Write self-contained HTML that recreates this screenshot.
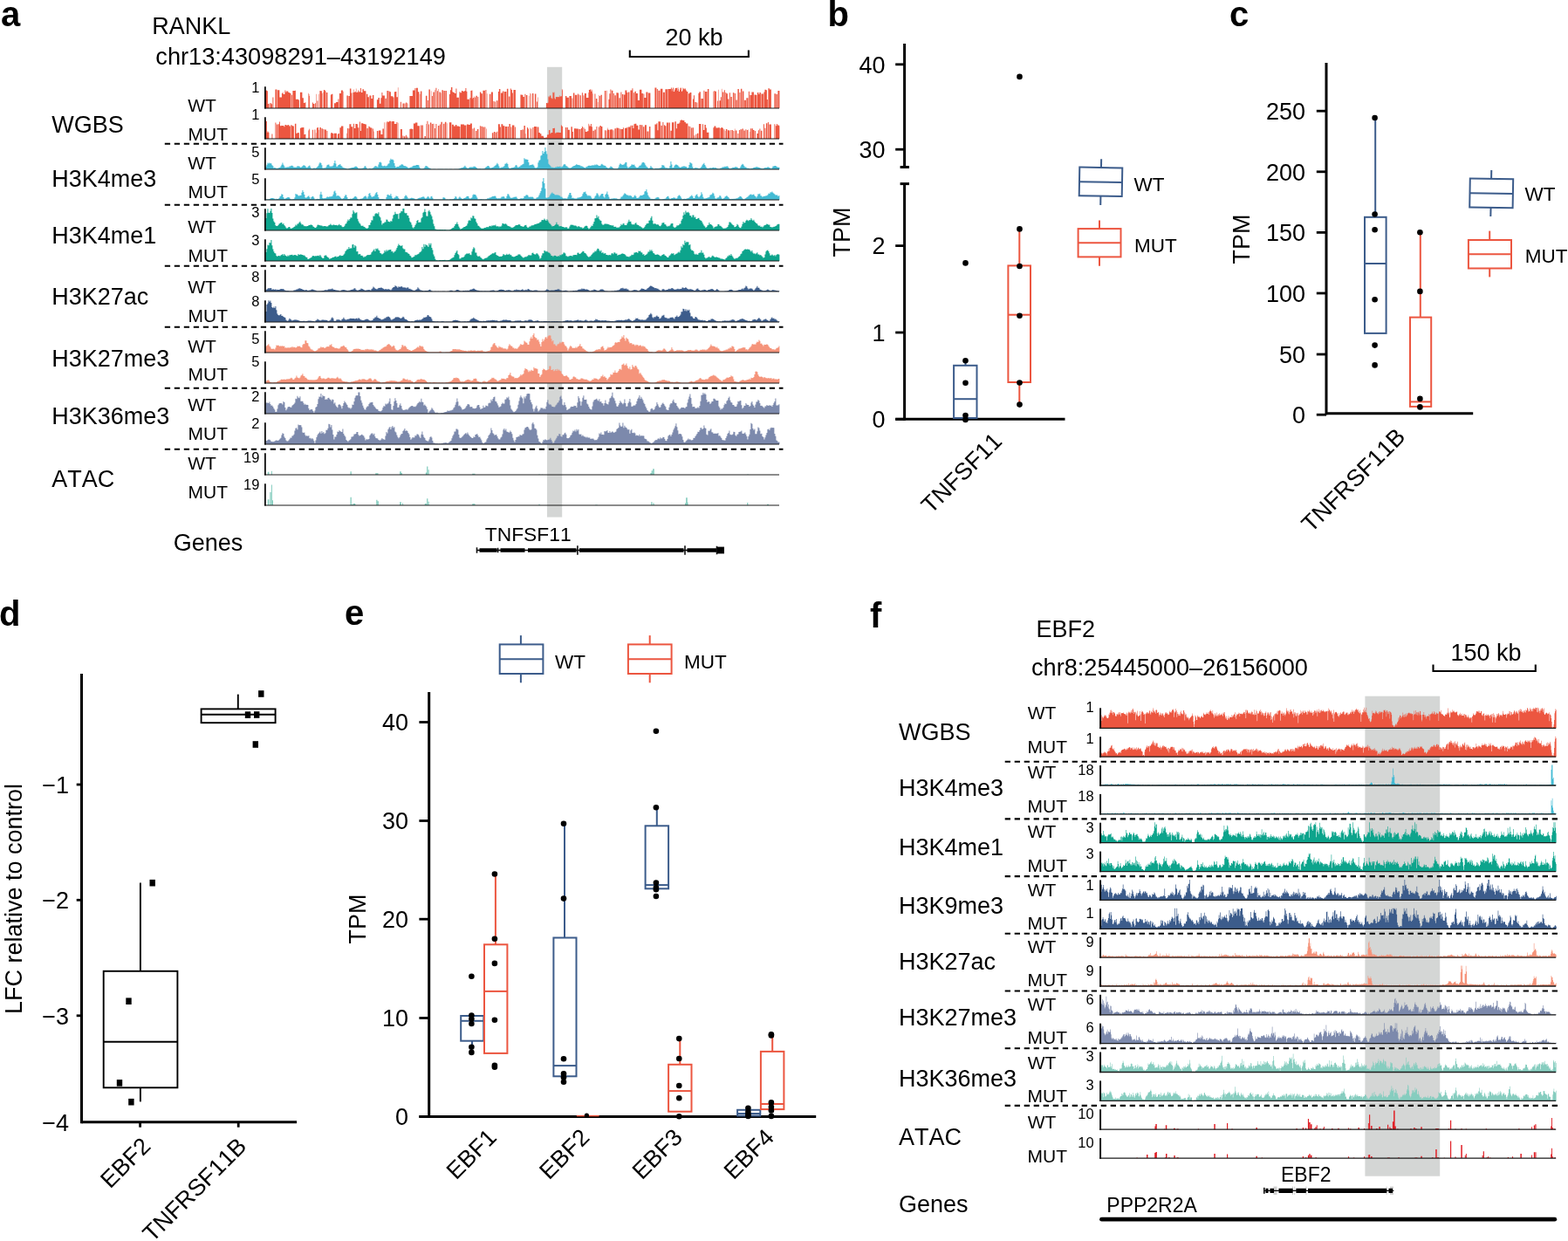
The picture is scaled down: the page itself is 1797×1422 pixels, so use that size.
<!DOCTYPE html>
<html lang="en"><head><meta charset="utf-8"><title>Figure</title>
<style>html,body{margin:0;padding:0;background:#fff}svg{display:block}text{fill:#000;font-kerning:none}</style>
</head><body>
<svg width="1797" height="1422" viewBox="0 0 1797 1422" font-family='"Liberation Sans", sans-serif'>
<text x="1" y="30" font-size="40" font-weight="bold">a</text>
<text x="948.5" y="30" font-size="40" font-weight="bold">b</text>
<text x="1409" y="30.3" font-size="40" font-weight="bold">c</text>
<text x="-1" y="717" font-size="40" font-weight="bold">d</text>
<text x="395" y="716" font-size="40" font-weight="bold">e</text>
<text x="997" y="719" font-size="40" font-weight="bold">f</text>
<rect x="627" y="76.8" width="17.2" height="515.8" fill="#D4D6D5"/>
<text x="174.3" y="39.4" font-size="27">RANKL</text>
<text x="178.3" y="73.6" font-size="27.2">chr13:43098291–43192149</text>
<text x="795.5" y="52" font-size="27" text-anchor="middle">20 kb</text>
<path d="M721.8,57.5V65H857.9V57.5" fill="none" stroke="#000" stroke-width="2.1"/>
<text x="59.2" y="152.3" font-size="27">WGBS</text>
<text x="59.2" y="213.8" font-size="27">H3K4me3</text>
<text x="59.2" y="278.9" font-size="27">H3K4me1</text>
<text x="59.2" y="349.4" font-size="27">H3K27ac</text>
<text x="59.2" y="419.5" font-size="27">H3K27me3</text>
<text x="59.2" y="486.3" font-size="27">H3K36me3</text>
<text x="59.2" y="557.8" font-size="27">ATAC</text>
<text x="198.8" y="631" font-size="27">Genes</text>
<text x="215.2" y="128.3" font-size="21">WT</text>
<text x="215.2" y="194" font-size="21">WT</text>
<text x="215.2" y="267" font-size="21">WT</text>
<text x="215.2" y="335.9" font-size="21">WT</text>
<text x="215.2" y="403.5" font-size="21">WT</text>
<text x="215.2" y="471" font-size="21">WT</text>
<text x="215.2" y="537.5" font-size="21">WT</text>
<text x="215.6" y="161.3" font-size="21">MUT</text>
<text x="215.6" y="227" font-size="21">MUT</text>
<text x="215.6" y="299.7" font-size="21">MUT</text>
<text x="215.6" y="368.5" font-size="21">MUT</text>
<text x="215.6" y="436.4" font-size="21">MUT</text>
<text x="215.6" y="504.2" font-size="21">MUT</text>
<text x="215.6" y="570.7" font-size="21">MUT</text>
<text x="297.4" y="105.8" font-size="16.5" text-anchor="end">1</text>
<text x="297.4" y="136.8" font-size="16.5" text-anchor="end">1</text>
<text x="297.4" y="180.2" font-size="16.5" text-anchor="end">5</text>
<text x="297.4" y="211" font-size="16.5" text-anchor="end">5</text>
<text x="297.4" y="249" font-size="16.5" text-anchor="end">3</text>
<text x="297.4" y="280.5" font-size="16.5" text-anchor="end">3</text>
<text x="297.4" y="323" font-size="16.5" text-anchor="end">8</text>
<text x="297.4" y="350.9" font-size="16.5" text-anchor="end">8</text>
<text x="297.4" y="393.5" font-size="16.5" text-anchor="end">5</text>
<text x="297.4" y="420.4" font-size="16.5" text-anchor="end">5</text>
<text x="297.4" y="459.6" font-size="16.5" text-anchor="end">2</text>
<text x="297.4" y="490.5" font-size="16.5" text-anchor="end">2</text>
<text x="297.4" y="529.5" font-size="16.5" text-anchor="end">19</text>
<text x="297.4" y="560.8" font-size="16.5" text-anchor="end">19</text>
<line x1="188.8" y1="164.8" x2="897.5" y2="164.8" stroke="#000" stroke-width="2.1" stroke-dasharray="6.3 4.7"/>
<line x1="188.8" y1="234.8" x2="897.5" y2="234.8" stroke="#000" stroke-width="2.1" stroke-dasharray="6.3 4.7"/>
<line x1="188.8" y1="304.8" x2="897.5" y2="304.8" stroke="#000" stroke-width="2.1" stroke-dasharray="6.3 4.7"/>
<line x1="188.8" y1="374.8" x2="897.5" y2="374.8" stroke="#000" stroke-width="2.1" stroke-dasharray="6.3 4.7"/>
<line x1="188.8" y1="444.8" x2="897.5" y2="444.8" stroke="#000" stroke-width="2.1" stroke-dasharray="6.3 4.7"/>
<line x1="188.8" y1="514.8" x2="897.5" y2="514.8" stroke="#000" stroke-width="2.1" stroke-dasharray="6.3 4.7"/>
<path d="M303.9,124V103.9H304.9V103.6H305.9V104.3H306.9V118.9H307.9V124H308.4V118.5H309.4V124H309.9V118.1H310.9V119.2H311.9V124H312.4V111.5H313.4V124H315.4V102.6H317.4V124H317.9V103.2H320.4V111.5H322.9V106.7H323.9V105.5H324.4V107.6H324.9V107.9H326.4V103.5H327.4V105.6H328.4V104.3H328.9V104.4H330.4V106.1H331.9V106.7H333.4V124H333.9V108.8H334.9V124H335.4V103.9H337.9V103.7H338.9V113.7H340.4V113.8H341.9V114.3H342.4V114.7H342.9V124H343.9V105.7H346.4V112.2H347.9V118.0H348.9V117.3H349.4V117.9H349.9V117.2H350.4V124H353.4V106.7H353.9V107.9H354.4V110.0H354.9V124H357.9V117.5H358.9V119.1H360.4V124H360.9V118.3H361.9V124H362.4V107.8H362.9V124H363.4V115.4H364.4V124H364.9V107.8H365.4V124H366.4V103.9H367.4V104.2H368.9V107.1H369.4V124H369.9V105.5H370.4V124H370.9V103.1H372.4V104.3H373.4V124H373.9V106.1H375.4V124H378.9V108.6H379.9V107.8H381.4V124H382.9V118.3H384.9V117.1H387.4V113.4H388.4V124H388.9V107.1H390.9V103.4H392.9V124H393.4V104.7H393.9V124H397.4V109.4H398.9V124H399.4V110.0H400.9V101.5H402.4V106.5H403.4V124H404.4V106.1H405.4V102.5H405.9V105.6H407.4V104.7H407.9V101.6H408.4V106.1H409.4V105.6H410.4V103.4H411.4V105.4H412.4V105.1H412.9V101.1H413.9V106.0H415.4V102.3H416.9V104.2H419.4V124H419.9V107.8H421.4V111.2H422.9V124H423.4V109.6H425.4V113.0H426.9V109.0H428.4V124H431.9V114.3H433.4V111.9H434.9V118.8H436.4V112.2H437.4V105.9H438.4V109.5H440.9V124H441.4V112.8H442.9V124H443.4V104.0H444.9V124H445.4V104.3H446.4V105.2H447.9V110.2H450.4V111.4H451.4V124H451.9V105.3H452.9V105.0H454.4V111.3H455.9V100.2H456.4V124H458.9V116.8H459.9V124H461.4V118.6H462.9V124H463.4V118.6H464.4V124H464.9V117.6H465.9V124H466.4V117.7H466.9V118.6H467.4V124H469.4V110.1H470.4V110.0H471.4V109.9H472.9V103.5H475.4V101.1H476.4V124H476.9V100.7H478.9V105.2H480.4V124H480.9V107.8H481.4V124H481.9V104.5H483.4V124H487.9V109.8H489.4V124H489.9V115.0H490.9V124H491.4V102.5H492.9V124H493.9V104.3H494.4V124H494.9V110.1H495.9V124H496.4V105.5H497.9V124H498.4V102.9H498.9V124H499.4V100.7H500.4V124H500.9V104.3H501.9V124H502.4V101.9H502.9V124H503.4V105.5H504.9V124H505.4V106.4H505.9V124H506.4V103.2H507.9V124H508.4V104.1H509.9V124H510.4V104.1H511.9V124H514.9V108.0H515.9V103.2H516.9V99.9H518.4V105.2H519.4V105.9H520.9V106.9H522.4V101.4H523.4V111.7H525.9V124H526.4V105.3H527.4V106.3H528.9V104.1H530.4V104.8H532.4V104.0H533.4V100.9H534.4V104.8H535.4V113.8H537.9V124H538.4V112.3H539.4V104.1H540.4V103.6H541.4V113.3H541.9V111.9H542.9V110.3H543.4V124H543.9V111.6H544.9V124H545.4V109.7H546.9V124H547.4V110.9H548.4V124H549.9V105.6H551.4V107.3H552.9V124H553.4V103.7H555.9V124H556.4V102.9H557.4V124H557.9V107.2H558.4V124H560.9V107.7H562.4V124H562.9V105.5H564.9V124H565.4V115.9H566.4V124H566.9V116.5H567.9V124H568.9V115.2H570.4V124H570.9V104.9H571.9V102.0H573.4V124H573.9V106.4H575.9V104.6H577.4V124H577.9V104.9H580.4V124H580.9V101.7H582.4V124H582.9V110.5H584.4V124H584.9V101.6H585.9V103.0H586.9V106.6H587.9V124H588.4V103.1H590.9V124H596.4V108.6H597.9V108.7H599.4V111.1H600.9V124H601.4V107.8H602.4V124H602.9V108.9H604.4V124H605.9V109.8H606.4V124H607.4V106.7H607.9V124H608.4V107.5H608.9V124H609.9V106.9H611.4V124H612.9V107.6H614.4V124H614.9V116.6H615.9V124H616.4V111.5H616.9V124H625.9V117.9H626.4V118.0H626.9V118.4H627.4V117.8H628.4V110.5H629.4V111.6H629.9V109.4H631.4V112.3H632.4V113.3H633.4V105.7H634.4V106.4H634.9V105.6H635.4V112.4H635.9V113.4H636.9V111.1H637.4V110.9H637.9V111.2H638.9V111.1H640.4V111.5H640.9V109.3H641.4V110.8H642.4V110.2H643.9V102.0H644.4V103.3H644.9V124H647.9V109.9H649.4V111.8H651.9V124H652.4V109.9H654.9V124H655.4V112.5H656.4V124H656.9V106.5H658.4V124H658.9V108.8H661.4V124H661.9V107.6H662.9V124H663.4V108.4H664.4V124H664.9V109.2H665.9V124H666.9V106.2H667.9V124H668.4V109.3H669.4V124H669.9V106.9H671.9V111.9H674.4V106.0H674.9V103.0H675.9V102.5H677.4V104.8H678.4V102.8H678.9V124H679.4V107.2H679.9V124H681.4V107.5H682.4V124H682.9V113.1H684.4V124H684.9V117.0H685.4V124H685.9V109.0H686.4V124H686.9V110.0H687.9V124H688.4V108.7H689.9V124H692.9V104.0H694.4V124H695.4V103.7H695.9V124H697.4V113.7H698.4V107.2H699.4V102.4H700.4V124H700.9V103.8H702.4V124H702.9V107.1H703.9V124H704.4V109.2H705.9V124H706.4V106.2H707.9V106.5H708.9V124H709.4V112.2H710.9V124H711.4V105.6H712.4V124H712.9V108.0H714.4V124H714.9V108.5H716.4V103.6H718.4V105.9H719.4V124H719.9V105.6H721.4V124H722.4V103.4H724.4V101.2H725.4V124H725.9V106.3H726.9V124H727.4V104.7H728.9V107.0H730.9V115.0H732.9V102.7H735.4V106.9H736.9V124H737.4V107.6H738.4V111.9H740.4V105.5H742.4V124H742.9V106.5H745.4V124H750.4V100.6H752.4V124H752.9V102.1H753.9V124H754.4V103.8H756.4V124H756.9V101.8H759.4V124H759.9V105.7H761.9V124H762.4V102.2H764.9V124H765.4V102.0H766.9V102.1H768.9V100.5H769.9V104.6H770.4V101.9H770.9V100.6H771.9V105.0H772.9V101.2H773.4V103.3H773.9V100.9H774.9V100.8H776.4V104.0H776.9V100.3H777.4V102.3H777.9V105.1H778.9V102.9H779.4V100.8H780.4V100.4H780.9V104.7H781.9V103.8H782.4V100.5H782.9V101.5H783.9V102.6H784.4V101.6H785.9V103.6H786.9V105.1H788.4V124H788.9V107.3H790.4V106.0H792.4V124H793.9V113.4H794.9V109.2H795.9V124H796.4V117.1H797.9V124H798.4V117.6H799.4V124H800.4V106.8H801.4V105.3H802.9V124H803.4V113.0H805.9V124H806.4V103.8H807.4V124H807.9V105.0H810.4V124H810.9V101.9H812.4V124H817.4V104.7H817.9V124H818.4V104.0H819.4V104.7H820.9V124H821.9V115.4H822.9V124H823.4V102.7H823.9V124H824.4V115.2H825.9V111.3H826.9V101.7H827.4V124H827.9V105.6H829.4V124H829.9V103.2H830.9V124H831.4V105.9H832.4V107.2H833.9V113.6H835.4V124H835.9V106.3H836.9V124H837.4V110.9H838.9V124H839.9V106.3H841.4V124H841.9V107.1H842.9V124H843.4V114.4H844.9V124H845.4V102.0H846.9V124H847.4V106.0H848.4V124H848.9V101.7H850.4V124H850.9V104.6H852.4V124H852.9V114.8H854.9V124H855.4V112.2H857.4V124H857.9V104.8H858.9V124H859.4V109.1H861.4V105.6H863.9V124H864.4V108.5H865.9V108.7H867.4V124H867.9V106.1H869.4V108.0H870.4V106.0H871.9V124H872.4V107.4H874.9V124H875.4V105.6H876.4V102.7H877.9V103.3H878.9V113.9H879.9V124H880.4V101.3H881.9V102.5H883.9V124H887.4V107.2H888.9V124H889.4V107.9H890.9V124H891.4V103.9H893.4V124Z" fill="#EC5640"/>
<line x1="303.09999999999997" y1="124" x2="893.0" y2="124" stroke="#1a1a1a" stroke-width="1.15"/>
<line x1="303.9" y1="99.3" x2="303.9" y2="124.6" stroke="#000" stroke-width="1.7"/>
<path d="M303.9,159V136.9H304.4V138.5H304.9V139.1H305.9V152.1H306.4V150.6H307.4V151.6H307.9V151.9H308.4V159H311.4V153.5H312.4V159H315.4V140.6H316.4V159H316.9V142.5H318.4V159H318.9V142.2H319.9V139.2H320.4V139.7H320.9V144.3H322.4V143.7H322.9V144.0H323.9V144.1H325.4V145.3H326.4V142.9H327.9V143.4H328.9V143.9H329.4V143.1H330.4V143.2H331.4V144.4H332.9V159H333.4V143.1H334.4V144.0H335.4V144.4H336.9V159H337.9V141.8H339.4V152.7H340.9V151.9H342.4V152.6H342.9V159H343.9V146.8H344.9V146.3H346.4V146.1H348.4V154.2H348.9V153.9H349.4V153.7H350.4V159H353.4V149.4H353.9V148.6H354.4V147.6H354.9V159H357.9V148.8H358.9V159H360.4V148.4H361.4V159H361.9V152.3H362.4V159H362.9V146.9H363.4V146.1H364.9V159H365.4V148.8H365.9V159H366.4V146.1H367.9V159H368.4V147.2H369.9V159H370.4V147.9H371.4V159H371.9V148.4H373.9V159H374.4V150.0H375.4V159H378.9V153.3H379.4V152.0H380.9V153.0H382.4V159H382.9V152.7H385.9V159H386.9V154.0H387.4V153.0H388.9V159H389.4V146.3H390.9V144.6H393.4V159H397.4V152.8H397.9V147.1H398.9V159H399.4V147.2H400.4V142.3H402.4V145.2H404.4V159H404.9V141.8H405.9V147.1H407.4V142.1H408.9V142.2H409.9V146.2H411.4V159H411.9V139.4H412.9V150.0H413.9V141.3H416.4V142.1H418.4V142.5H419.9V159H420.4V147.1H421.9V159H422.4V144.7H423.4V145.4H424.4V146.6H426.4V159H426.9V147.4H427.9V159H428.4V150.6H428.9V159H431.9V149.9H433.4V159H433.9V149.4H435.4V149.5H436.4V154.1H438.4V147.6H439.9V159H440.4V140.2H440.9V159H441.9V140.2H442.4V159H443.4V139.2H444.4V139.8H445.9V138.8H447.9V159H448.4V139.2H449.4V139.1H451.9V142.0H454.4V140.1H455.4V159H455.9V140.7H456.4V159H458.9V147.9H460.9V159H461.4V155.6H462.4V159H462.9V156.2H464.4V159H464.9V154.7H465.9V159H466.4V156.5H467.4V159H469.4V148.0H470.4V147.6H471.9V148.1H473.4V159H473.9V141.4H475.9V140.5H478.4V144.2H480.9V159H481.9V143.4H482.9V159H483.4V143.4H484.9V159H486.4V156.1H487.9V159H488.4V142.0H488.9V159H489.4V138.8H490.4V159H490.9V142.6H491.9V159H492.9V140.6H494.4V159H494.9V142.0H495.9V159H496.4V141.7H497.4V159H497.9V147.0H498.9V159H499.4V142.1H500.4V159H501.9V143.9H503.4V159H503.9V142.6H504.9V159H505.4V139.7H506.9V159H507.9V141.8H509.4V159H509.9V139.8H511.4V159H511.9V141.2H512.4V159H514.9V140.2H517.4V159H517.9V142.8H519.9V144.4H521.9V143.0H523.4V144.4H525.9V145.0H527.4V159H527.9V142.5H530.4V142.4H531.9V143.5H534.4V159H534.9V142.4H536.9V143.0H538.9V141.5H540.9V159H541.4V147.5H542.4V159H542.9V146.6H543.9V159H544.9V150.1H546.4V159H546.9V148.1H548.4V159H549.9V144.2H550.9V159H551.4V144.7H552.9V159H553.4V145.6H554.9V159H555.4V145.4H556.4V159H557.4V147.4H557.9V159H563.9V152.2H565.4V159H565.9V150.9H567.4V159H567.9V151.7H568.9V159H569.4V150.7H570.4V159H570.9V142.2H572.9V145.5H573.9V159H574.4V142.3H576.4V144.3H578.4V159H578.9V144.9H581.4V159H581.9V145.0H582.9V159H583.4V142.1H584.9V159H585.4V145.4H586.4V159H586.9V143.6H589.4V159H589.9V145.5H590.9V159H596.4V149.1H597.9V159H598.4V148.4H599.9V159H600.4V144.0H601.9V153.3H602.4V159H603.9V146.1H604.9V147.5H605.9V159H607.4V146.6H607.9V159H608.4V147.5H609.4V159H610.4V145.9H611.4V159H611.9V144.9H612.9V145.1H614.4V145.3H615.4V159H615.9V145.4H617.4V152.0H618.9V153.2H620.4V155.7H622.9V157.6H623.4V157.8H623.9V157.9H624.9V157.7H625.4V157.6H626.9V154.9H627.4V153.9H627.9V154.2H628.9V149.2H629.4V149.1H630.4V153.3H631.4V152.1H633.4V146.9H634.9V146.7H635.9V152.6H637.4V151.8H639.9V151.7H640.9V152.0H642.9V143.4H643.9V144.7H644.9V159H647.9V145.9H649.4V159H649.9V145.9H650.9V148.7H652.9V159H654.4V145.2H655.9V151.1H656.9V159H657.9V147.3H660.4V147.5H662.9V159H663.4V148.0H665.4V159H665.9V147.1H666.9V145.0H667.9V159H668.4V146.3H669.4V159H669.9V147.8H670.9V150.9H672.9V150.2H674.4V141.7H674.9V142.5H675.4V144.5H676.9V141.9H677.9V145.3H678.9V159H679.4V149.8H680.9V159H681.4V148.5H682.9V159H683.4V145.1H684.4V159H685.9V145.5H686.9V159H687.4V143.9H688.9V145.1H690.4V159H692.9V149.2H693.9V159H694.4V149.6H695.4V159H695.9V148.3H696.4V146.6H696.9V148.8H698.4V159H698.9V148.4H700.4V148.3H701.9V159H702.4V149.2H703.4V159H704.4V147.2H705.9V159H706.4V146.5H707.9V146.8H709.4V159H709.9V147.5H710.9V159H711.4V147.9H712.9V148.0H713.9V146.3H714.9V159H715.9V146.7H718.4V145.8H719.4V159H719.9V145.4H722.4V143.7H723.4V159H723.9V143.7H725.4V147.1H726.4V142.2H727.4V141.8H729.4V143.7H731.4V148.4H732.9V142.9H734.4V159H734.9V143.2H736.4V159H736.9V145.2H738.4V159H738.9V143.2H740.9V159H741.4V150.5H743.4V159H743.9V144.9H745.4V159H750.4V142.6H752.4V141.3H753.4V149.3H754.4V139.2H756.9V159H757.4V143.7H758.9V159H759.4V140.0H760.4V159H760.9V143.3H761.9V144.3H763.4V159H763.9V140.5H765.9V159H766.4V140.6H767.9V159H768.4V149.8H769.9V140.3H772.4V159H773.4V139.2H774.9V147.3H775.9V141.8H778.4V140.4H779.4V137.7H780.9V137.2H781.9V138.1H784.4V140.0H785.9V141.5H788.4V159H788.9V144.4H789.9V159H790.4V145.1H791.4V159H791.9V146.5H792.9V159H793.4V146.2H794.9V159H795.4V155.3H796.4V159H797.4V153.8H798.4V159H798.9V152.7H800.4V159H800.9V142.0H803.4V159H804.9V142.2H805.9V149.0H807.4V143.0H808.9V146.5H809.9V151.7H812.4V159H817.4V146.3H818.4V144.6H820.4V146.5H822.9V146.2H824.9V159H825.4V147.1H826.4V146.0H827.9V146.8H828.9V159H829.4V148.2H830.4V159H830.9V150.0H831.4V159H831.9V148.0H833.4V159H833.9V149.2H835.4V149.6H836.4V159H837.4V148.9H838.4V159H838.9V149.1H839.9V159H840.4V149.9H841.4V159H841.9V147.5H842.4V159H842.9V149.4H844.4V159H845.4V152.9H846.4V159H846.9V149.1H847.9V159H848.4V148.3H849.9V159H850.4V147.4H851.9V159H852.4V149.6H853.9V159H854.4V148.2H855.4V159H855.9V148.9H856.9V159H857.4V148.4H857.9V159H858.9V150.9H859.4V159H859.9V147.3H860.9V159H861.4V147.3H862.9V149.1H864.4V159H864.9V149.9H865.9V159H867.4V153.1H868.9V149.3H869.9V159H870.4V147.4H871.4V159H871.9V149.7H873.4V159H874.9V142.3H875.9V159H876.4V146.8H877.4V159H877.9V141.3H879.4V159H879.9V139.9H880.9V159H881.4V142.5H883.9V159H887.4V142.3H888.4V159H888.9V144.2H889.9V141.9H890.9V143.6H892.9V144.2H893.4V159Z" fill="#EC5640"/>
<line x1="303.09999999999997" y1="159" x2="893.0" y2="159" stroke="#1a1a1a" stroke-width="1.15"/>
<line x1="303.9" y1="134.3" x2="303.9" y2="159.6" stroke="#000" stroke-width="1.7"/>
<path d="M304.4,194V191.0H305.4V188.8H306.4V186.6H307.4V187.4H308.4V186.4H309.4V187.2H310.4V187.3H311.4V189.2H312.4V190.2H313.4V192.4H314.4V192.1H315.4V192.5H316.4V193.1H317.4V192.7H319.4V191.9H320.4V192.0H321.4V190.5H322.4V188.8H323.4V186.6H324.4V188.7H325.4V190.4H326.4V192.2H327.4V191.4H328.4V191.7H329.4V191.3H330.4V191.5H331.4V190.6H332.4V190.5H333.4V189.7H334.4V189.8H335.4V190.6H336.4V191.7H337.4V191.6H338.4V191.8H339.4V191.6H340.4V190.2H341.4V190.5H342.4V190.4H343.4V191.2H344.4V192.0H345.4V190.9H346.4V190.2H347.4V189.3H348.4V189.4H349.4V190.2H350.4V191.4H351.4V192.3H352.4V191.2H353.4V190.2H354.4V189.5H355.4V191.6H356.4V193.2H358.4V193.0H359.4V192.3H360.4V192.7H362.4V191.9H363.4V191.0H364.4V189.8H365.4V187.4H366.4V186.1H367.4V187.0H368.4V189.3H369.4V192.5H370.4V192.8H371.4V192.3H372.4V192.4H373.4V191.2H374.4V189.2H375.4V188.8H376.4V188.6H377.4V190.6H378.4V190.8H379.4V190.5H380.4V190.6H381.4V189.6H382.4V187.1H383.4V184.0H384.4V187.4H385.4V191.0H386.4V190.4H387.4V189.0H388.4V188.7H389.4V187.9H390.4V189.7H391.4V190.6H392.4V191.7H393.4V192.3H394.4V192.6H395.4V192.7H396.4V193.0H397.4V193.4H398.4V193.6H399.4V193.1H400.4V192.7H401.4V192.5H402.4V192.2H403.4V192.1H404.4V191.9H405.4V191.4H406.4V190.9H407.4V190.4H408.4V191.0H409.4V192.1H410.4V193.2H411.4V193.0H413.4V193.3H414.4V192.7H415.4V192.8H416.4V192.2H417.4V190.4H418.4V190.2H419.4V192.0H420.4V193.5H421.4V193.4H422.4V193.3H423.4V192.8H424.4V193.2H426.4V192.7H427.4V192.3H428.4V191.2H429.4V190.3H430.4V190.2H431.4V190.7H432.4V191.4H433.4V188.5H434.4V185.9H435.4V185.5H436.4V186.5H437.4V189.7H438.4V190.6H439.4V190.2H440.4V189.8H441.4V190.4H442.4V190.3H443.4V189.5H444.4V187.8H445.4V187.2H446.4V183.7H447.4V181.8H448.4V183.0H449.4V182.6H450.4V183.6H451.4V187.0H452.4V190.2H453.4V192.0H454.4V191.1H457.4V189.8H458.4V189.4H459.4V188.6H460.4V188.2H461.4V188.8H462.4V190.0H463.4V190.2H464.4V190.3H465.4V190.9H466.4V191.4H467.4V192.4H468.4V192.5H469.4V192.1H470.4V191.5H472.4V190.4H473.4V190.1H474.4V189.4H475.4V190.0H476.4V188.9H477.4V189.1H478.4V188.9H479.4V189.3H480.4V191.4H481.4V193.0H482.4V193.4H483.4V193.3H484.4V193.2H485.4V192.8H486.4V191.6H487.4V189.9H488.4V190.2H489.4V190.8H490.4V191.8H491.4V192.5H492.4V192.8H493.4V193.5H494.4V193.9H495.4V193.8H499.4V193.9H501.4V193.8H502.4V193.7H503.4V193.8H504.4V193.7H506.4V193.8H508.4V193.9H509.4V193.8H513.4V193.9H514.4V193.8H516.4V193.7H518.4V193.9H520.4V193.8H525.4V193.5H526.4V193.1H527.4V192.7H528.4V192.3H530.4V191.7H531.4V191.1H532.4V189.8H533.4V191.2H534.4V192.2H535.4V192.7H537.4V191.8H538.4V191.6H539.4V191.4H540.4V191.5H541.4V191.6H542.4V190.7H543.4V190.8H544.4V191.0H545.4V191.9H546.4V192.8H547.4V193.4H548.4V193.3H549.4V193.2H551.4V193.5H552.4V193.4H553.4V193.3H554.4V193.4H555.4V192.6H556.4V191.6H557.4V190.9H558.4V190.1H559.4V190.0H560.4V191.3H561.4V192.4H563.4V192.0H564.4V191.8H565.4V191.2H566.4V190.2H567.4V189.5H568.4V188.6H569.4V186.7H570.4V188.2H571.4V190.6H572.4V192.4H573.4V192.2H574.4V191.6H575.4V191.7H576.4V191.1H577.4V190.2H578.4V187.7H579.4V187.6H580.4V186.6H581.4V188.0H582.4V191.4H583.4V193.0H585.4V192.2H587.4V191.9H588.4V191.8H589.4V191.2H590.4V189.5H591.4V189.1H592.4V190.7H593.4V192.1H594.4V191.0H595.4V190.7H596.4V189.6H597.4V189.3H598.4V188.2H599.4V187.7H600.4V181.3H601.4V182.4H602.4V182.5H603.4V182.8H604.4V182.9H605.4V186.1H606.4V189.4H607.4V189.0H608.4V188.9H609.4V188.4H610.4V188.5H611.4V189.8H612.4V191.7H613.4V192.6H614.4V192.3H615.4V191.5H616.4V186.3H617.4V184.0H618.4V183.3H619.4V178.5H620.4V177.8H621.4V172.9H622.4V176.1H623.4V174.0H624.4V169H625.4V173.3H626.4V176.6H627.4V182.6H628.4V187.7H629.4V188.9H630.4V190.3H631.4V191.4H632.4V191.8H633.4V191.7H634.4V192.3H635.4V191.9H636.4V191.3H637.4V191.6H638.4V190.7H639.4V190.9H640.4V191.1H641.4V190.6H642.4V191.6H643.4V191.3H644.4V190.6H645.4V188.7H646.4V187.9H647.4V188.5H648.4V190.2H649.4V190.6H650.4V191.6H651.4V192.2H652.4V192.5H653.4V192.4H654.4V191.9H655.4V191.0H656.4V190.6H657.4V190.1H658.4V189.8H659.4V189.0H660.4V188.1H661.4V188.9H663.4V189.3H664.4V189.5H665.4V190.4H666.4V190.2H667.4V191.0H668.4V191.4H669.4V192.0H670.4V192.4H671.4V190.9H672.4V191.2H673.4V189.9H674.4V189.7H675.4V189.8H676.4V190.1H677.4V189.4H678.4V189.5H679.4V189.3H680.4V189.5H681.4V188.4H682.4V189.3H683.4V188.2H684.4V189.1H685.4V189.7H686.4V189.9H687.4V190.0H688.4V188.5H689.4V187.8H690.4V188.8H691.4V189.5H692.4V189.7H693.4V190.1H694.4V191.5H695.4V192.1H696.4V192.8H697.4V192.5H698.4V191.7H699.4V190.4H700.4V190.9H701.4V191.7H702.4V192.8H703.4V193.2H704.4V193.3H705.4V193.2H707.4V193.0H708.4V191.5H709.4V188.7H710.4V187.2H711.4V188.1H712.4V189.0H713.4V188.8H714.4V188.5H715.4V187.4H716.4V186.0H717.4V186.1H718.4V190.7H719.4V192.6H720.4V191.6H721.4V191.0H722.4V189.9H723.4V188.5H724.4V188.4H725.4V189.1H726.4V188.6H727.4V190.5H728.4V191.4H729.4V192.2H730.4V192.0H731.4V191.2H732.4V189.8H733.4V189.7H734.4V188.6H735.4V186.4H736.4V186.1H738.4V187.3H739.4V189.2H740.4V190.7H741.4V191.6H742.4V192.5H743.4V192.9H744.4V192.0H745.4V190.0H746.4V191.4H747.4V192.2H748.4V193.4H750.4V193.1H751.4V192.8H752.4V192.9H753.4V192.7H754.4V192.9H755.4V192.6H757.4V191.7H758.4V188.9H759.4V189.6H760.4V189.5H761.4V191.3H762.4V192.4H763.4V192.2H764.4V192.5H765.4V192.7H766.4V192.5H767.4V190.0H768.4V184.9H769.4V188.5H770.4V192.3H771.4V192.0H772.4V190.3H773.4V189.0H774.4V188.2H775.4V188.9H776.4V189.5H777.4V190.8H778.4V191.4H779.4V192.0H780.4V191.2H781.4V191.0H782.4V190.6H783.4V190.4H785.4V191.1H786.4V191.2H787.4V192.7H788.4V191.9H789.4V188.9H790.4V186.1H791.4V186.7H792.4V187.5H793.4V191.2H794.4V193.1H795.4V192.8H796.4V192.1H797.4V192.4H798.4V192.3H799.4V192.8H800.4V192.9H801.4V193.1H802.4V192.3H803.4V190.9H804.4V189.3H805.4V187.9H806.4V186.8H807.4V188.9H808.4V190.7H809.4V192.2H810.4V192.9H811.4V192.8H812.4V192.7H813.4V192.3H814.4V192.4H816.4V192.0H817.4V191.8H818.4V192.4H819.4V192.1H820.4V192.4H821.4V193.0H822.4V193.2H823.4V193.4H824.4V193.2H825.4V192.6H826.4V192.4H827.4V191.5H829.4V191.2H830.4V190.7H831.4V190.9H832.4V190.6H833.4V190.4H834.4V191.7H835.4V193.0H836.4V193.3H837.4V192.8H838.4V192.4H839.4V191.8H840.4V191.9H841.4V191.7H842.4V191.1H843.4V191.5H844.4V191.6H845.4V192.5H846.4V193.1H847.4V192.4H848.4V190.8H849.4V188.9H850.4V187.7H851.4V188.5H852.4V190.3H853.4V191.5H854.4V191.6H855.4V192.4H856.4V192.8H857.4V192.7H858.4V192.9H859.4V193.5H860.4V192.8H861.4V193.1H862.4V192.5H863.4V192.0H864.4V191.8H865.4V191.7H866.4V190.9H867.4V191.4H869.4V191.9H870.4V192.3H871.4V192.8H872.4V193.1H873.4V193.2H874.4V193.1H875.4V192.4H876.4V192.0H877.4V192.3H878.4V192.0H879.4V191.2H880.4V191.5H881.4V192.3H882.4V192.6H883.4V193.6H884.4V192.2H885.4V190.6H886.4V190.5H887.4V190.0H888.4V190.1H889.4V190.8H890.4V191.6H891.4V191.8H892.4V191.7H893.4V194Z" fill="#43BBD4"/>
<line x1="303.09999999999997" y1="194" x2="893.0" y2="194" stroke="#1a1a1a" stroke-width="1.15"/>
<line x1="303.9" y1="169.3" x2="303.9" y2="194.6" stroke="#000" stroke-width="1.7"/>
<path d="M304.4,229V228.4H306.4V228.3H307.4V228.4H308.4V227.9H309.4V227.4H310.4V227.0H312.4V227.1H313.4V227.4H314.4V227.8H315.4V228.5H316.4V227.8H317.4V227.9H319.4V227.0H320.4V225.3H321.4V224.6H322.4V222.3H323.4V223.1H324.4V226.1H325.4V227.8H326.4V227.7H327.4V227.0H328.4V226.4H329.4V226.0H330.4V225.9H331.4V226.6H332.4V228.1H333.4V228.6H334.4V228.4H335.4V228.2H336.4V227.9H337.4V226.2H338.4V221.9H339.4V222.8H341.4V224.3H342.4V224.4H343.4V223.8H344.4V224.0H345.4V220.8H346.4V218.0H347.4V219.9H348.4V222.9H349.4V226.2H350.4V226.7H351.4V226.1H352.4V224.9H353.4V224.2H354.4V226.1H355.4V228.1H356.4V225.9H357.4V224.9H358.4V225.0H359.4V226.6H360.4V228.4H362.4V227.9H363.4V227.7H364.4V227.9H366.4V222.7H367.4V219.7H368.4V222.9H369.4V227.0H370.4V227.6H371.4V227.0H372.4V227.2H373.4V226.5H374.4V225.6H376.4V226.1H377.4V225.0H378.4V225.5H379.4V225.1H380.4V224.7H381.4V222.7H382.4V219.6H383.4V218.5H384.4V221.3H385.4V224.7H386.4V224.0H387.4V224.2H388.4V224.7H389.4V225.8H390.4V226.9H391.4V228.3H392.4V227.5H393.4V226.9H394.4V224.9H395.4V223.2H396.4V223.5H397.4V226.1H398.4V227.9H399.4V228.0H401.4V227.5H402.4V227.9H403.4V227.5H404.4V227.0H405.4V225.7H406.4V225.1H408.4V226.2H409.4V228.0H410.4V228.5H411.4V228.4H412.4V227.9H413.4V227.6H414.4V227.8H415.4V227.1H416.4V225.8H417.4V225.0H418.4V224.2H419.4V225.6H420.4V227.6H421.4V225.3H422.4V221.9H423.4V221.1H424.4V223.7H425.4V225.5H426.4V225.8H427.4V225.0H428.4V224.7H429.4V222.8H430.4V221.0H431.4V220.0H432.4V222.9H433.4V226.1H434.4V228.0H435.4V227.9H436.4V228.1H437.4V227.9H438.4V228.0H439.4V228.2H440.4V228.4H441.4V228.5H442.4V225.9H443.4V223.3H444.4V222.8H445.4V223.7H446.4V223.9H447.4V222.0H448.4V224.8H449.4V227.0H450.4V227.7H451.4V226.5H452.4V226.3H453.4V224.5H454.4V224.8H455.4V225.2H456.4V227.1H457.4V228.5H458.4V228.4H459.4V228.3H461.4V227.6H462.4V227.4H463.4V225.0H464.4V223.4H465.4V224.2H466.4V225.7H467.4V227.4H468.4V227.6H469.4V227.5H470.4V226.9H471.4V226.5H472.4V227.0H473.4V227.2H474.4V227.6H475.4V228.2H476.4V228.5H477.4V228.3H478.4V227.6H479.4V227.0H480.4V226.6H481.4V226.7H482.4V226.1H483.4V225.7H484.4V225.2H485.4V225.6H486.4V226.8H487.4V227.7H488.4V226.7H489.4V225.6H490.4V225.0H491.4V226.5H492.4V227.4H493.4V225.2H494.4V224.8H495.4V226.8H496.4V228.6H499.4V228.5H501.4V228.4H502.4V228.5H503.4V228.4H504.4V228.6H505.4V228.5H507.4V226.2H509.4V226.8H510.4V228.4H512.4V228.5H513.4V228.4H514.4V228.7H515.4V228.1H516.4V228.5H517.4V228.2H519.4V228.1H520.4V226.9H521.4V225.1H522.4V225.6H523.4V227.6H524.4V228.0H525.4V226.5H526.4V225.3H527.4V226.5H528.4V227.2H529.4V228.1H530.4V227.8H531.4V227.0H532.4V226.7H533.4V226.2H534.4V224.9H535.4V224.7H536.4V225.1H537.4V226.9H538.4V227.7H539.4V227.0H540.4V226.2H541.4V223.5H542.4V222.4H543.4V223.1H544.4V223.0H545.4V224.4H546.4V226.5H547.4V228.4H549.4V228.3H550.4V228.2H551.4V228.1H552.4V228.5H553.4V228.3H554.4V228.4H556.4V228.2H558.4V227.1H559.4V227.4H560.4V226.6H561.4V226.5H562.4V225.9H563.4V225.2H564.4V225.1H565.4V224.9H566.4V224.6H567.4V224.7H568.4V226.7H569.4V227.3H570.4V227.6H571.4V226.9H572.4V227.4H573.4V226.7H574.4V225.6H575.4V225.4H576.4V224.9H577.4V225.4H578.4V227.2H580.4V224.7H581.4V222.3H582.4V222.6H583.4V224.6H584.4V226.2H585.4V226.9H586.4V226.5H587.4V226.4H588.4V225.7H589.4V225.8H590.4V225.6H591.4V225.5H592.4V227.2H593.4V228.3H594.4V227.9H595.4V227.7H596.4V227.3H597.4V227.2H598.4V227.5H599.4V226.9H600.4V224.7H602.4V223.5H603.4V223.3H604.4V223.7H605.4V225.4H606.4V225.9H607.4V225.3H608.4V226.0H609.4V225.3H610.4V226.0H611.4V227.6H612.4V227.8H613.4V227.7H614.4V226.6H615.4V226.3H616.4V225.6H617.4V223.6H618.4V221.2H619.4V219.1H620.4V215.2H621.4V208.1H622.4V204H623.4V210.1H624.4V216.2H625.4V226.6H626.4V226.8H627.4V226.3H628.4V226.1H629.4V224.6H630.4V222.8H631.4V221.6H632.4V220.5H633.4V221.7H634.4V222.0H635.4V223.2H636.4V223.6H637.4V223.2H638.4V223.6H640.4V223.9H641.4V224.5H642.4V225.7H643.4V225.5H644.4V226.7H645.4V227.4H646.4V227.2H648.4V227.6H650.4V225.5H651.4V223.3H652.4V220.9H653.4V221.0H654.4V223.8H655.4V227.0H656.4V226.6H657.4V227.2H658.4V227.4H660.4V227.6H661.4V226.5H663.4V226.3H664.4V226.0H665.4V225.4H666.4V224.8H667.4V222.2H668.4V220.2H669.4V220.3H670.4V219.5H671.4V222.1H672.4V223.5H673.4V224.4H674.4V223.7H675.4V224.4H676.4V224.6H677.4V226.5H678.4V227.7H679.4V227.8H680.4V227.0H681.4V225.2H682.4V224.0H683.4V221.5H684.4V221.4H685.4V223.5H686.4V225.6H687.4V224.1H688.4V222.6H689.4V222.0H690.4V222.1H691.4V225.2H692.4V226.5H693.4V223.1H694.4V221.8H695.4V219.6H696.4V222.9H697.4V225.4H698.4V227.7H699.4V227.9H700.4V227.4H701.4V227.6H703.4V227.0H704.4V227.5H705.4V227.2H706.4V227.4H707.4V227.9H708.4V228.2H709.4V228.3H710.4V227.6H711.4V225.6H712.4V225.5H713.4V224.2H714.4V222.8H715.4V221.2H716.4V222.1H717.4V223.0H718.4V223.8H719.4V223.6H720.4V224.4H721.4V223.8H722.4V224.2H723.4V224.8H724.4V226.3H725.4V226.0H726.4V224.6H727.4V223.5H728.4V224.9H729.4V227.0H730.4V226.7H731.4V226.5H732.4V225.2H733.4V223.8H734.4V224.1H735.4V223.9H736.4V223.3H737.4V222.8H738.4V219.4H739.4V218.9H740.4V216.9H741.4V220.6H742.4V223.7H743.4V225.4H744.4V226.6H745.4V228.0H746.4V227.7H747.4V227.9H750.4V227.5H751.4V226.6H752.4V226.2H753.4V225.8H754.4V226.3H755.4V227.7H756.4V228.6H757.4V228.3H758.4V228.4H759.4V227.9H761.4V227.7H762.4V227.5H763.4V225.9H764.4V225.0H765.4V224.7H766.4V226.8H767.4V228.2H768.4V227.6H769.4V227.1H770.4V226.9H771.4V226.2H772.4V226.5H773.4V226.8H774.4V227.7H775.4V226.9H776.4V224.9H777.4V223.7H778.4V223.4H779.4V224.9H780.4V226.7H781.4V228.4H782.4V228.1H783.4V227.8H785.4V228.1H786.4V227.6H787.4V227.3H788.4V227.0H789.4V226.2H790.4V225.2H791.4V224.4H792.4V223.5H793.4V225.1H794.4V227.1H795.4V227.0H796.4V224.4H797.4V223.2H798.4V222.6H799.4V224.9H800.4V226.3H801.4V225.3H802.4V223.7H803.4V220.3H804.4V222.6H805.4V225.8H806.4V227.4H807.4V227.6H808.4V227.2H809.4V227.0H810.4V226.6H811.4V226.2H812.4V225.8H813.4V223.6H814.4V223.2H815.4V222.6H816.4V220.7H817.4V221.7H818.4V224.6H819.4V227.2H820.4V227.7H821.4V226.6H823.4V225.8H824.4V224.1H825.4V224.6H826.4V226.6H827.4V228.0H828.4V227.5H829.4V226.9H830.4V225.5H831.4V225.0H832.4V223.9H833.4V225.3H834.4V226.0H835.4V227.5H836.4V228.1H837.4V228.2H838.4V227.7H839.4V227.9H840.4V227.7H841.4V227.8H843.4V227.2H844.4V227.3H845.4V226.6H846.4V225.9H847.4V224.7H848.4V224.9H849.4V225.7H850.4V227.2H851.4V228.3H852.4V228.4H853.4V227.6H854.4V227.1H855.4V226.1H856.4V225.6H857.4V224.6H858.4V223.6H859.4V222.8H860.4V222.6H861.4V223.5H862.4V223.0H863.4V222.5H864.4V224.3H865.4V225.1H866.4V226.6H867.4V224.7H868.4V222.3H869.4V222.5H870.4V221.7H871.4V224.3H872.4V224.6H873.4V225.7H874.4V224.9H875.4V224.8H877.4V224.2H879.4V223.2H880.4V221.4H881.4V221.9H882.4V220.2H883.4V220.4H884.4V219.6H885.4V220.7H886.4V221.8H887.4V222.6H888.4V223.6H891.4V224.9H892.4V224.1H893.4V229Z" fill="#43BBD4"/>
<line x1="303.09999999999997" y1="229" x2="893.0" y2="229" stroke="#1a1a1a" stroke-width="1.15"/>
<line x1="303.9" y1="204.3" x2="303.9" y2="229.6" stroke="#000" stroke-width="1.7"/>
<path d="M304.4,264V249.9H305.4V244.2H306.4V239.2H307.4V243.8H308.4V244.1H309.4V241.8H310.4V239H311.4V244.1H312.4V250.4H313.4V253.4H314.4V255.0H315.4V258.3H316.4V259.0H318.4V257.9H319.4V256.6H320.4V256.1H321.4V255.0H323.4V256.9H324.4V256.0H325.4V258.1H326.4V259.3H327.4V260.8H328.4V261.8H329.4V261.0H330.4V260.1H332.4V261.4H333.4V262.0H334.4V261.3H335.4V261.0H336.4V260.1H337.4V259.4H338.4V257.4H339.4V258.4H340.4V256.6H341.4V256.4H342.4V254.9H343.4V253.7H344.4V255.8H345.4V257.6H346.4V257.0H347.4V258.3H348.4V259.3H349.4V259.0H350.4V259.6H351.4V259.0H352.4V259.1H353.4V258.1H354.4V257.9H355.4V257.4H357.4V258.1H358.4V259.6H359.4V260.0H360.4V261.0H362.4V259.7H363.4V257.7H364.4V257.4H365.4V258.0H366.4V258.3H367.4V258.6H368.4V258.5H369.4V259.3H371.4V259.1H372.4V259.0H373.4V259.5H374.4V259.6H375.4V259.3H376.4V258.0H377.4V257.7H378.4V256.6H379.4V257.8H380.4V258.3H381.4V257.5H383.4V257.9H385.4V257.8H386.4V258.4H387.4V257.7H388.4V256.7H389.4V258.2H390.4V258.0H391.4V259.6H392.4V260.2H393.4V260.0H394.4V258.7H395.4V256.7H396.4V256.1H397.4V253.7H398.4V251.4H399.4V252.7H400.4V251.0H401.4V249.3H402.4V249.6H403.4V245.2H404.4V240.9H405.4V242.8H406.4V244.6H407.4V243.8H408.4V243.2H409.4V250.8H410.4V253.5H411.4V255.5H412.4V256.5H413.4V258.4H414.4V259.1H415.4V258.4H416.4V259.7H417.4V259.9H418.4V261.2H419.4V261.5H420.4V261.9H421.4V261.0H422.4V258.1H423.4V257.8H424.4V255.1H425.4V252.3H426.4V252.6H427.4V247.4H428.4V247.8H429.4V245.2H430.4V244.2H431.4V244.5H432.4V245.3H433.4V243.3H434.4V247.7H435.4V249.2H436.4V252.8H437.4V257.4H438.4V255.7H439.4V255.8H440.4V254.4H442.4V251.5H443.4V251.8H444.4V253.8H445.4V254.0H446.4V254.5H447.4V252.9H448.4V253.7H449.4V250.5H450.4V246.5H451.4V245.8H452.4V242.8H453.4V245.0H454.4V245.5H455.4V244.9H456.4V250.8H457.4V244.6H458.4V243.8H459.4V241.8H460.4V242.2H461.4V239H463.4V243.8H464.4V244.4H465.4V243.9H466.4V246.7H467.4V247.0H468.4V249.7H469.4V253.8H470.4V254.9H471.4V257.6H472.4V260.6H473.4V261.4H474.4V259.9H475.4V258.0H476.4V256.2H477.4V253.1H478.4V251.9H479.4V255.1H480.4V254.5H481.4V254.7H482.4V250.2H483.4V249.1H484.4V243.8H485.4V242.7H486.4V239.5H487.4V243.1H488.4V247.5H489.4V247.8H490.4V242.3H491.4V240.7H492.4V242.8H493.4V245.8H494.4V247.7H495.4V251.5H496.4V256.4H497.4V259.3H498.4V262.5H499.4V262.8H500.4V263.2H501.4V262.9H502.4V263.3H503.4V263.0H504.4V263.1H505.4V263.2H506.4V263.1H507.4V263.3H508.4V263.2H509.4V263.1H510.4V263.2H511.4V263.5H512.4V263.4H515.4V262.9H516.4V262.6H517.4V261.8H518.4V261.0H519.4V260.7H520.4V258.9H521.4V256.9H522.4V256.6H523.4V254.6H524.4V256.9H525.4V259.4H526.4V261.3H527.4V262.8H528.4V262.0H529.4V261.4H530.4V260.8H531.4V260.1H532.4V259.9H533.4V259.1H534.4V258.4H535.4V256.3H536.4V253.2H537.4V252.1H538.4V252.9H539.4V249.3H540.4V250.2H541.4V247.2H542.4V247.6H543.4V250.2H544.4V250.7H545.4V254.3H546.4V255.9H547.4V258.4H548.4V259.1H549.4V260.2H550.4V261.1H551.4V262.1H552.4V261.4H553.4V262.0H554.4V261.0H555.4V260.9H556.4V260.8H557.4V259.9H558.4V260.3H559.4V260.2H560.4V258.9H561.4V258.7H562.4V259.4H563.4V258.3H564.4V258.7H565.4V258.0H566.4V258.4H567.4V257.6H568.4V259.3H569.4V259.6H570.4V258.9H571.4V260.2H572.4V259.3H573.4V259.8H574.4V258.4H575.4V256.1H576.4V255.9H577.4V257.1H578.4V256.3H579.4V256.5H580.4V257.4H581.4V258.8H582.4V259.1H583.4V259.6H584.4V259.7H585.4V260.7H586.4V260.8H588.4V260.1H589.4V259.2H590.4V258.3H591.4V258.1H593.4V257.5H594.4V257.0H595.4V257.4H596.4V259.1H597.4V259.3H598.4V259.4H599.4V259.9H600.4V258.8H601.4V257.9H602.4V257.7H603.4V259.8H604.4V261.0H605.4V260.4H606.4V259.4H607.4V259.5H608.4V258.4H609.4V258.3H610.4V258.2H611.4V257.7H612.4V257.0H613.4V257.1H614.4V256.4H615.4V256.3H616.4V256.1H617.4V255.5H618.4V254.5H619.4V254.3H620.4V252.2H621.4V251.9H622.4V252.3H623.4V250.5H624.4V251.7H625.4V252.9H626.4V251.3H627.4V252.6H628.4V254.6H629.4V256.0H630.4V256.8H631.4V258.2H632.4V259.5H633.4V259.1H634.4V258.9H635.4V258.0H636.4V257.1H637.4V254.8H638.4V257.2H639.4V257.4H640.4V259.2H642.4V258.9H643.4V259.4H644.4V260.0H645.4V260.1H646.4V260.7H647.4V260.4H648.4V260.3H649.4V260.6H650.4V261.9H651.4V261.5H652.4V259.6H653.4V257.8H654.4V257.6H655.4V257.7H657.4V258.5H658.4V258.6H660.4V259.3H661.4V260.2H662.4V259.1H663.4V259.4H664.4V260.2H665.4V260.6H666.4V260.5H667.4V261.7H668.4V261.1H669.4V259.7H670.4V259.1H671.4V258.5H672.4V259.1H673.4V261.1H674.4V262.6H675.4V261.6H676.4V260.3H677.4V258.4H678.4V258.9H679.4V256.6H680.4V254.0H681.4V250.2H682.4V249.9H683.4V246.6H684.4V249.6H685.4V247.8H686.4V251.3H687.4V252.4H688.4V252.9H689.4V256.5H690.4V257.8H691.4V257.4H692.4V256.5H693.4V256.6H694.4V256.5H695.4V256.8H697.4V257.2H698.4V257.8H699.4V257.9H700.4V258.3H701.4V258.4H702.4V258.2H703.4V260.0H704.4V259.7H706.4V261.0H707.4V260.5H708.4V260.8H709.4V260.3H710.4V259.1H711.4V256.8H712.4V257.9H713.4V256.4H714.4V255.7H715.4V257.8H716.4V257.9H717.4V258.0H718.4V256.1H719.4V254.2H720.4V251.8H721.4V254.0H722.4V253.7H723.4V256.4H724.4V257.5H725.4V257.1H726.4V257.4H727.4V255.9H728.4V255.1H729.4V257.2H730.4V257.7H731.4V258.0H732.4V259.3H733.4V259.2H734.4V260.3H735.4V260.7H736.4V261.8H737.4V261.1H738.4V259.8H739.4V257.9H740.4V256.6H741.4V255.9H742.4V256.0H743.4V252.8H744.4V252.4H745.4V249.7H746.4V247.7H747.4V252.7H748.4V256.6H749.4V256.5H750.4V256.1H751.4V256.9H752.4V257.6H753.4V256.9H754.4V257.7H755.4V258.9H756.4V259.2H757.4V257.7H758.4V255.4H759.4V255.2H760.4V255.1H761.4V257.1H762.4V257.2H763.4V258.8H764.4V259.7H765.4V258.8H766.4V259.2H767.4V258.3H768.4V256.5H769.4V256.1H771.4V259.7H772.4V260.7H774.4V259.8H775.4V258.2H776.4V258.4H777.4V258.1H778.4V256.6H779.4V256.5H780.4V252.7H781.4V251.1H782.4V246.9H783.4V243.3H784.4V245.8H785.4V241.6H786.4V243.4H788.4V242.7H789.4V244.3H790.4V247.0H791.4V247.2H792.4V248.9H793.4V246.6H794.4V246.5H795.4V249.3H796.4V248.6H797.4V250.9H798.4V251.0H799.4V250.0H800.4V249.8H801.4V251.8H802.4V252.4H803.4V253.1H804.4V254.8H805.4V256.7H806.4V258.4H807.4V259.5H808.4V260.9H809.4V260.0H810.4V258.2H811.4V257.7H812.4V255.1H813.4V256.9H814.4V257.0H815.4V258.0H816.4V259.2H817.4V261.6H818.4V260.3H819.4V259.7H820.4V259.5H821.4V259.2H822.4V256.9H824.4V258.8H826.4V259.7H827.4V260.8H828.4V261.8H829.4V261.7H830.4V261.4H832.4V260.7H833.4V260.1H834.4V257.8H835.4V254.4H836.4V254.6H837.4V255.4H838.4V256.8H839.4V257.7H840.4V258.3H841.4V260.3H842.4V260.0H843.4V259.0H844.4V256.8H845.4V257.7H846.4V259.8H847.4V261.1H848.4V261.2H849.4V259.5H850.4V256.8H851.4V254.0H852.4V255.4H853.4V255.1H854.4V253.0H855.4V251.7H856.4V252.5H857.4V253.2H858.4V252.1H859.4V252.2H860.4V250.0H861.4V251.7H862.4V253.1H863.4V251.7H864.4V253.7H865.4V254.9H866.4V255.9H867.4V256.6H868.4V258.3H869.4V258.7H870.4V258.5H871.4V259.9H872.4V259.6H873.4V260.4H874.4V259.4H875.4V258.2H876.4V258.1H877.4V257.4H878.4V256.5H879.4V256.9H880.4V257.7H881.4V257.5H882.4V259.9H883.4V260.2H884.4V260.6H885.4V260.3H886.4V259.8H888.4V259.0H889.4V258.5H890.4V257.3H891.4V256.7H893.4V264Z" fill="#0DA48C"/>
<line x1="303.09999999999997" y1="264" x2="893.0" y2="264" stroke="#1a1a1a" stroke-width="1.15"/>
<line x1="303.9" y1="239.3" x2="303.9" y2="264.6" stroke="#000" stroke-width="1.7"/>
<path d="M304.4,299V288.9H305.4V285.2H306.4V280.5H307.4V281.3H308.4V277.9H309.4V278.5H310.4V274.9H311.4V281.3H312.4V285.4H313.4V288.3H314.4V289.9H315.4V290.6H316.4V293.0H317.4V293.9H318.4V293.1H319.4V293.0H320.4V293.5H321.4V292.6H322.4V292.0H323.4V291.1H324.4V292.7H325.4V291.0H326.4V292.4H327.4V293.0H328.4V294.1H329.4V292.6H330.4V293.6H331.4V292.2H332.4V292.3H333.4V291.9H334.4V291.8H335.4V292.7H336.4V292.2H337.4V291.9H338.4V292.2H339.4V292.8H340.4V293.2H341.4V291.0H342.4V292.1H343.4V291.7H344.4V291.2H345.4V292.1H346.4V291.9H347.4V292.8H348.4V292.5H349.4V293.7H350.4V294.8H351.4V294.9H352.4V296.9H353.4V296.8H354.4V295.9H355.4V295.4H356.4V295.1H357.4V293.5H358.4V292.9H359.4V293.2H360.4V293.8H361.4V292.9H362.4V293.6H363.4V293.0H364.4V292.8H365.4V293.4H366.4V292.1H367.4V293.5H368.4V295.1H369.4V296.0H370.4V295.7H371.4V293.1H372.4V292.6H373.4V292.5H374.4V293.9H375.4V295.0H376.4V295.5H377.4V297.0H378.4V296.0H380.4V295.1H381.4V294.9H382.4V294.6H383.4V294.1H384.4V293.5H385.4V294.7H386.4V293.9H387.4V294.1H388.4V292.9H389.4V292.2H390.4V293.2H391.4V293.0H393.4V291.7H394.4V290.5H395.4V288.0H396.4V286.8H397.4V285.4H398.4V285.6H399.4V282.9H400.4V285.1H401.4V284.2H402.4V284.4H403.4V280.2H404.4V280.1H405.4V283.7H406.4V281.0H407.4V282.2H408.4V288.2H409.4V288.1H410.4V291.6H411.4V290.9H412.4V291.3H413.4V292.9H414.4V292.7H415.4V293.6H416.4V294.9H417.4V293.8H418.4V294.3H419.4V293.1H420.4V292.3H421.4V291.9H422.4V292.2H423.4V292.1H424.4V291.6H425.4V289.2H426.4V288.3H427.4V286.8H428.4V285.6H429.4V288.1H430.4V284.7H431.4V285.5H432.4V284.4H433.4V286.6H434.4V287.3H435.4V290.1H436.4V290.4H437.4V291.5H438.4V290.8H439.4V289.8H440.4V287.1H441.4V288.5H442.4V286.2H443.4V287.7H444.4V286.6H445.4V286.5H446.4V286.0H447.4V285.9H448.4V288.2H449.4V287.9H450.4V289.8H451.4V288.5H452.4V287.9H453.4V286.3H454.4V284.0H455.4V281.8H456.4V279.6H457.4V281.0H458.4V281.4H459.4V282.0H460.4V281.0H461.4V284.5H462.4V285.6H464.4V288.8H465.4V288.9H466.4V289.4H467.4V290.5H468.4V290.9H469.4V292.7H470.4V293.6H471.4V295.3H472.4V295.0H473.4V294.2H474.4V293.8H475.4V291.9H476.4V292.6H477.4V291.7H478.4V291.2H479.4V290.7H480.4V289.2H481.4V288.7H482.4V287.4H483.4V283.1H484.4V285.3H485.4V279.7H486.4V282.7H487.4V280.0H488.4V281.0H489.4V281.4H490.4V283.0H491.4V278.8H492.4V280.8H493.4V278.8H494.4V284.1H495.4V286.4H496.4V291.4H497.4V293.8H498.4V296.7H499.4V298.3H500.4V298.0H501.4V298.5H502.4V298.2H503.4V298.1H505.4V298.2H506.4V298.1H507.4V297.9H508.4V298.0H509.4V297.8H510.4V298.2H511.4V298.3H513.4V298.0H514.4V297.9H515.4V297.3H516.4V296.6H517.4V295.7H518.4V295.3H519.4V294.7H520.4V292.2H521.4V289.9H522.4V288.5H523.4V287.0H524.4V290.9H525.4V292.3H526.4V296.4H527.4V296.2H528.4V295.3H529.4V294.7H530.4V295.0H531.4V294.0H532.4V292.3H533.4V291.3H534.4V290.6H535.4V290.4H536.4V290.8H537.4V290.1H538.4V291.7H539.4V292.3H540.4V288.2H541.4V285.4H542.4V283.3H543.4V284.4H544.4V289.4H545.4V289.5H546.4V292.8H547.4V294.0H548.4V293.5H549.4V293.6H550.4V295.0H551.4V295.8H552.4V296.7H553.4V297.2H554.4V296.6H555.4V296.1H556.4V295.6H557.4V295.4H558.4V294.6H559.4V293.5H560.4V293.0H561.4V292.1H562.4V291.4H563.4V290.7H564.4V290.0H565.4V290.5H566.4V289.5H567.4V289.1H568.4V292.1H569.4V292.7H570.4V293.1H571.4V293.9H573.4V293.7H574.4V293.9H575.4V292.9H576.4V291.0H577.4V291.7H578.4V292.6H579.4V291.9H580.4V290.7H581.4V292.0H582.4V291.5H583.4V290.7H584.4V292.3H585.4V292.2H586.4V293.7H587.4V294.0H588.4V294.6H589.4V293.9H590.4V293.4H591.4V293.0H592.4V292.8H593.4V291.4H594.4V291.6H595.4V291.5H596.4V292.7H597.4V293.8H598.4V294.8H599.4V295.4H600.4V294.9H601.4V294.0H602.4V294.4H603.4V293.8H604.4V293.2H605.4V292.1H606.4V292.6H607.4V292.5H609.4V289.9H610.4V289.6H611.4V291.0H612.4V291.4H613.4V291.5H614.4V290.2H615.4V290.6H616.4V291.7H617.4V293.6H618.4V296.6H619.4V295.5H620.4V292.8H621.4V290.3H622.4V290.2H623.4V287.1H624.4V287.5H625.4V288.4H626.4V287.8H627.4V288.8H628.4V289.4H629.4V289.8H630.4V291.3H631.4V292.9H633.4V294.3H634.4V293.0H635.4V292.8H636.4V293.0H637.4V293.7H638.4V293.9H639.4V293.1H640.4V293.7H641.4V292.0H642.4V292.4H643.4V291.4H644.4V291.3H645.4V289.6H646.4V289.4H647.4V290.4H648.4V293.3H649.4V293.5H650.4V294.3H651.4V293.5H652.4V293.2H653.4V293.1H654.4V293.0H655.4V293.7H656.4V292.3H658.4V291.9H659.4V292.0H660.4V292.2H661.4V289.8H662.4V289.6H663.4V290.8H664.4V291.0H665.4V290.0H666.4V289.1H667.4V287.8H668.4V287.9H669.4V289.7H670.4V289.9H671.4V291.2H672.4V292.7H673.4V294.1H674.4V294.7H675.4V293.7H676.4V293.5H677.4V292.1H678.4V290.8H679.4V289.5H680.4V289.3H681.4V287.5H682.4V288.3H683.4V286.4H684.4V284.8H685.4V284.9H686.4V286.7H687.4V288.2H688.4V286.7H689.4V289.9H690.4V289.1H691.4V290.4H693.4V289.9H694.4V292.1H695.4V291.9H696.4V292.6H697.4V292.3H698.4V291.9H699.4V292.5H700.4V290.4H701.4V290.1H702.4V291.2H703.4V289.2H704.4V289.5H705.4V290.7H706.4V290.4H707.4V292.7H708.4V292.1H709.4V291.8H711.4V290.9H712.4V290.6H713.4V290.5H714.4V291.1H715.4V291.3H716.4V292.2H717.4V293.6H718.4V293.9H719.4V294.1H720.4V294.4H721.4V293.6H722.4V293.2H723.4V291.8H724.4V292.3H725.4V291.7H726.4V289.6H727.4V289.4H728.4V289.1H729.4V289.0H730.4V289.9H731.4V287.4H732.4V288.1H733.4V287.6H734.4V289.2H735.4V289.6H736.4V291.7H737.4V291.1H738.4V293.0H739.4V292.0H740.4V291.4H741.4V290.4H742.4V288.4H743.4V288.5H744.4V286.3H745.4V287.7H746.4V286.2H747.4V288.0H748.4V290.1H749.4V290.5H750.4V291.8H751.4V291.9H752.4V291.4H754.4V291.9H755.4V292.7H756.4V293.6H757.4V293.3H758.4V292.0H759.4V291.7H760.4V291.1H761.4V292.6H762.4V293.1H763.4V294.0H764.4V295.1H765.4V294.9H766.4V293.3H767.4V292.5H768.4V291.2H769.4V289.9H770.4V291.0H771.4V290.0H772.4V292.3H773.4V291.5H774.4V290.7H775.4V290.6H776.4V289.6H777.4V288.6H778.4V289.4H779.4V286.7H780.4V282.3H781.4V283.8H782.4V279.7H783.4V280.9H784.4V275.7H785.4V278.3H786.4V276.9H787.4V277.6H788.4V277.3H789.4V280.9H790.4V279.9H791.4V285.4H792.4V287.1H793.4V286.7H794.4V288.0H795.4V290.8H796.4V291.7H797.4V290.7H798.4V291.8H799.4V291.7H800.4V290.1H801.4V289.6H803.4V286.8H804.4V289.7H805.4V289.4H806.4V291.8H807.4V294.9H808.4V296.2H809.4V295.5H810.4V295.3H811.4V294.5H812.4V294.0H813.4V295.2H814.4V295.0H815.4V293.5H816.4V292.8H817.4V293.8H818.4V294.5H819.4V294.9H820.4V294.3H821.4V294.8H822.4V295.0H823.4V295.4H825.4V296.5H826.4V296.4H827.4V296.6H828.4V297.0H829.4V297.2H830.4V297.4H831.4V296.0H832.4V295.3H833.4V293.4H834.4V293.5H835.4V292.1H836.4V293.1H837.4V291.0H838.4V292.7H839.4V294.2H840.4V295.8H841.4V296.7H842.4V296.3H843.4V295.4H844.4V295.9H845.4V295.1H846.4V294.0H847.4V293.2H848.4V291.2H849.4V290.6H850.4V287.9H851.4V287.2H852.4V286.3H853.4V285.6H854.4V285.4H855.4V285.9H856.4V285.3H857.4V286.1H858.4V285.7H859.4V287.2H860.4V288.5H861.4V286.9H862.4V289.4H863.4V290.7H864.4V290.3H865.4V291.2H866.4V290.2H867.4V289.2H868.4V291.6H869.4V291.4H870.4V292.6H871.4V291.9H872.4V293.3H873.4V294.2H874.4V295.5H875.4V294.9H876.4V291.4H877.4V288.3H878.4V287.0H879.4V286.5H880.4V288.0H881.4V290.2H882.4V292.7H883.4V292.5H884.4V291.4H885.4V292.4H886.4V293.2H887.4V292.0H888.4V293.5H889.4V292.1H890.4V291.2H892.4V291.7H893.4V299Z" fill="#0DA48C"/>
<line x1="303.09999999999997" y1="299" x2="893.0" y2="299" stroke="#1a1a1a" stroke-width="1.15"/>
<line x1="303.9" y1="274.3" x2="303.9" y2="299.6" stroke="#000" stroke-width="1.7"/>
<path d="M304.4,334V332.3H305.4V331.6H306.4V330.8H307.4V329.9H308.4V330.6H309.4V330.0H310.4V330.3H311.4V331.9H312.4V331.2H313.4V331.4H314.4V331.9H315.4V331.3H316.4V332.3H317.4V331.8H318.4V332.1H320.4V331.6H321.4V331.1H323.4V331.2H324.4V331.1H325.4V332.3H326.4V332.8H327.4V333.1H328.4V333.3H329.4V333.1H330.4V333.2H331.4V333.5H334.4V333.4H335.4V333.5H336.4V332.6H337.4V332.4H338.4V332.3H339.4V331.6H341.4V330.8H342.4V330.5H343.4V330.3H344.4V331.0H345.4V330.9H346.4V331.7H347.4V332.0H348.4V332.6H349.4V332.4H350.4V332.1H351.4V332.6H352.4V332.9H353.4V332.7H354.4V332.4H355.4V332.5H356.4V331.8H357.4V331.6H358.4V331.7H359.4V332.2H360.4V332.4H361.4V332.8H362.4V333.2H363.4V333.4H365.4V333.2H366.4V333.6H367.4V333.3H368.4V333.2H369.4V333.0H371.4V332.6H372.4V332.3H373.4V332.2H374.4V332.4H375.4V331.7H376.4V331.2H377.4V331.6H378.4V331.3H380.4V330.6H381.4V331.6H382.4V332.0H383.4V331.9H384.4V332.4H385.4V332.6H386.4V332.7H388.4V333.2H389.4V333.4H390.4V332.8H391.4V332.3H392.4V332.2H393.4V332.0H394.4V332.2H395.4V332.6H396.4V332.8H397.4V333.0H398.4V333.2H399.4V332.8H400.4V332.7H401.4V332.2H402.4V331.9H403.4V331.7H404.4V331.4H405.4V330.4H406.4V330.3H407.4V331.7H408.4V332.6H409.4V332.7H410.4V332.5H411.4V331.9H412.4V331.7H413.4V330.6H414.4V330.9H415.4V331.2H416.4V332.1H417.4V332.4H418.4V332.7H419.4V332.4H420.4V332.2H421.4V332.3H422.4V331.9H423.4V332.2H424.4V332.8H425.4V331.3H426.4V330.5H427.4V328.6H428.4V329.5H429.4V330.4H430.4V331.1H431.4V331.4H432.4V330.7H433.4V329.9H434.4V329.8H435.4V329.9H436.4V329.3H437.4V330.0H438.4V330.5H439.4V331.0H440.4V331.7H441.4V331.1H442.4V331.3H443.4V331.7H444.4V331.0H445.4V331.6H446.4V331.8H447.4V332.6H448.4V331.5H449.4V330.1H450.4V329.1H452.4V327.2H453.4V327.8H454.4V328.4H455.4V329.7H456.4V328.3H457.4V328.7H459.4V328.0H460.4V328.5H461.4V329.6H462.4V329.2H463.4V329.5H464.4V329.4H465.4V330.3H466.4V329.2H467.4V329.6H468.4V331.1H469.4V330.8H470.4V331.4H471.4V331.8H472.4V332.5H473.4V332.8H474.4V333.0H475.4V332.6H476.4V331.8H477.4V331.2H478.4V329.3H479.4V330.4H480.4V331.5H481.4V332.5H482.4V332.4H483.4V333.1H485.4V333.5H486.4V333.1H488.4V333.0H489.4V332.9H490.4V332.8H491.4V331.9H492.4V331.8H493.4V332.8H494.4V333.6H495.4V333.8H496.4V333.9H497.4V333.8H500.4V333.9H501.4V333.8H503.4V333.9H504.4V333.8H505.4V333.9H506.4V333.8H510.4V333.9H512.4V333.8H513.4V333.7H514.4V333.5H515.4V332.8H516.4V332.7H517.4V332.8H518.4V333.2H519.4V333.7H520.4V333.4H521.4V333.2H522.4V332.2H523.4V331.9H524.4V332.0H525.4V332.4H526.4V333.0H527.4V333.4H528.4V333.5H529.4V333.4H530.4V333.0H531.4V332.9H532.4V333.3H533.4V332.8H534.4V333.2H535.4V332.7H536.4V332.9H537.4V332.8H538.4V331.8H540.4V331.5H541.4V331.1H542.4V330.6H543.4V330.9H544.4V332.1H545.4V332.2H546.4V332.8H548.4V333.1H549.4V333.3H550.4V333.4H551.4V333.3H552.4V333.5H553.4V333.4H554.4V333.5H555.4V333.3H556.4V333.5H557.4V333.6H558.4V333.5H559.4V333.4H560.4V333.5H561.4V333.0H562.4V332.7H564.4V332.6H565.4V332.5H566.4V333.1H567.4V333.5H568.4V333.4H569.4V332.9H571.4V332.0H572.4V332.1H573.4V331.8H575.4V332.1H577.4V332.6H578.4V333.1H579.4V332.9H580.4V332.3H581.4V332.7H582.4V331.9H583.4V332.4H584.4V332.6H585.4V333.1H586.4V333.4H587.4V333.3H588.4V332.8H589.4V332.1H590.4V332.4H591.4V331.4H592.4V332.2H595.4V332.6H596.4V332.4H597.4V332.0H598.4V331.3H599.4V332.6H600.4V332.4H602.4V331.8H603.4V332.4H604.4V331.2H605.4V331.1H606.4V331.9H607.4V332.7H608.4V332.6H609.4V333.1H610.4V332.9H611.4V332.7H612.4V332.6H613.4V332.4H614.4V332.6H615.4V332.7H616.4V333.5H617.4V333.3H618.4V333.5H619.4V333.4H620.4V333.5H621.4V333.6H622.4V333.4H624.4V333.1H625.4V332.3H626.4V331.2H627.4V332.1H628.4V332.3H629.4V332.9H630.4V332.7H631.4V332.6H632.4V332.8H633.4V332.6H634.4V332.7H635.4V332.3H636.4V331.9H638.4V331.5H639.4V331.3H640.4V331.5H641.4V332.4H642.4V332.6H643.4V333.3H644.4V333.6H645.4V333.0H647.4V332.8H649.4V333.2H650.4V333.5H651.4V333.9H652.4V333.7H653.4V333.6H654.4V333.5H655.4V333.4H656.4V333.1H657.4V332.9H658.4V333.2H659.4V332.8H660.4V333.0H661.4V332.5H662.4V331.8H663.4V331.7H664.4V331.5H666.4V330.6H667.4V331.2H668.4V330.7H669.4V331.0H670.4V331.8H671.4V331.4H672.4V331.5H673.4V331.9H674.4V332.6H675.4V333.3H676.4V333.4H677.4V332.8H678.4V332.4H680.4V331.6H681.4V332.0H682.4V332.3H683.4V332.7H684.4V333.3H685.4V332.9H686.4V332.7H687.4V331.8H688.4V331.5H689.4V331.4H691.4V332.3H692.4V333.1H693.4V333.5H694.4V333.6H696.4V333.7H697.4V333.8H700.4V333.6H702.4V333.5H703.4V333.4H704.4V332.8H705.4V333.2H706.4V332.8H707.4V332.5H708.4V332.4H709.4V332.0H710.4V331.1H711.4V330.1H712.4V330.6H713.4V329.8H714.4V330.7H715.4V330.8H717.4V330.5H718.4V331.5H720.4V332.8H721.4V333.5H722.4V333.4H723.4V333.2H724.4V332.8H725.4V332.6H726.4V332.0H727.4V332.2H728.4V332.3H729.4V332.6H730.4V332.9H731.4V333.4H732.4V332.8H733.4V332.0H734.4V330.8H735.4V330.4H736.4V331.0H737.4V330.9H738.4V331.8H739.4V331.9H740.4V331.4H741.4V330.5H742.4V330.0H743.4V328.9H744.4V328.1H745.4V327.2H746.4V328.1H747.4V328.6H748.4V329.0H749.4V329.7H750.4V330.2H751.4V330.0H752.4V330.8H753.4V330.7H754.4V331.5H755.4V332.2H756.4V332.8H757.4V333.5H758.4V331.4H759.4V331.2H760.4V331.3H761.4V332.2H762.4V332.5H763.4V331.9H765.4V331.3H766.4V330.8H767.4V331.2H768.4V330.8H769.4V330.1H770.4V330.2H771.4V330.9H772.4V331.8H774.4V331.4H775.4V331.3H776.4V330.7H777.4V331.3H778.4V331.2H779.4V330.9H780.4V331.0H781.4V329.5H782.4V329.6H783.4V330.2H784.4V329.9H785.4V329.1H786.4V330.0H787.4V331.1H788.4V331.3H789.4V331.7H790.4V331.1H791.4V331.5H792.4V331.4H793.4V331.9H794.4V332.5H795.4V333.0H796.4V332.7H797.4V331.6H798.4V330.7H799.4V330.4H800.4V332.0H801.4V332.4H802.4V333.1H803.4V332.8H804.4V332.2H805.4V332.4H806.4V331.8H807.4V331.9H808.4V332.3H809.4V332.9H810.4V332.7H811.4V332.1H812.4V332.0H813.4V331.4H814.4V331.2H815.4V331.1H816.4V331.3H817.4V331.9H818.4V333.0H819.4V332.8H820.4V331.8H821.4V330.9H822.4V332.1H823.4V332.8H824.4V333.8H825.4V333.7H828.4V333.8H829.4V333.7H830.4V333.6H832.4V333.5H833.4V333.3H834.4V333.1H835.4V332.1H836.4V331.9H837.4V331.7H838.4V332.0H839.4V332.7H840.4V333.5H841.4V333.3H843.4V333.0H844.4V332.8H845.4V332.5H846.4V332.0H848.4V331.9H849.4V331.2H850.4V330.6H851.4V331.4H852.4V330.3H853.4V329.4H854.4V327.5H855.4V328.3H856.4V330.3H857.4V331.5H858.4V330.8H859.4V330.4H860.4V330.6H861.4V330.8H862.4V331.7H863.4V333.0H864.4V331.7H865.4V330.5H866.4V329.4H867.4V327.7H868.4V329.7H869.4V329.8H870.4V331.4H871.4V332.0H872.4V332.4H873.4V332.7H874.4V333.3H875.4V333.1H876.4V333.0H877.4V332.7H878.4V332.2H879.4V331.5H880.4V332.3H881.4V332.8H882.4V333.3H883.4V333.0H884.4V332.6H885.4V332.0H886.4V332.5H887.4V332.6H888.4V332.7H889.4V333.1H890.4V332.9H891.4V333.4H892.4V333.6H893.4V334Z" fill="#3C5C8B"/>
<line x1="303.09999999999997" y1="334" x2="893.0" y2="334" stroke="#1a1a1a" stroke-width="1.15"/>
<line x1="303.9" y1="309.3" x2="303.9" y2="334.6" stroke="#000" stroke-width="1.7"/>
<path d="M304.4,369V357.0H305.4V349.1H306.4V347.5H307.4V344.3H308.4V345.8H309.4V344.6H310.4V347.0H311.4V352.0H312.4V353.0H313.4V351.4H314.4V353.1H315.4V350.9H316.4V355.3H317.4V359.6H318.4V360.9H319.4V361.6H320.4V360.7H321.4V360.0H322.4V362.0H323.4V361.7H324.4V363.1H325.4V363.6H326.4V364.0H327.4V366.4H328.4V367.5H329.4V367.8H330.4V366.6H331.4V364.8H332.4V365.7H333.4V366.5H334.4V367.6H335.4V366.7H337.4V366.3H338.4V366.5H339.4V366.6H340.4V366.7H341.4V366.9H342.4V367.6H343.4V367.8H344.4V368.0H345.4V368.1H346.4V368.0H347.4V367.8H349.4V368.2H350.4V368.0H352.4V367.5H353.4V367.4H354.4V367.5H355.4V367.4H356.4V367.8H357.4V367.7H358.4V368.1H359.4V368.0H360.4V368.4H361.4V367.3H362.4V366.8H363.4V365.6H364.4V366.2H365.4V366.8H366.4V367.2H368.4V366.6H369.4V366.5H370.4V366.6H371.4V366.8H373.4V366.7H374.4V367.0H375.4V367.7H376.4V367.8H377.4V367.3H378.4V366.5H379.4V364.6H380.4V363.5H381.4V364.7H382.4V367.5H383.4V368.0H384.4V367.4H385.4V366.2H386.4V366.3H387.4V366.2H389.4V366.9H390.4V367.4H391.4V365.7H392.4V365.5H393.4V363.8H394.4V365.4H395.4V366.2H396.4V366.4H397.4V366.0H398.4V365.5H399.4V365.7H400.4V364.9H401.4V364.8H402.4V365.1H403.4V365.0H406.4V365.4H407.4V365.0H408.4V364.5H409.4V365.4H410.4V364.3H411.4V364.8H412.4V366.1H413.4V366.5H414.4V366.8H415.4V367.1H417.4V366.5H418.4V366.1H419.4V365.8H420.4V365.5H421.4V366.1H422.4V366.8H423.4V367.2H424.4V367.4H425.4V367.3H426.4V367.1H427.4V365.3H428.4V364.8H429.4V363.6H430.4V363.5H431.4V361.8H432.4V363.9H433.4V364.2H434.4V364.9H435.4V365.3H436.4V366.2H437.4V366.3H438.4V365.7H439.4V365.5H440.4V364.6H441.4V364.5H442.4V363.2H444.4V362.5H445.4V362.9H446.4V364.0H447.4V365.8H448.4V366.8H449.4V365.8H450.4V365.4H451.4V364.9H452.4V363.7H453.4V363.2H454.4V363.4H455.4V363.2H456.4V363.4H457.4V364.0H458.4V364.8H460.4V364.1H461.4V362.7H462.4V363.6H463.4V365.2H464.4V365.9H466.4V366.9H467.4V367.7H468.4V367.9H469.4V368.3H470.4V368.4H471.4V368.1H472.4V368.3H473.4V368.6H474.4V367.7H475.4V367.1H477.4V366.4H478.4V366.6H479.4V367.0H480.4V366.3H481.4V366.7H482.4V366.3H483.4V365.4H484.4V364.7H485.4V363.6H486.4V364.1H487.4V363.3H488.4V363.2H489.4V361.2H490.4V360.9H491.4V362.6H492.4V363.0H493.4V363.4H494.4V365.5H495.4V367.8H496.4V368.1H497.4V368.2H499.4V368.6H500.4V368.3H501.4V368.2H502.4V368.4H504.4V368.6H505.4V368.2H506.4V368.1H507.4V368.2H508.4V368.3H509.4V368.7H510.4V368.4H513.4V368.6H514.4V368.4H516.4V368.5H517.4V368.4H518.4V367.5H519.4V367.1H521.4V366.6H522.4V367.1H523.4V366.9H524.4V367.3H525.4V367.7H526.4V367.8H527.4V368.5H528.4V368.4H530.4V368.3H531.4V368.5H532.4V368.1H533.4V368.5H535.4V368.0H536.4V368.3H537.4V367.7H538.4V366.6H539.4V365.5H540.4V365.2H541.4V364.7H542.4V363.8H543.4V365.1H544.4V365.5H545.4V365.9H546.4V366.5H547.4V366.9H548.4V367.6H549.4V368.0H550.4V367.8H551.4V368.0H552.4V368.3H553.4V367.8H554.4V367.7H555.4V368.1H556.4V367.7H557.4V367.3H558.4V367.5H559.4V367.1H560.4V367.5H561.4V367.0H562.4V367.2H563.4V366.7H564.4V366.8H565.4V366.9H566.4V366.8H567.4V367.4H568.4V367.1H569.4V367.6H570.4V367.8H571.4V368.2H572.4V367.8H573.4V367.4H574.4V367.5H575.4V367.1H576.4V366.3H577.4V366.7H578.4V366.5H579.4V366.4H580.4V366.5H581.4V366.9H582.4V367.1H585.4V367.8H586.4V368.4H587.4V368.3H589.4V367.7H590.4V367.5H591.4V367.6H592.4V367.5H593.4V367.3H594.4V367.6H595.4V367.2H596.4V367.3H597.4V368.1H598.4V368.0H599.4V368.3H600.4V367.4H601.4V367.5H602.4V367.1H603.4V367.7H604.4V367.2H605.4V366.4H606.4V366.2H607.4V366.4H608.4V366.2H609.4V367.0H610.4V367.8H611.4V368.2H612.4V368.0H613.4V367.4H614.4V367.7H615.4V367.0H616.4V367.6H617.4V368.1H618.4V368.2H619.4V368.5H620.4V368.0H621.4V368.6H622.4V368.1H624.4V368.0H625.4V368.1H626.4V367.9H627.4V368.2H628.4V368.0H630.4V368.4H631.4V368.2H632.4V367.9H633.4V368.2H634.4V368.0H635.4V368.1H636.4V368.2H637.4V368.1H638.4V368.0H639.4V368.3H640.4V368.2H642.4V368.4H643.4V368.5H644.4V368.4H645.4V367.8H646.4V367.9H647.4V367.3H649.4V367.0H650.4V366.8H651.4V367.4H652.4V367.3H653.4V367.2H655.4V367.8H656.4V367.7H657.4V367.4H658.4V367.3H659.4V367.2H660.4V366.9H661.4V366.4H662.4V366.6H663.4V367.4H664.4V367.1H665.4V367.3H666.4V367.6H667.4V367.5H668.4V367.8H669.4V367.3H670.4V366.4H671.4V366.6H672.4V367.4H674.4V368.2H675.4V367.5H676.4V367.6H678.4V367.4H679.4V368.1H680.4V367.2H681.4V366.7H682.4V365.6H683.4V366.2H684.4V366.3H685.4V367.0H687.4V367.3H688.4V367.4H689.4V366.9H690.4V367.3H691.4V367.2H693.4V366.9H694.4V367.2H695.4V367.7H696.4V367.5H697.4V367.8H699.4V368.0H700.4V368.1H701.4V368.0H702.4V367.9H703.4V368.2H704.4V367.6H705.4V367.4H706.4V366.7H707.4V367.0H708.4V366.8H709.4V366.7H710.4V366.9H711.4V366.8H712.4V366.7H713.4V367.2H714.4V366.9H715.4V366.8H716.4V366.3H717.4V366.5H718.4V366.2H719.4V365.4H720.4V365.3H721.4V366.3H722.4V366.9H723.4V367.4H724.4V368.1H725.4V367.2H726.4V366.9H727.4V366.1H728.4V364.6H729.4V365.0H730.4V364.6H731.4V366.1H733.4V366.5H735.4V366.2H736.4V366.6H737.4V366.7H738.4V366.6H739.4V366.5H740.4V365.4H741.4V364.3H742.4V363.4H743.4V361.1H744.4V360.3H745.4V358.8H746.4V360.2H747.4V363.5H748.4V364.5H749.4V363.1H750.4V363.6H751.4V362.6H752.4V361.4H753.4V362.8H754.4V362.9H755.4V365.2H756.4V364.7H757.4V363.5H758.4V361.7H759.4V361.6H760.4V360.8H761.4V363.4H762.4V364.3H763.4V364.0H764.4V365.2H765.4V364.6H766.4V365.3H767.4V364.0H768.4V363.8H770.4V363.5H771.4V364.5H772.4V365.6H773.4V363.2H774.4V362.8H775.4V361.5H776.4V363.3H777.4V362.9H778.4V362.1H779.4V360.6H780.4V357.3H781.4V357.2H782.4V353.7H783.4V354.1H784.4V356.2H785.4V354.2H786.4V356.5H787.4V354.8H788.4V355.9H789.4V354.8H790.4V358.5H791.4V362.5H792.4V362.3H793.4V363.5H794.4V365.1H795.4V365.0H796.4V363.1H797.4V363.2H798.4V364.3H799.4V365.7H800.4V366.6H801.4V366.5H802.4V366.7H803.4V367.0H804.4V366.5H805.4V367.2H807.4V367.0H808.4V367.7H809.4V368.1H810.4V367.9H811.4V367.0H812.4V366.6H813.4V366.9H814.4V365.4H816.4V365.3H817.4V366.0H818.4V366.7H819.4V367.2H820.4V367.8H821.4V368.3H822.4V368.0H823.4V368.5H824.4V368.1H825.4V368.5H827.4V367.8H828.4V367.6H829.4V367.7H830.4V367.1H831.4V367.7H832.4V367.5H833.4V367.4H834.4V367.7H835.4V367.3H836.4V367.5H837.4V366.5H838.4V366.4H839.4V365.7H840.4V366.4H841.4V366.8H842.4V368.2H843.4V367.7H844.4V367.4H845.4V366.9H846.4V366.7H847.4V366.1H848.4V365.6H849.4V365.4H850.4V365.1H851.4V365.6H852.4V366.1H853.4V366.6H854.4V366.9H855.4V367.3H856.4V367.6H857.4V367.9H858.4V367.6H859.4V368.1H860.4V368.0H861.4V367.4H862.4V366.2H864.4V365.7H865.4V366.1H866.4V367.1H867.4V366.0H868.4V364.9H869.4V364.1H870.4V365.3H871.4V366.3H872.4V367.7H873.4V367.5H874.4V366.4H875.4V366.2H876.4V365.6H877.4V365.5H878.4V366.5H879.4V367.1H880.4V367.8H881.4V367.7H882.4V366.0H883.4V364.4H884.4V363.4H885.4V364.9H886.4V364.4H887.4V365.8H888.4V365.6H889.4V366.5H890.4V367.6H891.4V368.4H892.4V368.3H893.4V369Z" fill="#3C5C8B"/>
<line x1="303.09999999999997" y1="369" x2="893.0" y2="369" stroke="#1a1a1a" stroke-width="1.15"/>
<line x1="303.9" y1="344.3" x2="303.9" y2="369.6" stroke="#000" stroke-width="1.7"/>
<path d="M304.4,404V397.2H305.4V396.0H306.4V395.2H307.4V394.3H308.4V396.5H309.4V397.4H310.4V399.4H311.4V400.0H312.4V399.5H313.4V399.7H314.4V400.6H315.4V398.6H316.4V395.4H317.4V396.0H318.4V395.6H319.4V396.2H320.4V396.9H321.4V396.0H322.4V397.0H323.4V395.9H324.4V396.9H325.4V396.6H326.4V398.7H327.4V398.0H328.4V398.9H329.4V398.1H330.4V398.6H331.4V398.5H332.4V398.0H333.4V398.2H334.4V397.1H335.4V398.3H336.4V397.6H337.4V397.9H338.4V398.5H339.4V398.0H340.4V396.6H341.4V396.9H342.4V396.4H343.4V396.8H344.4V397.9H345.4V398.2H346.4V395.3H347.4V394.1H348.4V394.3H349.4V390.2H350.4V390.3H351.4V393.0H352.4V393.2H353.4V396.4H354.4V397.6H355.4V399.4H356.4V400.6H358.4V401.4H359.4V401.9H360.4V402.4H361.4V402.1H362.4V401.5H363.4V400.8H364.4V399.3H366.4V398.5H367.4V397.3H368.4V398.2H369.4V398.0H370.4V397.7H371.4V399.1H372.4V398.4H373.4V397.6H374.4V397.2H375.4V397.1H376.4V397.2H377.4V395.3H378.4V395.5H379.4V394.3H380.4V396.9H381.4V397.8H382.4V397.7H383.4V398.9H384.4V398.7H386.4V399.2H387.4V399.4H389.4V398.6H390.4V397.1H391.4V397.0H392.4V396.4H393.4V395.7H394.4V396.7H395.4V398.0H396.4V398.2H397.4V399.9H398.4V401.3H399.4V403.0H400.4V403.3H401.4V403.1H402.4V402.5H403.4V401.9H404.4V400.6H405.4V400.1H406.4V399.7H408.4V399.6H409.4V399.8H410.4V399.5H411.4V399.9H412.4V400.0H413.4V401.1H414.4V400.8H415.4V401.1H416.4V400.7H417.4V401.2H418.4V399.9H419.4V400.4H420.4V399.7H421.4V400.3H422.4V400.4H423.4V400.6H424.4V400.5H425.4V400.2H426.4V400.7H427.4V400.5H428.4V401.4H429.4V401.5H431.4V402.2H432.4V402.4H433.4V402.2H434.4V401.2H435.4V400.9H436.4V399.7H437.4V399.6H438.4V398.5H439.4V398.0H440.4V397.3H442.4V396.4H443.4V395.1H444.4V394.6H445.4V394.1H446.4V395.3H447.4V396.1H448.4V397.4H449.4V397.0H450.4V395.8H451.4V396.6H452.4V399.2H453.4V400.7H454.4V401.3H455.4V401.5H456.4V401.0H457.4V400.3H458.4V400.1H459.4V398.3H460.4V395.3H461.4V395.6H462.4V397.2H463.4V395.9H464.4V396.8H465.4V398.2H466.4V400.1H467.4V400.2H468.4V401.2H469.4V401.1H470.4V402.0H472.4V401.2H473.4V401.1H474.4V400.2H475.4V400.0H476.4V399.0H477.4V398.3H478.4V397.3H479.4V398.2H480.4V396.1H481.4V396.3H482.4V397.3H483.4V396.4H484.4V397.6H485.4V399.9H486.4V401.2H487.4V401.9H488.4V402.4H489.4V403.1H490.4V403.2H491.4V403.5H493.4V403.4H496.4V403.5H497.4V403.6H498.4V403.4H499.4V403.5H500.4V403.4H501.4V403.5H502.4V403.4H503.4V402.7H504.4V402.5H505.4V403.2H506.4V403.7H507.4V403.8H510.4V403.6H513.4V403.4H514.4V403.5H515.4V402.8H516.4V402.2H517.4V401.9H518.4V400.3H519.4V399.9H520.4V400.2H521.4V400.1H522.4V400.2H523.4V400.5H524.4V400.3H525.4V400.6H526.4V400.2H527.4V400.9H528.4V401.1H529.4V401.6H530.4V401.5H531.4V401.8H532.4V401.9H533.4V401.8H534.4V402.3H535.4V402.4H536.4V401.6H537.4V402.2H538.4V401.6H539.4V401.5H541.4V402.1H542.4V401.4H543.4V401.5H544.4V401.7H545.4V402.2H546.4V401.9H547.4V401.4H548.4V401.9H549.4V401.7H550.4V401.8H551.4V401.6H553.4V402.5H554.4V402.8H556.4V403.1H557.4V402.6H558.4V402.5H559.4V402.1H560.4V402.3H561.4V401.0H562.4V397.8H563.4V397.3H564.4V394.8H565.4V393.4H566.4V393.0H567.4V395.5H568.4V396.5H569.4V398.0H570.4V398.7H571.4V396.4H572.4V397.7H573.4V397.6H574.4V398.4H575.4V398.2H576.4V399.5H577.4V399.2H578.4V399.4H579.4V399.5H580.4V400.6H581.4V399.6H582.4V396.4H583.4V394.3H584.4V395.5H585.4V396.5H586.4V396.7H587.4V398.5H588.4V398.4H589.4V399.8H590.4V398.9H591.4V399.7H592.4V399.5H593.4V398.3H594.4V397.0H595.4V395.4H596.4V394.1H597.4V395.1H598.4V395.3H599.4V394.4H600.4V390.4H601.4V391.5H602.4V392.4H603.4V392.7H604.4V394.7H605.4V394.9H606.4V391.3H607.4V387.8H608.4V385.7H609.4V388.1H610.4V384.0H611.4V382.1H612.4V386.1H613.4V387.2H614.4V387.4H615.4V389.7H616.4V389.1H617.4V391.6H618.4V394.2H619.4V397.1H620.4V392.0H621.4V388.4H622.4V391.1H623.4V389.1H624.4V386.8H625.4V386.0H626.4V387.7H627.4V385.5H628.4V384.4H629.4V384.3H630.4V384.4H631.4V388.2H632.4V391.2H633.4V390.0H634.4V394.5H635.4V394.2H636.4V395.7H637.4V396.6H638.4V394.5H639.4V394.2H640.4V393.5H641.4V391.7H642.4V393.3H643.4V392.1H644.4V391.4H645.4V391.9H646.4V394.6H647.4V396.3H648.4V396.8H649.4V398.4H650.4V401.6H651.4V399.4H652.4V397.6H653.4V395.9H654.4V396.9H655.4V398.6H656.4V399.1H657.4V398.4H658.4V398.9H659.4V397.6H660.4V398.7H661.4V397.6H662.4V396.9H663.4V396.1H664.4V394.0H665.4V396.8H666.4V397.1H667.4V399.2H668.4V399.6H669.4V400.4H670.4V400.9H671.4V402.2H672.4V402.5H673.4V403.1H674.4V403.4H675.4V403.5H676.4V403.1H677.4V403.5H678.4V403.1H679.4V402.7H680.4V402.4H681.4V401.7H682.4V401.0H683.4V400.6H684.4V400.7H685.4V400.3H686.4V400.0H687.4V400.5H688.4V397.9H689.4V397.1H690.4V396.6H691.4V398.8H692.4V401.4H693.4V400.9H694.4V400.5H695.4V399.3H696.4V397.5H697.4V398.5H698.4V397.8H699.4V398.1H700.4V397.7H701.4V396.8H702.4V396.0H703.4V395.2H704.4V392.8H705.4V391.9H706.4V393.0H707.4V391.9H708.4V391.8H709.4V392.1H710.4V389.0H711.4V387.9H712.4V385.4H713.4V386.8H714.4V384.0H715.4V387.9H716.4V390.6H717.4V386.8H718.4V387.9H719.4V388.7H720.4V391.5H721.4V393.4H722.4V393.0H723.4V393.3H724.4V394.8H725.4V394.3H726.4V394.8H727.4V396.3H728.4V394.7H729.4V395.4H730.4V394.9H731.4V396.4H732.4V396.1H733.4V395.3H734.4V396.3H735.4V397.3H736.4V396.1H737.4V397.2H738.4V396.9H739.4V398.4H740.4V399.6H741.4V400.1H742.4V401.8H743.4V402.9H744.4V403.0H745.4V403.2H746.4V403.0H747.4V403.4H748.4V403.6H749.4V403.8H750.4V403.3H751.4V402.9H752.4V401.8H753.4V401.7H754.4V400.9H755.4V401.5H756.4V401.3H757.4V401.7H758.4V401.4H759.4V400.5H760.4V399.3H761.4V399.7H762.4V400.9H763.4V402.4H764.4V402.9H765.4V403.0H766.4V401.9H767.4V401.4H768.4V400.7H769.4V398.0H770.4V400.2H771.4V401.5H772.4V402.4H773.4V401.9H775.4V401.1H776.4V401.4H777.4V401.2H779.4V401.4H780.4V401.2H781.4V401.4H782.4V401.7H783.4V402.4H784.4V402.5H785.4V402.2H786.4V402.1H787.4V401.5H788.4V401.1H789.4V401.2H790.4V401.1H792.4V401.8H793.4V401.5H794.4V401.7H795.4V401.4H796.4V400.8H797.4V400.4H798.4V400.7H799.4V401.4H800.4V402.2H801.4V401.5H802.4V400.8H803.4V400.9H804.4V400.5H805.4V400.6H806.4V400.7H807.4V400.6H808.4V401.3H809.4V400.5H810.4V400.2H811.4V399.0H812.4V397.9H813.4V396.4H814.4V394.4H815.4V396.3H816.4V396.7H817.4V396.5H818.4V397.0H819.4V397.6H820.4V398.4H821.4V397.4H822.4V399.3H823.4V399.5H824.4V401.2H825.4V401.9H826.4V402.3H828.4V401.9H829.4V401.3H830.4V401.6H831.4V400.7H832.4V400.5H833.4V400.4H834.4V399.3H835.4V399.6H836.4V398.1H837.4V398.8H838.4V396.4H839.4V396.8H840.4V397.4H841.4V400.1H842.4V403.0H843.4V402.0H844.4V401.1H845.4V400.4H846.4V399.4H847.4V399.6H848.4V399.3H849.4V398.8H850.4V398.4H851.4V397.9H852.4V398.2H853.4V398.3H854.4V400.4H855.4V400.0H856.4V401.3H857.4V400.0H858.4V398.5H859.4V397.7H860.4V396.5H861.4V394.5H862.4V394.0H863.4V394.9H864.4V394.2H865.4V394.7H866.4V392.8H867.4V391.6H868.4V392.1H869.4V389.6H870.4V390.7H871.4V393.8H872.4V393.4H873.4V395.0H874.4V396.5H875.4V394.7H876.4V395.0H877.4V394.9H878.4V394.3H879.4V395.1H880.4V396.6H881.4V397.8H882.4V398.9H883.4V399.0H884.4V400.2H887.4V400.8H888.4V400.3H889.4V398.7H891.4V397.9H892.4V396.6H893.4V404Z" fill="#F5947B"/>
<line x1="303.09999999999997" y1="404" x2="893.0" y2="404" stroke="#1a1a1a" stroke-width="1.15"/>
<line x1="303.9" y1="379.3" x2="303.9" y2="404.6" stroke="#000" stroke-width="1.7"/>
<path d="M304.4,439V437.3H305.4V436.0H306.4V435.6H307.4V435.4H308.4V436.7H309.4V438.0H310.4V438.1H311.4V438.4H312.4V438.3H314.4V438.0H315.4V438.3H316.4V437.9H317.4V437.0H318.4V436.9H319.4V436.0H320.4V436.3H321.4V435.1H322.4V434.6H323.4V434.9H324.4V434.8H325.4V434.6H326.4V435.1H327.4V434.7H328.4V434.3H329.4V434.5H330.4V434.3H332.4V433.5H333.4V432.8H334.4V433.4H335.4V435.1H336.4V434.7H337.4V433.6H338.4V432.8H339.4V430.6H340.4V432.6H341.4V432.9H342.4V433.5H343.4V432.5H344.4V430.6H345.4V429.8H346.4V428.2H347.4V430.8H348.4V430.9H349.4V432.8H350.4V432.7H351.4V434.0H352.4V435.2H353.4V434.9H354.4V435.4H355.4V435.2H356.4V435.3H357.4V435.5H358.4V435.2H359.4V435.4H360.4V435.3H361.4V435.2H362.4V434.9H363.4V434.2H364.4V432.5H365.4V431.1H366.4V430.7H367.4V432.9H368.4V434.3H369.4V433.4H370.4V433.6H371.4V433.8H372.4V434.6H373.4V433.9H374.4V433.5H375.4V432.8H377.4V433.6H378.4V433.8H379.4V433.3H381.4V433.6H382.4V433.4H383.4V433.8H385.4V432.8H386.4V431.8H387.4V433.2H388.4V434.2H389.4V433.3H390.4V434.3H391.4V435.8H392.4V436.8H393.4V436.9H394.4V437.0H395.4V437.5H396.4V437.3H397.4V437.6H398.4V437.7H399.4V438.0H400.4V438.2H401.4V437.7H402.4V437.2H403.4V437.5H404.4V437.0H405.4V436.7H406.4V436.6H407.4V436.0H408.4V436.2H409.4V435.7H410.4V435.2H411.4V434.6H412.4V434.7H413.4V435.4H414.4V434.3H415.4V434.6H416.4V434.2H417.4V434.5H418.4V435.1H419.4V435.4H420.4V435.2H421.4V434.7H422.4V433.7H423.4V433.4H425.4V434.8H426.4V436.4H427.4V435.7H428.4V434.4H429.4V434.2H430.4V434.7H431.4V436.3H432.4V436.7H433.4V437.3H435.4V437.9H436.4V438.5H437.4V438.3H438.4V438.1H440.4V438.0H441.4V437.5H442.4V437.0H443.4V436.9H444.4V436.6H445.4V437.0H446.4V435.9H447.4V436.4H448.4V435.9H449.4V436.2H450.4V436.4H451.4V435.9H452.4V436.8H453.4V436.5H454.4V437.1H455.4V437.5H456.4V437.3H457.4V437.2H458.4V436.8H459.4V436.0H460.4V435.8H461.4V433.7H462.4V433.4H463.4V434.3H464.4V434.7H465.4V435.2H466.4V434.2H467.4V435.7H468.4V435.5H469.4V435.6H470.4V435.8H471.4V437.1H473.4V438.3H474.4V438.0H475.4V437.3H476.4V436.7H477.4V435.5H478.4V435.1H479.4V434.8H480.4V435.3H481.4V434.3H482.4V434.2H483.4V434.4H484.4V435.0H485.4V434.7H486.4V435.3H487.4V435.9H488.4V436.9H489.4V437.9H490.4V438.4H491.4V438.3H492.4V438.1H493.4V438.2H494.4V438.4H495.4V438.3H496.4V437.9H497.4V438.1H498.4V438.3H501.4V438.6H502.4V438.2H503.4V438.3H504.4V438.4H505.4V438.6H506.4V438.3H507.4V438.6H508.4V438.4H509.4V438.5H510.4V438.2H511.4V438.0H512.4V438.2H513.4V437.7H514.4V437.6H515.4V437.3H516.4V437.0H517.4V436.0H518.4V434.9H519.4V433.2H520.4V432.9H521.4V433.2H522.4V432.5H523.4V433.2H524.4V433.1H525.4V434.1H526.4V435.8H527.4V437.0H528.4V437.4H529.4V436.8H530.4V437.4H531.4V437.1H532.4V436.6H533.4V435.8H534.4V435.5H535.4V435.1H536.4V434.7H537.4V435.6H539.4V436.8H540.4V435.9H542.4V433.9H544.4V433.6H545.4V434.1H546.4V436.5H547.4V436.9H548.4V437.3H549.4V437.8H550.4V437.6H551.4V438.4H552.4V437.3H554.4V436.3H555.4V437.3H556.4V437.2H557.4V437.7H558.4V436.9H559.4V436.0H560.4V435.7H561.4V434.7H562.4V434.2H563.4V432.7H564.4V433.2H565.4V432.7H566.4V434.3H567.4V434.6H568.4V435.2H569.4V436.6H570.4V436.7H571.4V435.9H572.4V435.6H573.4V435.2H574.4V433.4H575.4V434.1H576.4V433.7H577.4V433.9H578.4V434.4H579.4V434.6H580.4V433.0H581.4V433.3H582.4V430.1H583.4V429.3H584.4V427.1H585.4V430.3H586.4V431.3H587.4V431.4H588.4V431.7H589.4V433.5H590.4V433.1H591.4V433.3H593.4V432.8H594.4V432.1H595.4V430.7H596.4V428.9H597.4V430.2H598.4V428.9H599.4V428.2H600.4V424.6H601.4V422.1H602.4V422.7H603.4V423.0H604.4V424.3H605.4V426.2H606.4V424.6H607.4V425.5H608.4V423.8H609.4V424.6H610.4V425.0H611.4V420.8H612.4V422.2H613.4V422.0H614.4V422.4H615.4V422.8H616.4V428.0H618.4V431.9H619.4V429.9H620.4V428.7H621.4V424.1H622.4V422.5H623.4V422.9H624.4V424.1H625.4V424.4H626.4V423.9H627.4V423.7H628.4V423.1H629.4V419.6H631.4V423.9H633.4V423.0H634.4V425.3H635.4V424.5H636.4V423.1H637.4V425.0H638.4V422.8H639.4V424.5H640.4V423.5H641.4V425.1H642.4V425.4H643.4V428.0H644.4V429.1H645.4V430.4H646.4V431.1H648.4V429.9H649.4V430.8H650.4V431.9H651.4V432.8H652.4V435.0H654.4V434.3H655.4V433.9H656.4V431.7H657.4V431.3H658.4V432.3H659.4V432.5H660.4V434.2H661.4V433.9H662.4V434.9H663.4V434.7H665.4V433.5H666.4V433.6H667.4V433.8H668.4V434.4H669.4V434.6H670.4V435.1H671.4V434.5H672.4V435.3H673.4V435.7H674.4V436.3H675.4V436.8H676.4V436.6H677.4V436.1H678.4V434.6H679.4V434.9H680.4V433.2H681.4V433.8H682.4V433.5H683.4V434.1H684.4V434.4H685.4V435.2H686.4V433.9H687.4V433.2H688.4V431.3H689.4V431.2H690.4V429.5H691.4V432.0H692.4V430.9H693.4V432.6H694.4V433.0H695.4V435.6H696.4V434.1H697.4V432.5H698.4V431.8H699.4V428.8H700.4V429.6H701.4V429.3H702.4V426.8H703.4V426.9H704.4V424.6H705.4V427.0H706.4V427.2H707.4V426.4H708.4V425.1H709.4V422.9H710.4V422.6H711.4V423.8H712.4V418.0H713.4V417.6H714.4V416.4H715.4V418.8H716.4V418.2H717.4V416.6H718.4V419.2H719.4V421.8H720.4V422.7H721.4V420.2H722.4V423.5H723.4V422.9H724.4V418.1H725.4V420.0H726.4V421.2H727.4V419.2H728.4V419.0H729.4V420.7H730.4V422.8H731.4V423.5H732.4V428.2H733.4V427.1H734.4V428.7H735.4V430.3H736.4V431.8H737.4V433.1H738.4V434.7H739.4V435.9H740.4V436.3H741.4V436.7H742.4V437.2H743.4V438.1H744.4V438.2H745.4V438.4H746.4V438.6H747.4V438.5H750.4V438.2H751.4V438.1H752.4V437.3H753.4V436.8H755.4V436.3H758.4V435.1H759.4V435.6H760.4V434.9H761.4V435.3H762.4V436.0H763.4V435.9H764.4V436.6H765.4V436.5H766.4V436.6H767.4V436.9H768.4V437.9H769.4V437.6H770.4V437.8H771.4V438.1H773.4V437.8H774.4V437.5H775.4V437.2H776.4V437.5H777.4V437.7H778.4V437.9H779.4V438.3H780.4V438.6H781.4V438.5H782.4V438.4H783.4V438.5H784.4V438.6H787.4V438.5H788.4V438.6H789.4V437.6H790.4V437.5H791.4V436.7H792.4V436.8H793.4V437.5H794.4V437.4H795.4V437.3H796.4V436.5H797.4V435.9H798.4V435.5H799.4V435.6H800.4V434.4H801.4V433.4H802.4V432.9H803.4V434.2H804.4V435.0H805.4V434.8H806.4V435.3H807.4V434.9H808.4V434.2H809.4V434.5H810.4V434.4H811.4V433.5H812.4V431.9H813.4V431.6H814.4V430.7H816.4V430.3H817.4V429.5H818.4V430.6H819.4V430.4H820.4V431.5H821.4V432.5H822.4V433.3H823.4V433.9H824.4V435.2H825.4V435.4H826.4V436.4H827.4V436.7H828.4V435.1H829.4V435.2H830.4V434.6H831.4V433.7H832.4V432.8H833.4V432.4H834.4V433.1H835.4V432.0H837.4V430.2H838.4V431.2H839.4V431.5H840.4V434.4H841.4V437.0H843.4V437.4H844.4V437.6H845.4V437.7H847.4V436.8H848.4V436.2H849.4V435.8H850.4V435.3H852.4V435.7H853.4V436.0H854.4V435.6H856.4V435.1H857.4V434.9H858.4V433.7H859.4V435.0H860.4V432.7H861.4V433.2H862.4V432.9H863.4V431.9H864.4V429.0H865.4V425.8H866.4V425.4H867.4V426.2H868.4V429.2H869.4V430.9H870.4V432.1H871.4V431.4H873.4V431.9H874.4V433.2H875.4V432.0H876.4V432.4H877.4V433.2H878.4V433.3H879.4V433.4H880.4V433.1H881.4V433.4H882.4V433.6H883.4V433.0H884.4V434.5H885.4V433.8H886.4V433.5H887.4V434.4H889.4V434.2H890.4V435.0H891.4V434.0H892.4V434.1H893.4V439Z" fill="#F5947B"/>
<line x1="303.09999999999997" y1="439" x2="893.0" y2="439" stroke="#1a1a1a" stroke-width="1.15"/>
<line x1="303.9" y1="414.3" x2="303.9" y2="439.6" stroke="#000" stroke-width="1.7"/>
<path d="M304.4,474V461.4H305.4V461.5H307.4V461.9H308.4V460.6H309.4V462.9H310.4V464.7H311.4V464.6H312.4V465.9H313.4V468.1H314.4V469.4H315.4V472.0H316.4V471.8H317.4V468.4H318.4V464.3H319.4V462.5H320.4V461.9H321.4V462.1H322.4V462.3H323.4V463.4H324.4V460.0H325.4V461.0H326.4V466.9H327.4V470.2H328.4V468.5H329.4V466.6H330.4V466.0H331.4V466.1H332.4V466.8H333.4V466.7H334.4V464.8H335.4V464.1H336.4V463.1H337.4V461.5H338.4V456.7H339.4V457.3H340.4V453.7H341.4V455.4H342.4V456.3H343.4V454.2H344.4V459.7H347.4V461.7H348.4V463.8H349.4V462.8H350.4V463.9H351.4V463.7H352.4V464.1H353.4V468.0H354.4V470.1H355.4V469.2H356.4V469.0H357.4V469.2H358.4V471.1H359.4V472.7H360.4V470.6H361.4V466.7H362.4V466.0H363.4V463.1H364.4V457.3H365.4V454.6H366.4V454.7H367.4V451.0H368.4V455.6H369.4V452.8H370.4V454.1H372.4V458.1H373.4V457.3H374.4V457.8H375.4V456.1H376.4V455.8H377.4V457.2H378.4V458.0H379.4V459.4H380.4V457.5H381.4V457.9H382.4V462.4H383.4V461.3H384.4V464.4H385.4V466.1H386.4V467.3H387.4V464.1H388.4V463.1H389.4V464.0H390.4V465.4H391.4V468.3H392.4V464.9H393.4V462.1H394.4V459.4H395.4V461.0H396.4V462.6H397.4V464.0H398.4V466.4H399.4V467.4H400.4V467.2H401.4V468.4H402.4V467.3H403.4V463.4H404.4V464.0H405.4V460.0H406.4V455.7H407.4V453.6H408.4V452.9H409.4V453.3H410.4V449.6H412.4V454.0H413.4V458.7H414.4V461.4H415.4V464.7H416.4V467.2H417.4V469.3H418.4V469.4H419.4V467.1H420.4V465.5H422.4V462.9H423.4V461.5H424.4V461.3H425.4V461.1H426.4V460.7H427.4V463.9H428.4V465.5H429.4V466.5H430.4V468.0H431.4V469.0H432.4V469.1H433.4V470.8H434.4V470.9H435.4V471.4H436.4V471.1H437.4V469.7H438.4V467.1H439.4V465.0H440.4V465.7H441.4V462.5H442.4V463.4H443.4V462.6H444.4V462.2H445.4V460.3H446.4V456.6H447.4V463.0H448.4V469.2H449.4V469.8H450.4V465.0H451.4V460.1H452.4V456.3H453.4V459.1H454.4V462.0H455.4V467.0H456.4V466.8H457.4V464.2H458.4V462.3H459.4V465.0H460.4V468.5H461.4V469.7H462.4V470.0H463.4V469.5H465.4V468.7H466.4V469.8H467.4V468.6H468.4V467.2H469.4V466.2H470.4V465.4H471.4V465.0H473.4V466.3H474.4V465.8H475.4V466.3H476.4V465.3H477.4V463.4H478.4V462.0H479.4V461.3H480.4V459.8H481.4V460.9H482.4V456.7H483.4V460.6H484.4V461.1H485.4V464.6H486.4V463.6H487.4V464.9H488.4V466.4H489.4V468.9H490.4V473.2H491.4V471.6H492.4V470.5H493.4V469.4H494.4V467.3H495.4V468.6H496.4V469.9H497.4V471.4H498.4V472.8H499.4V473.2H500.4V472.6H501.4V473.2H502.4V473.4H504.4V473.5H505.4V473.1H506.4V473.3H507.4V473.1H508.4V472.4H509.4V472.2H510.4V471.9H511.4V471.8H512.4V470.6H513.4V470.8H514.4V471.1H515.4V470.2H516.4V470.4H517.4V469.7H518.4V469.4H519.4V467.5H520.4V466.6H521.4V463.8H522.4V460.8H523.4V456.5H524.4V460.3H525.4V465.2H526.4V464.6H527.4V465.9H528.4V467.4H529.4V469.4H530.4V469.1H531.4V468.8H532.4V467.9H533.4V466.6H534.4V465.0H535.4V463.2H536.4V463.0H537.4V463.7H538.4V466.2H540.4V466.0H541.4V467.7H542.4V468.0H543.4V468.2H544.4V467.9H545.4V467.2H546.4V464.8H547.4V464.1H548.4V463.9H549.4V466.8H550.4V469.1H551.4V468.2H552.4V468.0H553.4V464.8H554.4V466.9H555.4V466.4H556.4V464.4H557.4V465.1H558.4V465.6H559.4V462.2H560.4V461.5H561.4V461.8H562.4V457.8H563.4V459.4H564.4V456.9H565.4V455.1H566.4V454.4H567.4V459.8H568.4V460.2H569.4V462.3H570.4V464.4H571.4V466.8H572.4V466.2H573.4V465.4H574.4V462.9H575.4V461.5H576.4V462.5H578.4V457.8H579.4V457.5H580.4V455.2H581.4V456.3H582.4V454.5H583.4V458.2H584.4V464.5H585.4V468.5H586.4V469.7H587.4V471.3H588.4V472.3H589.4V471.8H590.4V470.9H591.4V469.6H592.4V468.0H593.4V463.7H594.4V459.5H595.4V455.5H596.4V453.3H597.4V455.3H598.4V456.5H599.4V462.2H600.4V454.6H601.4V456.6H602.4V453.9H603.4V451.5H604.4V451.0H605.4V450.9H606.4V451.3H607.4V458.3H608.4V461.1H609.4V463.3H610.4V468.4H611.4V471.6H612.4V468.4H613.4V466.6H614.4V464.7H615.4V468.2H616.4V471.4H617.4V470.4H618.4V469.3H619.4V467.3H620.4V467.4H622.4V468.8H623.4V467.7H624.4V468.7H625.4V465.7H626.4V460.8H627.4V458.2H628.4V462.6H629.4V463.8H630.4V463.3H631.4V464.5H632.4V466.1H633.4V465.9H634.4V466.4H635.4V466.3H636.4V464.4H637.4V463.6H638.4V461.8H639.4V460.9H640.4V458.9H641.4V454.7H642.4V453.4H643.4V457.2H644.4V463.7H645.4V464.4H646.4V461.1H647.4V464.1H648.4V466.5H649.4V470.1H650.4V469.2H651.4V468.5H652.4V468.2H653.4V466.5H654.4V465.7H655.4V466.1H657.4V464.8H658.4V465.2H659.4V464.9H660.4V466.9H661.4V461.2H662.4V454.1H663.4V456.2H664.4V459.7H665.4V464.8H666.4V460.2H667.4V455.7H668.4V453.3H669.4V458.1H671.4V457.7H672.4V462.5H673.4V463.6H674.4V466.1H675.4V467.9H676.4V469.0H677.4V469.4H678.4V465.5H679.4V460.5H680.4V458.6H681.4V458.1H682.4V457.5H683.4V456.7H684.4V458.6H685.4V459.4H686.4V457.3H687.4V460.4H688.4V459.9H689.4V462.1H690.4V462.3H691.4V464.8H692.4V462.0H693.4V458.4H694.4V462.2H695.4V462.9H696.4V463.6H697.4V460.4H698.4V456.6H699.4V455.8H700.4V453.8H701.4V449.8H702.4V455.5H703.4V456.4H704.4V459.3H705.4V462.2H706.4V465.6H707.4V465.9H708.4V464.2H709.4V461.9H710.4V459.3H711.4V460.8H712.4V462.0H713.4V463.2H714.4V461.7H715.4V457.6H716.4V462.0H717.4V465.8H718.4V465.6H719.4V461.9H720.4V460.2H721.4V457.0H722.4V461.2H723.4V465.8H724.4V465.7H725.4V464.7H726.4V464.5H727.4V464.6H728.4V463.1H729.4V459.8H730.4V457.0H731.4V455.5H732.4V452.9H733.4V456.9H734.4V454.8H735.4V456.7H736.4V458.6H737.4V461.5H738.4V463.0H739.4V465.7H740.4V467.8H741.4V470.1H742.4V470.8H743.4V471.9H744.4V471.4H745.4V468.8H746.4V467.8H747.4V468.5H748.4V470.1H749.4V469.1H750.4V466.5H751.4V465.1H752.4V460.9H753.4V463.2H754.4V465.4H755.4V467.1H756.4V466.4H757.4V464.0H758.4V462.5H759.4V461.6H760.4V463.1H761.4V464.8H762.4V466.3H763.4V469.3H764.4V469.8H765.4V469.9H766.4V466.8H767.4V463.6H768.4V461.9H769.4V462.3H770.4V459.6H771.4V457.8H772.4V460.8H773.4V462.0H774.4V461.8H775.4V465.0H776.4V466.5H777.4V467.7H778.4V469.3H779.4V468.1H780.4V466.7H781.4V467.0H782.4V467.1H783.4V466.9H784.4V467.9H785.4V466.5H786.4V466.0H787.4V461.6H788.4V457.6H789.4V454.4H790.4V451.6H791.4V456.1H792.4V462.7H793.4V466.2H794.4V465.9H796.4V467.8H798.4V467.4H799.4V466.6H800.4V467.5H801.4V465.1H802.4V459.8H803.4V452.7H804.4V452.4H805.4V450.1H806.4V451.8H807.4V450.6H808.4V452.0H809.4V458.0H810.4V461.0H811.4V460.0H812.4V460.5H813.4V462.9H814.4V461.8H815.4V460.0H816.4V460.1H817.4V456.8H819.4V457.8H820.4V458.9H821.4V459.0H823.4V465.4H824.4V467.3H825.4V469.4H826.4V468.2H827.4V468.4H828.4V467.0H829.4V464.2H830.4V462.3H831.4V462.9H832.4V459.5H833.4V458.6H834.4V455.9H835.4V454.6H836.4V458.8H837.4V461.1H838.4V461.6H839.4V464.1H840.4V464.0H841.4V465.6H842.4V466.1H843.4V465.7H844.4V463.2H845.4V459.8H846.4V460.3H847.4V459.2H848.4V458.9H849.4V464.3H850.4V468.2H851.4V466.9H852.4V464.8H853.4V465.1H854.4V462.1H855.4V463.6H856.4V463.9H857.4V464.0H858.4V466.0H859.4V465.0H860.4V461.4H861.4V459.9H862.4V463.5H863.4V464.9H864.4V467.1H865.4V463.4H866.4V460.4H867.4V460.2H868.4V458.0H869.4V459.2H870.4V462.0H871.4V464.9H872.4V464.7H873.4V465.4H874.4V466.6H875.4V467.6H876.4V465.5H877.4V465.4H878.4V464.0H879.4V464.7H880.4V464.9H881.4V463.9H882.4V465.0H883.4V464.4H884.4V465.9H885.4V464.0H886.4V461.8H887.4V460.1H888.4V456.5H889.4V464.4H890.4V464.5H891.4V464.3H892.4V463.3H893.4V474Z" fill="#7C89AC"/>
<line x1="303.09999999999997" y1="474" x2="893.0" y2="474" stroke="#1a1a1a" stroke-width="1.15"/>
<line x1="303.9" y1="449.3" x2="303.9" y2="474.6" stroke="#000" stroke-width="1.7"/>
<path d="M304.4,509V505.1H305.4V505.2H306.4V504.1H307.4V503.5H308.4V503.8H309.4V504.4H310.4V506.0H312.4V506.3H313.4V506.0H314.4V505.6H315.4V504.7H316.4V504.5H317.4V504.8H318.4V505.0H319.4V504.0H320.4V502.8H321.4V501.8H322.4V498.6H323.4V496.2H324.4V497.1H325.4V500.5H326.4V502.1H327.4V504.6H328.4V505.5H330.4V504.4H331.4V503.3H332.4V501.4H333.4V501.8H334.4V499.5H335.4V499.2H336.4V497.8H337.4V493.4H338.4V490.8H339.4V490.3H340.4V492.2H341.4V486.4H342.4V487.2H343.4V487.1H344.4V487.2H345.4V489.5H346.4V495.4H347.4V495.9H348.4V495.6H349.4V498.6H350.4V499.8H351.4V499.0H352.4V500.0H353.4V499.1H354.4V502.2H355.4V501.8H356.4V503.2H357.4V502.1H358.4V503.3H359.4V505.3H360.4V507.8H361.4V504.4H362.4V501.0H363.4V498.4H364.4V496.9H365.4V495.7H366.4V494.5H367.4V496.8H368.4V494.1H369.4V496.3H370.4V495.1H371.4V497.3H372.4V496.2H373.4V492.8H375.4V490.7H376.4V485.7H377.4V486.3H378.4V489.4H379.4V487.1H380.4V492.6H381.4V498.0H382.4V503.5H383.4V500.5H384.4V500.6H385.4V498.1H386.4V494.5H387.4V495.0H388.4V493.0H389.4V493.9H390.4V494.7H391.4V495.0H392.4V491.6H393.4V496.9H394.4V498.9H395.4V500.5H396.4V503.9H397.4V504.9H398.4V506.2H399.4V504.8H400.4V504.2H401.4V503.2H402.4V500.5H403.4V500.6H404.4V499.7H405.4V497.5H406.4V497.4H407.4V497.1H408.4V494.9H410.4V498.2H411.4V499.4H412.4V499.1H413.4V498.3H414.4V497.7H415.4V498.7H416.4V499.6H417.4V501.6H418.4V504.4H419.4V503.2H420.4V503.6H421.4V503.4H422.4V502.9H423.4V499.1H424.4V497.6H425.4V496.6H426.4V496.5H427.4V498.3H428.4V496.7H429.4V500.3H430.4V502.1H431.4V502.3H432.4V502.5H433.4V504.1H434.4V504.6H435.4V504.4H436.4V503.6H437.4V502.1H438.4V503.3H440.4V504.1H441.4V499.6H442.4V495.0H443.4V496.5H444.4V491.9H445.4V490.2H446.4V489.0H447.4V492.0H448.4V489.4H449.4V487.9H450.4V490.2H451.4V489.3H452.4V494.6H453.4V495.5H454.4V498.5H455.4V500.7H456.4V502.2H457.4V500.9H458.4V498.7H459.4V497.3H460.4V497.0H461.4V494.1H462.4V492.8H463.4V490.9H464.4V494.1H465.4V493.1H466.4V494.1H467.4V496.1H468.4V497.4H469.4V501.1H470.4V503.7H471.4V502.5H472.4V501.0H473.4V501.4H474.4V501.3H475.4V498.9H476.4V499.4H477.4V497.6H479.4V498.6H480.4V500.4H481.4V501.9H482.4V497.8H483.4V494.4H484.4V498.2H485.4V500.7H486.4V502.1H487.4V504.3H488.4V504.9H489.4V505.4H490.4V505.5H491.4V503.4H492.4V501.0H493.4V499.9H494.4V501.6H495.4V504.9H496.4V507.5H498.4V507.9H499.4V508.3H500.4V508.0H501.4V508.2H502.4V508.4H503.4V508.1H504.4V508.5H505.4V508.1H506.4V507.9H507.4V507.7H508.4V507.3H509.4V507.5H510.4V507.1H511.4V507.5H512.4V507.7H513.4V507.5H514.4V506.5H515.4V505.8H516.4V505.1H517.4V502.2H518.4V499.5H519.4V497.8H520.4V494.4H521.4V494.5H522.4V491.6H524.4V492.5H525.4V498.0H526.4V501.6H527.4V502.0H528.4V501.3H529.4V500.3H530.4V499.3H531.4V498.1H532.4V497.0H533.4V495.9H534.4V497.4H535.4V495.6H536.4V497.4H537.4V499.1H538.4V500.2H539.4V501.0H540.4V501.9H542.4V500.2H543.4V500.9H544.4V497.9H545.4V497.7H546.4V497.0H547.4V499.1H548.4V501.0H549.4V500.6H550.4V502.6H551.4V504.5H552.4V507.0H553.4V508.3H554.4V507.4H555.4V506.8H556.4V506.2H557.4V503.4H558.4V502.0H559.4V499.2H560.4V498.1H561.4V496.3H562.4V490.4H563.4V493.1H564.4V496.2H565.4V497.2H566.4V498.7H567.4V498.3H568.4V498.1H569.4V499.9H570.4V502.2H571.4V503.4H573.4V501.6H574.4V500.6H575.4V497.4H576.4V492.4H577.4V491.0H578.4V493.3H579.4V491.6H580.4V494.5H581.4V495.0H582.4V495.6H584.4V493.6H585.4V495.0H586.4V497.3H587.4V501.7H588.4V504.5H589.4V506.4H590.4V504.0H591.4V501.0H593.4V500.0H594.4V500.2H595.4V498.3H596.4V498.6H597.4V499.1H598.4V497.4H599.4V497.2H600.4V492.4H601.4V490.2H602.4V489.7H603.4V489.0H605.4V490.6H606.4V492.2H607.4V492.8H608.4V492.3H609.4V485.4H610.4V484H611.4V486.3H612.4V490.7H613.4V491.1H614.4V492.6H615.4V498.7H616.4V502.4H617.4V506.1H618.4V506.5H619.4V507.6H620.4V508.4H621.4V506.2H622.4V504.1H623.4V504.5H624.4V503.2H625.4V504.0H626.4V504.6H627.4V504.0H628.4V503.8H629.4V503.4H630.4V501.7H631.4V503.9H632.4V506.0H633.4V508.0H634.4V506.9H635.4V505.1H636.4V503.4H637.4V501.8H638.4V499.5H639.4V499.4H640.4V497.0H641.4V497.4H642.4V500.0H643.4V500.4H644.4V498.3H646.4V496.4H647.4V495.8H648.4V497.7H649.4V502.0H650.4V502.2H651.4V502.0H652.4V501.1H653.4V499.1H654.4V498.2H655.4V495.7H656.4V493.4H657.4V494.2H658.4V492.6H659.4V494.4H660.4V491.8H661.4V493.6H662.4V491.9H663.4V497.5H664.4V497.8H665.4V497.4H666.4V499.8H667.4V498.4H668.4V499.7H669.4V500.4H670.4V500.6H671.4V501.6H672.4V500.5H673.4V501.6H676.4V502.9H677.4V502.4H678.4V502.8H679.4V502.6H680.4V503.8H681.4V504.5H682.4V504.1H683.4V504.3H684.4V502.8H685.4V500.8H686.4V496.5H687.4V497.6H688.4V495.5H689.4V497.9H690.4V497.7H691.4V498.3H692.4V493.9H693.4V494.6H694.4V494.1H695.4V493.0H696.4V495.8H697.4V496.0H698.4V494.0H699.4V495.7H700.4V495.2H701.4V494.2H702.4V495.2H703.4V496.0H704.4V495.1H705.4V494.6H706.4V491.8H707.4V491.1H708.4V490.0H709.4V484.5H710.4V487.5H711.4V489.0H712.4V488.6H713.4V484.5H714.4V490.3H715.4V487.7H716.4V489.4H717.4V489.9H718.4V491.6H719.4V492.5H720.4V492.1H721.4V496.8H722.4V493.3H723.4V491.8H724.4V496.0H725.4V496.2H726.4V495.5H727.4V496.4H728.4V499.3H729.4V498.5H730.4V499.0H731.4V499.6H732.4V497.7H733.4V499.7H734.4V499.1H735.4V499.4H736.4V499.3H737.4V499.4H738.4V502.4H739.4V503.0H740.4V503.6H741.4V505.4H743.4V506.3H744.4V507.3H745.4V507.4H746.4V508.2H747.4V507.3H748.4V506.7H749.4V505.6H750.4V504.6H751.4V503.9H752.4V504.3H753.4V502.7H754.4V502.2H755.4V503.2H756.4V501.3H757.4V502.5H758.4V502.3H759.4V500.7H760.4V501.1H761.4V503.0H762.4V504.9H763.4V505.2H764.4V502.9H765.4V499.4H766.4V498.6H767.4V497.9H768.4V500.0H769.4V498.0H770.4V495.5H771.4V492.5H772.4V490.6H773.4V488.2H774.4V485.2H775.4V489.2H776.4V493.3H777.4V497.4H778.4V497.1H779.4V496.9H780.4V497.8H781.4V500.3H782.4V504.1H783.4V506.6H784.4V507.1H785.4V505.8H786.4V504.8H787.4V503.7H788.4V502.5H789.4V503.8H790.4V503.3H791.4V504.2H792.4V504.5H793.4V503.9H794.4V501.7H795.4V502.1H796.4V500.0H797.4V498.6H798.4V496.9H799.4V494.8H800.4V495.1H801.4V493.0H802.4V490.3H803.4V490.2H804.4V491.9H805.4V491.0H806.4V487.6H807.4V490.3H808.4V490.9H809.4V497.8H810.4V498.5H811.4V493.4H812.4V494.0H813.4V492.4H814.4V491.3H815.4V495.2H816.4V495.6H817.4V496.9H818.4V496.5H819.4V497.0H820.4V496.4H821.4V497.0H822.4V496.0H823.4V499.5H824.4V499.0H825.4V500.4H826.4V501.9H827.4V503.9H828.4V504.6H829.4V504.2H830.4V504.7H831.4V501.9H832.4V499.7H833.4V497.1H834.4V496.0H835.4V493.4H836.4V497.8H837.4V498.2H839.4V497.6H840.4V494.7H841.4V495.1H842.4V498.8H843.4V499.8H844.4V497.8H845.4V497.5H846.4V495.0H847.4V494.7H848.4V494.4H849.4V493.4H850.4V496.8H851.4V497.0H852.4V496.4H853.4V495.6H854.4V497.7H855.4V500.0H856.4V503.4H857.4V500.1H858.4V497.8H859.4V492.0H860.4V484.7H861.4V485.7H862.4V491.0H863.4V492.7H864.4V491.5H865.4V497.3H867.4V494.2H868.4V489.5H869.4V490.6H870.4V493.5H871.4V497.2H872.4V496.8H873.4V500.1H874.4V501.1H875.4V503.6H876.4V501.3H877.4V498.4H878.4V496.1H879.4V492.1H880.4V491.4H881.4V493.0H882.4V490.7H883.4V489.7H884.4V490.3H885.4V490.1H886.4V490.3H887.4V496.9H888.4V499.7H889.4V504.6H890.4V505.2H891.4V506.8H892.4V506.6H893.4V509Z" fill="#7C89AC"/>
<line x1="303.09999999999997" y1="509" x2="893.0" y2="509" stroke="#1a1a1a" stroke-width="1.15"/>
<line x1="303.9" y1="484.3" x2="303.9" y2="509.6" stroke="#000" stroke-width="1.7"/>
<path d="M306.7,544v-3.3h1.7v3.3zM310.9,544v-4.2h1.0v4.2zM401.5,544v-3.7h1.3v3.7zM430.2,544v-1.7h3.3v1.7zM458.1,544v-3.7h1.7v3.7zM459.6,544v-2.0h1.3v2.0zM487.8,544v-2.5h1.7v2.5zM489.1,544v-9.5h1.3v9.5zM490.7,544v-5.8h1.0v5.8zM541.2,544v-1.2h3.3v1.2zM617.4,544v-0.5h1.3v0.5zM621.0,544v-0.3h1.3v0.3zM745.4,544v-2.0h1.3v2.0zM746.6,544v-4.7h1.3v4.7zM748.1,544v-6.7h1.7v6.7zM856.4,544v-0.5h1.3v0.5z" fill="#86CDBF"/>
<line x1="303.09999999999997" y1="544" x2="893.0" y2="544" stroke="#1a1a1a" stroke-width="1.15"/>
<line x1="303.9" y1="519.3" x2="303.9" y2="544.6" stroke="#000" stroke-width="1.7"/>
<path d="M306.7,579v-6.7h1.7v6.7zM309.3,579v-15.0h1.3v15.0zM310.9,579v-23.4h1.0v23.4zM312.0,579v-5.8h1.0v5.8zM401.5,579v-9.2h1.3v9.2zM403.2,579v-1.3h1.3v1.3zM404.8,579v-2.0h2.5v2.0zM431.2,579v-6.2h1.3v6.2zM432.6,579v-4.7h1.3v4.7zM458.1,579v-3.8h1.7v3.8zM461.1,579v-2.5h1.0v2.5zM486.8,579v-2.0h2.0v2.0zM489.1,579v-7.8h1.3v7.8zM490.7,579v-4.2h1.0v4.2zM541.2,579v-1.7h3.3v1.7zM617.4,579v-1.3h1.3v1.3zM682.2,579v-0.5h2.5v0.5zM746.2,579v-3.7h1.3v3.7zM748.4,579v-2.5h1.3v2.5zM785.0,579v-2.5h1.3v2.5zM786.1,579v-8.7h1.7v8.7zM787.6,579v-3.3h1.0v3.3zM856.1,579v-3.0h1.3v3.0zM879.0,579v-1.3h2.0v1.3z" fill="#86CDBF"/>
<line x1="303.09999999999997" y1="579" x2="893.0" y2="579" stroke="#1a1a1a" stroke-width="1.15"/>
<line x1="303.9" y1="554.3" x2="303.9" y2="579.6" stroke="#000" stroke-width="1.7"/>
<text x="555.8" y="619.8" font-size="22.8">TNFSF11</text>
<line x1="546.3" y1="630.5" x2="829.8" y2="630.5" stroke="#000" stroke-width="1.3"/>
<path d="M549.5,630.5H569.5M573.5,630.5H601.5M605,630.5H660.5M664,630.5H783.5M787.5,630.5H822" stroke="#000" stroke-width="4.7" fill="none"/>
<rect x="545.7" y="627.25" width="1.6" height="6.5" fill="#111"/>
<rect x="569.8000000000001" y="627.75" width="1.6" height="5.5" fill="#111"/>
<rect x="661.1" y="625.25" width="1.6" height="10.5" fill="#111"/>
<rect x="784.2" y="625.25" width="1.6" height="10.5" fill="#111"/>
<rect x="820.7" y="625.75" width="1.6" height="9.5" fill="#111"/>
<rect x="822" y="626.6" width="8" height="7.8" fill="#000"/>
<line x1="1036.6" y1="50" x2="1036.6" y2="191.5" stroke="#000" stroke-width="3"/>
<line x1="1031.6" y1="191.5" x2="1042" y2="191.5" stroke="#000" stroke-width="3"/>
<line x1="1031.6" y1="210.6" x2="1042" y2="210.6" stroke="#000" stroke-width="3"/>
<line x1="1036.6" y1="210.6" x2="1036.6" y2="481.8" stroke="#000" stroke-width="3"/>
<line x1="1026.2" y1="480.3" x2="1220.5" y2="480.3" stroke="#000" stroke-width="3"/>
<line x1="1026.2" y1="73.8" x2="1036.6" y2="73.8" stroke="#000" stroke-width="2.8"/>
<text x="1014.5" y="83.6" font-size="27" text-anchor="end">40</text>
<line x1="1026.2" y1="171.2" x2="1036.6" y2="171.2" stroke="#000" stroke-width="2.8"/>
<text x="1014.5" y="181.0" font-size="27" text-anchor="end">30</text>
<line x1="1026.2" y1="281.6" x2="1036.6" y2="281.6" stroke="#000" stroke-width="2.8"/>
<text x="1014.5" y="291.40000000000003" font-size="27" text-anchor="end">2</text>
<line x1="1026.2" y1="381" x2="1036.6" y2="381" stroke="#000" stroke-width="2.8"/>
<text x="1014.5" y="390.8" font-size="27" text-anchor="end">1</text>
<line x1="1026.2" y1="480.3" x2="1036.6" y2="480.3" stroke="#000" stroke-width="2.8"/>
<text x="1014.5" y="490.1" font-size="27" text-anchor="end">0</text>
<text x="974" y="266" font-size="27" text-anchor="middle" transform="rotate(-90 974 266)">TPM</text>
<line x1="1106.5" y1="413.2" x2="1106.5" y2="418.8" stroke="#3C5C8B" stroke-width="2"/>
<rect x="1093.1" y="418.8" width="26.4" height="60.2" fill="none" stroke="#3C5C8B" stroke-width="2"/>
<line x1="1093.1" y1="457.2" x2="1119.5" y2="457.2" stroke="#3C5C8B" stroke-width="2"/>
<circle cx="1106.5" cy="301.4" r="3.3" fill="#000"/>
<circle cx="1106.5" cy="413.2" r="3.3" fill="#000"/>
<circle cx="1106.5" cy="438.8" r="3.3" fill="#000"/>
<circle cx="1106.5" cy="476.1" r="3.3" fill="#000"/>
<circle cx="1106.5" cy="480.9" r="3.3" fill="#000"/>
<line x1="1168.3" y1="262.4" x2="1168.3" y2="304.4" stroke="#EC5640" stroke-width="2"/>
<line x1="1168.3" y1="438" x2="1168.3" y2="463.6" stroke="#EC5640" stroke-width="2"/>
<rect x="1155.4" y="304.4" width="25.6" height="133.6" fill="none" stroke="#EC5640" stroke-width="2"/>
<line x1="1155.4" y1="360.7" x2="1181" y2="360.7" stroke="#EC5640" stroke-width="2"/>
<circle cx="1168.5" cy="87.9" r="3.3" fill="#000"/>
<circle cx="1168.5" cy="262.4" r="3.3" fill="#000"/>
<circle cx="1168.5" cy="305" r="3.3" fill="#000"/>
<circle cx="1168.5" cy="361.8" r="3.3" fill="#000"/>
<circle cx="1168.5" cy="438.5" r="3.3" fill="#000"/>
<circle cx="1168.5" cy="463.6" r="3.3" fill="#000"/>
<g transform="rotate(1 1261.5 208.5)"><line x1="1261.7" y1="182.2" x2="1261.7" y2="192" stroke="#3C5C8B" stroke-width="2"/>
<line x1="1261.7" y1="224.6" x2="1261.7" y2="235.1" stroke="#3C5C8B" stroke-width="2"/>
<rect x="1237" y="192" width="49" height="32.6" fill="none" stroke="#3C5C8B" stroke-width="2"/>
<line x1="1237" y1="208.6" x2="1286" y2="208.6" stroke="#3C5C8B" stroke-width="2"/></g>
<line x1="1260" y1="252.4" x2="1260" y2="262.1" stroke="#EC5640" stroke-width="2"/>
<line x1="1260" y1="294.4" x2="1260" y2="304.7" stroke="#EC5640" stroke-width="2"/>
<rect x="1235.6" y="262.1" width="48.9" height="32.3" fill="none" stroke="#EC5640" stroke-width="2"/>
<line x1="1235.6" y1="278.2" x2="1284.5" y2="278.2" stroke="#EC5640" stroke-width="2"/>
<text x="1299.6" y="219" font-size="22.5">WT</text>
<text x="1300" y="289.4" font-size="22.5">MUT</text>
<text x="1149.8" y="507" font-size="27" text-anchor="end" transform="rotate(-45 1149.8 507)">TNFSF11</text>
<line x1="1520" y1="72" x2="1520" y2="475.3" stroke="#000" stroke-width="3"/>
<line x1="1520" y1="473.8" x2="1688.2" y2="473.8" stroke="#000" stroke-width="3"/>
<line x1="1508.8" y1="127.2" x2="1520" y2="127.2" stroke="#000" stroke-width="2.8"/>
<text x="1496" y="137.0" font-size="27" text-anchor="end">250</text>
<line x1="1508.8" y1="196.8" x2="1520" y2="196.8" stroke="#000" stroke-width="2.8"/>
<text x="1496" y="206.60000000000002" font-size="27" text-anchor="end">200</text>
<line x1="1508.8" y1="266.4" x2="1520" y2="266.4" stroke="#000" stroke-width="2.8"/>
<text x="1496" y="276.2" font-size="27" text-anchor="end">150</text>
<line x1="1508.8" y1="336" x2="1520" y2="336" stroke="#000" stroke-width="2.8"/>
<text x="1496" y="345.8" font-size="27" text-anchor="end">100</text>
<line x1="1508.8" y1="406" x2="1520" y2="406" stroke="#000" stroke-width="2.8"/>
<text x="1496" y="415.8" font-size="27" text-anchor="end">50</text>
<line x1="1508.8" y1="475.2" x2="1520" y2="475.2" stroke="#000" stroke-width="2.8"/>
<text x="1496" y="485.0" font-size="27" text-anchor="end">0</text>
<text x="1431.5" y="274" font-size="27" text-anchor="middle" transform="rotate(-90 1431.5 274)">TPM</text>
<line x1="1576.2" y1="135" x2="1576.2" y2="248.8" stroke="#3C5C8B" stroke-width="2"/>
<rect x="1564" y="248.8" width="24.6" height="133.1" fill="none" stroke="#3C5C8B" stroke-width="2"/>
<line x1="1564" y1="302" x2="1588.6" y2="302" stroke="#3C5C8B" stroke-width="2"/>
<circle cx="1575.6" cy="135" r="3.3" fill="#000"/>
<circle cx="1575.6" cy="245.5" r="3.3" fill="#000"/>
<circle cx="1575.6" cy="263.2" r="3.3" fill="#000"/>
<circle cx="1575.6" cy="343.2" r="3.3" fill="#000"/>
<circle cx="1575.6" cy="395.6" r="3.3" fill="#000"/>
<circle cx="1575.6" cy="418.4" r="3.3" fill="#000"/>
<line x1="1627.8" y1="266.2" x2="1627.8" y2="363.6" stroke="#EC5640" stroke-width="2"/>
<rect x="1616" y="363.6" width="24.2" height="102.3" fill="none" stroke="#EC5640" stroke-width="2"/>
<line x1="1616" y1="460.4" x2="1640.2" y2="460.4" stroke="#EC5640" stroke-width="2"/>
<circle cx="1627.4" cy="266.2" r="3.3" fill="#000"/>
<circle cx="1627.4" cy="333.9" r="3.3" fill="#000"/>
<circle cx="1627.4" cy="456.9" r="3.3" fill="#000"/>
<circle cx="1627.4" cy="466.4" r="3.3" fill="#000"/>
<g transform="rotate(1 1709 221.5)"><line x1="1708.8" y1="194.9" x2="1708.8" y2="204.9" stroke="#3C5C8B" stroke-width="2"/>
<line x1="1708.8" y1="237.9" x2="1708.8" y2="247.9" stroke="#3C5C8B" stroke-width="2"/>
<rect x="1684.5" y="204.9" width="49.4" height="33.0" fill="none" stroke="#3C5C8B" stroke-width="2"/>
<line x1="1684.5" y1="221.6" x2="1733.9" y2="221.6" stroke="#3C5C8B" stroke-width="2"/></g>
<line x1="1707.2" y1="264.6" x2="1707.2" y2="275" stroke="#EC5640" stroke-width="2"/>
<line x1="1707.2" y1="307.5" x2="1707.2" y2="317.4" stroke="#EC5640" stroke-width="2"/>
<rect x="1682.9" y="275" width="49.1" height="32.5" fill="none" stroke="#EC5640" stroke-width="2"/>
<line x1="1682.9" y1="291.3" x2="1732" y2="291.3" stroke="#EC5640" stroke-width="2"/>
<text x="1747.4" y="230.4" font-size="22.5">WT</text>
<text x="1747.8" y="301" font-size="22.5">MUT</text>
<text x="1612" y="502" font-size="27" text-anchor="end" transform="rotate(-45 1612 502)">TNFRSF11B</text>
<line x1="93.5" y1="772" x2="93.5" y2="1287.3" stroke="#000" stroke-width="3"/>
<line x1="93.5" y1="1285.8" x2="340.1" y2="1285.8" stroke="#000" stroke-width="3"/>
<line x1="87.7" y1="899" x2="93.5" y2="899" stroke="#000" stroke-width="2.8"/>
<text x="79" y="908.8" font-size="27" text-anchor="end">−1</text>
<line x1="87.7" y1="1031.3" x2="93.5" y2="1031.3" stroke="#000" stroke-width="2.8"/>
<text x="79" y="1041.1" font-size="27" text-anchor="end">−2</text>
<line x1="87.7" y1="1163.8" x2="93.5" y2="1163.8" stroke="#000" stroke-width="2.8"/>
<text x="79" y="1173.6" font-size="27" text-anchor="end">−3</text>
<text x="79" y="1296.1" font-size="27" text-anchor="end">−4</text>
<line x1="160.6" y1="1285.8" x2="160.6" y2="1291.7" stroke="#000" stroke-width="2.8"/>
<line x1="273.2" y1="1285.8" x2="273.2" y2="1291.7" stroke="#000" stroke-width="2.8"/>
<text x="25" y="1030" font-size="27" text-anchor="middle" transform="rotate(-90 25 1030)">LFC relative to control</text>
<line x1="160.9" y1="1011.5" x2="160.9" y2="1112.8" stroke="#000" stroke-width="1.9"/>
<line x1="160.9" y1="1246.3" x2="160.9" y2="1262.4" stroke="#000" stroke-width="1.9"/>
<rect x="118.7" y="1112.8" width="84.7" height="133.5" fill="none" stroke="#000" stroke-width="1.9"/>
<line x1="118.7" y1="1193.7" x2="203.4" y2="1193.7" stroke="#000" stroke-width="1.9"/>
<rect x="171.5" y="1007.9" width="6.4" height="7.6" fill="#000"/>
<rect x="144.3" y="1143.4" width="6.4" height="7.6" fill="#000"/>
<rect x="133.8" y="1237.1" width="6.4" height="7.6" fill="#000"/>
<rect x="147.2" y="1258.9" width="6.4" height="7.6" fill="#000"/>
<line x1="272.8" y1="795.6" x2="272.8" y2="812.4" stroke="#000" stroke-width="1.9"/>
<rect x="230.6" y="812.4" width="85.0" height="15.8" fill="none" stroke="#000" stroke-width="1.9"/>
<line x1="230.6" y1="818.8" x2="315.6" y2="818.8" stroke="#000" stroke-width="1.9"/>
<rect x="296.1" y="791.2" width="6.4" height="7.6" fill="#000"/>
<rect x="280.8" y="815.3" width="6.4" height="7.6" fill="#000"/>
<rect x="291.0" y="815.2" width="6.4" height="7.6" fill="#000"/>
<rect x="289.6" y="849.2" width="6.4" height="7.6" fill="#000"/>
<text x="174" y="1315" font-size="27" text-anchor="end" transform="rotate(-45 174 1315)">EBF2</text>
<text x="284" y="1315" font-size="27" text-anchor="end" transform="rotate(-45 284 1315)">TNFRSF11B</text>
<line x1="491.7" y1="793" x2="491.7" y2="1281" stroke="#000" stroke-width="3"/>
<line x1="480.4" y1="1279.5" x2="935.2" y2="1279.5" stroke="#000" stroke-width="3"/>
<line x1="480.4" y1="827.5" x2="491.7" y2="827.5" stroke="#000" stroke-width="2.8"/>
<text x="468" y="837.3" font-size="27" text-anchor="end">40</text>
<line x1="480.4" y1="940.5" x2="491.7" y2="940.5" stroke="#000" stroke-width="2.8"/>
<text x="468" y="950.3" font-size="27" text-anchor="end">30</text>
<line x1="480.4" y1="1053.2" x2="491.7" y2="1053.2" stroke="#000" stroke-width="2.8"/>
<text x="468" y="1063.0" font-size="27" text-anchor="end">20</text>
<line x1="480.4" y1="1166.5" x2="491.7" y2="1166.5" stroke="#000" stroke-width="2.8"/>
<text x="468" y="1176.3" font-size="27" text-anchor="end">10</text>
<line x1="480.4" y1="1279.5" x2="491.7" y2="1279.5" stroke="#000" stroke-width="2.8"/>
<text x="468" y="1289.3" font-size="27" text-anchor="end">0</text>
<text x="419" y="1053" font-size="27" text-anchor="middle" transform="rotate(-90 419 1053)">TPM</text>
<line x1="596.9" y1="728.1" x2="596.9" y2="738.4" stroke="#3C5C8B" stroke-width="2"/>
<line x1="596.9" y1="772" x2="596.9" y2="782.3" stroke="#3C5C8B" stroke-width="2"/>
<rect x="572.7" y="738.4" width="49.7" height="33.6" fill="none" stroke="#3C5C8B" stroke-width="2"/>
<line x1="572.7" y1="755.2" x2="622.4" y2="755.2" stroke="#3C5C8B" stroke-width="2"/>
<line x1="744.7" y1="728.1" x2="744.7" y2="738.4" stroke="#EC5640" stroke-width="2"/>
<line x1="744.7" y1="772" x2="744.7" y2="782.3" stroke="#EC5640" stroke-width="2"/>
<rect x="719.9" y="738.4" width="49.7" height="33.6" fill="none" stroke="#EC5640" stroke-width="2"/>
<line x1="719.9" y1="755.2" x2="769.6" y2="755.2" stroke="#EC5640" stroke-width="2"/>
<text x="636" y="766.2" font-size="22.5">WT</text>
<text x="784.1" y="766.2" font-size="22.5">MUT</text>
<line x1="541" y1="1192.7" x2="541" y2="1200" stroke="#3C5C8B" stroke-width="2"/>
<rect x="528.2" y="1164" width="26.1" height="28.7" fill="none" stroke="#3C5C8B" stroke-width="2"/>
<line x1="528.2" y1="1169.8" x2="554.3" y2="1169.8" stroke="#3C5C8B" stroke-width="2"/>
<circle cx="540.4" cy="1118.8" r="3.3" fill="#000"/>
<circle cx="540.4" cy="1163.6" r="3.3" fill="#000"/>
<circle cx="540.4" cy="1167.5" r="3.3" fill="#000"/>
<circle cx="540.4" cy="1173" r="3.3" fill="#000"/>
<circle cx="540.4" cy="1199.8" r="3.3" fill="#000"/>
<circle cx="540.4" cy="1205.9" r="3.3" fill="#000"/>
<line x1="567.9" y1="1001.5" x2="567.9" y2="1082.3" stroke="#EC5640" stroke-width="2"/>
<rect x="555" y="1082.3" width="26.4" height="124.6" fill="none" stroke="#EC5640" stroke-width="2"/>
<line x1="555" y1="1135.9" x2="581.4" y2="1135.9" stroke="#EC5640" stroke-width="2"/>
<circle cx="566.9" cy="1001.5" r="3.3" fill="#000"/>
<circle cx="566.9" cy="1075.8" r="3.3" fill="#000"/>
<circle cx="566.9" cy="1103.9" r="3.3" fill="#000"/>
<circle cx="566.9" cy="1168.8" r="3.3" fill="#000"/>
<circle cx="566.9" cy="1220.8" r="3.3" fill="#000"/>
<circle cx="566.9" cy="1222.7" r="3.3" fill="#000"/>
<line x1="647" y1="943.7" x2="647" y2="1074.5" stroke="#3C5C8B" stroke-width="2"/>
<rect x="634.4" y="1074.5" width="26.1" height="158.8" fill="none" stroke="#3C5C8B" stroke-width="2"/>
<line x1="634.4" y1="1221.1" x2="660.5" y2="1221.1" stroke="#3C5C8B" stroke-width="2"/>
<circle cx="646" cy="943.7" r="3.3" fill="#000"/>
<circle cx="646" cy="1029.6" r="3.3" fill="#000"/>
<circle cx="646" cy="1213.3" r="3.3" fill="#000"/>
<circle cx="646" cy="1230.4" r="3.3" fill="#000"/>
<circle cx="646" cy="1234.6" r="3.3" fill="#000"/>
<circle cx="646" cy="1239.8" r="3.3" fill="#000"/>
<line x1="660.8" y1="1278.6" x2="686.6" y2="1278.6" stroke="#EC5640" stroke-width="1.5"/>
<circle cx="672.4" cy="1278.2" r="2.6" fill="#000"/>
<line x1="752.8" y1="925.3" x2="752.8" y2="946.3" stroke="#3C5C8B" stroke-width="2"/>
<rect x="739.6" y="946.3" width="26.5" height="72.0" fill="none" stroke="#3C5C8B" stroke-width="2"/>
<line x1="739.6" y1="1014.1" x2="766.1" y2="1014.1" stroke="#3C5C8B" stroke-width="2"/>
<circle cx="751.9" cy="837.8" r="3.3" fill="#000"/>
<circle cx="751.9" cy="925.3" r="3.3" fill="#000"/>
<circle cx="751.9" cy="1011.5" r="3.3" fill="#000"/>
<circle cx="751.9" cy="1017" r="3.3" fill="#000"/>
<circle cx="751.9" cy="1019.3" r="3.3" fill="#000"/>
<circle cx="751.9" cy="1027" r="3.3" fill="#000"/>
<line x1="779.3" y1="1190.1" x2="779.3" y2="1219.8" stroke="#EC5640" stroke-width="2"/>
<rect x="766.1" y="1219.8" width="26.4" height="53.9" fill="none" stroke="#EC5640" stroke-width="2"/>
<line x1="766.1" y1="1250.1" x2="792.5" y2="1250.1" stroke="#EC5640" stroke-width="2"/>
<circle cx="778.3" cy="1190.1" r="3.3" fill="#000"/>
<circle cx="778.3" cy="1213" r="3.3" fill="#000"/>
<circle cx="778.3" cy="1244" r="3.3" fill="#000"/>
<circle cx="778.3" cy="1258.2" r="3.3" fill="#000"/>
<circle cx="778.3" cy="1279.2" r="3.3" fill="#000"/>
<rect x="845.1" y="1271.8" width="26.2" height="6.7" fill="none" stroke="#3C5C8B" stroke-width="2"/>
<line x1="845.1" y1="1276" x2="871.3" y2="1276" stroke="#3C5C8B" stroke-width="2"/>
<circle cx="857.4" cy="1269.8" r="3.3" fill="#000"/>
<circle cx="857.4" cy="1274" r="3.3" fill="#000"/>
<circle cx="857.4" cy="1277" r="3.3" fill="#000"/>
<circle cx="857.4" cy="1279" r="3.3" fill="#000"/>
<line x1="885.2" y1="1185.9" x2="885.2" y2="1204.9" stroke="#EC5640" stroke-width="2"/>
<rect x="871.9" y="1204.9" width="26.5" height="66.2" fill="none" stroke="#EC5640" stroke-width="2"/>
<line x1="871.9" y1="1265" x2="898.4" y2="1265" stroke="#EC5640" stroke-width="2"/>
<circle cx="883.9" cy="1185.3" r="3.3" fill="#000"/>
<circle cx="883.9" cy="1186.5" r="3.3" fill="#000"/>
<circle cx="883.9" cy="1263.4" r="3.3" fill="#000"/>
<circle cx="883.9" cy="1268.5" r="3.3" fill="#000"/>
<circle cx="883.9" cy="1272.4" r="3.3" fill="#000"/>
<circle cx="883.9" cy="1278.9" r="3.3" fill="#000"/>
<text x="570.5" y="1305" font-size="27" text-anchor="end" transform="rotate(-45 570.5 1305)">EBF1</text>
<text x="677" y="1305" font-size="27" text-anchor="end" transform="rotate(-45 677 1305)">EBF2</text>
<text x="783.5" y="1305" font-size="27" text-anchor="end" transform="rotate(-45 783.5 1305)">EBF3</text>
<text x="888.5" y="1305" font-size="27" text-anchor="end" transform="rotate(-45 888.5 1305)">EBF4</text>
<rect x="1564.4" y="797.7" width="85.8" height="550" fill="#D4D6D5"/>
<text x="1187.6" y="730.2" font-size="27">EBF2</text>
<text x="1182" y="774.3" font-size="27.15">chr8:25445000–26156000</text>
<text x="1703" y="757" font-size="27" text-anchor="middle">150 kb</text>
<path d="M1642.5,761.5V769H1759.8V761.5" fill="none" stroke="#000" stroke-width="2.1"/>
<text x="1030" y="848" font-size="27">WGBS</text>
<text x="1030" y="912.2" font-size="27">H3K4me3</text>
<text x="1030" y="980" font-size="27">H3K4me1</text>
<text x="1030" y="1046.5" font-size="27">H3K9me3</text>
<text x="1030" y="1111.2" font-size="27">H3K27ac</text>
<text x="1030" y="1174.9" font-size="27">H3K27me3</text>
<text x="1030" y="1244.7" font-size="27">H3K36me3</text>
<text x="1030" y="1312.1" font-size="27">ATAC</text>
<text x="1030" y="1388.7" font-size="27">Genes</text>
<text x="1177.8" y="824.3" font-size="21">WT</text>
<text x="1177.8" y="892.4" font-size="21">WT</text>
<text x="1177.8" y="960.4" font-size="21">WT</text>
<text x="1177.8" y="1027.2" font-size="21">WT</text>
<text x="1177.8" y="1091.8" font-size="21">WT</text>
<text x="1177.8" y="1157.9" font-size="21">WT</text>
<text x="1177.8" y="1225" font-size="21">WT</text>
<text x="1177.8" y="1293.2" font-size="21">WT</text>
<text x="1177.6" y="862.5" font-size="21">MUT</text>
<text x="1177.6" y="930.8" font-size="21">MUT</text>
<text x="1177.6" y="998.6" font-size="21">MUT</text>
<text x="1177.6" y="1065.4" font-size="21">MUT</text>
<text x="1177.6" y="1130" font-size="21">MUT</text>
<text x="1177.6" y="1196.4" font-size="21">MUT</text>
<text x="1177.6" y="1263.1" font-size="21">MUT</text>
<text x="1177.6" y="1331.9" font-size="21">MUT</text>
<text x="1253.6" y="815.8" font-size="16.5" text-anchor="end">1</text>
<text x="1253.6" y="852.4" font-size="16.5" text-anchor="end">1</text>
<text x="1253.6" y="887.9" font-size="16.5" text-anchor="end">18</text>
<text x="1253.6" y="918.2" font-size="16.5" text-anchor="end">18</text>
<text x="1253.6" y="954" font-size="16.5" text-anchor="end">3</text>
<text x="1253.6" y="983.5" font-size="16.5" text-anchor="end">3</text>
<text x="1253.6" y="1019.8" font-size="16.5" text-anchor="end">1</text>
<text x="1253.6" y="1052.4" font-size="16.5" text-anchor="end">1</text>
<text x="1253.6" y="1084.7" font-size="16.5" text-anchor="end">9</text>
<text x="1253.6" y="1118.2" font-size="16.5" text-anchor="end">9</text>
<text x="1253.6" y="1150.6" font-size="16.5" text-anchor="end">6</text>
<text x="1253.6" y="1183.4" font-size="16.5" text-anchor="end">6</text>
<text x="1253.6" y="1216.4" font-size="16.5" text-anchor="end">3</text>
<text x="1253.6" y="1249" font-size="16.5" text-anchor="end">3</text>
<text x="1253.6" y="1282.3" font-size="16.5" text-anchor="end">10</text>
<text x="1253.6" y="1315.2" font-size="16.5" text-anchor="end">10</text>
<line x1="1151.7" y1="872.7" x2="1786.5" y2="872.7" stroke="#000" stroke-width="2.1" stroke-dasharray="6.3 4.7"/>
<line x1="1151.7" y1="938.4" x2="1786.5" y2="938.4" stroke="#000" stroke-width="2.1" stroke-dasharray="6.3 4.7"/>
<line x1="1151.7" y1="1004.1" x2="1786.5" y2="1004.1" stroke="#000" stroke-width="2.1" stroke-dasharray="6.3 4.7"/>
<line x1="1151.7" y1="1069.8" x2="1786.5" y2="1069.8" stroke="#000" stroke-width="2.1" stroke-dasharray="6.3 4.7"/>
<line x1="1151.7" y1="1135.5" x2="1786.5" y2="1135.5" stroke="#000" stroke-width="2.1" stroke-dasharray="6.3 4.7"/>
<line x1="1151.7" y1="1201.2" x2="1786.5" y2="1201.2" stroke="#000" stroke-width="2.1" stroke-dasharray="6.3 4.7"/>
<line x1="1151.7" y1="1266.9" x2="1786.5" y2="1266.9" stroke="#000" stroke-width="2.1" stroke-dasharray="6.3 4.7"/>
<path d="M1261.6,834.3V821.9H1262.1V819.5H1262.6V826.1H1263.1V821.0H1263.6V822.2H1264.1V822.9H1264.6V821.5H1265.1V821.1H1265.6V819.3H1266.1V819.5H1266.6V820.4H1267.1V819.4H1267.6V821.5H1268.1V823.1H1268.6V821.6H1269.1V822.9H1270.1V822.3H1270.6V818.6H1271.1V819.2H1271.6V816.7H1272.1V816.5H1272.6V813.8H1273.1V813.4H1273.6V817.2H1274.1V816.7H1274.6V814.9H1275.1V819.3H1275.6V816.3H1276.1V816.2H1276.6V815.9H1277.1V817.1H1277.6V818.1H1278.1V820.5H1278.6V820.6H1279.1V820.7H1279.6V818.3H1280.1V818.6H1280.6V818.2H1281.1V819.2H1281.6V816.4H1282.1V818.3H1282.6V816.3H1283.1V819.0H1283.6V815.9H1284.1V820.8H1284.6V817.5H1285.1V817.0H1285.6V817.3H1286.1V817.0H1286.6V817.2H1287.1V817.3H1287.6V816.3H1288.1V817.9H1288.6V818.0H1289.1V818.3H1289.6V818.8H1290.1V819.7H1290.6V817.7H1291.1V816.5H1291.6V819.8H1292.1V828.8H1292.6V817.6H1293.1V815.4H1293.6V816.6H1294.1V815.7H1294.6V817.3H1295.1V817.6H1295.6V815.7H1296.1V814.0H1296.6V816.2H1297.1V817.1H1297.6V812.8H1298.1V811.8H1298.6V813.5H1299.1V818.0H1299.6V816.0H1300.1V815.6H1300.6V816.5H1301.1V825.2H1301.6V815.7H1302.1V817.6H1302.6V819.6H1303.1V814.5H1303.6V819.4H1304.1V820.8H1304.6V821.1H1305.1V820.0H1305.6V819.8H1306.1V814.9H1306.6V819.5H1307.1V826.1H1307.6V818.3H1308.1V816.1H1308.6V814.6H1309.1V815.1H1309.6V816.2H1310.1V816.7H1310.6V819.0H1311.1V818.0H1311.6V818.7H1312.1V829.1H1312.6V817.5H1313.1V818.2H1313.6V817.2H1314.1V815.9H1314.6V816.4H1315.1V816.6H1315.6V818.0H1316.1V816.4H1316.6V817.6H1317.1V814.5H1317.6V814.2H1318.1V817.2H1318.6V818.7H1319.1V815.0H1319.6V815.8H1320.1V815.9H1320.6V816.9H1321.1V813.6H1321.6V811.3H1322.1V814.9H1322.6V816.8H1323.1V814.3H1323.6V816.1H1324.1V817.8H1324.6V813.6H1325.1V813.3H1325.6V813.7H1326.1V817.0H1326.6V816.7H1327.1V816.3H1327.6V816.1H1328.1V818.8H1328.6V820.7H1329.1V819.0H1329.6V816.6H1330.1V817.6H1330.6V819.6H1331.1V819.7H1331.6V817.6H1332.1V818.3H1332.6V817.0H1333.1V820.6H1333.6V819.6H1334.1V821.9H1334.6V818.8H1335.1V817.5H1335.6V816.2H1336.1V817.5H1336.6V816.0H1337.1V817.2H1337.6V817.9H1338.1V819.2H1338.6V817.3H1339.1V818.7H1340.1V815.8H1340.6V814.4H1341.1V816.4H1341.6V816.1H1342.1V815.0H1342.6V816.8H1343.1V813.5H1343.6V813.3H1344.1V812.6H1344.6V813.7H1345.1V821.8H1345.6V815.3H1346.1V816.8H1346.6V815.6H1347.1V812.1H1347.6V815.6H1348.1V813.9H1348.6V821.8H1349.1V817.9H1349.6V815.9H1350.1V818.3H1350.6V820.3H1351.1V819.7H1351.6V817.9H1352.1V820.2H1352.6V816.1H1353.1V814.6H1353.6V817.7H1354.1V818.3H1354.6V816.9H1355.1V818.3H1355.6V818.5H1356.1V813.9H1357.1V816.3H1357.6V825.6H1358.1V819.3H1358.6V817.4H1359.1V818.4H1359.6V821.5H1360.1V821.4H1360.6V823.3H1361.1V822.5H1361.6V821.4H1362.1V823.6H1362.6V825.3H1363.1V822.8H1363.6V823.2H1364.1V821.5H1364.6V822.0H1365.1V820.9H1365.6V819.9H1366.1V817.6H1366.6V819.7H1367.1V820.4H1367.6V826.9H1368.1V833.1H1368.6V829.7H1369.1V825.8H1369.6V819.8H1370.1V820.6H1370.6V822.0H1371.1V825.1H1371.6V824.9H1372.1V820.7H1372.6V819.4H1373.1V821.4H1374.1V821.3H1374.6V821.4H1375.1V823.0H1375.6V822.6H1376.1V821.2H1376.6V820.8H1377.1V821.5H1377.6V819.7H1378.1V821.9H1378.6V822.0H1379.1V816.7H1379.6V817.9H1380.1V818.8H1380.6V818.9H1381.1V819.6H1381.6V817.9H1382.1V818.2H1382.6V816.3H1383.1V817.7H1384.1V817.9H1384.6V815.9H1385.1V819.1H1385.6V816.2H1386.1V814.6H1386.6V814.8H1387.1V813.3H1387.6V815.0H1388.1V815.3H1388.6V817.2H1389.1V817.4H1389.6V814.1H1390.1V817.7H1390.6V818.9H1391.1V822.4H1391.6V820.6H1392.1V817.0H1392.6V818.4H1393.1V821.0H1393.6V819.5H1394.1V816.4H1394.6V820.3H1395.1V819.3H1395.6V821.0H1396.1V819.6H1396.6V818.1H1397.1V817.3H1397.6V819.8H1398.6V818.8H1399.1V819.0H1399.6V817.6H1400.1V818.4H1400.6V819.8H1401.1V820.7H1401.6V816.8H1402.1V818.1H1402.6V816.2H1403.1V816.0H1403.6V819.6H1404.1V821.5H1404.6V823.4H1405.1V820.6H1405.6V823.2H1406.1V824.8H1406.6V825.0H1407.1V822.5H1407.6V820.2H1408.1V824.2H1408.6V823.0H1409.1V821.3H1409.6V821.9H1410.1V821.4H1410.6V821.9H1411.1V822.0H1411.6V818.9H1412.1V821.7H1412.6V820.2H1413.1V820.7H1413.6V818.9H1414.1V818.2H1414.6V818.8H1415.1V816.3H1415.6V822.0H1416.1V819.9H1416.6V823.9H1417.1V817.8H1417.6V819.6H1418.1V818.9H1418.6V818.0H1419.1V817.9H1419.6V816.6H1420.1V817.3H1420.6V821.0H1421.1V817.9H1421.6V817.8H1422.1V818.0H1422.6V817.6H1423.1V818.2H1423.6V818.4H1424.1V817.2H1424.6V817.8H1425.1V815.8H1425.6V816.6H1426.1V816.1H1426.6V817.9H1427.1V813.6H1427.6V823.1H1428.1V816.7H1428.6V813.3H1429.1V813.8H1429.6V814.5H1430.1V816.3H1430.6V817.4H1431.1V817.6H1431.6V817.3H1432.1V816.0H1432.6V817.9H1433.1V817.0H1433.6V818.5H1434.1V816.1H1434.6V814.8H1435.1V816.0H1435.6V818.7H1436.1V818.6H1437.1V813.3H1437.6V819.4H1438.1V818.7H1438.6V816.8H1439.1V819.1H1439.6V813.6H1440.1V815.1H1440.6V826.2H1441.1V817.6H1441.6V817.4H1442.1V817.8H1442.6V816.5H1443.1V814.8H1443.6V814.6H1444.1V816.0H1444.6V813.1H1445.1V819.2H1445.6V814.9H1446.1V816.2H1446.6V817.4H1447.1V819.2H1447.6V817.1H1448.1V820.4H1448.6V817.2H1449.1V820.1H1449.6V817.2H1450.1V816.8H1450.6V815.2H1451.1V822.9H1451.6V820.0H1452.1V816.6H1452.6V818.8H1453.1V817.3H1453.6V816.0H1454.1V819.7H1454.6V818.1H1455.1V816.4H1455.6V819.9H1456.1V816.1H1456.6V825.0H1457.1V820.8H1457.6V824.0H1458.1V828.1H1458.6V821.9H1459.1V820.4H1459.6V819.7H1460.1V818.3H1460.6V825.6H1461.1V818.5H1461.6V817.6H1462.1V817.1H1462.6V817.9H1463.1V818.7H1463.6V815.2H1464.1V818.4H1464.6V814.3H1465.1V814.5H1465.6V814.8H1466.1V813.8H1467.1V825.8H1467.6V814.4H1468.1V817.5H1468.6V817.9H1469.1V815.4H1469.6V817.8H1470.1V820.1H1470.6V817.5H1471.1V816.2H1471.6V817.5H1472.1V819.1H1472.6V820.5H1473.1V817.3H1473.6V818.6H1474.1V811.6H1474.6V814.4H1475.1V815.7H1475.6V814.2H1476.1V814.5H1476.6V817.5H1477.1V818.6H1477.6V815.5H1478.1V813.2H1478.6V816.0H1479.1V813.1H1479.6V815.2H1480.1V815.6H1480.6V815.1H1481.1V818.2H1481.6V817.4H1482.1V812.8H1482.6V822.3H1483.1V816.3H1483.6V817.9H1484.1V816.2H1484.6V819.8H1485.1V821.1H1485.6V817.1H1486.1V819.7H1486.6V817.6H1487.1V816.7H1487.6V828.5H1488.1V820.0H1488.6V819.3H1489.1V817.7H1489.6V818.4H1490.1V817.7H1490.6V813.7H1491.1V816.9H1491.6V815.3H1492.1V818.8H1492.6V815.8H1493.1V814.1H1493.6V815.4H1494.1V817.2H1494.6V817.0H1495.1V813.9H1495.6V816.6H1496.1V815.7H1496.6V815.4H1497.1V816.2H1497.6V818.7H1498.1V814.5H1498.6V818.6H1499.1V815.0H1499.6V815.9H1500.1V813.5H1500.6V814.7H1501.1V816.5H1502.1V814.6H1502.6V816.4H1503.1V817.0H1503.6V816.5H1504.1V820.1H1504.6V815.5H1505.1V816.1H1505.6V818.4H1506.1V814.6H1506.6V814.0H1507.1V814.4H1507.6V816.8H1508.1V814.7H1508.6V816.5H1509.1V813.2H1509.6V820.8H1510.1V815.1H1510.6V815.7H1511.1V812.5H1511.6V816.4H1512.1V816.9H1512.6V814.4H1513.1V814.0H1513.6V816.3H1514.1V814.2H1514.6V813.3H1515.1V814.9H1515.6V815.0H1516.1V813.5H1516.6V814.5H1517.1V815.3H1517.6V815.5H1518.1V816.3H1518.6V815.1H1519.1V814.8H1519.6V815.8H1520.1V815.1H1520.6V814.7H1521.1V814.5H1521.6V825.2H1522.1V815.1H1522.6V811.4H1523.1V812.9H1523.6V814.0H1524.1V814.7H1524.6V816.6H1525.1V815.5H1525.6V813.9H1526.1V817.5H1526.6V819.0H1527.1V816.8H1527.6V823.3H1528.1V813.5H1528.6V826.9H1529.1V818.2H1529.6V816.4H1530.1V816.2H1530.6V815.8H1531.6V816.3H1532.1V817.4H1532.6V817.6H1533.1V820.4H1533.6V820.2H1534.1V821.6H1534.6V816.9H1535.1V819.8H1535.6V819.0H1536.1V816.2H1536.6V817.2H1537.1V818.3H1537.6V817.9H1538.1V815.9H1538.6V817.5H1539.1V815.2H1539.6V815.7H1540.1V815.4H1540.6V818.8H1541.1V819.2H1541.6V818.0H1542.1V816.5H1542.6V817.7H1543.1V817.0H1543.6V816.2H1544.1V819.2H1544.6V816.5H1545.1V819.3H1545.6V817.8H1546.1V818.2H1546.6V818.3H1547.1V816.7H1547.6V815.8H1548.1V815.6H1548.6V817.7H1549.1V813.2H1549.6V816.1H1550.1V814.8H1550.6V815.8H1551.1V818.0H1551.6V813.8H1552.1V814.7H1552.6V816.0H1553.1V813.2H1553.6V813.4H1554.1V811.7H1554.6V813.1H1555.1V814.3H1555.6V813.1H1556.1V813.0H1556.6V815.8H1557.1V815.3H1557.6V817.1H1558.1V817.5H1558.6V813.5H1559.1V816.4H1559.6V826.9H1560.1V818.6H1560.6V818.7H1561.1V816.6H1561.6V816.1H1562.1V812.9H1562.6V816.6H1563.1V810.8H1563.6V815.2H1564.1V813.5H1564.6V816.3H1565.1V816.1H1565.6V810.8H1566.1V816.7H1566.6V819.0H1567.1V819.7H1567.6V821.5H1568.1V823.9H1568.6V823.2H1569.1V823.1H1569.6V826.1H1570.1V827.4H1570.6V827.1H1571.1V826.6H1571.6V824.2H1572.1V820.1H1572.6V814.4H1573.1V816.9H1573.6V817.4H1574.1V816.9H1574.6V816.4H1575.1V817.6H1575.6V818.2H1576.1V816.2H1576.6V814.2H1577.1V815.2H1577.6V816.8H1578.1V816.9H1578.6V817.8H1579.1V818.4H1579.6V816.3H1580.1V815.4H1580.6V817.7H1581.1V814.9H1581.6V816.8H1582.1V815.7H1582.6V816.5H1583.1V816.0H1583.6V815.2H1584.1V824.0H1584.6V816.0H1585.1V816.7H1585.6V813.8H1586.1V814.0H1586.6V813.6H1587.1V815.4H1587.6V813.6H1588.1V815.8H1588.6V821.3H1589.1V814.0H1589.6V814.4H1590.1V816.1H1590.6V818.2H1591.1V815.3H1591.6V817.7H1592.1V814.9H1592.6V823.5H1593.1V815.6H1593.6V815.9H1594.1V816.7H1594.6V818.9H1595.1V826.5H1595.6V830.5H1596.1V831.3H1596.6V831.0H1597.1V833.0H1597.6V832.6H1598.1V831.1H1598.6V832.5H1599.1V830.3H1599.6V829.2H1600.1V829.4H1600.6V831.3H1601.1V828.0H1601.6V826.9H1602.1V826.2H1602.6V822.6H1603.1V824.6H1603.6V821.7H1604.1V819.8H1604.6V819.7H1605.1V823.2H1605.6V820.3H1606.1V821.8H1606.6V821.6H1607.1V820.1H1607.6V816.4H1608.1V821.5H1608.6V819.1H1609.1V821.8H1609.6V818.6H1610.1V818.4H1610.6V821.3H1611.1V821.2H1611.6V817.3H1612.1V819.0H1612.6V820.2H1613.1V817.4H1613.6V817.3H1614.1V816.6H1614.6V817.3H1615.1V817.5H1615.6V816.8H1616.1V817.2H1616.6V817.9H1617.1V818.5H1617.6V817.1H1618.1V818.1H1618.6V818.0H1619.1V819.4H1619.6V825.2H1620.1V818.4H1620.6V814.4H1621.1V818.2H1621.6V818.7H1622.1V814.1H1622.6V817.5H1623.1V816.1H1623.6V819.1H1624.1V816.2H1624.6V819.8H1625.1V815.5H1625.6V816.4H1626.1V819.6H1626.6V817.4H1627.1V814.7H1627.6V815.0H1628.1V819.0H1628.6V819.5H1629.1V826.4H1629.6V824.8H1630.1V819.1H1630.6V818.8H1631.1V819.1H1631.6V815.9H1632.1V819.3H1632.6V821.7H1633.1V820.8H1633.6V818.9H1634.1V823.4H1634.6V821.3H1635.1V820.5H1635.6V821.1H1636.1V820.5H1636.6V819.9H1637.1V821.1H1637.6V818.1H1638.1V818.9H1638.6V825.6H1639.1V818.0H1639.6V818.8H1640.1V817.5H1640.6V817.9H1641.1V815.5H1641.6V817.3H1642.1V818.5H1642.6V817.7H1643.1V815.1H1643.6V817.2H1644.1V818.9H1644.6V815.9H1645.1V818.1H1645.6V819.1H1646.1V816.4H1646.6V817.2H1647.1V818.1H1647.6V817.4H1648.6V826.0H1649.1V815.4H1649.6V815.1H1650.1V815.6H1650.6V816.3H1651.1V817.7H1651.6V813.8H1652.1V818.4H1652.6V817.9H1653.1V819.1H1653.6V818.3H1654.1V819.9H1654.6V820.1H1655.1V820.2H1655.6V821.0H1656.1V818.2H1656.6V819.0H1657.1V818.8H1658.1V816.4H1658.6V817.3H1659.1V811.5H1659.6V818.5H1660.1V816.9H1660.6V815.8H1661.1V822.3H1661.6V821.4H1662.1V816.6H1662.6V814.8H1663.1V816.5H1663.6V816.3H1664.6V813.3H1665.1V814.8H1665.6V815.4H1666.1V814.6H1666.6V816.2H1667.1V816.6H1667.6V815.7H1668.1V816.6H1668.6V815.7H1669.1V816.1H1669.6V814.9H1670.1V819.5H1670.6V818.8H1671.1V820.6H1671.6V819.5H1672.1V818.0H1672.6V819.6H1673.1V816.8H1673.6V818.7H1674.1V818.4H1674.6V820.3H1675.1V817.8H1675.6V820.0H1676.1V819.9H1677.1V817.9H1677.6V819.9H1678.1V817.9H1678.6V822.3H1679.1V819.2H1679.6V818.7H1680.1V819.3H1680.6V820.8H1681.1V821.7H1681.6V822.6H1682.1V821.1H1682.6V819.2H1683.1V821.9H1683.6V823.2H1684.1V823.4H1684.6V821.7H1685.1V822.8H1685.6V822.1H1686.1V822.2H1686.6V827.8H1687.1V820.9H1687.6V820.4H1688.1V818.7H1688.6V817.3H1689.1V819.4H1689.6V819.1H1690.1V819.2H1690.6V819.5H1691.1V816.6H1691.6V817.9H1692.1V815.0H1692.6V814.7H1693.1V815.1H1693.6V815.9H1694.1V814.5H1694.6V816.4H1695.1V814.4H1695.6V816.9H1696.1V816.8H1696.6V816.9H1697.1V814.8H1697.6V814.9H1698.1V819.6H1698.6V819.5H1699.1V818.1H1699.6V820.5H1700.1V818.1H1700.6V817.1H1701.1V820.3H1701.6V825.4H1702.1V818.9H1702.6V819.9H1703.6V818.3H1704.1V820.3H1704.6V819.4H1705.1V818.5H1705.6V819.1H1706.1V820.5H1706.6V820.3H1707.1V819.3H1707.6V822.9H1708.1V818.8H1708.6V819.7H1709.1V818.3H1709.6V821.2H1710.1V827.8H1710.6V818.1H1711.1V821.8H1711.6V817.1H1712.1V819.1H1712.6V822.2H1713.1V821.0H1713.6V828.0H1714.1V823.2H1714.6V821.8H1715.1V817.9H1715.6V820.8H1716.1V818.3H1716.6V820.0H1717.1V817.1H1717.6V818.2H1718.1V821.5H1718.6V819.3H1719.1V819.8H1719.6V818.8H1720.1V819.5H1720.6V819.4H1721.1V820.8H1721.6V819.1H1722.1V814.7H1722.6V817.5H1723.1V818.4H1723.6V818.9H1724.1V819.1H1725.1V817.9H1725.6V818.4H1726.1V822.5H1726.6V818.6H1727.1V817.6H1727.6V819.3H1728.1V817.8H1728.6V818.3H1729.1V817.4H1729.6V814.8H1730.1V819.5H1730.6V814.9H1731.1V819.5H1731.6V816.0H1732.1V816.1H1732.6V818.5H1733.1V819.1H1733.6V817.9H1734.1V817.7H1734.6V816.0H1735.1V814.3H1735.6V814.4H1736.1V816.3H1736.6V818.6H1737.1V814.8H1737.6V816.6H1738.1V816.4H1738.6V814.8H1739.1V818.1H1739.6V816.7H1740.1V814.1H1740.6V825.5H1741.1V815.5H1741.6V813.1H1742.1V815.0H1742.6V812.2H1743.1V813.1H1743.6V815.7H1744.1V814.8H1744.6V815.9H1745.1V816.9H1745.6V814.7H1746.1V814.2H1746.6V816.5H1747.1V814.1H1747.6V815.8H1748.1V816.6H1748.6V813.1H1749.1V813.9H1749.6V814.5H1750.1V811.1H1750.6V811.8H1751.1V812.9H1751.6V815.4H1752.1V815.0H1752.6V815.1H1753.1V812.8H1753.6V810.9H1754.1V812.7H1754.6V815.3H1755.1V814.7H1755.6V812.6H1756.1V812.2H1756.6V815.2H1757.1V812.2H1757.6V810.8H1758.1V812.6H1758.6V812.1H1759.1V810.8H1759.6V813.1H1760.1V811.0H1760.6V811.1H1761.1V815.7H1761.6V811.3H1762.1V810.8H1762.6V816.3H1763.1V811.8H1763.6V814.4H1764.6V817.2H1765.1V812.5H1765.6V814.4H1766.1V812.1H1766.6V814.0H1767.1V810.9H1767.6V812.0H1768.1V815.8H1768.6V813.1H1769.1V811.6H1769.6V817.7H1770.1V818.9H1770.6V818.7H1771.1V817.6H1771.6V817.3H1772.1V816.5H1772.6V816.9H1773.1V818.5H1773.6V817.5H1774.1V817.6H1774.6V817.9H1775.1V816.2H1775.6V826.2H1776.1V819.0H1776.6V818.3H1777.1V819.8H1777.6V822.9H1778.1V826.9H1778.6V833.5H1779.1V834.3H1779.6V832.5H1780.1V833.1H1780.6V830.0H1781.1V825.0H1781.6V817.3H1782.1V815.0H1782.6V812.2H1783.1V813.5H1783.6V834.3Z" fill="#EC5640"/>
<line x1="1260.1999999999998" y1="834.3" x2="1783.2" y2="834.3" stroke="#1a1a1a" stroke-width="1.3"/>
<line x1="1261.1" y1="811.3" x2="1261.1" y2="834.9" stroke="#000" stroke-width="1.9"/>
<path d="M1261.6,867.2V863.5H1262.1V862.4H1262.6V863.6H1263.1V863.1H1263.6V864.8H1264.1V862.8H1264.6V862.5H1265.1V862.8H1265.6V861.3H1266.1V861.8H1266.6V862.2H1267.1V862.7H1267.6V863.4H1268.1V862.4H1268.6V865.6H1269.1V860.9H1269.6V861.3H1270.1V860.8H1270.6V858.2H1271.1V860.6H1271.6V857.1H1272.1V856.5H1272.6V857.0H1273.1V854.6H1274.1V853.8H1274.6V857.4H1275.1V858.8H1275.6V857.9H1276.1V859.5H1276.6V857.3H1277.1V860.3H1277.6V861.5H1278.1V861.8H1278.6V863.6H1279.1V862.9H1280.1V865.1H1280.6V864.0H1281.1V863.2H1281.6V861.9H1282.1V862.2H1282.6V862.7H1283.1V861.6H1283.6V862.0H1284.1V863.1H1284.6V860.5H1285.1V859.9H1285.6V859.0H1286.1V858.9H1286.6V859.0H1287.1V858.6H1287.6V859.0H1288.1V857.8H1288.6V858.0H1289.1V858.3H1289.6V859.5H1290.1V858.5H1290.6V859.5H1291.1V857.4H1291.6V859.1H1292.1V857.3H1292.6V858.4H1293.1V857.1H1293.6V856.4H1294.1V856.0H1294.6V856.2H1295.1V856.8H1295.6V859.1H1296.1V857.3H1297.1V857.6H1297.6V856.2H1298.1V859.3H1298.6V858.8H1299.6V856.4H1300.1V857.7H1300.6V859.1H1301.1V858.6H1301.6V857.3H1302.1V856.2H1302.6V859.8H1303.1V858.4H1303.6V858.6H1304.1V857.1H1304.6V856.5H1305.1V858.4H1305.6V858.5H1306.1V857.4H1306.6V857.9H1307.1V857.5H1307.6V859.5H1308.1V860.8H1308.6V861.0H1309.1V861.5H1309.6V865.8H1310.1V864.9H1311.1V866.8H1311.6V861.6H1312.1V858.7H1312.6V859.0H1313.1V857.5H1313.6V855.6H1314.1V856.3H1314.6V854.1H1315.1V857.1H1315.6V855.0H1316.1V854.8H1316.6V855.5H1317.1V861.3H1317.6V854.4H1318.1V855.1H1318.6V854.0H1319.1V853.3H1319.6V852.0H1320.1V850.8H1320.6V852.7H1321.1V849.7H1321.6V848.4H1322.1V851.3H1322.6V853.4H1323.1V854.5H1323.6V850.8H1324.1V854.6H1324.6V852.2H1325.1V851.1H1325.6V852.3H1326.1V851.6H1326.6V855.9H1327.1V855.5H1327.6V855.9H1328.1V857.2H1328.6V856.5H1329.1V856.8H1329.6V854.6H1330.1V856.2H1330.6V858.8H1331.1V857.0H1331.6V856.1H1332.1V854.7H1332.6V854.4H1333.1V854.2H1333.6V856.6H1334.1V855.1H1334.6V855.2H1335.1V855.9H1335.6V855.7H1336.1V855.8H1336.6V857.7H1337.1V858.8H1337.6V857.5H1338.1V860.8H1338.6V857.0H1339.1V857.1H1339.6V862.4H1340.1V858.2H1340.6V857.9H1341.1V856.8H1341.6V855.7H1342.1V855.8H1342.6V855.9H1343.1V855.4H1343.6V856.1H1344.1V856.2H1344.6V858.9H1345.1V856.0H1345.6V857.6H1346.1V859.9H1346.6V859.6H1347.1V859.9H1347.6V862.5H1348.1V862.4H1348.6V862.8H1349.1V864.9H1349.6V862.1H1350.1V859.3H1350.6V861.0H1351.1V859.9H1351.6V859.8H1352.1V858.0H1352.6V859.2H1353.1V859.1H1353.6V857.9H1354.1V860.9H1354.6V856.8H1355.1V857.5H1355.6V861.3H1356.1V858.9H1356.6V857.6H1357.1V859.5H1357.6V859.1H1358.1V861.4H1358.6V860.7H1359.1V861.3H1359.6V863.6H1360.1V863.4H1360.6V863.8H1361.1V863.2H1361.6V861.2H1362.1V863.2H1362.6V861.2H1363.1V860.1H1363.6V861.2H1364.1V860.2H1364.6V859.9H1365.1V859.2H1365.6V861.1H1366.1V858.8H1366.6V863.6H1367.1V861.4H1367.6V861.1H1368.1V862.6H1368.6V861.4H1369.1V862.6H1369.6V863.1H1370.1V862.8H1370.6V862.0H1372.1V861.4H1372.6V863.5H1373.1V861.7H1373.6V862.1H1374.1V863.3H1374.6V863.6H1375.1V862.3H1375.6V862.2H1376.1V861.2H1376.6V862.0H1377.1V862.6H1377.6V861.3H1378.1V862.6H1378.6V861.2H1379.1V863.3H1379.6V863.1H1380.1V862.6H1380.6V862.5H1381.1V861.4H1381.6V865.3H1382.1V862.2H1382.6V863.8H1383.1V862.2H1383.6V861.9H1384.1V862.8H1384.6V862.0H1385.1V862.6H1385.6V861.5H1386.1V864.1H1386.6V863.1H1387.1V862.0H1387.6V862.3H1388.1V858.5H1388.6V857.5H1389.1V856.5H1389.6V856.1H1390.1V856.9H1390.6V854.9H1391.1V856.8H1391.6V857.9H1392.1V856.2H1392.6V855.4H1393.1V855.6H1393.6V854.8H1394.1V856.3H1394.6V857.7H1395.1V859.7H1395.6V859.8H1396.1V860.5H1396.6V863.2H1397.1V861.2H1397.6V861.3H1398.1V862.2H1398.6V864.0H1399.1V863.0H1399.6V863.1H1400.1V865.2H1400.6V861.9H1401.1V864.8H1401.6V861.1H1402.1V860.1H1402.6V860.6H1403.1V860.0H1403.6V862.5H1404.1V860.6H1404.6V861.0H1405.1V859.0H1405.6V859.5H1406.1V861.1H1406.6V859.0H1407.1V858.6H1407.6V858.8H1408.1V860.1H1408.6V859.8H1409.1V861.9H1409.6V860.5H1410.1V859.7H1410.6V858.1H1411.1V858.3H1411.6V858.6H1412.1V860.9H1412.6V859.1H1413.1V860.5H1413.6V859.9H1414.1V859.4H1414.6V859.9H1415.1V859.6H1415.6V861.0H1416.1V859.8H1416.6V859.2H1417.1V862.1H1417.6V862.2H1418.1V864.4H1418.6V863.2H1419.1V863.7H1419.6V863.1H1420.1V863.4H1420.6V864.1H1421.1V861.6H1421.6V861.8H1422.1V864.6H1422.6V860.2H1423.1V861.0H1423.6V859.7H1424.6V858.8H1425.1V858.5H1426.1V858.6H1426.6V858.4H1427.1V858.7H1427.6V857.9H1428.1V858.1H1428.6V860.0H1429.1V858.2H1429.6V862.3H1430.1V859.1H1430.6V858.4H1431.1V859.2H1431.6V862.5H1432.1V858.7H1432.6V861.4H1433.1V859.2H1433.6V858.8H1434.1V858.3H1434.6V864.6H1435.1V859.1H1435.6V860.4H1436.1V858.0H1436.6V861.1H1437.1V860.3H1437.6V859.4H1438.1V859.7H1438.6V859.6H1439.1V858.4H1439.6V857.7H1440.1V860.3H1440.6V857.7H1441.1V859.1H1441.6V861.5H1442.1V859.7H1442.6V861.0H1443.1V859.8H1443.6V860.0H1444.1V860.1H1444.6V859.1H1445.1V861.1H1445.6V860.4H1446.1V862.7H1446.6V862.5H1447.1V861.4H1447.6V861.8H1448.1V862.1H1448.6V863.1H1449.1V861.0H1449.6V862.9H1450.1V863.6H1450.6V862.1H1451.1V862.0H1451.6V864.4H1452.1V862.9H1452.6V862.3H1453.1V862.9H1453.6V862.7H1454.1V862.1H1454.6V864.2H1455.1V862.5H1455.6V863.1H1456.1V862.4H1456.6V862.7H1457.1V863.5H1457.6V863.6H1458.1V863.3H1458.6V862.8H1459.1V863.7H1459.6V861.7H1460.1V862.3H1461.1V861.8H1461.6V860.9H1462.1V862.4H1462.6V860.9H1463.1V862.1H1463.6V860.6H1464.1V858.2H1464.6V859.7H1465.1V858.0H1465.6V863.7H1466.1V860.2H1466.6V861.1H1467.1V861.9H1467.6V862.7H1468.1V863.1H1468.6V862.3H1469.1V861.3H1469.6V862.5H1470.1V861.3H1470.6V861.6H1471.1V860.9H1471.6V861.1H1472.1V859.6H1472.6V858.8H1473.1V858.4H1473.6V860.3H1474.1V861.0H1474.6V859.7H1475.1V859.0H1475.6V857.9H1476.1V859.5H1476.6V859.4H1477.1V860.2H1477.6V861.1H1478.1V858.6H1478.6V860.4H1479.1V858.0H1479.6V859.1H1480.1V861.0H1480.6V857.9H1481.1V859.9H1481.6V858.1H1482.1V858.8H1482.6V860.9H1483.1V858.7H1483.6V861.0H1484.1V857.0H1484.6V856.4H1485.1V857.1H1485.6V857.7H1486.1V856.6H1486.6V857.4H1487.1V854.4H1487.6V858.6H1488.1V856.2H1488.6V855.6H1489.1V855.7H1489.6V854.5H1490.1V855.9H1491.1V854.5H1491.6V854.9H1492.1V857.2H1492.6V855.9H1493.1V852.9H1493.6V852.8H1494.1V854.9H1494.6V852.2H1495.1V852.1H1495.6V855.1H1496.1V855.0H1496.6V855.6H1497.1V852.1H1497.6V854.2H1498.1V851.4H1498.6V850.9H1499.1V852.9H1499.6V854.1H1500.1V855.7H1500.6V856.0H1501.1V852.6H1501.6V850.9H1502.1V852.9H1502.6V855.0H1503.1V854.1H1503.6V855.1H1504.1V855.9H1504.6V855.6H1505.1V855.7H1505.6V856.9H1506.1V856.1H1506.6V854.8H1507.1V857.7H1507.6V857.2H1508.6V854.5H1509.1V855.0H1509.6V857.0H1510.1V858.4H1510.6V858.9H1511.1V854.9H1511.6V856.4H1512.1V855.2H1512.6V856.9H1513.1V854.2H1513.6V853.8H1514.1V853.7H1514.6V855.2H1515.6V853.6H1516.1V855.5H1516.6V851.8H1517.1V857.4H1517.6V857.9H1518.1V856.5H1518.6V855.0H1519.1V854.8H1519.6V856.8H1520.1V858.9H1520.6V857.7H1521.1V857.1H1521.6V858.3H1522.1V859.9H1522.6V857.4H1523.1V856.3H1523.6V856.5H1524.1V858.0H1524.6V857.5H1525.1V858.8H1525.6V858.7H1526.1V858.6H1526.6V859.5H1527.1V860.1H1527.6V857.3H1528.1V859.8H1528.6V859.6H1529.1V859.0H1529.6V858.9H1530.1V858.4H1530.6V863.7H1531.1V857.3H1531.6V861.5H1532.1V860.3H1532.6V858.7H1533.1V858.8H1533.6V858.9H1534.1V858.1H1534.6V857.4H1535.1V858.9H1535.6V858.6H1536.1V858.2H1536.6V860.7H1537.1V858.7H1537.6V858.0H1538.1V859.1H1539.1V859.5H1540.1V860.0H1540.6V857.9H1541.1V857.7H1541.6V856.0H1542.1V855.8H1542.6V855.5H1543.1V853.7H1543.6V853.2H1544.1V853.9H1544.6V854.9H1545.1V854.7H1545.6V852.9H1546.1V856.1H1546.6V855.5H1547.1V856.5H1547.6V856.9H1548.1V853.4H1548.6V855.6H1549.1V854.2H1549.6V852.3H1550.1V854.2H1550.6V859.4H1551.1V853.5H1551.6V851.8H1552.1V853.7H1552.6V853.4H1553.1V853.6H1553.6V855.5H1554.1V852.1H1554.6V852.9H1555.1V851.6H1555.6V855.2H1556.1V854.6H1556.6V856.9H1557.1V855.9H1557.6V855.3H1558.1V856.1H1558.6V856.4H1559.1V855.7H1559.6V857.2H1560.1V856.7H1560.6V857.1H1561.1V856.4H1561.6V854.6H1562.1V862.5H1562.6V855.4H1563.1V857.3H1563.6V856.7H1564.1V856.8H1564.6V855.6H1565.1V855.7H1565.6V856.0H1566.1V854.8H1566.6V856.5H1567.1V853.5H1567.6V856.1H1568.1V860.0H1568.6V854.8H1569.1V857.1H1569.6V855.3H1570.1V857.5H1570.6V858.3H1571.6V860.1H1572.1V859.0H1572.6V858.9H1573.1V858.2H1573.6V860.1H1574.1V858.1H1574.6V859.5H1575.1V857.2H1575.6V859.8H1576.1V859.0H1576.6V861.0H1577.1V860.8H1577.6V859.5H1578.1V860.8H1578.6V865.3H1579.1V863.4H1580.1V864.1H1580.6V862.0H1581.1V863.5H1581.6V864.6H1582.1V863.2H1582.6V861.9H1583.1V861.4H1583.6V859.5H1584.1V860.6H1584.6V857.8H1585.1V860.6H1585.6V860.4H1586.1V859.5H1586.6V858.6H1587.1V859.9H1587.6V860.4H1588.1V859.6H1588.6V860.1H1589.1V861.0H1589.6V858.9H1590.1V861.2H1590.6V861.1H1591.1V859.6H1591.6V858.9H1592.1V858.5H1592.6V858.9H1593.6V857.0H1594.1V858.8H1594.6V858.7H1595.1V855.8H1595.6V858.7H1596.1V857.1H1596.6V857.5H1597.1V856.7H1597.6V859.3H1598.1V857.8H1598.6V858.4H1599.1V858.3H1599.6V857.4H1600.1V858.6H1600.6V858.7H1601.1V858.4H1601.6V859.7H1602.1V858.7H1602.6V859.5H1603.1V857.3H1603.6V858.3H1604.1V859.0H1604.6V857.6H1605.1V860.1H1605.6V861.5H1606.1V865.3H1606.6V865.1H1607.1V863.8H1607.6V863.7H1608.1V863.1H1608.6V864.0H1609.1V864.2H1609.6V864.0H1610.1V863.5H1610.6V862.6H1611.1V862.2H1611.6V861.3H1612.1V862.6H1612.6V860.7H1613.1V861.0H1613.6V860.8H1614.1V861.3H1614.6V859.1H1615.1V860.6H1615.6V857.6H1616.1V860.3H1616.6V860.1H1617.1V858.5H1617.6V856.4H1618.1V856.5H1618.6V857.5H1619.1V859.4H1619.6V857.9H1620.1V856.4H1620.6V857.6H1621.1V857.9H1621.6V855.8H1622.1V857.2H1622.6V858.0H1623.1V856.6H1623.6V858.3H1624.1V857.7H1624.6V855.6H1625.1V855.7H1625.6V855.9H1626.1V857.8H1626.6V856.9H1627.1V856.6H1627.6V855.1H1628.1V855.8H1629.1V855.3H1629.6V856.7H1630.1V857.2H1630.6V858.1H1631.1V858.3H1631.6V858.4H1632.1V862.8H1632.6V861.7H1633.1V861.8H1633.6V861.7H1634.1V863.5H1635.1V862.4H1635.6V861.6H1636.1V861.3H1636.6V859.1H1637.1V859.6H1637.6V858.8H1638.1V859.5H1638.6V857.2H1639.1V856.1H1639.6V857.4H1640.1V855.8H1640.6V854.9H1641.1V855.3H1641.6V856.0H1642.1V855.8H1642.6V854.3H1643.1V853.2H1643.6V854.3H1644.1V854.5H1644.6V856.1H1645.1V855.8H1645.6V854.0H1646.1V852.9H1646.6V852.6H1647.1V855.2H1647.6V852.8H1648.1V853.2H1648.6V853.9H1649.1V858.9H1649.6V855.7H1650.1V856.5H1650.6V856.3H1651.1V857.3H1651.6V858.9H1652.1V856.6H1652.6V858.1H1653.1V855.7H1653.6V860.8H1654.1V856.3H1654.6V856.1H1655.1V858.2H1655.6V857.6H1656.1V855.9H1656.6V858.1H1657.1V854.5H1657.6V853.1H1658.1V852.1H1658.6V852.9H1659.1V858.7H1659.6V851.4H1660.1V852.7H1660.6V850.6H1661.1V849.7H1661.6V850.5H1662.1V848.5H1662.6V851.4H1663.1V849.0H1663.6V850.9H1664.1V851.2H1664.6V852.9H1665.1V851.2H1665.6V854.2H1666.1V850.2H1666.6V852.0H1667.1V856.5H1667.6V849.2H1668.1V851.6H1668.6V852.7H1669.1V853.7H1669.6V851.8H1670.1V849.7H1670.6V854.5H1671.1V855.0H1671.6V857.2H1672.1V855.5H1672.6V860.2H1673.1V853.7H1673.6V856.5H1674.1V855.5H1674.6V855.4H1675.1V856.4H1675.6V853.4H1676.1V852.5H1676.6V852.2H1677.1V854.1H1677.6V854.4H1678.1V851.8H1678.6V850.5H1679.1V859.0H1679.6V855.8H1680.1V853.4H1680.6V859.6H1681.1V853.2H1681.6V856.6H1682.1V855.4H1682.6V853.5H1683.1V854.7H1683.6V856.3H1684.1V856.2H1684.6V858.1H1685.1V855.4H1685.6V857.9H1686.1V858.0H1686.6V858.1H1687.1V859.0H1687.6V855.9H1688.1V856.0H1688.6V856.5H1689.1V856.3H1689.6V857.7H1690.1V856.6H1690.6V857.2H1691.1V855.9H1691.6V852.1H1692.1V855.5H1692.6V855.3H1693.1V855.5H1693.6V857.6H1694.1V855.5H1694.6V853.9H1695.1V854.8H1695.6V855.6H1696.6V856.0H1697.1V857.0H1697.6V854.2H1698.1V854.1H1698.6V852.0H1699.1V853.8H1699.6V854.1H1700.1V853.2H1700.6V853.7H1701.1V853.3H1701.6V851.5H1702.1V852.7H1702.6V854.7H1703.1V852.7H1703.6V855.0H1704.1V855.8H1704.6V855.9H1705.1V854.5H1705.6V854.4H1706.1V855.0H1706.6V851.6H1707.1V853.0H1707.6V854.6H1708.1V851.4H1708.6V854.2H1709.1V861.0H1709.6V854.5H1710.1V853.7H1710.6V853.6H1711.1V854.6H1711.6V853.6H1712.1V855.1H1712.6V855.6H1713.1V855.7H1713.6V855.6H1714.1V856.0H1714.6V856.1H1715.1V855.6H1716.1V857.9H1716.6V856.4H1717.1V857.7H1717.6V858.4H1718.1V857.5H1718.6V859.0H1719.1V856.1H1719.6V855.8H1720.1V854.8H1720.6V858.5H1721.1V856.2H1721.6V854.6H1722.1V855.4H1722.6V854.6H1723.1V854.7H1723.6V855.2H1724.1V857.1H1724.6V860.6H1725.1V855.3H1725.6V856.0H1726.1V856.9H1726.6V856.0H1727.1V861.1H1727.6V854.9H1728.1V857.7H1728.6V858.0H1729.1V859.1H1729.6V856.8H1730.1V858.0H1730.6V857.2H1731.1V856.0H1731.6V855.2H1732.1V855.8H1732.6V856.4H1733.1V854.6H1733.6V858.7H1734.1V854.4H1734.6V855.3H1735.6V853.7H1736.1V853.4H1736.6V851.0H1737.1V851.2H1737.6V850.5H1738.1V855.0H1738.6V851.1H1739.1V853.1H1739.6V850.3H1740.1V854.2H1740.6V853.6H1741.1V849.7H1741.6V851.0H1742.1V848.6H1742.6V851.4H1743.1V852.8H1743.6V851.7H1744.1V853.4H1744.6V849.8H1745.1V851.9H1745.6V850.1H1746.1V852.2H1746.6V853.6H1747.1V849.2H1747.6V849.9H1748.1V848.8H1748.6V847.9H1749.1V850.1H1750.1V850.8H1750.6V848.6H1751.1V848.4H1751.6V849.9H1752.1V849.0H1752.6V850.8H1753.1V847.9H1753.6V850.2H1754.1V857.1H1754.6V851.0H1755.1V848.0H1755.6V850.2H1756.1V847.9H1756.6V849.6H1757.1V847.7H1757.6V845.7H1758.1V847.9H1758.6V844.3H1759.1V844.9H1759.6V845.5H1760.1V846.2H1760.6V849.3H1761.1V848.2H1761.6V847.0H1762.1V849.5H1762.6V851.6H1763.1V847.1H1763.6V850.9H1764.1V851.6H1764.6V852.3H1765.1V851.4H1765.6V851.8H1766.1V848.8H1766.6V853.8H1767.1V853.9H1767.6V855.9H1768.1V853.5H1768.6V854.6H1769.1V852.9H1769.6V854.6H1770.1V855.5H1770.6V854.6H1771.1V854.4H1771.6V854.7H1772.1V851.6H1772.6V855.0H1773.1V854.9H1773.6V850.5H1774.1V853.8H1774.6V851.3H1775.1V852.1H1775.6V853.5H1776.1V850.1H1776.6V851.8H1777.1V854.5H1777.6V859.5H1778.1V862.3H1778.6V865.4H1779.1V865.9H1779.6V865.0H1780.1V866.2H1780.6V862.9H1781.1V857.1H1781.6V849.7H1782.1V846.6H1782.6V843.7H1783.1V845.7H1783.6V867.2Z" fill="#EC5640"/>
<line x1="1260.1999999999998" y1="867.2" x2="1783.2" y2="867.2" stroke="#1a1a1a" stroke-width="1.3"/>
<line x1="1261.1" y1="844.2" x2="1261.1" y2="867.8000000000001" stroke="#000" stroke-width="1.9"/>
<path d="M1261.6,900.0V898.8H1262.2V899.2H1262.8V899.3H1263.4V899.5H1264.0V898.9H1264.6V899.0H1265.8V898.7H1266.4V898.8H1267.0V898.3H1267.6V899.1H1268.2V898.6H1268.8V899.5H1269.4V898.3H1270.0V899.3H1271.2V898.9H1271.8V899.1H1272.4V898.7H1273.0V898.4H1273.6V898.1H1274.2V898.5H1274.8V898.9H1275.4V898.8H1276.0V899.6H1276.6V899.1H1277.2V899.5H1278.4V898.5H1279.0V899.4H1279.6V898.9H1280.2V898.8H1280.8V898.2H1281.4V898.0H1282.0V898.5H1282.6V899.0H1283.2V899.4H1283.8V899.2H1284.4V898.5H1285.0V898.7H1285.6V898.8H1286.2V899.3H1286.8V898.6H1287.4V898.3H1288.0V899.0H1288.6V899.1H1289.2V898.0H1289.8V898.8H1290.4V898.0H1291.0V898.2H1291.6V898.3H1292.2V898.4H1292.8V898.0H1293.4V898.8H1294.0V898.3H1294.6V899.3H1295.2V898.6H1295.8V898.3H1296.4V898.9H1297.0V899.2H1297.6V898.4H1298.2V898.7H1298.8V899.0H1299.4V898.7H1300.0V898.8H1300.6V899.1H1301.2V899.3H1301.8V898.9H1302.4V899.6H1303.0V899.0H1304.2V898.8H1304.8V899.3H1305.4V899.0H1306.0V898.9H1306.6V899.4H1307.2V899.1H1307.8V899.7H1308.4V899.4H1309.0V899.3H1309.6V898.8H1310.2V899.4H1311.4V899.8H1312.0V899.6H1312.6V899.2H1313.2V899.3H1313.8V899.8H1314.4V899.5H1315.0V899.1H1315.6V899.0H1316.2V899.2H1316.8V899.1H1317.4V899.2H1318.0V899.6H1318.6V899.9H1319.2V899.7H1319.8V899.6H1320.4V899.0H1321.0V899.1H1321.6V899.8H1322.8V899.6H1323.4V899.4H1324.0V899.9H1324.6V899.2H1325.2V899.4H1325.8V899.3H1326.4V899.5H1327.0V899.6H1327.6V899.1H1328.2V899.0H1328.8V899.2H1329.4V899.5H1330.0V899.6H1330.6V898.8H1331.2V899.2H1331.8V899.5H1332.4V899.3H1333.0V899.2H1333.6V899.3H1334.2V899.4H1334.8V898.7H1335.4V899.2H1336.0V899.1H1336.6V899.5H1337.2V899.3H1337.8V899.1H1338.4V899.6H1339.0V899.3H1339.6V899.0H1340.8V899.3H1341.4V899.5H1342.0V899.4H1342.6V898.9H1343.2V899.3H1344.4V899.5H1345.0V899.3H1345.6V898.9H1346.2V899.1H1346.8V898.6H1347.4V899.1H1348.0V899.0H1348.6V899.5H1349.2V899.0H1349.8V899.4H1350.4V899.5H1351.0V899.0H1351.6V899.4H1352.2V899.0H1352.8V899.5H1354.0V899.2H1354.6V899.0H1355.2V899.6H1355.8V899.5H1356.4V899.4H1357.0V898.7H1357.6V899.0H1358.2V899.1H1358.8V899.5H1359.4V899.2H1360.0V899.3H1360.6V899.4H1361.2V899.2H1361.8V898.9H1362.4V899.2H1363.0V899.6H1363.6V899.2H1364.2V899.1H1364.8V898.9H1365.4V898.8H1366.0V899.4H1366.6V898.8H1367.2V899.4H1367.8V898.8H1368.4V899.5H1369.0V899.1H1369.6V899.8H1370.2V899.3H1371.4V899.0H1372.0V898.6H1373.2V898.5H1373.8V898.7H1374.4V899.5H1375.6V899.4H1376.2V899.3H1376.8V899.5H1377.4V899.1H1378.0V899.0H1378.6V899.2H1379.2V899.5H1379.8V898.9H1380.4V898.8H1381.0V899.2H1382.2V899.4H1383.4V898.8H1384.0V899.2H1384.6V898.8H1385.2V899.5H1385.8V898.8H1386.4V899.0H1387.0V899.1H1387.6V898.2H1388.2V898.9H1388.8V898.4H1389.4V899.2H1390.0V899.1H1390.6V898.5H1391.8V898.8H1392.4V898.2H1393.0V898.9H1393.6V898.8H1394.2V898.9H1394.8V899.7H1395.4V898.4H1396.0V898.5H1397.2V898.7H1397.8V898.8H1398.4V898.7H1399.6V899.2H1400.2V898.1H1400.8V898.8H1401.4V898.4H1402.0V899.5H1402.6V898.8H1403.2V898.5H1403.8V899.3H1404.4V898.7H1405.0V898.3H1405.6V898.9H1406.2V898.6H1406.8V898.5H1407.4V898.6H1408.6V899.0H1409.2V898.8H1409.8V898.4H1410.4V898.5H1411.0V899.2H1412.2V899.0H1412.8V898.9H1413.4V899.0H1414.0V898.7H1414.6V898.5H1415.2V898.4H1415.8V898.8H1416.4V898.5H1417.0V898.6H1418.2V899.3H1418.8V898.8H1419.4V899.1H1420.6V899.3H1421.2V898.9H1421.8V898.8H1422.4V899.3H1423.0V899.6H1423.6V898.9H1424.2V898.7H1424.8V899.3H1425.4V899.4H1426.0V899.7H1427.2V899.2H1427.8V899.3H1428.4V899.5H1429.0V898.6H1429.6V898.8H1430.2V898.9H1430.8V898.5H1431.4V899.4H1432.0V898.7H1432.6V899.5H1433.2V899.6H1433.8V898.7H1434.4V899.3H1435.0V898.5H1435.6V898.6H1436.2V898.8H1436.8V899.0H1438.0V898.6H1438.6V899.2H1439.2V899.1H1439.8V899.0H1440.4V899.3H1441.0V899.0H1441.6V898.7H1442.2V898.6H1442.8V899.1H1443.4V898.8H1444.0V899.1H1444.6V898.6H1445.2V899.3H1445.8V899.0H1446.4V898.6H1447.0V898.7H1447.6V899.5H1448.2V899.3H1448.8V899.0H1449.4V898.9H1450.0V899.5H1450.6V899.3H1451.2V899.1H1451.8V899.6H1452.4V899.0H1453.0V899.7H1453.6V898.7H1454.2V898.5H1454.8V899.3H1455.4V899.4H1456.0V899.1H1456.6V898.3H1457.2V898.6H1457.8V899.1H1458.4V898.8H1459.0V899.1H1459.6V899.3H1460.2V899.0H1460.8V899.3H1461.4V898.7H1463.2V899.6H1463.8V899.0H1464.4V898.5H1465.0V899.4H1465.6V899.3H1466.2V899.1H1466.8V898.7H1467.4V899.3H1468.0V898.9H1468.6V899.1H1469.2V899.0H1469.8V898.3H1470.4V898.2H1471.0V898.8H1471.6V898.4H1472.2V898.5H1472.8V898.8H1473.4V898.9H1474.0V899.1H1474.6V899.6H1475.2V898.6H1475.8V898.9H1476.4V898.6H1477.0V898.8H1478.2V899.7H1478.8V898.9H1480.0V899.1H1480.6V899.4H1481.2V898.9H1481.8V898.6H1483.0V898.8H1483.6V899.3H1484.2V899.2H1485.4V899.4H1486.0V898.6H1486.6V899.0H1487.2V898.6H1487.8V899.2H1488.4V898.8H1490.2V899.2H1490.8V898.9H1491.4V899.0H1492.0V899.3H1492.6V899.2H1493.2V898.7H1494.4V898.9H1495.0V898.6H1495.6V899.3H1496.2V899.1H1496.8V899.2H1497.4V899.1H1498.0V899.0H1498.6V898.8H1499.2V899.1H1499.8V898.8H1500.4V899.1H1502.2V899.4H1502.8V899.3H1503.4V898.9H1504.0V898.7H1504.6V899.4H1505.2V899.2H1505.8V899.4H1507.6V899.3H1508.2V898.7H1508.8V898.9H1509.4V899.3H1511.2V899.5H1511.8V899.3H1512.4V899.7H1513.0V898.7H1513.6V899.0H1514.2V898.8H1514.8V898.7H1515.4V898.8H1516.0V899.0H1517.2V899.2H1517.8V899.1H1518.4V899.3H1519.0V899.2H1519.6V899.4H1520.2V899.1H1520.8V899.3H1521.4V899.6H1522.0V899.3H1522.6V899.6H1523.2V899.2H1523.8V899.6H1524.4V899.5H1525.0V899.6H1525.6V899.3H1526.2V899.6H1526.8V899.3H1527.4V899.4H1528.0V899.5H1528.6V899.3H1529.2V899.0H1529.8V899.3H1530.4V898.7H1531.0V899.0H1531.6V898.8H1532.2V899.1H1532.8V899.3H1533.4V899.6H1534.0V899.2H1534.6V898.8H1535.2V899.4H1535.8V899.0H1536.4V899.1H1537.0V899.0H1537.6V899.5H1538.2V898.8H1538.8V899.1H1539.4V899.6H1540.0V898.8H1541.2V898.9H1541.8V899.2H1542.4V899.4H1543.0V899.2H1543.6V899.3H1544.2V899.5H1544.8V898.8H1545.4V899.2H1546.0V898.7H1546.6V898.8H1547.2V899.5H1548.4V899.2H1549.0V898.9H1549.6V899.3H1550.2V899.0H1550.8V899.1H1551.4V899.2H1552.0V899.4H1552.6V899.3H1553.2V899.0H1553.8V898.9H1555.0V899.1H1555.6V899.4H1556.2V899.6H1556.8V899.3H1557.4V898.6H1558.0V899.1H1558.6V899.2H1559.2V899.1H1559.8V898.7H1560.4V898.9H1561.0V899.0H1561.6V899.6H1562.2V899.1H1562.8V898.9H1563.4V899.4H1564.0V899.5H1565.2V899.2H1565.8V899.1H1566.4V898.8H1567.0V899.2H1567.6V899.0H1568.2V899.6H1568.8V898.9H1569.4V898.5H1570.0V898.0H1570.6V897.6H1571.2V896.3H1571.8V896.9H1572.4V897.5H1573.0V898.9H1573.6V899.3H1574.2V899.7H1574.8V899.4H1575.4V898.6H1576.0V899.4H1576.6V899.1H1577.2V898.9H1577.8V899.0H1578.4V899.2H1579.0V898.7H1579.6V898.9H1580.2V898.7H1580.8V899.1H1581.4V898.8H1582.6V899.6H1583.2V899.2H1583.8V898.5H1584.4V899.3H1585.0V898.7H1585.6V898.9H1586.2V899.0H1586.8V899.6H1587.4V899.2H1588.0V898.5H1589.2V899.1H1589.8V899.5H1590.4V898.7H1591.0V898.8H1591.6V898.5H1592.2V899.0H1593.4V898.7H1594.0V898.3H1594.6V895.6H1595.2V890.2H1595.8V891.0H1596.4V880.5H1597.0V888.0H1597.6V890.3H1598.2V897.1H1598.8V898.1H1599.4V898.3H1600.0V898.0H1600.6V898.8H1601.2V897.7H1601.8V897.5H1602.4V898.5H1603.0V898.0H1603.6V898.7H1604.2V899.0H1604.8V899.1H1605.4V899.0H1606.0V899.3H1606.6V898.8H1607.8V899.3H1608.4V899.5H1609.0V899.2H1609.6V899.5H1610.2V899.2H1610.8V899.4H1611.4V899.5H1612.0V899.7H1612.6V899.1H1613.2V899.2H1613.8V899.4H1614.4V899.3H1615.0V899.0H1615.6V898.9H1616.2V898.8H1616.8V899.0H1617.4V898.8H1618.0V899.0H1618.6V899.6H1619.2V899.4H1619.8V899.3H1620.4V899.0H1621.0V899.1H1621.6V899.7H1622.2V899.6H1622.8V898.8H1623.4V899.6H1624.0V898.7H1624.6V898.9H1625.2V899.2H1625.8V899.3H1626.4V899.5H1627.0V898.7H1627.6V898.8H1628.2V899.4H1628.8V899.3H1629.4V899.2H1630.0V899.1H1630.6V899.0H1631.2V899.2H1633.0V899.4H1633.6V899.2H1634.2V899.5H1634.8V899.4H1635.4V899.7H1636.0V899.0H1636.6V899.4H1637.2V899.2H1637.8V899.8H1638.4V899.2H1639.6V899.3H1640.2V899.1H1641.4V899.2H1642.0V899.4H1642.6V899.1H1643.2V899.8H1643.8V899.4H1644.4V899.0H1645.0V898.9H1645.6V899.0H1646.2V899.3H1646.8V899.5H1647.4V898.8H1648.0V899.1H1648.6V898.5H1649.2V899.0H1650.4V898.7H1651.6V899.0H1652.2V899.2H1652.8V898.8H1653.4V899.2H1654.0V898.7H1654.6V898.6H1655.2V898.8H1656.4V898.9H1657.6V898.5H1658.2V899.0H1658.8V898.8H1659.4V898.9H1660.0V898.8H1661.8V899.2H1662.4V899.0H1663.0V898.9H1663.6V899.6H1664.2V899.3H1664.8V899.6H1665.4V899.7H1666.0V899.5H1666.6V899.3H1667.8V898.7H1668.4V899.4H1669.0V899.2H1669.6V898.8H1670.2V899.3H1670.8V899.0H1671.4V899.1H1672.0V899.2H1672.6V899.8H1673.2V899.6H1673.8V899.3H1675.0V899.7H1675.6V899.1H1676.2V898.8H1676.8V898.4H1677.4V898.9H1678.0V899.2H1678.6V899.7H1679.2V898.8H1680.4V899.3H1681.0V898.7H1681.6V899.5H1682.2V899.6H1682.8V899.4H1683.4V899.3H1684.0V899.5H1684.6V899.3H1685.2V899.5H1686.4V898.7H1687.0V899.1H1687.6V899.2H1688.2V899.3H1688.8V899.2H1689.4V899.0H1690.0V898.9H1690.6V899.2H1691.2V899.5H1691.8V898.9H1692.4V899.3H1693.0V899.2H1693.6V898.4H1694.2V899.3H1694.8V899.1H1695.4V898.4H1696.0V898.2H1696.6V898.5H1697.2V898.8H1697.8V898.7H1698.4V898.5H1699.0V899.0H1699.6V899.4H1700.2V899.5H1700.8V898.7H1701.4V898.4H1702.0V898.5H1702.6V898.2H1703.2V898.3H1703.8V898.4H1704.4V899.3H1705.0V899.5H1705.6V898.9H1706.2V898.5H1706.8V898.2H1707.4V898.5H1708.0V898.2H1708.6V899.1H1709.2V899.2H1709.8V899.0H1710.4V898.8H1711.0V899.3H1711.6V899.4H1712.2V898.6H1712.8V899.1H1713.4V899.2H1714.0V898.8H1714.6V899.2H1715.2V898.9H1715.8V899.3H1716.4V899.0H1717.0V898.2H1717.6V899.1H1718.2V898.4H1718.8V898.9H1719.4V898.2H1720.0V899.1H1720.6V898.4H1721.2V898.6H1721.8V898.8H1722.4V899.3H1723.0V898.7H1723.6V898.2H1724.2V898.3H1724.8V898.9H1726.0V898.4H1726.6V899.1H1727.2V899.2H1727.8V899.0H1728.4V899.4H1729.0V899.3H1729.6V899.5H1730.2V899.0H1730.8V899.1H1731.4V899.6H1732.6V899.1H1733.2V899.2H1733.8V899.4H1734.4V899.3H1735.0V899.2H1735.6V899.3H1736.8V898.9H1737.4V899.3H1738.0V899.1H1738.6V899.9H1739.2V899.4H1739.8V899.2H1740.4V899.1H1741.0V899.2H1741.6V899.4H1742.8V899.1H1743.4V899.4H1744.0V899.3H1744.6V899.9H1745.2V899.2H1745.8V899.0H1746.4V898.9H1747.0V899.7H1747.6V899.4H1748.2V898.9H1748.8V898.6H1749.4V898.8H1750.0V899.3H1750.6V899.8H1751.2V899.3H1753.0V899.2H1753.6V899.3H1754.8V899.1H1755.4V899.5H1756.0V899.6H1756.6V898.9H1757.2V899.4H1757.8V899.2H1759.0V899.0H1759.6V899.4H1760.2V899.1H1760.8V899.8H1761.4V899.6H1762.0V899.1H1762.6V899.7H1763.8V899.1H1764.4V899.0H1765.0V899.1H1765.6V899.2H1766.2V899.0H1767.4V899.4H1768.0V898.9H1768.6V899.4H1769.2V899.2H1771.0V899.3H1771.6V899.8H1772.2V899.1H1772.8V899.2H1774.0V899.0H1774.6V899.2H1775.2V899.1H1776.4V898.8H1777.0V899.4H1777.6V882.1H1778.2V876.5H1779.4V892.4H1780.0V891.1H1780.6V899.3H1781.2V898.9H1781.8V899.7H1782.4V898.9H1783.0V899.4H1783.6V900.0Z" fill="#43BBD4"/>
<line x1="1260.1999999999998" y1="900.0" x2="1783.2" y2="900.0" stroke="#1a1a1a" stroke-width="1.3"/>
<line x1="1261.1" y1="877.0" x2="1261.1" y2="900.6" stroke="#000" stroke-width="1.9"/>
<path d="M1261.6,932.9V932.1H1262.8V932.5H1263.4V932.3H1264.0V932.4H1264.6V931.7H1265.2V931.9H1265.8V932.2H1266.4V931.7H1267.0V932.4H1267.6V932.1H1268.2V932.8H1268.8V931.5H1269.4V931.8H1270.0V931.9H1270.6V932.0H1271.8V932.1H1272.4V932.3H1273.0V931.9H1274.2V931.6H1274.8V931.7H1275.4V931.9H1276.0V932.4H1276.6V931.9H1277.2V931.7H1278.4V931.6H1279.0V932.4H1279.6V932.1H1280.2V931.5H1280.8V932.5H1281.4V931.9H1282.0V932.4H1282.6V932.2H1283.2V932.0H1283.8V932.1H1284.4V931.5H1285.0V932.0H1285.6V931.7H1286.2V932.0H1287.4V930.7H1288.0V931.0H1288.6V932.2H1289.2V932.7H1289.8V932.0H1290.4V931.9H1291.0V932.4H1291.6V932.7H1292.2V932.5H1292.8V932.2H1293.4V931.8H1294.0V932.5H1294.6V932.1H1295.2V931.9H1295.8V931.6H1296.4V931.7H1297.0V931.9H1297.6V932.2H1298.2V932.0H1298.8V932.5H1299.4V932.1H1300.0V931.9H1300.6V932.2H1301.2V931.7H1301.8V932.1H1302.4V932.2H1303.0V931.8H1303.6V932.6H1304.2V931.8H1304.8V932.6H1305.4V932.7H1306.0V932.4H1306.6V932.2H1307.2V932.0H1307.8V932.2H1308.4V932.6H1309.0V932.2H1309.6V931.6H1310.2V932.5H1310.8V932.6H1311.4V931.6H1312.0V932.0H1313.2V931.6H1314.4V932.4H1315.0V932.2H1315.6V931.9H1316.2V932.0H1317.4V931.8H1318.0V932.3H1318.6V932.1H1319.2V932.3H1319.8V931.8H1320.4V932.1H1321.0V932.3H1322.2V931.7H1322.8V931.9H1323.4V931.6H1324.0V932.3H1324.6V931.9H1325.2V932.3H1325.8V932.1H1326.4V931.9H1327.0V932.0H1327.6V932.1H1328.2V931.6H1328.8V931.9H1329.4V932.3H1330.0V931.8H1330.6V932.1H1331.8V931.9H1332.4V931.4H1333.0V931.8H1333.6V932.1H1334.2V932.2H1334.8V932.1H1335.4V932.4H1336.0V932.5H1336.6V931.8H1337.2V932.5H1337.8V932.1H1338.4V931.7H1339.0V932.2H1339.6V932.5H1340.2V932.4H1340.8V931.9H1341.4V931.8H1342.0V932.5H1342.6V932.7H1343.2V932.1H1343.8V932.2H1345.0V931.9H1345.6V932.1H1346.2V932.2H1346.8V931.6H1348.0V931.9H1348.6V932.0H1349.2V932.5H1349.8V931.8H1350.4V932.2H1351.0V931.6H1351.6V932.5H1352.2V932.3H1352.8V932.0H1353.4V932.2H1354.0V932.1H1354.6V931.8H1355.2V931.9H1355.8V932.4H1356.4V932.0H1357.6V932.1H1358.2V931.8H1358.8V932.5H1359.4V931.6H1360.0V932.1H1360.6V931.5H1361.2V932.1H1361.8V931.9H1362.4V931.4H1363.0V931.5H1363.6V932.1H1365.4V932.2H1366.6V932.0H1367.2V931.9H1367.8V931.7H1368.4V932.2H1369.0V931.9H1369.6V932.3H1370.2V932.4H1370.8V932.0H1372.6V931.7H1373.2V931.4H1373.8V932.0H1374.4V932.2H1375.0V931.8H1375.6V931.4H1376.2V931.6H1376.8V932.4H1378.0V931.9H1378.6V932.3H1379.2V932.5H1379.8V931.9H1380.4V932.2H1381.0V932.0H1381.6V931.8H1382.2V932.1H1382.8V932.2H1383.4V932.4H1384.0V932.1H1384.6V932.2H1385.2V931.4H1385.8V931.6H1386.4V932.1H1387.0V931.7H1387.6V931.8H1388.2V931.2H1388.8V931.6H1389.4V932.1H1390.0V932.2H1390.6V931.6H1391.2V932.2H1391.8V931.8H1392.4V932.0H1393.0V931.8H1393.6V932.0H1394.2V931.5H1394.8V931.8H1395.4V931.5H1396.0V931.8H1396.6V931.5H1397.2V931.9H1397.8V931.3H1398.4V932.2H1399.0V932.5H1399.6V931.9H1400.8V931.5H1401.4V931.3H1402.0V932.1H1402.6V932.0H1403.2V932.2H1403.8V931.6H1405.0V931.7H1405.6V931.2H1406.2V932.2H1406.8V931.9H1407.4V931.3H1408.0V931.9H1408.6V931.2H1409.2V931.4H1409.8V931.1H1410.4V931.9H1411.0V931.7H1411.6V932.1H1412.2V931.9H1412.8V931.6H1413.4V932.0H1414.0V932.2H1414.6V931.5H1415.8V932.5H1416.4V932.2H1417.0V932.4H1417.6V932.1H1418.2V930.8H1418.8V931.6H1419.4V931.7H1420.0V931.8H1420.6V932.0H1421.2V931.9H1421.8V932.1H1423.0V932.0H1423.6V931.6H1424.2V932.1H1425.4V932.2H1426.0V932.1H1426.6V931.5H1427.2V932.3H1427.8V932.0H1428.4V931.8H1429.0V932.3H1429.6V932.0H1430.2V932.4H1430.8V932.0H1431.4V931.5H1432.0V931.9H1432.6V932.3H1433.2V932.5H1433.8V932.4H1434.4V931.9H1435.0V932.3H1435.6V932.2H1436.2V932.6H1436.8V931.9H1437.4V932.0H1438.0V932.2H1438.6V932.6H1439.2V931.9H1439.8V931.7H1440.4V931.8H1441.0V932.5H1441.6V931.7H1442.2V931.4H1442.8V932.3H1443.4V932.7H1444.0V932.2H1444.6V931.6H1445.2V932.4H1445.8V932.5H1446.4V932.1H1447.0V931.9H1447.6V932.1H1448.2V932.0H1448.8V932.5H1449.4V931.9H1450.0V932.1H1450.6V932.0H1451.2V932.1H1451.8V931.8H1452.4V932.3H1453.0V932.1H1453.6V931.9H1454.8V932.2H1455.4V932.4H1456.0V931.6H1456.6V932.3H1457.2V931.8H1457.8V931.4H1458.4V932.0H1459.6V931.3H1460.2V931.6H1460.8V931.4H1461.4V932.3H1462.0V932.2H1462.6V932.3H1463.2V931.9H1463.8V932.2H1464.4V931.8H1465.0V932.2H1465.6V932.5H1466.2V931.6H1466.8V932.0H1467.4V932.1H1468.0V932.4H1468.6V931.9H1469.2V931.6H1469.8V931.9H1470.4V932.1H1471.0V932.0H1471.6V931.6H1472.2V931.9H1472.8V931.7H1473.4V931.9H1474.0V932.1H1474.6V931.4H1475.2V932.2H1475.8V932.1H1476.4V931.6H1477.0V932.3H1477.6V932.2H1478.2V932.1H1478.8V931.6H1479.4V932.1H1480.0V931.9H1481.2V932.1H1481.8V932.2H1482.4V932.0H1483.6V932.6H1484.2V931.9H1484.8V931.6H1485.4V931.7H1486.6V931.9H1487.2V931.7H1489.0V931.9H1489.6V932.4H1490.2V932.5H1490.8V932.3H1491.4V932.2H1492.0V931.8H1492.6V931.9H1493.2V932.2H1494.4V931.8H1495.0V932.0H1495.6V932.5H1496.2V932.3H1496.8V931.8H1497.4V932.4H1498.0V932.0H1498.6V931.6H1499.2V932.0H1499.8V932.2H1500.4V931.7H1501.0V932.3H1501.6V932.5H1502.2V932.3H1502.8V932.1H1503.4V931.8H1504.0V931.9H1504.6V932.4H1505.2V932.1H1505.8V931.7H1506.4V932.1H1507.0V932.2H1507.6V932.0H1508.8V931.9H1510.0V931.8H1510.6V932.1H1511.2V931.8H1511.8V931.5H1512.4V932.0H1513.0V932.2H1513.6V932.1H1514.8V932.2H1516.0V932.1H1517.2V932.2H1518.4V931.7H1519.0V932.0H1519.6V931.9H1520.8V932.1H1521.4V931.9H1522.0V932.1H1522.6V932.3H1523.2V931.9H1523.8V931.6H1524.4V931.5H1525.0V932.2H1525.6V932.1H1526.2V932.2H1526.8V932.4H1527.4V932.0H1528.0V932.1H1529.2V932.0H1529.8V931.5H1530.4V931.7H1531.0V931.9H1531.6V932.0H1532.8V931.6H1533.4V932.0H1534.0V932.1H1534.6V932.4H1535.2V932.6H1535.8V931.5H1536.4V932.4H1537.6V931.9H1538.2V932.3H1538.8V931.7H1539.4V931.4H1540.0V931.9H1540.6V931.7H1541.2V932.0H1541.8V931.4H1542.4V932.1H1543.0V931.9H1543.6V931.8H1544.2V931.3H1544.8V930.8H1545.4V930.3H1546.0V931.3H1546.6V932.2H1547.2V931.7H1549.0V931.9H1549.6V931.8H1550.2V932.2H1550.8V931.9H1551.4V932.0H1552.0V932.3H1552.6V931.5H1553.2V931.8H1553.8V931.5H1555.0V931.7H1555.6V931.8H1556.2V932.3H1556.8V932.6H1557.4V932.3H1558.0V931.7H1559.2V931.9H1559.8V932.1H1560.4V932.4H1561.0V932.3H1561.6V932.0H1562.2V932.3H1562.8V931.9H1563.4V931.4H1564.0V931.8H1564.6V931.7H1565.2V931.6H1565.8V932.0H1567.0V931.8H1567.6V932.3H1568.2V931.3H1568.8V932.1H1569.4V932.2H1570.0V931.5H1570.6V931.7H1571.2V931.0H1571.8V931.8H1573.0V932.1H1573.6V931.7H1574.8V931.5H1575.4V931.6H1576.0V932.4H1576.6V931.9H1577.2V932.3H1577.8V932.2H1578.4V931.9H1579.0V932.1H1579.6V932.4H1580.2V932.2H1580.8V931.5H1581.4V931.9H1582.0V932.0H1582.6V932.5H1583.2V931.9H1583.8V931.5H1584.4V931.1H1585.0V931.5H1585.6V932.0H1586.2V931.9H1586.8V932.1H1587.4V931.6H1588.0V931.3H1588.6V931.8H1589.8V931.2H1590.4V931.7H1591.0V931.3H1591.6V931.8H1592.2V931.1H1592.8V931.0H1593.4V931.6H1594.0V931.4H1594.6V931.9H1596.4V931.8H1597.0V931.7H1597.6V932.4H1598.2V932.1H1598.8V931.9H1599.4V932.2H1600.0V931.9H1601.2V932.3H1601.8V932.0H1602.4V932.3H1603.0V932.1H1603.6V931.6H1604.2V932.0H1604.8V931.7H1605.4V931.9H1606.0V932.2H1606.6V931.8H1607.2V931.5H1607.8V931.1H1608.4V931.3H1609.0V931.7H1609.6V931.4H1610.2V931.7H1610.8V932.2H1611.4V932.1H1613.2V932.2H1613.8V931.9H1614.4V931.5H1615.0V932.4H1615.6V932.0H1616.2V932.2H1616.8V931.7H1617.4V932.0H1618.0V931.6H1618.6V931.5H1619.2V932.4H1619.8V931.6H1620.4V932.2H1621.0V932.3H1621.6V931.4H1622.2V931.9H1622.8V932.0H1623.4V931.8H1624.0V931.5H1624.6V931.8H1625.2V931.9H1625.8V931.8H1626.4V931.5H1627.0V932.2H1627.6V931.2H1628.2V931.5H1628.8V932.2H1629.4V932.4H1630.0V932.2H1630.6V932.0H1631.2V931.6H1631.8V932.5H1632.4V931.5H1633.0V931.7H1633.6V932.0H1634.2V931.8H1635.4V931.4H1636.0V931.8H1636.6V932.4H1637.2V931.8H1637.8V932.5H1638.4V931.7H1639.0V932.4H1639.6V931.7H1640.2V931.5H1641.4V931.8H1642.0V932.3H1642.6V931.7H1643.2V931.4H1643.8V931.2H1644.4V932.3H1645.0V931.7H1645.6V932.1H1646.8V932.0H1647.4V932.3H1648.0V931.8H1648.6V931.9H1649.2V932.4H1649.8V932.1H1650.4V932.2H1651.0V931.5H1651.6V931.7H1652.2V932.4H1652.8V931.5H1653.4V931.7H1654.0V932.3H1655.2V931.9H1655.8V931.5H1656.4V932.2H1657.6V931.8H1658.2V932.0H1658.8V931.7H1659.4V932.2H1660.0V932.1H1660.6V932.4H1661.2V932.1H1661.8V931.5H1662.4V931.4H1663.0V932.0H1663.6V931.6H1664.2V932.5H1664.8V932.0H1665.4V931.9H1666.0V932.4H1666.6V932.2H1667.2V932.5H1667.8V932.2H1669.0V932.3H1669.6V932.0H1670.2V932.5H1670.8V932.3H1671.4V931.4H1672.0V932.0H1672.6V931.8H1673.2V932.5H1673.8V931.9H1674.4V931.7H1675.0V932.2H1675.6V932.0H1676.2V932.4H1676.8V931.6H1677.4V932.2H1678.0V932.4H1678.6V931.9H1680.4V932.4H1681.0V931.8H1681.6V931.6H1682.2V932.0H1682.8V932.6H1683.4V932.2H1684.0V932.1H1684.6V932.3H1685.8V932.4H1686.4V931.8H1687.0V931.5H1688.2V932.3H1688.8V931.7H1689.4V931.4H1690.0V932.0H1690.6V932.2H1691.2V931.8H1691.8V932.1H1693.0V932.3H1693.6V932.0H1694.2V932.3H1694.8V931.8H1695.4V932.1H1696.0V932.3H1696.6V931.9H1697.2V932.3H1698.4V931.8H1699.0V932.3H1699.6V932.1H1700.2V932.2H1700.8V931.8H1701.4V931.9H1702.0V931.8H1702.6V931.7H1703.2V931.8H1703.8V932.3H1704.4V931.8H1705.0V931.4H1705.6V932.0H1706.2V931.7H1706.8V932.2H1707.4V931.7H1708.0V932.2H1708.6V931.9H1709.2V932.1H1709.8V931.8H1711.0V931.6H1711.6V931.7H1712.2V932.2H1712.8V932.7H1713.4V931.9H1714.0V931.5H1714.6V932.1H1715.2V931.5H1715.8V932.2H1716.4V931.6H1717.0V932.1H1717.6V932.0H1718.2V932.1H1719.4V932.2H1720.6V932.7H1721.2V931.8H1721.8V931.4H1722.4V932.5H1723.0V931.8H1724.2V932.3H1724.8V932.4H1725.4V932.0H1726.0V931.6H1726.6V931.5H1727.2V931.7H1727.8V931.8H1728.4V931.4H1729.0V931.7H1730.2V931.9H1730.8V931.4H1731.4V931.8H1732.0V931.5H1732.6V932.3H1733.2V932.1H1733.8V931.7H1734.4V931.6H1735.0V931.8H1735.6V931.9H1736.2V931.6H1736.8V931.7H1737.4V931.5H1738.0V932.2H1738.6V932.3H1739.8V931.9H1740.4V931.8H1741.0V932.3H1741.6V932.1H1742.2V932.0H1742.8V931.9H1743.4V931.7H1744.6V932.0H1745.2V931.8H1745.8V932.2H1746.4V931.7H1747.0V932.1H1747.6V931.9H1748.2V931.8H1749.4V932.4H1750.0V932.1H1750.6V932.0H1751.2V932.3H1751.8V931.7H1752.4V931.5H1753.0V931.9H1753.6V931.7H1754.2V931.9H1754.8V932.4H1755.4V932.0H1756.0V931.3H1756.6V931.8H1757.2V931.6H1757.8V931.7H1758.4V931.3H1759.0V932.4H1759.6V932.5H1760.2V932.2H1760.8V932.5H1761.4V931.5H1762.0V932.3H1762.6V932.5H1763.2V932.2H1763.8V932.0H1764.4V931.9H1765.0V931.7H1765.6V932.2H1766.2V931.5H1766.8V931.6H1767.4V932.1H1768.0V931.7H1768.6V932.1H1769.8V932.4H1770.4V932.2H1771.0V931.9H1771.6V932.0H1772.2V932.3H1772.8V932.1H1773.4V932.4H1774.0V931.9H1774.6V931.6H1775.2V932.3H1775.8V932.7H1776.4V931.6H1777.0V932.1H1777.6V917.2H1778.2V922.9H1778.8V914.8H1779.4V925.5H1780.0V928.7H1780.6V931.4H1781.2V931.6H1781.8V932.4H1782.4V931.4H1783.0V932.3H1783.6V932.9Z" fill="#43BBD4"/>
<line x1="1260.1999999999998" y1="932.9" x2="1783.2" y2="932.9" stroke="#1a1a1a" stroke-width="1.3"/>
<line x1="1261.1" y1="909.9" x2="1261.1" y2="933.5" stroke="#000" stroke-width="1.9"/>
<path d="M1261.6,965.7V956.9H1262.2V955.0H1262.8V957.3H1263.4V957.2H1264.0V952.0H1264.6V957.3H1265.2V956.1H1265.8V957.4H1266.4V958.8H1267.0V958.0H1267.6V958.4H1268.2V963.3H1268.8V958.4H1269.4V957.5H1270.0V956.5H1270.6V955.7H1271.2V956.6H1271.8V956.2H1272.4V955.8H1273.0V955.0H1273.6V959.4H1274.2V958.8H1274.8V959.7H1275.4V958.5H1276.0V960.7H1276.6V962.2H1277.2V961.8H1278.4V963.2H1279.0V962.8H1279.6V963.7H1280.2V964.5H1280.8V963.2H1282.0V961.7H1282.6V962.7H1283.2V962.8H1283.8V962.6H1284.4V958.8H1285.0V958.6H1285.6V963.4H1286.2V959.2H1286.8V959.8H1287.4V957.8H1288.0V958.5H1288.6V959.2H1289.2V959.8H1289.8V957.2H1290.4V951.0H1291.0V954.2H1291.6V955.0H1292.2V959.2H1292.8V957.3H1293.4V956.6H1294.0V954.1H1294.6V954.2H1295.2V956.0H1295.8V955.8H1296.4V955.7H1297.0V962.7H1297.6V957.4H1298.2V956.3H1298.8V953.8H1299.4V955.0H1300.0V957.1H1300.6V959.1H1301.2V956.6H1301.8V956.8H1302.4V955.7H1303.0V955.8H1303.6V958.0H1304.2V958.6H1304.8V962.2H1305.4V960.1H1306.0V961.4H1307.2V960.4H1307.8V962.2H1308.4V961.4H1309.0V963.7H1309.6V965.0H1310.2V964.4H1310.8V964.1H1311.4V964.8H1312.0V964.6H1312.6V962.9H1313.2V960.7H1313.8V959.8H1314.4V961.0H1315.0V957.8H1315.6V955.4H1316.2V957.5H1316.8V959.5H1317.4V958.9H1318.0V958.0H1318.6V956.6H1319.2V958.9H1319.8V956.9H1320.4V956.5H1321.0V954.4H1321.6V955.6H1322.2V952.2H1322.8V947.1H1323.4V942.2H1324.0V948.7H1324.6V944.8H1325.2V944.4H1325.8V954.7H1326.4V958.1H1327.0V953.4H1327.6V955.2H1328.2V956.9H1328.8V954.8H1329.4V955.8H1330.0V955.1H1330.6V953.5H1331.2V949.6H1331.8V947.8H1332.4V954.4H1333.0V949.5H1333.6V951.9H1334.2V948.2H1334.8V946.9H1335.4V949.5H1336.0V954.1H1336.6V953.6H1337.2V956.1H1337.8V958.7H1338.4V956.0H1339.0V955.7H1339.6V958.6H1340.2V954.1H1340.8V953.8H1341.4V956.4H1342.0V963.1H1342.6V956.2H1343.2V954.0H1343.8V957.4H1344.4V956.6H1345.0V957.9H1345.6V956.4H1346.2V957.2H1346.8V959.3H1347.4V955.8H1348.0V961.9H1348.6V952.7H1349.2V953.7H1349.8V956.3H1350.4V953.3H1351.0V954.2H1351.6V961.9H1352.2V962.5H1352.8V961.1H1353.4V960.8H1354.0V959.0H1354.6V956.4H1355.2V964.0H1355.8V960.1H1356.4V960.5H1357.0V961.2H1357.6V964.8H1358.2V963.1H1358.8V962.5H1359.4V961.5H1360.0V962.3H1360.6V961.9H1361.2V959.9H1361.8V962.0H1362.4V961.6H1363.0V963.1H1363.6V961.8H1364.2V962.9H1364.8V961.1H1365.4V962.6H1366.0V965.0H1366.6V964.7H1367.2V964.9H1368.4V964.7H1369.0V961.6H1369.6V961.4H1370.2V960.1H1370.8V960.8H1371.4V955.4H1372.0V951.2H1372.6V953.6H1373.2V953.4H1373.8V957.1H1374.4V956.1H1375.0V956.6H1375.6V955.3H1376.2V959.2H1376.8V956.5H1377.4V960.0H1378.0V961.8H1378.6V960.7H1379.2V959.7H1379.8V962.1H1380.4V962.4H1381.0V962.6H1381.6V962.5H1382.2V962.6H1382.8V962.4H1383.4V962.5H1384.0V961.7H1384.6V960.9H1385.2V961.9H1385.8V962.7H1386.4V961.2H1387.0V961.3H1387.6V960.4H1388.2V959.0H1388.8V958.5H1389.4V957.6H1390.0V962.4H1390.6V958.9H1391.2V961.2H1391.8V956.0H1392.4V955.4H1393.0V956.4H1393.6V956.8H1394.2V957.3H1394.8V959.2H1395.4V958.1H1396.0V958.4H1396.6V959.3H1397.2V961.9H1397.8V963.3H1398.4V962.2H1399.0V961.2H1399.6V961.9H1400.2V961.1H1400.8V958.8H1401.4V958.3H1402.0V953.5H1402.6V946.0H1403.2V951.2H1403.8V952.8H1404.4V950.3H1405.0V950.0H1405.6V951.6H1406.2V945.8H1406.8V947.3H1407.4V951.6H1408.0V955.7H1408.6V955.9H1409.2V957.4H1409.8V955.2H1410.4V957.1H1411.0V958.9H1411.6V957.3H1412.2V957.8H1412.8V956.0H1413.4V957.1H1414.0V957.3H1414.6V957.6H1415.8V954.9H1416.4V958.6H1417.0V959.2H1417.6V955.3H1418.2V955.2H1418.8V955.1H1419.4V953.5H1420.0V955.6H1420.6V956.1H1421.2V953.2H1421.8V958.3H1422.4V955.3H1423.0V958.8H1423.6V957.0H1424.2V952.5H1424.8V956.4H1425.4V959.0H1426.0V959.4H1426.6V961.5H1427.2V959.1H1427.8V958.7H1428.4V959.9H1429.0V960.5H1429.6V958.5H1430.2V958.3H1430.8V960.0H1431.4V958.6H1432.0V955.5H1432.6V956.5H1433.2V958.8H1433.8V959.4H1434.4V962.2H1435.0V962.6H1435.6V961.6H1436.2V959.8H1436.8V959.9H1437.4V958.2H1438.0V959.7H1438.6V957.9H1439.2V959.3H1439.8V952.7H1440.4V956.0H1441.0V957.8H1441.6V958.0H1442.2V955.8H1442.8V956.3H1443.4V958.4H1444.0V956.1H1444.6V959.8H1445.2V957.1H1445.8V950.3H1446.4V956.3H1447.0V957.5H1447.6V954.5H1448.2V953.3H1448.8V956.5H1449.4V957.3H1450.0V954.1H1450.6V953.9H1451.2V957.3H1451.8V961.9H1452.4V958.9H1453.0V958.6H1453.6V959.0H1454.2V960.5H1454.8V959.6H1455.4V957.9H1456.0V956.1H1456.6V959.9H1457.2V958.0H1457.8V958.6H1458.4V959.0H1459.0V957.4H1459.6V959.4H1460.2V958.3H1460.8V960.8H1461.4V959.7H1462.0V958.3H1462.6V960.2H1463.2V959.1H1463.8V959.5H1464.4V960.7H1465.0V958.4H1465.6V962.2H1466.2V960.3H1466.8V962.8H1467.4V958.5H1468.0V960.3H1468.6V960.9H1469.2V962.2H1469.8V960.4H1470.4V957.9H1471.0V957.6H1471.6V959.3H1472.2V957.7H1472.8V960.1H1473.4V956.4H1474.0V955.0H1474.6V957.6H1475.2V958.5H1475.8V959.4H1476.4V951.9H1477.0V955.5H1477.6V958.2H1478.2V956.5H1478.8V955.5H1479.4V956.2H1480.0V958.7H1480.6V959.8H1481.2V958.3H1481.8V961.3H1482.4V962.0H1483.0V958.3H1483.6V958.2H1484.2V956.7H1484.8V955.9H1485.4V956.4H1486.0V956.7H1486.6V954.5H1487.2V956.5H1487.8V959.7H1488.4V957.9H1489.0V956.4H1489.6V957.2H1490.2V954.3H1490.8V956.9H1491.4V954.5H1492.0V955.6H1492.6V954.8H1493.8V962.0H1494.4V955.2H1495.0V956.6H1495.6V956.2H1496.2V953.4H1497.4V953.0H1498.0V951.4H1498.6V952.9H1499.2V946.1H1499.8V946.9H1500.4V959.8H1501.0V944.3H1501.6V947.4H1502.2V942.8H1502.8V950.4H1503.4V947.3H1504.0V951.9H1504.6V949.9H1505.2V945.5H1505.8V945.6H1506.4V944.0H1507.0V944.9H1507.6V942.2H1508.2V959.3H1508.8V947.6H1509.4V953.3H1510.0V951.0H1510.6V953.6H1511.2V955.7H1511.8V949.2H1512.4V942.8H1513.0V947.5H1513.6V950.0H1514.2V948.4H1514.8V947.8H1515.4V954.9H1516.0V956.7H1516.6V949.7H1517.2V951.2H1517.8V956.2H1518.4V953.5H1519.0V959.3H1519.6V958.8H1520.2V960.4H1520.8V958.5H1521.4V960.2H1522.0V957.5H1522.6V959.0H1523.2V961.8H1523.8V960.0H1524.4V960.6H1525.0V959.0H1525.6V958.7H1526.2V952.5H1526.8V954.3H1527.4V952.8H1528.0V952.9H1528.6V957.2H1529.2V954.1H1529.8V952.9H1530.4V953.6H1531.0V954.5H1531.6V957.9H1532.8V958.3H1533.4V956.8H1534.0V959.2H1534.6V956.9H1535.2V958.9H1535.8V954.3H1536.4V959.7H1537.0V953.5H1537.6V951.9H1538.2V950.7H1538.8V955.1H1539.4V953.5H1540.0V961.7H1540.6V953.1H1541.2V957.1H1541.8V955.8H1542.4V957.1H1543.0V959.3H1543.6V958.0H1544.2V958.4H1544.8V948.2H1545.4V956.5H1546.0V950.6H1546.6V943.7H1547.2V943.9H1547.8V948.1H1548.4V954.3H1549.0V957.0H1549.6V954.7H1550.2V942.2H1550.8V951.3H1551.4V948.7H1552.0V950.7H1552.6V954.8H1553.2V955.5H1553.8V954.5H1554.4V953.5H1555.0V960.2H1555.6V952.2H1556.2V947.6H1556.8V949.5H1557.4V955.6H1558.0V957.9H1558.6V960.6H1559.2V960.0H1559.8V961.7H1560.4V963.5H1561.0V965.1H1561.6V963.3H1562.2V964.1H1562.8V956.3H1563.4V955.9H1564.0V958.6H1564.6V958.8H1565.2V959.7H1565.8V958.3H1566.4V956.5H1567.0V955.7H1567.6V953.3H1568.2V953.8H1568.8V954.2H1569.4V942.2H1570.0V958.8H1570.6V949.6H1571.2V952.2H1571.8V951.6H1572.4V949.0H1573.0V954.3H1573.6V950.4H1574.2V956.8H1574.8V957.9H1575.4V959.2H1576.0V955.6H1576.6V958.5H1577.2V955.2H1577.8V958.5H1578.4V957.6H1579.0V962.3H1579.6V953.0H1580.2V955.9H1580.8V957.6H1581.4V954.2H1582.0V959.4H1582.6V958.8H1583.2V956.6H1583.8V958.2H1584.4V956.7H1585.0V957.9H1585.6V957.1H1586.2V959.9H1586.8V954.9H1587.4V954.5H1588.0V950.4H1588.6V955.2H1589.2V950.4H1589.8V953.4H1590.4V946.9H1591.0V953.8H1591.6V958.7H1592.2V953.2H1592.8V948.8H1593.4V954.4H1594.6V955.2H1595.2V959.4H1595.8V960.7H1596.4V959.0H1597.0V954.6H1597.6V958.7H1598.2V953.6H1598.8V957.0H1599.4V955.1H1600.0V956.0H1601.2V954.4H1601.8V955.2H1602.4V953.9H1603.0V958.4H1603.6V962.0H1604.2V960.8H1604.8V961.0H1605.4V962.6H1606.0V961.2H1606.6V957.5H1607.2V959.1H1607.8V956.0H1608.4V956.1H1609.0V954.4H1609.6V956.3H1610.2V953.2H1610.8V950.1H1611.4V957.1H1612.0V954.8H1612.6V957.5H1613.2V956.5H1613.8V956.3H1614.4V955.8H1615.0V957.3H1615.6V958.8H1616.2V955.5H1616.8V954.3H1617.4V950.2H1618.0V950.4H1618.6V945.7H1619.2V951.8H1619.8V949.6H1620.4V952.2H1621.0V942.2H1621.6V950.1H1622.2V954.5H1622.8V944.2H1623.4V953.2H1624.0V953.3H1624.6V953.8H1625.2V958.3H1625.8V956.5H1626.4V956.9H1627.0V957.0H1627.6V957.6H1628.2V958.3H1628.8V961.1H1629.4V960.4H1630.0V961.1H1630.6V960.5H1631.2V959.1H1631.8V960.4H1632.4V958.7H1633.0V959.7H1633.6V960.6H1634.2V959.3H1634.8V960.6H1635.4V962.4H1636.0V959.1H1636.6V961.0H1637.8V963.1H1638.4V963.4H1639.0V961.9H1639.6V962.5H1640.2V959.3H1640.8V961.8H1641.4V960.3H1642.0V954.7H1642.6V963.0H1643.2V957.0H1643.8V955.4H1644.4V953.0H1645.0V957.0H1645.6V954.0H1646.2V955.0H1646.8V958.8H1647.4V951.1H1648.0V952.2H1648.6V953.9H1649.2V953.6H1649.8V953.7H1650.4V952.8H1651.0V957.7H1651.6V956.9H1652.2V955.9H1652.8V957.9H1653.4V958.3H1654.0V954.8H1654.6V957.0H1655.2V960.3H1655.8V960.0H1656.4V957.8H1657.0V958.2H1657.6V956.3H1658.2V958.3H1658.8V959.1H1659.4V958.6H1660.0V960.0H1660.6V958.2H1661.2V954.6H1661.8V957.0H1662.4V955.4H1663.0V954.9H1663.6V956.7H1664.2V953.0H1664.8V953.5H1665.4V954.2H1666.0V957.5H1666.6V951.6H1667.2V954.1H1667.8V956.2H1668.4V956.5H1669.0V959.6H1669.6V959.1H1670.2V959.2H1670.8V963.1H1671.4V961.8H1672.0V958.0H1672.6V959.9H1673.2V954.8H1673.8V956.3H1674.4V952.8H1675.0V953.8H1675.6V957.2H1676.2V960.0H1676.8V958.7H1677.4V958.0H1678.0V953.8H1678.6V953.9H1679.2V953.5H1679.8V948.1H1680.4V948.9H1681.0V951.1H1681.6V957.4H1682.2V956.4H1682.8V956.3H1683.4V958.4H1684.0V958.2H1684.6V960.7H1685.2V956.6H1685.8V955.1H1686.4V958.4H1687.0V959.8H1687.6V960.3H1688.2V960.8H1688.8V958.2H1689.4V959.9H1690.0V958.9H1690.6V959.8H1691.2V955.7H1691.8V959.1H1692.4V960.1H1693.0V961.1H1693.6V958.6H1694.2V960.5H1694.8V958.7H1695.4V959.2H1696.0V957.0H1696.6V959.6H1697.2V960.6H1697.8V956.5H1698.4V957.9H1699.0V954.0H1699.6V956.1H1700.2V950.1H1700.8V953.5H1701.4V949.4H1702.0V958.8H1702.6V952.5H1703.2V953.1H1703.8V955.7H1704.4V957.5H1705.0V955.9H1705.6V957.2H1706.2V953.8H1706.8V952.3H1707.4V955.5H1708.0V957.4H1708.6V952.8H1709.2V954.5H1709.8V957.0H1710.4V957.2H1711.0V958.9H1711.6V957.2H1712.2V955.5H1712.8V959.2H1713.4V958.9H1714.0V957.9H1714.6V956.5H1715.2V957.9H1715.8V955.6H1716.4V959.4H1717.0V957.8H1717.6V959.4H1718.2V960.4H1718.8V960.1H1719.4V958.0H1720.0V957.1H1720.6V952.7H1721.2V955.4H1721.8V956.9H1722.4V956.7H1723.0V953.4H1723.6V957.6H1724.2V959.1H1724.8V958.0H1725.4V958.4H1726.0V957.5H1726.6V958.8H1727.2V956.8H1727.8V948.8H1728.4V955.4H1729.0V954.0H1729.6V956.3H1730.2V947.6H1730.8V956.0H1731.4V953.1H1732.0V956.5H1732.6V958.9H1733.2V956.6H1733.8V956.0H1734.4V950.1H1735.0V958.8H1735.6V959.1H1736.2V957.3H1736.8V958.1H1737.4V955.9H1738.0V961.6H1738.6V954.1H1739.2V956.2H1739.8V957.3H1740.4V956.7H1741.0V962.0H1741.6V957.6H1742.2V953.5H1742.8V956.9H1743.4V958.3H1744.0V955.0H1744.6V959.8H1745.2V957.0H1745.8V956.5H1746.4V954.2H1747.0V955.5H1747.6V954.4H1748.2V948.1H1748.8V954.8H1749.4V950.4H1750.0V956.0H1750.6V957.3H1751.2V958.3H1751.8V955.7H1752.4V955.4H1753.0V956.1H1753.6V954.6H1754.2V951.6H1754.8V954.3H1755.4V955.7H1756.0V957.6H1756.6V954.8H1757.2V953.8H1757.8V949.7H1758.4V947.1H1759.0V950.2H1759.6V950.4H1760.2V944.7H1760.8V952.7H1761.4V957.1H1762.0V955.8H1762.6V954.0H1763.2V956.5H1763.8V950.8H1764.4V950.4H1765.0V950.5H1765.6V955.6H1766.2V956.0H1766.8V957.0H1767.4V956.9H1768.0V955.5H1768.6V955.0H1769.2V958.2H1769.8V958.4H1770.4V958.1H1771.0V958.6H1771.6V958.0H1772.2V957.4H1772.8V957.8H1773.4V954.0H1774.0V953.1H1774.6V956.5H1775.2V957.4H1775.8V957.5H1776.4V960.7H1777.0V964.4H1777.6V962.0H1778.2V956.9H1778.8V953.5H1779.4V947.9H1780.0V949.1H1780.6V942.2H1781.2V952.1H1781.8V942.2H1782.4V948.4H1783.0V954.4H1783.6V965.7Z" fill="#0DA48C"/>
<line x1="1260.1999999999998" y1="965.7" x2="1783.2" y2="965.7" stroke="#1a1a1a" stroke-width="1.3"/>
<line x1="1261.1" y1="942.7" x2="1261.1" y2="966.3000000000001" stroke="#000" stroke-width="1.9"/>
<path d="M1261.6,998.6V992.2H1262.2V988.7H1262.8V988.4H1263.4V990.2H1264.0V989.1H1264.6V992.7H1265.2V989.9H1265.8V991.2H1266.4V988.2H1267.0V991.7H1267.6V992.6H1268.2V986.6H1268.8V988.9H1269.4V989.2H1270.0V983.7H1270.6V990.4H1271.2V989.2H1271.8V992.1H1272.4V988.9H1273.0V989.0H1274.2V991.1H1274.8V992.3H1275.4V994.5H1276.0V992.3H1276.6V995.7H1277.2V995.9H1277.8V994.3H1278.4V995.3H1279.0V994.1H1279.6V992.8H1280.2V993.1H1280.8V986.7H1281.4V989.9H1282.0V994.5H1282.6V992.9H1283.2V992.1H1283.8V988.9H1284.4V992.7H1285.0V995.1H1285.6V993.9H1286.2V993.2H1286.8V992.7H1287.4V990.9H1288.0V992.0H1288.6V992.1H1289.2V990.5H1289.8V985.2H1290.4V988.9H1291.0V992.0H1291.6V987.5H1292.2V986.7H1292.8V986.5H1293.4V989.5H1294.0V989.1H1294.6V985.1H1295.2V990.2H1295.8V991.8H1296.4V990.2H1297.0V987.9H1297.6V991.4H1298.2V988.3H1298.8V990.8H1299.4V989.1H1300.0V988.4H1300.6V991.4H1301.2V981.6H1301.8V992.4H1302.4V985.8H1303.0V987.1H1303.6V990.1H1304.2V990.5H1304.8V987.9H1305.4V991.7H1306.0V993.6H1306.6V990.1H1307.2V992.6H1307.8V992.9H1308.4V995.9H1309.6V995.8H1310.2V997.0H1310.8V997.3H1311.4V997.6H1312.0V995.8H1312.6V992.6H1313.2V993.2H1313.8V990.9H1314.4V992.9H1315.6V989.8H1316.2V991.1H1316.8V989.4H1317.4V991.1H1318.0V987.7H1318.6V991.6H1319.2V987.0H1319.8V988.9H1320.4V988.6H1321.0V988.4H1321.6V988.7H1322.2V989.4H1322.8V987.0H1323.4V982.4H1324.0V980.9H1324.6V986.2H1325.2V985.9H1325.8V989.8H1326.4V988.8H1327.0V996.5H1327.6V990.8H1328.2V988.5H1328.8V989.3H1329.4V990.8H1330.0V989.9H1330.6V992.1H1331.2V993.2H1331.8V990.5H1332.4V990.3H1333.0V983.9H1333.6V988.6H1334.2V981.4H1334.8V986.5H1335.4V986.7H1336.0V986.4H1336.6V983.2H1337.2V989.4H1337.8V991.2H1338.4V991.3H1339.0V992.9H1339.6V992.2H1340.2V991.3H1340.8V994.9H1341.4V991.5H1342.0V990.6H1342.6V989.4H1343.2V989.2H1343.8V985.6H1344.4V986.8H1345.0V989.6H1345.6V983.9H1346.2V985.5H1346.8V985.9H1347.4V987.2H1348.0V987.4H1348.6V990.4H1349.8V990.2H1350.4V989.0H1351.0V989.1H1351.6V990.4H1352.2V993.5H1352.8V995.4H1353.4V991.3H1354.0V991.9H1354.6V992.8H1355.2V993.7H1355.8V993.5H1356.4V993.7H1357.0V994.8H1357.6V996.0H1358.2V997.3H1358.8V996.7H1359.4V996.2H1360.6V995.8H1361.2V995.5H1361.8V995.3H1362.4V994.5H1363.0V994.0H1363.6V993.9H1364.2V993.3H1364.8V992.4H1365.4V994.3H1366.0V995.1H1366.6V997.1H1367.2V997.9H1367.8V998.2H1368.4V997.4H1369.0V998.3H1369.6V997.3H1370.2V996.7H1370.8V994.4H1371.4V993.5H1372.0V985.7H1372.6V990.8H1373.2V991.1H1373.8V992.8H1374.4V996.1H1375.0V993.1H1375.6V994.2H1376.2V990.1H1377.4V992.6H1378.0V988.3H1378.6V992.9H1379.2V993.6H1379.8V994.3H1380.4V991.5H1381.0V993.2H1381.6V994.2H1382.2V992.5H1382.8V994.6H1383.4V993.9H1384.0V994.3H1384.6V992.9H1385.8V991.1H1386.4V993.9H1387.0V992.3H1387.6V993.7H1388.2V990.8H1388.8V993.1H1389.4V991.8H1390.0V993.6H1390.6V991.3H1391.2V986.7H1391.8V988.0H1392.4V991.1H1393.0V990.6H1393.6V990.5H1394.2V987.0H1394.8V992.0H1395.4V994.2H1396.0V994.3H1396.6V993.7H1397.2V991.4H1397.8V990.8H1398.4V991.6H1399.0V993.2H1399.6V994.4H1400.2V993.3H1400.8V993.0H1401.4V990.0H1402.0V991.2H1402.6V990.8H1403.2V984.0H1403.8V980.5H1404.4V982.5H1405.0V982.1H1405.6V981.8H1406.2V984.6H1406.8V982.4H1407.4V984.7H1408.0V988.3H1408.6V994.2H1409.2V991.2H1409.8V991.4H1410.4V992.0H1411.0V988.9H1411.6V989.1H1412.2V990.3H1412.8V987.0H1413.4V985.9H1414.0V987.0H1415.2V994.5H1415.8V986.7H1416.4V992.0H1417.0V988.5H1417.6V989.4H1418.2V986.0H1418.8V990.7H1420.0V989.4H1420.6V989.9H1421.2V991.9H1421.8V995.9H1422.4V989.4H1423.0V988.4H1423.6V989.6H1424.2V984.2H1424.8V988.0H1425.4V988.2H1426.0V990.5H1426.6V989.4H1427.2V990.1H1427.8V990.5H1428.4V991.8H1429.0V990.5H1429.6V992.6H1430.2V991.8H1430.8V994.3H1431.4V993.0H1432.0V992.4H1432.6V989.6H1433.2V990.6H1433.8V992.5H1434.4V996.4H1435.0V993.2H1435.6V995.9H1436.2V995.1H1436.8V995.5H1437.4V992.9H1438.0V990.1H1438.6V987.7H1439.2V989.5H1439.8V991.0H1440.4V990.9H1441.0V995.7H1441.6V989.3H1442.2V988.4H1442.8V987.8H1443.4V988.9H1444.0V990.4H1444.6V989.6H1445.2V991.9H1445.8V988.8H1446.4V991.2H1447.0V989.6H1447.6V990.1H1448.2V988.0H1448.8V987.4H1449.4V986.8H1450.0V989.8H1450.6V991.9H1451.2V992.3H1451.8V990.3H1452.4V991.8H1453.0V992.3H1453.6V990.1H1454.2V989.8H1454.8V989.4H1455.4V992.2H1456.0V990.8H1456.6V989.7H1457.2V988.7H1457.8V993.6H1458.4V990.9H1459.0V991.6H1459.6V993.7H1460.2V993.3H1460.8V993.4H1461.4V992.1H1462.0V994.6H1462.6V993.9H1463.2V994.3H1463.8V988.8H1464.4V993.6H1465.0V992.1H1465.6V992.4H1466.2V992.1H1466.8V990.0H1467.4V991.9H1468.0V993.4H1468.6V991.5H1469.2V992.7H1469.8V992.0H1470.4V989.6H1471.0V990.7H1471.6V988.4H1472.2V991.5H1472.8V991.2H1473.4V991.5H1474.0V989.6H1474.6V991.1H1475.2V992.3H1475.8V990.6H1476.4V992.1H1477.0V986.9H1477.6V988.3H1478.2V989.1H1478.8V989.6H1479.4V986.5H1480.0V987.0H1480.6V984.2H1481.2V984.7H1481.8V986.8H1482.4V993.3H1483.0V991.1H1483.6V988.4H1484.8V988.8H1485.4V992.8H1486.0V991.0H1486.6V991.7H1487.2V990.1H1487.8V996.1H1488.4V992.9H1489.0V987.0H1489.6V996.4H1490.2V996.8H1490.8V990.4H1491.4V989.4H1492.0V987.6H1492.6V988.0H1493.2V986.9H1493.8V985.0H1494.4V992.6H1495.0V993.1H1495.6V989.2H1496.2V990.0H1496.8V990.1H1497.4V985.7H1498.0V984.9H1498.6V981.8H1499.2V982.0H1499.8V977.8H1500.4V979.3H1501.0V977.9H1501.6V983.9H1502.2V985.0H1503.4V988.4H1504.0V986.6H1504.6V990.6H1505.2V984.7H1505.8V982.5H1506.4V988.4H1507.0V987.6H1507.6V986.1H1508.2V989.5H1508.8V988.1H1509.4V985.4H1510.0V986.7H1510.6V987.4H1511.2V983.7H1511.8V988.4H1512.4V990.5H1513.0V987.1H1513.6V988.2H1514.2V988.5H1514.8V989.5H1515.4V988.7H1516.0V990.0H1516.6V992.5H1517.2V989.9H1517.8V989.5H1518.4V990.7H1519.0V990.0H1519.6V989.6H1520.2V990.0H1520.8V991.8H1521.4V990.2H1522.0V991.5H1522.6V993.5H1523.2V991.0H1523.8V988.7H1524.4V986.7H1525.6V979.2H1526.2V994.6H1526.8V988.7H1527.4V986.4H1528.0V988.2H1528.6V985.0H1529.2V990.3H1529.8V992.5H1530.4V988.8H1531.0V990.5H1531.6V992.0H1532.2V991.1H1532.8V989.1H1533.4V991.4H1534.0V990.0H1534.6V989.9H1535.2V992.3H1535.8V991.8H1536.4V989.1H1537.0V984.7H1537.6V990.0H1538.2V987.6H1538.8V982.5H1539.4V981.9H1540.0V986.0H1540.6V988.3H1541.2V986.9H1541.8V985.9H1542.4V988.3H1543.0V987.7H1543.6V989.4H1544.2V989.7H1544.8V989.1H1545.4V987.5H1546.0V985.8H1546.6V989.2H1547.2V991.1H1547.8V991.5H1548.4V986.5H1549.0V989.3H1549.6V985.2H1550.2V983.2H1550.8V984.1H1551.4V987.8H1552.0V989.4H1552.6V988.2H1553.2V990.8H1553.8V991.8H1554.4V991.0H1555.0V992.9H1555.6V992.7H1556.2V991.2H1556.8V982.1H1557.4V994.5H1558.0V991.9H1558.6V993.6H1559.2V995.7H1560.4V996.1H1561.0V997.0H1561.6V993.3H1562.2V989.3H1562.8V988.3H1563.4V983.0H1564.0V992.1H1564.6V992.3H1565.2V990.5H1565.8V987.1H1566.4V989.0H1567.0V990.1H1567.6V991.2H1568.2V991.9H1568.8V982.8H1569.4V987.6H1570.0V988.4H1570.6V987.5H1571.2V991.5H1572.4V987.5H1573.0V987.0H1573.6V989.2H1574.2V987.3H1574.8V987.1H1575.4V995.7H1576.0V990.9H1576.6V991.7H1577.2V987.4H1578.4V985.8H1579.0V989.8H1579.6V989.4H1580.2V989.0H1580.8V988.8H1581.4V990.7H1582.0V991.4H1582.6V990.8H1583.2V991.0H1583.8V991.5H1584.4V991.4H1585.0V992.1H1585.6V985.7H1586.2V988.0H1586.8V990.0H1587.4V994.5H1588.0V987.8H1588.6V990.1H1589.2V986.9H1589.8V985.5H1590.4V988.4H1591.0V987.6H1592.2V990.4H1592.8V988.1H1593.4V987.3H1594.0V989.4H1594.6V988.7H1595.2V988.2H1595.8V987.3H1596.4V990.9H1597.0V985.3H1597.6V990.1H1598.2V987.8H1598.8V990.9H1599.4V987.7H1600.0V989.2H1600.6V988.4H1601.2V987.5H1601.8V989.9H1602.4V989.8H1603.0V992.2H1603.6V993.7H1604.2V994.2H1604.8V993.3H1605.4V993.4H1606.0V994.2H1606.6V992.5H1607.2V991.8H1607.8V990.5H1608.4V990.1H1609.0V987.3H1609.6V990.0H1610.2V989.1H1610.8V992.0H1611.4V991.4H1612.0V992.3H1612.6V991.5H1613.2V987.5H1613.8V989.2H1614.4V996.2H1615.0V990.4H1615.6V990.7H1616.2V990.5H1616.8V992.8H1617.4V983.1H1618.0V988.7H1618.6V989.0H1619.2V985.4H1619.8V987.8H1620.4V983.6H1621.0V984.8H1621.6V981.4H1622.2V981.5H1622.8V984.2H1623.4V994.8H1624.0V984.3H1624.6V981.6H1625.2V991.1H1625.8V987.3H1626.4V991.7H1627.0V992.6H1627.6V993.2H1628.2V992.8H1628.8V993.8H1629.4V993.9H1630.0V993.3H1630.6V993.9H1631.2V992.5H1631.8V990.3H1632.4V991.6H1633.0V993.7H1633.6V991.0H1634.2V990.9H1634.8V993.9H1635.4V993.3H1636.0V993.1H1636.6V993.8H1637.2V993.9H1637.8V995.6H1638.4V994.6H1639.0V993.7H1639.6V994.7H1640.2V993.8H1640.8V994.3H1641.4V992.5H1642.0V993.6H1642.6V989.2H1643.2V989.6H1643.8V985.7H1644.4V981.7H1645.0V984.7H1645.6V987.0H1646.8V989.8H1647.4V989.6H1648.0V990.7H1648.6V989.8H1649.2V992.9H1649.8V994.9H1650.4V992.3H1651.0V993.1H1651.6V992.4H1652.2V989.7H1652.8V990.5H1653.4V991.1H1654.0V993.1H1654.6V987.5H1655.2V987.7H1655.8V986.6H1657.0V991.3H1657.6V991.0H1658.2V989.9H1658.8V985.6H1659.4V991.8H1660.0V992.8H1660.6V992.7H1661.2V993.9H1661.8V992.8H1662.4V989.4H1663.0V988.7H1663.6V990.5H1664.2V989.6H1664.8V990.7H1665.4V992.0H1666.0V992.4H1666.6V991.2H1667.2V989.6H1667.8V987.0H1668.4V989.1H1669.0V988.8H1669.6V988.4H1670.2V992.0H1670.8V992.4H1671.4V987.9H1672.0V988.8H1672.6V991.9H1673.2V987.9H1673.8V981.8H1674.4V984.0H1675.0V983.2H1675.6V983.8H1676.2V988.1H1676.8V992.5H1677.4V996.7H1678.0V991.0H1678.6V983.1H1679.2V984.2H1679.8V983.0H1680.4V984.7H1681.0V985.6H1681.6V988.5H1682.2V988.0H1682.8V986.4H1683.4V987.8H1684.0V989.4H1684.6V985.6H1685.2V987.6H1685.8V985.2H1686.4V991.0H1687.0V986.5H1687.6V989.3H1688.2V991.7H1688.8V991.8H1689.4V990.6H1690.0V992.9H1690.6V991.9H1691.2V991.8H1691.8V991.4H1692.4V988.1H1693.0V988.7H1693.6V991.5H1694.2V990.3H1694.8V992.2H1695.4V992.4H1696.0V991.0H1696.6V986.5H1697.2V985.9H1697.8V987.3H1698.4V987.9H1699.0V984.7H1699.6V985.0H1700.2V986.0H1700.8V988.7H1701.4V985.5H1702.0V986.8H1703.2V986.2H1703.8V987.5H1704.4V982.4H1705.0V983.3H1705.6V985.3H1706.2V989.3H1706.8V988.3H1707.4V988.2H1708.0V987.9H1708.6V987.1H1709.2V990.5H1709.8V987.3H1710.4V978.3H1711.0V981.3H1711.6V984.2H1712.2V979.5H1712.8V979.9H1713.4V985.9H1714.0V986.7H1714.6V984.0H1715.2V989.0H1715.8V992.6H1716.4V989.7H1717.0V991.4H1717.6V993.8H1718.2V994.7H1718.8V995.4H1719.4V993.3H1720.0V991.6H1720.6V992.7H1721.2V992.6H1721.8V994.8H1722.4V987.3H1723.0V990.0H1723.6V991.5H1724.2V995.1H1724.8V992.6H1725.4V992.4H1726.0V989.0H1726.6V990.8H1727.8V988.3H1728.4V988.2H1729.0V983.4H1729.6V983.7H1730.2V988.4H1730.8V990.7H1731.4V989.7H1732.0V991.8H1732.6V988.1H1733.2V991.3H1733.8V989.2H1734.4V989.7H1735.0V991.5H1735.6V987.2H1736.2V991.1H1736.8V990.7H1737.4V992.0H1738.0V990.9H1738.6V991.3H1739.2V988.2H1739.8V991.9H1740.4V988.8H1741.0V989.9H1741.6V989.1H1742.2V988.1H1742.8V986.8H1743.4V990.1H1744.0V991.5H1744.6V988.1H1745.2V987.1H1745.8V989.3H1746.4V992.3H1747.0V993.2H1748.2V986.8H1748.8V991.3H1749.4V992.5H1750.0V994.6H1750.6V992.9H1751.2V993.2H1751.8V992.7H1753.0V987.8H1753.6V990.5H1754.2V989.5H1754.8V989.7H1755.4V986.5H1756.0V988.9H1756.6V988.7H1757.2V989.3H1757.8V989.6H1758.4V983.9H1759.0V980.7H1759.6V979.6H1760.2V987.5H1760.8V989.5H1761.4V987.3H1762.0V988.5H1762.6V992.2H1763.2V991.8H1763.8V992.9H1764.4V991.4H1765.0V991.2H1765.6V988.7H1766.2V986.5H1766.8V987.9H1767.4V990.9H1768.6V988.3H1769.2V990.9H1769.8V989.6H1770.4V989.4H1771.0V984.4H1771.6V991.2H1772.2V988.7H1772.8V988.2H1773.4V988.4H1774.0V990.1H1774.6V989.0H1775.2V995.9H1775.8V990.7H1776.4V992.2H1777.0V995.3H1777.6V994.8H1778.2V993.9H1778.8V986.3H1779.4V983.0H1780.0V976.0H1780.6V981.0H1781.2V983.8H1781.8V980.3H1782.4V987.7H1783.0V989.8H1783.6V998.6Z" fill="#0DA48C"/>
<line x1="1260.1999999999998" y1="998.6" x2="1783.2" y2="998.6" stroke="#1a1a1a" stroke-width="1.3"/>
<line x1="1261.1" y1="975.6" x2="1261.1" y2="999.2" stroke="#000" stroke-width="1.9"/>
<path d="M1261.6,1031.4V1021.7H1262.3V1013.8H1263.0V1018.9H1263.7V1017.0H1264.4V1013.9H1265.1V1019.0H1265.8V1021.8H1266.5V1020.4H1267.2V1019.3H1267.9V1020.7H1268.6V1018.2H1269.3V1022.2H1270.0V1027.8H1270.7V1022.6H1271.4V1019.6H1272.1V1016.8H1272.8V1018.2H1273.5V1022.6H1274.2V1023.0H1274.9V1028.8H1275.6V1026.7H1276.3V1025.4H1277.0V1023.9H1277.7V1024.6H1278.4V1023.0H1279.1V1024.3H1279.8V1024.9H1280.5V1025.7H1281.2V1023.0H1281.9V1024.4H1282.6V1025.1H1283.3V1024.5H1284.0V1023.0H1284.7V1023.5H1285.4V1020.5H1286.1V1018.3H1286.8V1013.5H1287.5V1018.9H1288.2V1018.4H1288.9V1019.4H1289.6V1020.8H1290.3V1026.3H1291.0V1026.5H1291.7V1027.2H1292.4V1024.9H1293.1V1027.4H1293.8V1028.8H1294.5V1022.7H1295.2V1028.9H1295.9V1026.8H1296.6V1023.9H1297.3V1019.6H1298.0V1021.4H1298.7V1024.8H1299.4V1026.9H1300.1V1029.3H1300.8V1027.2H1301.5V1025.2H1302.2V1023.3H1302.9V1026.3H1303.6V1023.3H1304.3V1023.5H1305.0V1023.0H1305.7V1018.9H1306.4V1021.0H1307.1V1023.7H1307.8V1026.3H1308.5V1024.3H1309.2V1023.2H1309.9V1021.7H1310.6V1021.3H1311.3V1023.5H1312.0V1021.4H1313.4V1023.6H1314.1V1023.0H1314.8V1025.6H1315.5V1027.5H1316.2V1027.9H1316.9V1025.8H1317.6V1025.3H1318.3V1026.5H1319.0V1028.3H1319.7V1027.2H1320.4V1024.2H1321.1V1024.9H1321.8V1025.0H1322.5V1022.4H1323.2V1023.4H1323.9V1025.5H1324.6V1027.6H1326.0V1028.5H1326.7V1029.2H1327.4V1028.1H1328.1V1028.4H1328.8V1028.0H1329.5V1026.9H1330.2V1027.3H1331.6V1026.9H1332.3V1027.2H1333.0V1026.0H1333.7V1026.8H1334.4V1018.3H1335.1V1027.1H1335.8V1028.9H1336.5V1029.5H1337.2V1028.8H1337.9V1028.0H1338.6V1025.7H1339.3V1025.9H1340.0V1026.4H1340.7V1025.0H1341.4V1023.2H1342.1V1023.7H1342.8V1021.7H1343.5V1025.0H1344.2V1023.1H1344.9V1026.4H1345.6V1025.1H1346.3V1024.6H1347.0V1013.6H1347.7V1017.8H1348.4V1018.8H1349.1V1025.3H1349.8V1022.4H1350.5V1023.2H1351.2V1020.5H1351.9V1019.2H1352.6V1025.5H1353.3V1025.6H1354.0V1028.5H1354.7V1029.0H1355.4V1030.5H1356.1V1028.5H1356.8V1027.2H1357.5V1024.9H1358.2V1026.5H1358.9V1022.5H1360.3V1015.3H1361.0V1017.4H1361.7V1013.0H1362.4V1012.6H1363.1V1007.9H1363.8V1021.3H1364.5V1023.7H1365.2V1024.8H1365.9V1029.6H1366.6V1025.6H1367.3V1027.4H1368.0V1026.5H1368.7V1027.5H1369.4V1027.6H1370.1V1028.7H1370.8V1028.6H1371.5V1029.4H1372.2V1029.1H1372.9V1028.0H1373.6V1024.1H1374.3V1022.3H1375.0V1020.4H1375.7V1022.6H1376.4V1016.1H1377.1V1015.8H1377.8V1019.5H1378.5V1013.7H1379.2V1014.5H1379.9V1025.9H1380.6V1029.6H1381.3V1026.4H1382.0V1024.6H1382.7V1026.0H1383.4V1028.3H1384.1V1027.9H1384.8V1026.9H1385.5V1025.3H1386.2V1021.7H1386.9V1026.3H1387.6V1020.8H1388.3V1023.3H1389.0V1022.3H1389.7V1022.7H1390.4V1027.0H1391.1V1026.8H1391.8V1027.4H1392.5V1027.6H1393.2V1026.2H1393.9V1027.2H1394.6V1026.7H1395.3V1026.0H1396.0V1025.5H1396.7V1026.8H1397.4V1026.5H1398.1V1025.0H1398.8V1022.4H1399.5V1025.8H1400.2V1016.1H1400.9V1022.4H1401.6V1021.5H1402.3V1026.4H1403.0V1024.7H1403.7V1025.6H1404.4V1027.9H1405.1V1028.0H1405.8V1026.8H1406.5V1024.1H1407.2V1024.4H1407.9V1016.8H1408.6V1019.3H1409.3V1016.7H1410.0V1017.2H1411.4V1018.0H1412.1V1014.0H1412.8V1021.2H1413.5V1024.2H1414.2V1021.4H1414.9V1016.4H1415.6V1017.4H1416.3V1022.0H1417.0V1019.2H1417.7V1017.8H1418.4V1021.2H1419.1V1023.3H1419.8V1021.6H1420.5V1020.3H1421.2V1016.4H1421.9V1016.8H1422.6V1022.9H1423.3V1024.0H1424.0V1023.8H1424.7V1026.3H1425.4V1026.7H1426.1V1027.8H1426.8V1029.0H1427.5V1029.5H1428.9V1028.6H1429.6V1024.7H1430.3V1025.7H1431.0V1018.9H1431.7V1018.1H1432.4V1021.7H1433.1V1023.8H1433.8V1015.1H1434.5V1024.0H1435.2V1023.6H1435.9V1023.2H1436.6V1023.0H1437.3V1018.3H1438.0V1017.1H1438.7V1015.8H1439.4V1018.0H1440.1V1017.3H1440.8V1028.0H1441.5V1023.2H1442.2V1025.9H1442.9V1026.2H1443.6V1025.2H1444.3V1027.8H1445.0V1028.6H1445.7V1027.4H1446.4V1027.6H1447.1V1026.5H1447.8V1021.8H1448.5V1027.7H1449.2V1025.2H1449.9V1026.5H1450.6V1024.1H1451.3V1020.3H1452.0V1023.3H1452.7V1018.0H1453.4V1026.9H1454.1V1019.6H1454.8V1027.9H1455.5V1023.1H1456.2V1028.1H1456.9V1026.6H1457.6V1026.1H1458.3V1025.8H1459.0V1025.7H1459.7V1024.7H1460.4V1027.0H1461.1V1024.9H1461.8V1026.6H1462.5V1026.3H1463.2V1027.6H1463.9V1027.2H1464.6V1028.0H1465.3V1028.3H1466.0V1027.3H1466.7V1027.2H1467.4V1029.0H1468.1V1026.1H1468.8V1026.6H1469.5V1023.7H1470.2V1023.0H1470.9V1021.4H1471.6V1024.1H1472.3V1018.5H1473.0V1022.2H1473.7V1023.5H1474.4V1020.5H1475.1V1022.2H1475.8V1023.6H1476.5V1023.8H1477.2V1026.6H1477.9V1027.0H1478.6V1027.3H1479.3V1024.9H1480.0V1025.2H1480.7V1026.7H1481.4V1023.7H1482.1V1021.7H1482.8V1025.6H1483.5V1022.4H1484.2V1024.6H1484.9V1023.3H1485.6V1023.0H1486.3V1025.2H1487.0V1023.8H1487.7V1018.5H1488.4V1026.5H1489.1V1022.8H1489.8V1024.8H1490.5V1029.2H1491.2V1027.2H1491.9V1026.9H1492.6V1025.8H1493.3V1022.1H1494.0V1025.1H1494.7V1022.4H1495.4V1023.0H1496.1V1026.1H1496.8V1030.0H1497.5V1028.8H1498.2V1028.4H1498.9V1027.9H1499.6V1029.9H1500.3V1028.7H1501.0V1027.7H1501.7V1028.8H1502.4V1029.7H1503.1V1028.6H1503.8V1028.3H1504.5V1028.8H1505.2V1028.7H1505.9V1030.4H1506.6V1029.1H1507.3V1028.8H1508.0V1029.5H1508.7V1028.6H1509.4V1027.1H1510.1V1027.2H1510.8V1028.2H1511.5V1026.0H1512.2V1028.5H1512.9V1027.8H1513.6V1028.6H1514.3V1029.1H1515.0V1028.9H1515.7V1029.3H1516.4V1030.0H1517.1V1029.3H1517.8V1027.7H1518.5V1028.7H1519.2V1027.3H1519.9V1025.8H1520.6V1026.1H1521.3V1024.4H1522.0V1022.9H1522.7V1024.9H1523.4V1023.1H1524.1V1019.6H1524.8V1018.6H1525.5V1021.0H1526.2V1023.6H1526.9V1025.0H1527.6V1025.7H1528.3V1025.0H1529.0V1021.6H1529.7V1017.2H1530.4V1023.5H1531.1V1025.5H1531.8V1025.2H1532.5V1023.6H1533.2V1023.5H1533.9V1026.8H1534.6V1025.0H1535.3V1025.8H1536.0V1026.3H1536.7V1025.1H1537.4V1023.1H1538.1V1029.0H1538.8V1026.4H1539.5V1026.3H1540.2V1024.9H1540.9V1027.8H1541.6V1027.7H1542.3V1027.8H1543.0V1029.0H1544.4V1028.7H1545.1V1027.9H1545.8V1027.4H1546.5V1028.0H1548.6V1029.2H1549.3V1028.1H1550.0V1027.5H1550.7V1028.1H1551.4V1027.1H1552.1V1026.4H1552.8V1027.5H1553.5V1026.2H1554.2V1025.9H1554.9V1027.4H1555.6V1029.1H1556.3V1025.2H1557.0V1024.5H1557.7V1026.2H1558.4V1023.3H1559.1V1024.3H1559.8V1025.3H1560.5V1024.3H1561.2V1025.6H1561.9V1026.2H1562.6V1025.9H1563.3V1024.7H1564.0V1023.4H1564.7V1024.4H1565.4V1023.8H1566.1V1025.2H1566.8V1027.7H1567.5V1029.2H1568.2V1029.3H1568.9V1027.8H1569.6V1026.7H1570.3V1027.2H1571.0V1027.3H1571.7V1028.3H1572.4V1025.5H1573.8V1027.6H1574.5V1028.5H1575.2V1027.0H1575.9V1026.3H1576.6V1027.1H1577.3V1028.9H1578.0V1027.1H1578.7V1027.8H1579.4V1029.7H1580.1V1027.5H1580.8V1027.8H1581.5V1028.3H1582.2V1025.0H1582.9V1020.6H1583.6V1023.1H1584.3V1021.3H1585.0V1019.5H1585.7V1019.4H1586.4V1016.5H1587.1V1024.5H1587.8V1026.1H1588.5V1026.4H1589.2V1026.3H1589.9V1025.6H1590.6V1027.3H1591.3V1026.8H1592.0V1027.5H1592.7V1027.2H1594.1V1027.8H1594.8V1027.9H1595.5V1024.9H1596.2V1022.7H1596.9V1021.5H1597.6V1022.0H1598.3V1024.6H1599.0V1016.8H1599.7V1019.8H1600.4V1017.2H1601.1V1022.5H1601.8V1022.7H1602.5V1021.0H1603.2V1021.6H1603.9V1027.9H1604.6V1029.8H1605.3V1026.9H1606.0V1024.1H1606.7V1024.4H1607.4V1014.8H1608.1V1014.9H1608.8V1020.2H1609.5V1007.9H1610.2V1014.5H1610.9V1013.8H1611.6V1017.2H1612.3V1019.0H1613.0V1018.1H1613.7V1021.0H1614.4V1024.8H1615.1V1025.0H1615.8V1020.6H1616.5V1020.9H1617.2V1022.9H1617.9V1023.2H1618.6V1022.3H1619.3V1023.6H1620.0V1024.1H1620.7V1023.1H1621.4V1024.5H1622.1V1021.0H1622.8V1022.3H1623.5V1015.7H1624.2V1022.4H1624.9V1023.2H1625.6V1026.3H1626.3V1027.1H1627.0V1029.4H1627.7V1029.6H1628.4V1029.4H1629.1V1028.7H1629.8V1025.7H1630.5V1025.0H1631.2V1024.5H1631.9V1023.6H1632.6V1026.0H1633.3V1023.3H1634.0V1024.1H1634.7V1021.6H1635.4V1021.4H1636.1V1025.9H1636.8V1025.2H1637.5V1025.0H1638.2V1026.0H1638.9V1022.4H1639.6V1021.2H1640.3V1020.8H1641.0V1018.0H1641.7V1020.5H1642.4V1021.5H1643.1V1019.9H1643.8V1023.4H1644.5V1023.1H1645.2V1022.8H1645.9V1026.2H1646.6V1025.1H1647.3V1022.4H1648.0V1015.9H1648.7V1022.5H1649.4V1007.9H1650.1V1015.4H1650.8V1020.3H1651.5V1016.5H1652.2V1022.2H1652.9V1019.7H1653.6V1029.1H1654.3V1026.0H1655.0V1018.9H1655.7V1021.3H1656.4V1024.0H1657.1V1022.3H1657.8V1022.1H1658.5V1028.3H1659.2V1026.2H1659.9V1027.1H1660.6V1029.1H1661.3V1029.3H1662.0V1026.6H1662.7V1024.9H1663.4V1023.2H1664.1V1028.4H1664.8V1026.0H1665.5V1018.5H1666.2V1017.2H1666.9V1019.9H1667.6V1020.3H1668.3V1013.2H1669.0V1015.1H1669.7V1022.9H1670.4V1022.5H1671.1V1022.2H1671.8V1020.5H1672.5V1019.1H1673.2V1023.4H1673.9V1022.7H1674.6V1019.8H1675.3V1022.3H1676.0V1020.3H1676.7V1020.6H1677.4V1018.1H1678.1V1018.2H1678.8V1009.9H1679.5V1013.7H1680.2V1021.9H1680.9V1018.9H1681.6V1016.6H1682.3V1012.0H1683.0V1023.4H1683.7V1016.3H1684.4V1025.0H1685.1V1023.6H1685.8V1021.4H1686.5V1021.7H1687.2V1023.1H1687.9V1023.0H1688.6V1026.8H1689.3V1028.1H1690.0V1028.6H1690.7V1026.0H1691.4V1022.0H1692.1V1021.0H1692.8V1017.2H1693.5V1016.4H1694.2V1016.0H1694.9V1020.4H1695.6V1013.3H1696.3V1019.8H1697.0V1015.2H1697.7V1012.2H1698.4V1011.5H1699.1V1013.8H1699.8V1021.4H1700.5V1020.6H1701.2V1024.2H1701.9V1020.8H1702.6V1022.4H1703.3V1018.6H1704.0V1012.3H1704.7V1014.9H1705.4V1007.9H1706.8V1015.4H1707.5V1019.6H1708.2V1013.5H1708.9V1018.6H1709.6V1020.2H1710.3V1013.6H1711.0V1017.2H1711.7V1020.4H1712.4V1022.0H1713.1V1025.1H1713.8V1018.2H1714.5V1021.0H1715.2V1019.8H1715.9V1021.3H1716.6V1014.8H1717.3V1020.1H1718.0V1018.8H1718.7V1022.8H1719.4V1022.4H1720.1V1018.9H1720.8V1023.5H1721.5V1025.4H1722.2V1023.1H1722.9V1024.1H1723.6V1029.4H1724.3V1026.2H1725.0V1026.1H1725.7V1025.4H1726.4V1026.0H1727.1V1030.5H1727.8V1027.2H1728.5V1023.6H1729.2V1019.8H1729.9V1021.6H1730.6V1023.9H1731.3V1021.3H1732.0V1025.1H1732.7V1022.2H1733.4V1021.3H1734.1V1021.0H1734.8V1018.6H1735.5V1020.7H1736.2V1020.9H1736.9V1019.1H1737.6V1023.7H1738.3V1018.0H1739.0V1019.8H1739.7V1022.1H1740.4V1024.5H1741.1V1025.2H1741.8V1027.9H1742.5V1030.0H1743.2V1026.7H1743.9V1027.9H1744.6V1026.8H1745.3V1025.5H1746.0V1026.3H1746.7V1027.7H1747.4V1024.5H1748.1V1021.9H1748.8V1021.6H1749.5V1023.4H1750.2V1026.1H1750.9V1027.1H1751.6V1028.2H1752.3V1028.8H1753.0V1029.0H1753.7V1028.4H1755.8V1029.5H1756.5V1028.7H1757.2V1028.2H1757.9V1029.4H1758.6V1030.5H1759.3V1030.4H1760.0V1029.6H1760.7V1029.3H1761.4V1028.3H1762.1V1028.4H1762.8V1028.3H1763.5V1028.1H1764.2V1027.1H1764.9V1027.2H1765.6V1025.6H1766.3V1023.9H1767.0V1021.6H1767.7V1015.5H1768.4V1019.5H1769.1V1023.6H1769.8V1021.7H1770.5V1025.4H1771.2V1027.2H1771.9V1028.6H1772.6V1028.7H1773.3V1027.6H1774.0V1026.1H1774.7V1029.2H1775.4V1028.3H1776.1V1023.4H1776.8V1028.2H1777.5V1029.1H1778.9V1029.2H1779.6V1030.4H1780.3V1029.3H1781.0V1028.5H1781.7V1028.1H1783.1V1026.7H1783.8V1031.4Z" fill="#3C5C8B"/>
<line x1="1260.1999999999998" y1="1031.4" x2="1783.2" y2="1031.4" stroke="#1a1a1a" stroke-width="1.3"/>
<line x1="1261.1" y1="1008.4000000000001" x2="1261.1" y2="1032.0" stroke="#000" stroke-width="1.9"/>
<path d="M1261.6,1064.3V1060.8H1262.3V1054.2H1263.0V1053.3H1263.7V1051.1H1264.4V1053.2H1265.1V1056.0H1265.8V1054.4H1266.5V1052.9H1267.2V1056.9H1267.9V1056.4H1268.6V1057.9H1269.3V1054.5H1270.0V1052.0H1270.7V1047.2H1271.4V1045.6H1272.1V1052.9H1272.8V1044.9H1273.5V1048.8H1274.2V1053.7H1274.9V1058.8H1275.6V1058.7H1276.3V1057.1H1277.0V1054.6H1277.7V1053.9H1278.4V1056.8H1279.1V1052.9H1279.8V1058.7H1280.5V1059.9H1281.2V1058.6H1282.6V1058.2H1283.3V1055.5H1284.0V1052.6H1284.7V1051.9H1285.4V1054.9H1286.1V1050.5H1286.8V1049.3H1287.5V1052.0H1288.2V1052.1H1288.9V1051.8H1289.6V1053.2H1290.3V1055.2H1291.0V1056.3H1291.7V1055.7H1292.4V1052.4H1293.1V1055.4H1293.8V1057.2H1294.5V1055.8H1295.2V1057.5H1295.9V1059.5H1296.6V1062.0H1297.3V1056.3H1298.0V1055.8H1298.7V1053.6H1299.4V1058.4H1300.1V1061.4H1300.8V1060.1H1301.5V1052.7H1302.2V1052.2H1302.9V1055.7H1303.6V1056.3H1304.3V1057.1H1305.0V1056.1H1305.7V1053.1H1306.4V1052.7H1307.1V1053.6H1307.8V1053.2H1308.5V1054.5H1309.2V1053.8H1309.9V1057.3H1310.6V1057.8H1311.3V1057.3H1312.0V1053.1H1312.7V1056.4H1313.4V1055.9H1314.1V1054.6H1314.8V1058.7H1315.5V1055.8H1316.2V1056.4H1316.9V1059.4H1317.6V1056.6H1318.3V1054.9H1319.0V1062.2H1319.7V1055.8H1320.4V1058.6H1321.1V1057.0H1321.8V1060.3H1322.5V1060.9H1323.2V1059.2H1323.9V1061.9H1324.6V1061.7H1325.3V1062.7H1326.0V1062.5H1326.7V1062.1H1327.4V1060.9H1328.1V1062.0H1328.8V1060.7H1329.5V1060.4H1330.2V1054.5H1330.9V1058.3H1331.6V1054.4H1332.3V1055.2H1333.0V1060.3H1333.7V1060.9H1334.4V1056.1H1335.1V1057.1H1335.8V1058.3H1336.5V1060.6H1337.2V1058.8H1337.9V1055.1H1338.6V1057.8H1339.3V1059.1H1340.0V1054.3H1340.7V1056.8H1341.4V1055.2H1342.1V1053.1H1342.8V1050.6H1343.5V1051.6H1344.2V1052.6H1344.9V1056.1H1345.6V1051.7H1346.3V1040.8H1347.0V1059.7H1347.7V1049.9H1348.4V1040.8H1349.1V1049.5H1349.8V1047.0H1350.5V1054.7H1351.2V1058.2H1351.9V1055.8H1352.6V1052.7H1353.3V1057.8H1354.0V1059.9H1354.7V1061.5H1355.4V1061.8H1356.1V1060.9H1356.8V1058.3H1357.5V1058.6H1358.2V1058.3H1358.9V1056.0H1359.6V1055.5H1360.3V1047.7H1361.0V1045.3H1361.7V1049.0H1362.4V1050.9H1363.1V1052.6H1364.5V1053.7H1365.2V1055.3H1365.9V1053.9H1366.6V1055.4H1367.3V1056.8H1368.0V1059.0H1368.7V1058.0H1369.4V1058.3H1370.1V1059.8H1370.8V1054.3H1371.5V1054.8H1372.2V1057.4H1372.9V1056.3H1373.6V1058.7H1374.3V1051.0H1375.0V1054.2H1375.7V1050.8H1376.4V1046.3H1377.1V1051.8H1377.8V1053.2H1378.5V1050.2H1379.2V1049.5H1379.9V1045.7H1380.6V1058.4H1381.3V1049.3H1382.0V1050.3H1382.7V1056.0H1383.4V1053.4H1384.1V1057.4H1384.8V1055.0H1385.5V1054.4H1386.2V1056.5H1386.9V1057.8H1387.6V1056.0H1388.3V1056.8H1389.0V1058.9H1389.7V1058.2H1390.4V1059.2H1391.1V1060.3H1391.8V1059.7H1392.5V1058.4H1393.2V1059.8H1393.9V1062.1H1394.6V1055.7H1395.3V1057.4H1396.0V1053.3H1396.7V1048.4H1397.4V1052.0H1398.1V1045.4H1398.8V1053.1H1399.5V1054.2H1400.2V1050.2H1400.9V1052.8H1401.6V1051.3H1402.3V1050.4H1403.0V1049.3H1403.7V1050.9H1404.4V1052.0H1405.1V1047.9H1405.8V1052.1H1406.5V1054.8H1407.2V1056.2H1407.9V1054.5H1408.6V1042.9H1409.3V1049.2H1410.0V1045.9H1410.7V1046.8H1411.4V1047.8H1412.1V1050.9H1412.8V1041.2H1413.5V1049.2H1414.2V1044.6H1414.9V1047.0H1415.6V1043.7H1416.3V1045.6H1417.0V1049.3H1417.7V1040.8H1418.4V1042.4H1419.1V1041.4H1419.8V1041.9H1420.5V1049.4H1421.2V1044.1H1421.9V1041.0H1422.6V1040.8H1424.0V1047.9H1424.7V1050.4H1425.4V1055.8H1426.1V1051.7H1426.8V1060.8H1427.5V1056.2H1428.2V1060.1H1428.9V1061.3H1429.6V1055.2H1430.3V1056.9H1431.0V1054.6H1431.7V1055.4H1432.4V1053.9H1433.1V1045.0H1433.8V1050.9H1434.5V1051.7H1435.2V1052.7H1435.9V1052.2H1436.6V1045.4H1437.3V1042.7H1438.0V1046.1H1438.7V1045.8H1439.4V1049.8H1440.1V1052.6H1440.8V1055.3H1441.5V1054.9H1442.2V1051.6H1442.9V1054.5H1443.6V1054.8H1444.3V1053.0H1445.0V1054.5H1445.7V1052.3H1446.4V1051.9H1447.1V1055.2H1447.8V1057.1H1448.5V1054.3H1449.2V1051.5H1449.9V1050.3H1450.6V1044.2H1451.3V1050.0H1452.0V1050.5H1452.7V1042.9H1453.4V1042.0H1454.1V1044.1H1454.8V1055.9H1455.5V1060.2H1456.2V1056.5H1456.9V1058.4H1457.6V1054.2H1458.3V1056.0H1459.0V1050.8H1459.7V1052.3H1460.4V1053.3H1461.1V1057.0H1461.8V1058.0H1462.5V1061.2H1463.2V1061.0H1463.9V1060.0H1464.6V1061.1H1465.3V1057.6H1466.0V1057.3H1466.7V1058.9H1467.4V1057.3H1468.1V1057.1H1468.8V1053.0H1469.5V1052.9H1470.2V1055.7H1470.9V1055.1H1471.6V1048.4H1472.3V1041.0H1473.0V1043.3H1473.7V1049.6H1474.4V1047.1H1475.1V1053.6H1475.8V1058.4H1476.5V1054.2H1477.2V1046.3H1477.9V1046.0H1478.6V1051.0H1479.3V1048.3H1480.0V1050.4H1480.7V1054.4H1481.4V1054.6H1482.1V1054.4H1482.8V1055.6H1483.5V1045.9H1484.2V1048.9H1484.9V1052.2H1485.6V1051.3H1486.3V1055.8H1487.0V1055.0H1487.7V1057.2H1488.4V1057.9H1489.1V1058.3H1489.8V1054.4H1490.5V1058.8H1491.2V1058.4H1491.9V1058.0H1492.6V1058.1H1493.3V1059.4H1494.0V1060.9H1494.7V1062.6H1495.4V1061.9H1496.1V1061.3H1496.8V1060.0H1497.5V1057.4H1498.2V1056.1H1498.9V1055.2H1499.6V1058.7H1500.3V1056.2H1501.0V1057.3H1501.7V1057.2H1502.4V1061.5H1503.1V1059.1H1503.8V1061.2H1504.5V1060.7H1505.2V1061.9H1505.9V1062.0H1506.6V1062.5H1507.3V1061.6H1508.0V1060.3H1508.7V1058.2H1509.4V1057.6H1510.1V1054.8H1510.8V1053.6H1511.5V1057.7H1512.2V1058.6H1512.9V1059.2H1513.6V1059.9H1514.3V1058.2H1515.0V1057.3H1515.7V1060.5H1516.4V1055.6H1517.1V1052.6H1517.8V1055.5H1518.5V1056.8H1519.2V1054.1H1519.9V1044.9H1520.6V1044.4H1521.3V1056.5H1522.0V1050.5H1522.7V1057.4H1523.4V1053.9H1524.1V1052.8H1524.8V1057.0H1525.5V1054.5H1526.2V1050.6H1526.9V1049.4H1527.6V1045.2H1528.3V1053.2H1529.0V1043.4H1529.7V1043.1H1530.4V1052.0H1531.1V1047.5H1531.8V1047.6H1532.5V1054.1H1533.2V1051.7H1533.9V1055.4H1534.6V1051.7H1535.3V1050.3H1536.0V1044.3H1536.7V1050.2H1537.4V1052.2H1538.1V1052.4H1538.8V1050.0H1540.2V1050.5H1540.9V1056.8H1541.6V1053.8H1542.3V1056.6H1543.0V1057.5H1543.7V1060.1H1544.4V1063.0H1545.1V1060.3H1545.8V1059.1H1546.5V1060.1H1547.2V1053.2H1547.9V1052.8H1548.6V1054.4H1549.3V1056.1H1550.0V1053.9H1550.7V1055.1H1551.4V1054.9H1552.1V1056.6H1552.8V1054.0H1553.5V1052.0H1554.2V1049.9H1554.9V1048.3H1555.6V1055.8H1556.3V1054.1H1557.0V1056.5H1557.7V1058.5H1558.4V1056.2H1559.1V1059.1H1559.8V1058.2H1560.5V1056.4H1561.2V1059.6H1561.9V1061.6H1562.6V1060.0H1563.3V1059.0H1564.0V1051.8H1564.7V1050.3H1565.4V1048.7H1566.1V1056.5H1566.8V1055.5H1567.5V1056.1H1568.2V1058.2H1568.9V1059.0H1569.6V1059.2H1570.3V1057.9H1571.0V1057.0H1571.7V1057.7H1572.4V1057.6H1573.1V1057.5H1573.8V1054.3H1574.5V1053.3H1575.2V1052.8H1575.9V1054.9H1576.6V1057.9H1577.3V1057.8H1578.0V1050.3H1578.7V1056.7H1579.4V1056.3H1580.1V1056.0H1580.8V1053.2H1581.5V1054.6H1582.2V1045.9H1582.9V1049.3H1583.6V1048.6H1584.3V1049.0H1585.0V1048.5H1585.7V1052.5H1586.4V1041.5H1587.1V1044.6H1587.8V1056.7H1588.5V1051.9H1589.2V1049.6H1589.9V1054.3H1590.6V1056.7H1591.3V1048.8H1592.0V1041.7H1592.7V1046.2H1593.4V1044.6H1594.1V1042.0H1594.8V1046.6H1595.5V1040.8H1596.2V1047.0H1596.9V1040.8H1598.3V1042.1H1599.0V1042.8H1599.7V1040.8H1600.4V1047.7H1601.1V1057.2H1601.8V1060.0H1602.5V1061.8H1603.2V1062.3H1603.9V1061.7H1604.6V1061.3H1605.3V1061.1H1606.0V1061.6H1606.7V1052.7H1607.4V1047.6H1608.1V1047.8H1608.8V1040.8H1609.5V1044.7H1610.2V1043.6H1610.9V1046.9H1611.6V1040.8H1612.3V1047.2H1613.0V1049.8H1613.7V1051.2H1614.4V1055.4H1615.1V1050.8H1615.8V1055.1H1616.5V1048.4H1617.2V1056.1H1617.9V1054.9H1618.6V1053.7H1619.3V1048.2H1620.0V1040.8H1620.7V1047.2H1621.4V1049.5H1622.1V1051.3H1622.8V1043.3H1623.5V1052.3H1624.2V1048.2H1624.9V1048.0H1625.6V1052.6H1626.3V1055.1H1627.0V1057.9H1627.7V1062.4H1628.4V1061.1H1629.1V1060.6H1629.8V1053.0H1630.5V1055.9H1631.2V1052.3H1631.9V1048.8H1632.6V1051.6H1633.3V1052.4H1634.0V1056.6H1634.7V1054.3H1635.4V1056.8H1636.8V1057.5H1637.5V1056.2H1638.2V1051.5H1638.9V1052.2H1639.6V1050.2H1640.3V1051.8H1641.0V1053.0H1641.7V1050.0H1642.4V1045.7H1643.1V1047.0H1643.8V1046.7H1644.5V1055.3H1645.2V1057.8H1645.9V1052.3H1646.6V1052.0H1647.3V1051.1H1648.0V1045.7H1648.7V1045.1H1649.4V1049.2H1650.1V1044.8H1650.8V1047.9H1651.5V1052.8H1652.2V1046.7H1652.9V1050.5H1653.6V1054.5H1654.3V1055.0H1655.7V1051.7H1656.4V1045.8H1657.1V1050.5H1657.8V1057.3H1658.5V1059.9H1659.2V1060.6H1659.9V1062.7H1660.6V1062.9H1661.3V1063.2H1662.0V1060.6H1662.7V1059.9H1663.4V1056.9H1664.1V1057.4H1664.8V1056.3H1665.5V1056.1H1666.2V1058.8H1666.9V1048.0H1667.6V1045.5H1668.3V1041.4H1669.0V1052.4H1669.7V1057.7H1670.4V1060.0H1671.1V1059.0H1671.8V1057.6H1672.5V1057.5H1673.2V1056.2H1673.9V1054.6H1674.6V1056.8H1675.3V1059.4H1676.0V1056.6H1676.7V1060.8H1677.4V1061.5H1678.1V1056.2H1678.8V1050.2H1679.5V1050.9H1680.2V1044.6H1680.9V1052.9H1681.6V1054.5H1682.3V1050.3H1683.0V1059.9H1683.7V1058.1H1684.4V1054.9H1685.1V1060.0H1685.8V1062.6H1686.5V1060.0H1687.2V1059.5H1687.9V1058.4H1688.6V1061.3H1689.3V1060.3H1690.0V1058.7H1690.7V1056.5H1691.4V1054.8H1692.1V1060.0H1692.8V1056.4H1693.5V1048.1H1694.2V1058.4H1694.9V1049.9H1695.6V1051.4H1696.3V1049.6H1697.0V1053.7H1697.7V1050.5H1698.4V1054.5H1699.1V1057.6H1699.8V1053.6H1701.2V1057.4H1701.9V1057.1H1702.6V1056.1H1703.3V1062.0H1704.0V1061.6H1704.7V1058.2H1705.4V1060.4H1706.1V1052.1H1706.8V1049.7H1707.5V1051.2H1708.2V1054.1H1708.9V1056.2H1709.6V1053.5H1710.3V1048.1H1711.0V1054.2H1711.7V1052.7H1712.4V1052.3H1713.1V1058.9H1713.8V1058.5H1714.5V1052.6H1715.2V1052.7H1715.9V1055.1H1716.6V1043.4H1717.3V1049.5H1718.0V1048.5H1718.7V1051.1H1719.4V1049.4H1720.1V1058.1H1720.8V1051.5H1721.5V1055.1H1722.2V1057.5H1722.9V1055.9H1723.6V1056.3H1724.3V1056.4H1725.0V1059.1H1725.7V1060.0H1726.4V1059.7H1727.1V1061.8H1727.8V1060.6H1728.5V1057.8H1729.2V1056.4H1729.9V1054.8H1730.6V1049.2H1731.3V1051.3H1732.0V1059.2H1732.7V1060.4H1733.4V1058.7H1734.1V1054.0H1734.8V1054.9H1735.5V1054.7H1736.2V1048.6H1736.9V1050.1H1737.6V1048.7H1738.3V1056.7H1739.0V1057.9H1739.7V1055.6H1740.4V1059.1H1741.1V1060.2H1741.8V1061.4H1742.5V1060.7H1743.2V1062.6H1743.9V1061.9H1744.6V1062.6H1745.3V1059.8H1746.0V1060.2H1746.7V1058.7H1747.4V1058.6H1748.1V1057.8H1748.8V1058.7H1749.5V1054.7H1750.2V1060.1H1750.9V1061.4H1751.6V1062.3H1752.3V1063.2H1753.0V1063.0H1753.7V1062.5H1754.4V1061.8H1755.1V1061.4H1755.8V1061.9H1756.5V1062.6H1757.2V1061.7H1757.9V1060.3H1758.6V1061.2H1759.3V1059.3H1760.0V1057.4H1760.7V1059.4H1761.4V1056.8H1762.1V1055.9H1762.8V1058.5H1763.5V1055.7H1764.2V1057.9H1764.9V1057.3H1765.6V1056.1H1766.3V1056.6H1767.0V1058.1H1767.7V1047.8H1768.4V1052.0H1769.1V1052.9H1769.8V1058.1H1770.5V1059.7H1771.2V1060.3H1772.6V1060.7H1773.3V1061.7H1774.0V1059.6H1774.7V1060.5H1775.4V1059.8H1776.1V1060.3H1776.8V1062.2H1777.5V1062.8H1778.2V1063.4H1779.6V1062.3H1781.0V1061.8H1781.7V1060.5H1782.4V1060.3H1783.1V1061.5H1783.8V1064.3Z" fill="#3C5C8B"/>
<line x1="1260.1999999999998" y1="1064.3" x2="1783.2" y2="1064.3" stroke="#1a1a1a" stroke-width="1.3"/>
<line x1="1261.1" y1="1041.3" x2="1261.1" y2="1064.8999999999999" stroke="#000" stroke-width="1.9"/>
<path d="M1261.6,1097.1V1095.5H1262.8V1095.9H1263.4V1094.5H1264.0V1094.3H1264.6V1094.1H1265.2V1095.4H1265.8V1095.0H1266.4V1095.3H1267.0V1095.0H1267.6V1094.6H1268.2V1095.9H1269.4V1095.7H1270.0V1095.2H1270.6V1095.3H1271.2V1095.2H1271.8V1095.4H1272.4V1095.5H1273.0V1096.0H1273.6V1095.6H1274.2V1095.2H1274.8V1095.9H1275.4V1095.6H1276.0V1095.5H1276.6V1096.5H1277.2V1095.9H1277.8V1095.8H1278.4V1096.0H1279.0V1095.2H1279.6V1096.1H1280.2V1095.5H1280.8V1095.9H1281.4V1095.3H1282.0V1095.1H1282.6V1096.1H1283.2V1095.8H1283.8V1095.5H1285.0V1095.2H1285.6V1095.4H1286.2V1095.6H1286.8V1095.3H1287.4V1095.7H1288.0V1096.4H1289.2V1095.7H1289.8V1093.6H1290.4V1095.2H1291.0V1095.3H1291.6V1095.2H1292.2V1095.8H1292.8V1095.7H1294.0V1095.8H1294.6V1096.1H1295.2V1095.9H1296.4V1096.0H1297.0V1095.4H1297.6V1096.1H1298.2V1096.4H1298.8V1096.3H1299.4V1095.4H1300.0V1095.9H1300.6V1095.2H1301.2V1095.3H1301.8V1095.7H1302.4V1095.6H1303.6V1095.8H1304.2V1095.9H1305.4V1095.2H1306.0V1095.8H1306.6V1095.4H1307.2V1095.5H1307.8V1096.2H1308.4V1096.6H1309.0V1096.4H1309.6V1095.8H1310.2V1095.6H1310.8V1095.7H1311.4V1096.3H1312.0V1096.0H1312.6V1096.2H1313.2V1096.3H1313.8V1096.5H1314.4V1096.1H1315.0V1095.7H1315.6V1095.4H1316.2V1094.0H1316.8V1095.0H1317.4V1093.8H1318.0V1092.1H1318.6V1095.3H1319.2V1094.8H1319.8V1095.2H1320.4V1094.7H1321.0V1094.8H1321.6V1095.0H1322.2V1094.0H1322.8V1094.3H1323.4V1093.6H1324.0V1093.1H1324.6V1092.5H1325.2V1090.1H1325.8V1095.0H1326.4V1094.1H1327.0V1095.2H1327.6V1095.8H1328.2V1095.3H1328.8V1095.4H1329.4V1092.5H1330.0V1095.7H1330.6V1094.9H1331.2V1095.7H1331.8V1094.7H1333.0V1095.5H1333.6V1094.3H1334.2V1095.3H1334.8V1094.9H1335.4V1095.3H1336.0V1094.9H1336.6V1092.5H1337.2V1094.4H1337.8V1094.9H1338.4V1095.0H1339.6V1092.8H1340.2V1095.6H1340.8V1096.1H1341.4V1095.7H1342.0V1095.6H1342.6V1096.5H1343.2V1095.3H1343.8V1095.1H1344.4V1095.4H1345.0V1095.8H1345.6V1095.7H1346.2V1095.4H1346.8V1095.6H1347.4V1095.5H1348.0V1096.0H1348.6V1094.9H1349.2V1095.5H1349.8V1095.3H1350.4V1095.5H1351.6V1095.4H1352.2V1095.3H1352.8V1095.4H1353.4V1095.6H1354.0V1095.2H1354.6V1095.3H1355.2V1096.1H1355.8V1095.7H1356.4V1095.5H1357.0V1095.2H1357.6V1095.6H1358.2V1095.9H1358.8V1095.8H1360.0V1095.7H1360.6V1095.5H1361.2V1096.0H1362.4V1093.9H1363.0V1096.0H1364.2V1096.3H1364.8V1096.0H1365.4V1094.8H1366.0V1095.6H1366.6V1095.3H1367.2V1095.6H1368.4V1095.9H1369.6V1095.2H1370.2V1095.8H1370.8V1095.3H1371.4V1095.2H1372.0V1094.9H1372.6V1095.4H1373.2V1095.0H1373.8V1092.7H1374.4V1095.1H1375.0V1095.6H1375.6V1095.9H1376.2V1095.6H1376.8V1095.8H1377.4V1095.3H1378.0V1095.7H1378.6V1096.2H1379.2V1095.2H1379.8V1095.6H1380.4V1095.5H1381.0V1095.7H1381.6V1095.3H1382.2V1096.0H1382.8V1095.7H1383.4V1095.2H1384.0V1096.2H1384.6V1095.9H1385.2V1095.6H1385.8V1095.7H1386.4V1095.2H1387.0V1095.9H1387.6V1095.4H1388.2V1095.9H1388.8V1095.7H1389.4V1095.4H1390.0V1095.6H1390.6V1095.7H1391.2V1096.3H1391.8V1095.5H1392.4V1095.7H1393.0V1095.4H1393.6V1095.7H1394.2V1095.6H1394.8V1096.5H1395.4V1096.0H1396.0V1095.6H1396.6V1095.7H1397.2V1093.3H1397.8V1095.8H1398.4V1095.3H1399.6V1092.7H1400.2V1094.7H1400.8V1095.0H1401.4V1094.7H1402.0V1094.4H1402.6V1094.6H1403.2V1094.2H1403.8V1093.5H1404.4V1094.5H1405.0V1093.9H1406.2V1095.0H1406.8V1094.2H1407.4V1094.7H1408.0V1095.4H1408.6V1095.3H1409.8V1095.7H1410.4V1095.3H1411.0V1095.6H1411.6V1095.4H1412.2V1094.7H1412.8V1094.6H1413.4V1094.7H1414.0V1095.4H1414.6V1095.8H1415.2V1092.1H1415.8V1095.2H1416.4V1094.0H1417.0V1094.6H1417.6V1094.5H1418.2V1095.3H1418.8V1094.1H1419.4V1094.9H1420.0V1094.5H1420.6V1094.6H1421.2V1095.0H1421.8V1095.1H1422.4V1095.4H1423.0V1094.0H1423.6V1095.8H1424.2V1095.2H1424.8V1095.1H1425.4V1095.9H1426.0V1095.3H1426.6V1095.7H1427.2V1096.5H1427.8V1095.8H1428.4V1093.9H1429.0V1095.6H1429.6V1095.0H1430.2V1095.9H1430.8V1095.0H1431.4V1094.9H1432.0V1095.0H1432.6V1095.3H1433.2V1095.5H1433.8V1095.2H1434.4V1095.5H1435.0V1095.6H1435.6V1094.6H1436.2V1095.4H1436.8V1095.1H1437.4V1095.4H1438.0V1095.0H1438.6V1095.6H1439.2V1095.8H1439.8V1094.6H1440.4V1094.4H1441.0V1095.4H1441.6V1095.0H1442.2V1095.5H1442.8V1095.8H1443.4V1094.1H1444.0V1095.1H1444.6V1094.5H1445.2V1094.6H1445.8V1094.5H1446.4V1095.2H1447.0V1095.6H1448.2V1095.3H1448.8V1094.9H1449.4V1094.5H1450.0V1095.5H1450.6V1095.0H1451.2V1094.8H1451.8V1095.0H1452.4V1094.7H1453.0V1095.3H1453.6V1095.2H1454.2V1095.5H1454.8V1095.6H1455.4V1095.7H1456.0V1095.9H1456.6V1094.9H1457.2V1095.7H1457.8V1095.9H1458.4V1096.1H1459.0V1095.5H1459.6V1095.8H1460.2V1096.1H1460.8V1096.0H1461.4V1095.8H1462.6V1095.5H1463.2V1095.1H1463.8V1095.2H1464.4V1095.9H1465.0V1096.0H1466.2V1095.8H1466.8V1095.4H1467.4V1095.1H1468.0V1095.0H1468.6V1095.5H1469.2V1095.2H1469.8V1095.3H1470.4V1095.2H1471.0V1095.8H1472.2V1095.4H1472.8V1095.1H1474.0V1095.6H1474.6V1095.7H1475.2V1095.0H1475.8V1095.2H1476.4V1094.5H1477.0V1094.7H1477.6V1094.6H1478.8V1095.1H1479.4V1095.4H1480.0V1094.7H1480.6V1094.2H1481.2V1092.4H1481.8V1095.3H1482.4V1093.1H1483.0V1093.6H1483.6V1094.0H1484.2V1093.8H1484.8V1093.5H1485.4V1094.2H1486.6V1093.1H1487.2V1093.7H1487.8V1094.3H1488.4V1095.2H1489.0V1096.2H1489.6V1095.8H1490.2V1095.6H1490.8V1094.7H1491.4V1094.5H1492.0V1095.4H1492.6V1095.0H1493.2V1095.5H1493.8V1094.4H1494.4V1095.5H1495.0V1093.7H1495.6V1093.0H1496.2V1093.8H1496.8V1093.3H1497.4V1092.4H1498.0V1089.7H1498.6V1084.7H1499.2V1080.5H1499.8V1075.6H1500.4V1075.1H1501.0V1084.3H1501.6V1080.4H1502.2V1087.3H1502.8V1087.0H1503.4V1092.8H1504.0V1092.4H1505.2V1091.3H1505.8V1090.3H1506.4V1092.5H1507.0V1092.7H1507.6V1090.4H1508.2V1089.9H1508.8V1091.0H1509.4V1094.0H1510.0V1095.0H1510.6V1094.6H1511.2V1094.7H1512.4V1093.0H1513.0V1092.7H1513.6V1093.2H1514.2V1094.2H1514.8V1094.6H1515.4V1095.3H1516.0V1092.6H1516.6V1090.8H1517.2V1093.5H1517.8V1094.5H1518.4V1095.8H1519.0V1094.9H1519.6V1095.6H1520.2V1095.5H1520.8V1095.1H1521.4V1095.0H1522.0V1094.6H1522.6V1095.7H1523.2V1094.9H1523.8V1095.2H1524.4V1095.8H1525.0V1094.9H1525.6V1094.7H1526.2V1095.7H1526.8V1095.2H1527.4V1096.1H1528.0V1095.3H1528.6V1094.5H1529.2V1095.2H1529.8V1095.7H1530.4V1095.5H1531.0V1094.7H1531.6V1095.1H1532.2V1094.6H1532.8V1094.7H1533.4V1095.6H1534.0V1094.7H1534.6V1095.7H1535.2V1095.3H1535.8V1094.2H1537.0V1095.0H1537.6V1095.7H1538.2V1094.6H1538.8V1095.9H1539.4V1095.5H1540.0V1095.6H1540.6V1096.0H1541.2V1095.9H1541.8V1095.2H1542.4V1095.6H1543.0V1095.8H1543.6V1095.4H1544.2V1094.0H1544.8V1091.8H1545.4V1092.1H1546.0V1095.0H1546.6V1094.6H1547.2V1093.3H1547.8V1094.1H1548.4V1094.5H1549.0V1093.5H1549.6V1091.5H1550.2V1092.1H1550.8V1091.5H1551.4V1091.2H1552.0V1093.0H1552.6V1095.6H1553.2V1095.4H1553.8V1095.1H1555.0V1095.4H1555.6V1095.0H1556.2V1090.7H1556.8V1093.1H1557.4V1094.2H1558.0V1094.9H1558.6V1095.9H1559.2V1095.4H1559.8V1094.2H1560.4V1094.3H1561.0V1094.5H1561.6V1093.8H1562.8V1094.2H1563.4V1094.3H1564.6V1094.7H1565.2V1093.9H1565.8V1094.5H1566.4V1093.6H1567.0V1095.3H1567.6V1087.4H1568.2V1080.3H1568.8V1078.6H1569.4V1086.1H1570.0V1085.0H1570.6V1088.9H1571.2V1087.5H1571.8V1091.3H1572.4V1093.5H1573.0V1093.2H1573.6V1094.8H1574.2V1093.3H1574.8V1093.6H1575.4V1093.9H1576.0V1094.8H1576.6V1094.1H1577.2V1094.5H1577.8V1095.8H1578.4V1095.2H1579.0V1096.0H1579.6V1095.6H1580.2V1095.1H1580.8V1095.5H1581.4V1095.0H1582.0V1094.8H1582.6V1095.6H1583.2V1094.0H1583.8V1095.1H1585.0V1094.7H1585.6V1094.8H1586.2V1095.2H1587.4V1095.0H1588.0V1095.3H1588.6V1094.1H1589.2V1094.2H1589.8V1093.5H1590.4V1094.1H1591.0V1093.9H1591.6V1094.9H1592.2V1093.5H1592.8V1093.9H1593.4V1093.6H1594.0V1093.7H1594.6V1094.9H1595.2V1094.4H1595.8V1095.9H1596.4V1095.2H1597.0V1095.5H1597.6V1096.3H1598.2V1095.3H1598.8V1095.4H1599.4V1095.9H1600.0V1095.4H1600.6V1095.8H1601.2V1095.5H1601.8V1095.9H1603.0V1095.1H1603.6V1095.6H1604.2V1095.0H1605.4V1094.8H1606.0V1095.2H1606.6V1095.7H1607.2V1095.5H1607.8V1095.3H1608.4V1094.9H1609.0V1095.7H1609.6V1095.2H1610.2V1095.9H1610.8V1095.8H1612.0V1095.7H1612.6V1095.5H1613.2V1095.6H1613.8V1096.3H1614.4V1095.4H1615.0V1095.7H1615.6V1095.3H1616.2V1095.4H1616.8V1095.9H1617.4V1096.4H1618.0V1095.9H1619.2V1095.5H1619.8V1095.6H1620.4V1095.8H1621.0V1096.0H1621.6V1095.8H1622.2V1095.9H1622.8V1095.8H1623.4V1095.2H1624.0V1095.0H1624.6V1095.4H1625.2V1096.2H1625.8V1095.5H1626.4V1095.9H1627.0V1095.5H1627.6V1095.6H1628.2V1095.9H1628.8V1094.4H1629.4V1095.7H1630.0V1095.9H1630.6V1095.3H1631.2V1096.2H1632.4V1095.2H1633.0V1095.9H1633.6V1095.8H1634.2V1095.1H1634.8V1095.6H1635.4V1096.4H1636.0V1096.2H1636.6V1095.7H1637.2V1095.4H1638.4V1094.3H1639.0V1095.8H1639.6V1095.9H1640.2V1095.2H1640.8V1095.7H1641.4V1095.2H1642.0V1096.1H1642.6V1095.9H1643.2V1095.5H1643.8V1096.1H1644.4V1095.8H1645.0V1096.5H1645.6V1096.7H1646.2V1095.5H1646.8V1095.2H1647.4V1095.8H1648.0V1094.5H1648.6V1095.7H1649.2V1095.5H1649.8V1095.9H1650.4V1095.4H1651.0V1095.3H1651.6V1096.1H1652.2V1095.9H1652.8V1095.8H1653.4V1096.2H1654.0V1095.2H1654.6V1095.3H1655.8V1095.7H1656.4V1095.2H1657.0V1095.9H1657.6V1095.3H1658.2V1095.6H1658.8V1094.9H1659.4V1094.4H1660.0V1094.6H1660.6V1094.9H1661.2V1094.7H1661.8V1093.9H1662.4V1094.4H1663.0V1093.8H1663.6V1094.1H1664.2V1094.7H1664.8V1094.4H1665.4V1095.2H1666.0V1094.9H1666.6V1096.0H1667.2V1095.1H1667.8V1095.8H1668.4V1095.9H1669.0V1095.8H1669.6V1095.5H1670.2V1094.0H1670.8V1095.5H1671.4V1095.4H1672.0V1095.8H1673.2V1095.9H1673.8V1096.3H1674.4V1095.7H1675.0V1095.5H1675.6V1093.1H1676.2V1095.0H1676.8V1094.4H1677.4V1095.0H1678.0V1094.5H1678.6V1092.9H1679.2V1092.2H1679.8V1093.4H1680.4V1093.8H1681.0V1094.2H1681.6V1094.9H1682.2V1095.0H1682.8V1095.3H1683.4V1092.7H1684.0V1095.8H1684.6V1094.9H1685.2V1094.5H1685.8V1094.7H1686.4V1095.6H1687.6V1095.2H1688.2V1095.6H1688.8V1095.3H1689.4V1095.5H1690.0V1094.9H1690.6V1093.3H1691.2V1092.6H1691.8V1094.3H1692.4V1095.4H1693.0V1095.7H1693.6V1095.6H1694.2V1093.9H1694.8V1095.4H1695.4V1095.1H1696.0V1095.7H1696.6V1095.8H1697.2V1095.6H1697.8V1095.3H1698.4V1095.7H1699.0V1095.5H1699.6V1095.9H1700.2V1095.7H1700.8V1095.3H1701.4V1095.7H1702.0V1095.3H1703.2V1095.8H1703.8V1095.9H1704.4V1096.1H1705.0V1095.2H1705.6V1095.6H1706.2V1095.3H1706.8V1095.4H1707.4V1095.2H1708.0V1095.3H1708.6V1096.2H1709.2V1095.6H1709.8V1095.3H1710.4V1095.1H1711.0V1095.7H1711.6V1095.5H1712.2V1096.2H1712.8V1095.2H1713.4V1095.9H1714.0V1094.9H1714.6V1095.7H1715.2V1095.6H1715.8V1095.9H1716.4V1096.2H1717.0V1095.3H1717.6V1096.0H1718.2V1096.1H1719.4V1094.6H1720.0V1095.6H1720.6V1095.8H1721.2V1095.5H1721.8V1094.9H1722.4V1095.2H1723.0V1095.4H1723.6V1096.2H1724.2V1094.6H1724.8V1094.7H1725.4V1094.6H1726.0V1095.1H1726.6V1095.4H1727.2V1093.2H1727.8V1095.3H1728.4V1095.0H1729.0V1094.3H1729.6V1094.2H1730.2V1095.1H1730.8V1094.5H1731.4V1095.4H1732.0V1094.6H1732.6V1094.4H1733.2V1094.5H1733.8V1094.3H1734.4V1094.4H1735.0V1095.0H1735.6V1095.1H1736.2V1095.4H1736.8V1095.5H1737.4V1095.4H1738.6V1094.5H1739.2V1094.2H1739.8V1095.6H1740.4V1094.8H1741.0V1095.3H1741.6V1095.6H1742.2V1095.2H1742.8V1094.9H1743.4V1095.0H1744.0V1095.3H1744.6V1095.5H1745.2V1095.4H1745.8V1095.3H1746.4V1095.7H1747.0V1094.9H1747.6V1096.1H1748.2V1095.5H1748.8V1095.7H1749.4V1095.0H1750.0V1091.4H1750.6V1094.4H1751.2V1094.7H1751.8V1095.4H1752.4V1094.6H1753.0V1094.2H1753.6V1093.6H1754.2V1094.4H1754.8V1094.2H1755.4V1093.8H1756.0V1091.6H1756.6V1090.9H1757.2V1089.9H1757.8V1080.8H1758.4V1089.1H1759.0V1087.8H1759.6V1087.3H1760.2V1089.4H1760.8V1094.2H1761.4V1095.2H1762.0V1094.6H1762.6V1095.6H1763.2V1095.7H1763.8V1095.2H1764.4V1094.4H1765.0V1094.9H1765.6V1095.5H1766.2V1096.0H1766.8V1095.9H1767.4V1095.2H1768.0V1095.4H1768.6V1095.0H1769.2V1095.3H1769.8V1095.7H1770.4V1095.2H1771.0V1095.3H1771.6V1095.1H1772.2V1095.2H1772.8V1096.3H1773.4V1096.0H1774.0V1095.3H1774.6V1095.1H1775.2V1094.4H1775.8V1095.7H1776.4V1095.1H1777.0V1093.0H1777.6V1090.5H1778.2V1088.2H1778.8V1089.4H1779.4V1092.2H1780.0V1092.6H1780.6V1093.0H1781.2V1092.0H1781.8V1092.9H1782.4V1093.5H1783.0V1093.8H1783.6V1097.1Z" fill="#F5947B"/>
<line x1="1260.1999999999998" y1="1097.1" x2="1783.2" y2="1097.1" stroke="#1a1a1a" stroke-width="1.3"/>
<line x1="1261.1" y1="1074.1" x2="1261.1" y2="1097.6999999999998" stroke="#000" stroke-width="1.9"/>
<path d="M1261.6,1130.0V1129.3H1262.2V1127.9H1262.8V1128.8H1263.4V1129.2H1264.0V1128.5H1264.6V1128.9H1265.8V1129.3H1266.4V1128.5H1267.0V1128.8H1267.6V1128.9H1268.2V1129.2H1268.8V1128.8H1269.4V1128.9H1270.0V1129.1H1270.6V1127.9H1271.2V1128.8H1271.8V1129.0H1272.4V1129.1H1273.0V1129.0H1273.6V1129.2H1274.2V1128.5H1274.8V1128.3H1275.4V1128.9H1276.0V1128.7H1276.6V1128.9H1277.2V1129.1H1277.8V1129.2H1278.4V1129.1H1279.0V1128.7H1279.6V1127.6H1280.2V1129.0H1280.8V1129.4H1281.4V1129.3H1282.0V1128.7H1283.2V1128.8H1283.8V1129.2H1284.4V1129.3H1285.0V1128.2H1285.6V1129.1H1286.2V1128.7H1286.8V1129.2H1287.4V1128.7H1288.0V1128.2H1288.6V1128.5H1289.2V1128.7H1289.8V1128.4H1290.4V1128.8H1291.0V1128.5H1291.6V1128.1H1292.2V1129.1H1292.8V1128.7H1293.4V1126.7H1294.0V1128.9H1294.6V1128.2H1295.2V1128.1H1295.8V1128.4H1296.4V1127.7H1297.0V1127.2H1297.6V1128.1H1298.2V1128.0H1298.8V1127.4H1299.4V1128.6H1300.0V1127.9H1300.6V1126.8H1301.2V1129.1H1301.8V1128.8H1302.4V1128.3H1303.0V1129.4H1303.6V1128.8H1304.8V1129.1H1305.4V1128.7H1306.6V1129.0H1307.2V1128.6H1307.8V1129.0H1308.4V1129.4H1309.0V1129.3H1309.6V1127.5H1310.2V1128.6H1310.8V1128.9H1311.4V1128.5H1312.0V1129.0H1312.6V1128.3H1313.2V1128.4H1313.8V1128.9H1314.4V1129.0H1315.6V1127.6H1316.2V1128.5H1316.8V1128.3H1317.4V1129.0H1318.0V1128.2H1318.6V1127.6H1319.2V1128.1H1319.8V1128.5H1320.4V1128.1H1321.0V1128.7H1321.6V1128.5H1322.2V1125.6H1322.8V1127.9H1323.4V1126.1H1324.0V1122.8H1324.6V1121.5H1325.2V1123.1H1325.8V1124.9H1326.4V1128.2H1327.0V1127.6H1327.6V1128.3H1328.2V1128.8H1328.8V1128.2H1329.4V1127.3H1330.0V1128.2H1331.2V1128.4H1331.8V1128.6H1332.4V1128.5H1333.0V1128.2H1333.6V1127.3H1334.2V1128.3H1334.8V1127.3H1335.4V1126.4H1336.0V1125.7H1336.6V1126.5H1337.2V1127.8H1337.8V1128.1H1338.4V1128.0H1339.0V1128.1H1339.6V1128.2H1340.2V1127.7H1340.8V1128.4H1341.4V1127.6H1342.0V1128.3H1342.6V1128.5H1343.2V1125.5H1343.8V1128.0H1344.4V1127.5H1345.0V1127.7H1345.6V1127.5H1346.8V1127.8H1347.4V1128.0H1348.0V1126.4H1348.6V1126.5H1349.2V1127.0H1349.8V1127.6H1350.4V1127.4H1351.0V1127.6H1351.6V1128.1H1352.2V1129.3H1352.8V1128.9H1353.4V1129.2H1354.6V1128.6H1355.2V1129.5H1355.8V1129.0H1356.4V1128.8H1357.0V1129.5H1358.2V1129.2H1358.8V1129.0H1359.4V1128.5H1360.0V1129.0H1360.6V1128.5H1361.2V1128.7H1362.4V1129.1H1363.0V1128.9H1363.6V1129.4H1364.2V1129.0H1364.8V1128.6H1365.4V1129.2H1366.0V1127.1H1366.6V1128.5H1367.2V1129.2H1367.8V1129.0H1368.4V1129.2H1369.6V1129.1H1370.2V1129.0H1370.8V1128.4H1371.4V1128.7H1372.0V1128.4H1372.6V1128.5H1373.2V1129.2H1374.4V1129.1H1375.0V1129.0H1375.6V1128.5H1376.2V1129.5H1376.8V1128.2H1377.4V1128.7H1378.0V1129.1H1378.6V1129.6H1379.2V1128.8H1379.8V1129.2H1380.4V1129.4H1381.0V1128.2H1381.6V1128.8H1382.2V1128.7H1382.8V1128.9H1384.0V1128.7H1384.6V1129.4H1385.2V1128.4H1385.8V1128.5H1386.4V1128.0H1387.0V1129.1H1387.6V1128.8H1388.2V1128.5H1388.8V1128.4H1389.4V1128.2H1390.0V1128.3H1390.6V1127.1H1391.2V1128.1H1391.8V1127.0H1392.4V1127.3H1393.0V1126.3H1393.6V1126.5H1394.2V1126.7H1394.8V1128.1H1395.4V1127.7H1396.0V1128.3H1396.6V1127.7H1397.2V1127.2H1397.8V1128.3H1398.4V1129.0H1399.0V1128.0H1399.6V1127.6H1400.2V1128.8H1400.8V1128.3H1401.4V1128.6H1402.6V1127.9H1403.2V1127.8H1403.8V1127.5H1404.4V1127.7H1405.0V1126.8H1405.6V1125.6H1406.2V1124.2H1406.8V1126.3H1407.4V1126.5H1408.0V1127.6H1408.6V1128.3H1409.2V1127.3H1410.4V1126.7H1411.0V1126.0H1411.6V1126.2H1412.2V1127.5H1412.8V1127.2H1413.4V1128.1H1414.0V1128.5H1414.6V1129.1H1415.2V1129.5H1415.8V1128.5H1416.4V1129.2H1417.0V1128.3H1417.6V1128.4H1418.2V1128.5H1418.8V1129.2H1419.4V1129.1H1420.0V1128.7H1420.6V1128.6H1421.2V1128.7H1421.8V1128.5H1423.0V1127.9H1423.6V1129.0H1424.2V1128.4H1424.8V1128.7H1425.4V1128.2H1426.0V1128.1H1426.6V1129.0H1427.2V1127.9H1427.8V1128.3H1428.4V1128.4H1429.0V1128.9H1429.6V1128.1H1430.2V1128.9H1430.8V1127.8H1431.4V1128.1H1432.0V1128.5H1432.6V1128.8H1433.2V1126.3H1433.8V1128.0H1434.4V1128.5H1435.0V1127.8H1435.6V1125.7H1436.2V1128.2H1436.8V1128.3H1437.4V1128.1H1438.0V1128.7H1438.6V1128.1H1439.2V1128.6H1439.8V1128.5H1440.4V1128.3H1441.0V1128.8H1441.6V1129.3H1442.8V1128.4H1443.4V1128.6H1444.0V1128.9H1444.6V1129.1H1445.2V1128.3H1445.8V1128.5H1446.4V1128.6H1447.0V1129.3H1447.6V1128.4H1448.2V1128.6H1448.8V1128.8H1449.4V1128.5H1450.0V1129.3H1451.2V1128.8H1452.4V1129.0H1453.0V1128.6H1454.2V1129.1H1454.8V1128.8H1455.4V1129.0H1456.0V1129.1H1456.6V1129.0H1457.8V1128.3H1458.4V1128.6H1459.0V1129.5H1459.6V1129.6H1460.2V1128.7H1460.8V1128.6H1461.4V1129.4H1462.0V1129.2H1462.6V1129.0H1463.2V1128.9H1463.8V1129.3H1465.0V1128.9H1465.6V1129.1H1466.2V1129.0H1466.8V1129.6H1467.4V1129.7H1468.0V1128.5H1468.6V1129.1H1469.2V1129.0H1469.8V1127.8H1470.4V1129.0H1471.6V1128.5H1472.2V1129.5H1472.8V1128.5H1473.4V1129.0H1474.0V1129.5H1474.6V1129.4H1475.2V1128.8H1475.8V1129.0H1476.4V1128.8H1477.6V1129.1H1478.2V1128.5H1478.8V1129.3H1479.4V1128.5H1480.0V1129.3H1480.6V1128.9H1481.2V1129.1H1481.8V1128.9H1482.4V1129.4H1483.0V1129.3H1484.2V1128.6H1484.8V1129.0H1485.4V1128.5H1486.0V1128.7H1486.6V1129.1H1487.2V1129.2H1487.8V1128.8H1488.4V1129.3H1489.0V1128.7H1489.6V1129.1H1490.2V1128.7H1490.8V1128.4H1491.4V1128.8H1492.0V1126.8H1492.6V1128.3H1493.2V1125.8H1493.8V1128.6H1494.4V1129.0H1495.0V1127.1H1495.6V1128.8H1496.2V1128.1H1496.8V1129.0H1497.4V1128.6H1498.0V1127.8H1498.6V1122.7H1499.2V1120.1H1499.8V1118.7H1500.4V1122.8H1501.0V1123.7H1501.6V1120.3H1502.2V1121.3H1502.8V1120.2H1503.4V1120.9H1504.0V1127.4H1504.6V1128.8H1505.2V1128.0H1505.8V1124.9H1506.4V1128.1H1507.0V1128.3H1507.6V1128.2H1508.2V1127.8H1508.8V1127.9H1509.4V1128.0H1510.0V1127.8H1510.6V1128.2H1511.2V1129.1H1511.8V1129.0H1512.4V1128.3H1513.0V1129.0H1513.6V1128.8H1514.2V1128.4H1514.8V1128.8H1516.0V1126.8H1516.6V1128.5H1517.2V1126.5H1517.8V1127.6H1518.4V1128.4H1519.0V1128.0H1519.6V1127.9H1520.2V1127.8H1520.8V1127.0H1521.4V1127.3H1522.0V1126.9H1522.6V1127.5H1523.2V1127.7H1523.8V1128.0H1524.4V1128.3H1525.6V1128.7H1526.2V1127.2H1526.8V1128.3H1527.4V1128.1H1528.0V1127.9H1528.6V1128.7H1529.2V1128.4H1529.8V1128.7H1530.4V1128.4H1531.0V1128.3H1531.6V1129.4H1532.2V1128.4H1532.8V1128.5H1533.4V1128.4H1534.0V1128.9H1534.6V1128.8H1535.2V1128.9H1535.8V1127.4H1536.4V1127.1H1537.0V1128.6H1537.6V1129.3H1538.2V1128.4H1538.8V1128.0H1539.4V1128.5H1540.0V1127.8H1540.6V1128.8H1541.2V1127.6H1541.8V1128.3H1542.4V1127.8H1543.0V1128.0H1543.6V1128.4H1544.2V1126.2H1544.8V1124.9H1545.4V1127.2H1546.0V1128.0H1546.6V1128.8H1547.2V1127.4H1547.8V1128.0H1548.4V1128.8H1549.0V1128.9H1549.6V1128.4H1550.2V1127.5H1550.8V1128.2H1552.0V1128.3H1552.6V1128.5H1553.2V1128.0H1553.8V1126.9H1554.4V1128.2H1555.6V1128.1H1556.8V1128.7H1557.4V1127.4H1558.0V1127.7H1558.6V1128.2H1559.2V1127.7H1559.8V1128.2H1560.4V1127.3H1561.0V1128.0H1561.6V1127.2H1562.2V1127.5H1563.4V1126.2H1564.0V1127.5H1564.6V1127.2H1565.2V1127.1H1566.4V1128.1H1567.0V1127.8H1567.6V1118.0H1568.2V1120.5H1569.4V1121.4H1570.0V1121.2H1570.6V1118.9H1571.2V1121.0H1571.8V1124.3H1572.4V1127.2H1573.0V1128.8H1573.6V1128.1H1574.2V1128.5H1574.8V1128.4H1575.4V1128.9H1576.0V1128.4H1576.6V1128.3H1577.2V1128.7H1577.8V1128.9H1578.4V1128.2H1579.0V1128.6H1579.6V1129.2H1580.2V1128.4H1580.8V1128.3H1581.4V1127.9H1582.0V1128.1H1582.6V1129.0H1583.2V1128.3H1583.8V1128.2H1584.4V1126.7H1585.0V1128.8H1585.6V1128.5H1586.2V1128.6H1586.8V1128.9H1587.4V1128.7H1588.0V1128.5H1588.6V1129.1H1589.2V1128.3H1589.8V1128.9H1590.4V1129.1H1591.0V1128.7H1591.6V1129.0H1592.2V1128.7H1592.8V1129.0H1593.4V1129.4H1594.0V1128.4H1594.6V1129.1H1595.2V1129.4H1595.8V1129.2H1596.4V1128.8H1597.0V1128.9H1597.6V1128.7H1598.2V1128.9H1598.8V1128.8H1599.4V1129.0H1600.0V1129.1H1600.6V1129.0H1601.2V1128.8H1601.8V1129.3H1602.4V1129.6H1603.0V1128.7H1603.6V1127.9H1604.2V1128.6H1604.8V1129.4H1605.4V1129.0H1606.0V1128.9H1606.6V1129.4H1607.2V1128.7H1607.8V1128.5H1608.4V1129.0H1609.6V1129.2H1610.8V1128.6H1611.4V1128.9H1612.0V1128.5H1612.6V1128.7H1613.2V1129.2H1613.8V1128.7H1614.4V1128.0H1615.0V1128.8H1615.6V1128.6H1616.2V1128.7H1616.8V1128.9H1617.4V1129.1H1618.0V1128.7H1618.6V1129.5H1619.2V1129.2H1619.8V1129.3H1620.4V1128.9H1621.0V1128.4H1621.6V1129.2H1622.2V1129.1H1623.4V1128.5H1624.0V1128.2H1624.6V1128.7H1625.2V1129.3H1625.8V1129.0H1626.4V1129.1H1627.0V1128.9H1627.6V1128.6H1628.2V1129.1H1628.8V1128.5H1629.4V1128.0H1630.0V1129.0H1630.6V1128.4H1631.2V1127.6H1631.8V1127.8H1632.4V1129.2H1633.0V1129.0H1633.6V1128.7H1634.2V1128.3H1634.8V1128.2H1635.4V1128.9H1636.0V1129.2H1636.6V1128.7H1637.2V1128.4H1637.8V1128.6H1638.4V1129.0H1639.0V1128.5H1639.6V1128.6H1640.2V1128.9H1640.8V1128.3H1641.4V1128.7H1642.0V1128.6H1642.6V1129.4H1643.2V1128.7H1645.0V1128.6H1645.6V1128.7H1646.2V1129.2H1646.8V1128.9H1647.4V1128.4H1648.0V1129.4H1648.6V1128.7H1649.2V1128.5H1649.8V1128.7H1650.4V1128.5H1651.0V1128.6H1651.6V1128.7H1652.8V1128.1H1654.0V1127.9H1654.6V1128.4H1656.4V1128.0H1657.0V1128.1H1657.6V1127.4H1658.2V1127.8H1658.8V1127.0H1659.4V1126.2H1660.0V1124.5H1660.6V1124.2H1661.2V1124.8H1661.8V1123.9H1662.4V1125.0H1663.0V1126.4H1663.6V1125.8H1664.2V1127.6H1664.8V1127.0H1665.4V1126.6H1666.0V1125.2H1666.6V1125.8H1667.2V1125.1H1667.8V1124.6H1668.4V1127.0H1669.0V1127.2H1669.6V1127.3H1670.2V1127.0H1670.8V1127.6H1671.4V1128.0H1672.0V1126.9H1672.6V1126.0H1673.2V1125.0H1673.8V1114.0H1674.4V1106.5H1675.0V1110.4H1675.6V1106.5H1676.2V1125.0H1676.8V1126.4H1677.4V1126.2H1678.0V1126.7H1678.6V1115.8H1679.2V1116.1H1679.8V1106.8H1680.4V1113.2H1681.0V1127.4H1682.8V1128.0H1683.4V1128.3H1684.0V1127.5H1685.2V1127.7H1685.8V1128.1H1686.4V1127.6H1687.0V1127.7H1687.6V1127.9H1688.2V1128.0H1688.8V1128.2H1689.4V1127.9H1690.0V1128.3H1690.6V1127.7H1691.2V1128.1H1691.8V1128.3H1692.4V1128.4H1693.0V1127.8H1693.6V1128.5H1694.2V1128.7H1694.8V1127.7H1695.4V1127.9H1696.0V1128.2H1696.6V1128.4H1697.2V1128.1H1697.8V1128.6H1698.4V1127.9H1699.0V1127.2H1699.6V1127.8H1700.2V1125.6H1700.8V1126.6H1701.4V1127.9H1702.0V1128.8H1702.6V1128.6H1703.2V1129.3H1703.8V1128.9H1704.4V1128.4H1705.0V1128.7H1705.6V1128.0H1706.2V1128.1H1706.8V1128.6H1707.4V1128.7H1708.0V1129.1H1708.6V1128.7H1709.2V1128.4H1709.8V1128.1H1710.4V1129.0H1711.0V1128.2H1711.6V1128.6H1712.2V1126.3H1712.8V1128.3H1713.4V1128.7H1714.6V1128.4H1715.2V1128.8H1715.8V1128.2H1716.4V1128.7H1717.0V1128.5H1717.6V1128.9H1718.2V1128.7H1718.8V1129.0H1719.4V1128.7H1720.0V1128.8H1720.6V1128.2H1721.2V1129.1H1721.8V1128.3H1722.4V1129.0H1723.0V1128.4H1723.6V1128.9H1724.2V1128.8H1724.8V1129.1H1725.4V1129.3H1726.0V1128.3H1726.6V1128.2H1727.2V1129.0H1727.8V1129.3H1728.4V1129.0H1729.0V1129.3H1729.6V1128.6H1730.2V1129.4H1730.8V1128.6H1731.4V1128.2H1732.0V1128.3H1732.6V1128.8H1733.2V1128.5H1733.8V1128.1H1734.4V1128.9H1735.0V1128.6H1735.6V1128.4H1736.2V1127.9H1736.8V1128.3H1737.4V1129.2H1738.0V1128.1H1738.6V1128.6H1739.2V1128.4H1739.8V1128.3H1740.4V1128.0H1741.0V1128.4H1741.6V1128.0H1742.2V1128.2H1742.8V1128.3H1743.4V1128.0H1744.0V1128.7H1744.6V1129.1H1745.2V1128.9H1745.8V1128.8H1746.4V1127.6H1747.0V1128.2H1747.6V1128.3H1748.2V1128.9H1748.8V1128.6H1749.4V1128.5H1750.6V1128.3H1751.2V1128.5H1751.8V1127.9H1752.4V1128.4H1753.0V1126.7H1753.6V1128.5H1755.4V1127.7H1756.0V1126.5H1756.6V1124.2H1757.2V1121.9H1757.8V1118.4H1758.4V1120.8H1759.0V1120.5H1759.6V1121.0H1760.2V1119.0H1760.8V1128.6H1761.4V1128.9H1762.0V1128.3H1762.6V1128.6H1763.8V1128.4H1764.4V1128.5H1765.0V1128.2H1765.6V1128.1H1766.2V1128.4H1766.8V1128.0H1767.4V1128.2H1768.0V1128.1H1768.6V1127.9H1769.2V1128.0H1769.8V1128.2H1770.4V1128.3H1771.6V1128.0H1772.2V1127.9H1772.8V1128.7H1773.4V1127.9H1774.0V1127.7H1774.6V1128.3H1775.2V1127.9H1775.8V1127.6H1776.4V1127.9H1777.0V1125.3H1777.6V1118.1H1778.2V1119.6H1778.8V1120.0H1779.4V1123.1H1780.0V1125.0H1780.6V1126.2H1781.2V1128.3H1781.8V1128.1H1782.4V1127.4H1783.0V1126.6H1783.6V1130.0Z" fill="#F5947B"/>
<line x1="1260.1999999999998" y1="1130.0" x2="1783.2" y2="1130.0" stroke="#1a1a1a" stroke-width="1.3"/>
<line x1="1261.1" y1="1107.0" x2="1261.1" y2="1130.6" stroke="#000" stroke-width="1.9"/>
<path d="M1261.6,1162.8V1148.0H1262.2V1150.0H1262.8V1151.3H1263.4V1145.1H1264.0V1146.5H1264.6V1151.7H1265.2V1149.4H1265.8V1155.4H1266.4V1153.7H1267.0V1151.6H1267.6V1141.8H1268.2V1148.4H1268.8V1153.4H1269.4V1147.8H1270.0V1150.9H1270.6V1155.5H1271.2V1156.5H1271.8V1160.1H1272.4V1152.4H1273.0V1152.8H1273.6V1157.6H1274.2V1157.8H1274.8V1158.7H1275.4V1162.2H1276.0V1160.5H1276.6V1161.3H1277.2V1160.2H1277.8V1160.1H1278.4V1160.0H1279.0V1159.5H1280.2V1158.7H1280.8V1159.9H1282.0V1159.8H1282.6V1160.5H1283.2V1161.6H1283.8V1161.4H1284.4V1160.5H1285.0V1162.2H1285.6V1160.8H1286.2V1160.1H1287.4V1160.5H1288.0V1159.4H1288.6V1160.0H1289.2V1159.6H1289.8V1157.9H1290.4V1157.2H1291.0V1158.0H1291.6V1157.9H1292.2V1159.1H1292.8V1156.4H1293.4V1158.4H1294.0V1159.1H1294.6V1159.2H1295.2V1158.3H1295.8V1158.5H1296.4V1158.7H1297.0V1159.6H1297.6V1160.6H1298.2V1160.7H1298.8V1159.8H1299.4V1158.0H1300.0V1157.0H1300.6V1156.4H1301.2V1156.9H1301.8V1157.5H1302.4V1156.2H1303.0V1157.4H1303.6V1156.3H1304.2V1158.0H1304.8V1156.3H1305.4V1158.2H1306.0V1159.0H1306.6V1160.1H1307.2V1159.9H1308.4V1159.2H1309.0V1160.7H1309.6V1159.1H1310.2V1160.9H1310.8V1161.8H1311.4V1162.2H1312.0V1161.3H1312.6V1161.0H1313.2V1160.9H1313.8V1158.8H1314.4V1160.4H1315.0V1159.7H1315.6V1159.3H1316.2V1157.2H1316.8V1157.0H1317.4V1156.3H1318.0V1158.6H1318.6V1158.5H1319.2V1157.9H1319.8V1159.3H1320.4V1159.2H1321.0V1160.3H1321.6V1161.0H1322.2V1160.7H1322.8V1160.6H1323.4V1160.5H1324.0V1161.3H1324.6V1161.9H1325.2V1162.0H1325.8V1161.9H1327.6V1161.6H1328.2V1158.9H1328.8V1160.0H1330.0V1160.4H1330.6V1160.8H1331.2V1160.7H1331.8V1160.8H1332.4V1160.7H1333.0V1161.6H1333.6V1159.3H1334.2V1161.9H1334.8V1160.9H1335.4V1161.1H1336.0V1160.9H1336.6V1160.0H1337.2V1160.7H1337.8V1160.3H1338.4V1159.5H1339.0V1160.4H1339.6V1161.5H1340.2V1159.7H1340.8V1159.9H1341.4V1160.2H1342.0V1160.4H1343.2V1160.8H1343.8V1161.7H1344.4V1160.6H1345.0V1160.1H1345.6V1159.6H1346.2V1158.7H1346.8V1160.8H1347.4V1161.5H1348.0V1160.1H1348.6V1160.2H1349.2V1160.4H1349.8V1160.2H1350.4V1160.3H1351.0V1159.5H1351.6V1160.0H1352.2V1160.4H1352.8V1160.1H1353.4V1160.6H1354.0V1161.4H1355.2V1161.0H1355.8V1160.1H1356.4V1161.2H1357.0V1161.9H1357.6V1161.7H1358.2V1161.3H1358.8V1161.4H1359.4V1161.0H1360.0V1160.8H1360.6V1160.1H1361.2V1160.9H1361.8V1160.6H1362.4V1160.0H1363.0V1159.7H1363.6V1160.4H1364.2V1161.1H1364.8V1161.7H1365.4V1162.3H1366.0V1161.2H1366.6V1162.1H1367.8V1161.6H1368.4V1162.3H1369.0V1161.9H1369.6V1161.5H1370.2V1160.6H1371.4V1161.6H1372.0V1160.9H1372.6V1161.8H1373.2V1159.3H1373.8V1160.2H1374.4V1159.8H1375.6V1159.6H1376.2V1158.9H1376.8V1157.3H1377.4V1160.6H1378.0V1160.7H1378.6V1157.9H1379.2V1158.9H1379.8V1160.0H1380.4V1158.8H1381.0V1160.7H1381.6V1161.7H1382.2V1160.3H1382.8V1159.2H1383.4V1159.7H1384.0V1159.4H1384.6V1159.5H1385.2V1157.9H1385.8V1159.9H1386.4V1158.3H1387.0V1160.5H1387.6V1159.1H1388.2V1159.9H1388.8V1160.3H1389.4V1160.6H1390.0V1161.1H1390.6V1160.8H1391.2V1160.6H1391.8V1159.7H1392.4V1159.0H1393.0V1161.0H1393.6V1160.2H1394.2V1160.8H1394.8V1160.5H1395.4V1160.0H1396.6V1159.2H1397.2V1160.4H1397.8V1159.7H1398.4V1160.1H1399.0V1159.0H1399.6V1159.8H1400.2V1160.5H1400.8V1161.9H1401.4V1162.1H1402.0V1162.4H1402.6V1161.7H1403.2V1161.4H1403.8V1160.9H1404.4V1161.1H1405.0V1162.0H1405.6V1160.5H1406.2V1158.7H1406.8V1161.4H1407.4V1160.0H1408.0V1160.1H1409.2V1159.9H1409.8V1160.6H1410.4V1160.0H1411.0V1160.5H1411.6V1160.1H1412.2V1161.6H1413.4V1157.6H1414.0V1159.4H1414.6V1155.6H1415.2V1154.7H1415.8V1150.8H1416.4V1151.5H1417.0V1153.9H1417.6V1155.7H1418.2V1157.8H1418.8V1160.3H1419.4V1154.4H1420.0V1156.3H1420.6V1157.1H1421.2V1158.1H1421.8V1159.4H1422.4V1159.1H1423.0V1160.7H1423.6V1159.9H1424.2V1160.9H1424.8V1160.2H1425.4V1159.5H1426.0V1159.3H1426.6V1160.1H1427.2V1160.3H1427.8V1159.9H1428.4V1157.1H1429.0V1160.0H1429.6V1160.1H1430.2V1161.6H1430.8V1160.1H1431.4V1157.8H1432.0V1158.2H1432.6V1155.6H1433.2V1155.8H1433.8V1155.3H1434.4V1156.7H1435.0V1159.5H1435.6V1160.5H1436.2V1159.4H1436.8V1160.0H1437.4V1159.3H1438.0V1160.1H1438.6V1160.5H1439.2V1159.2H1440.4V1160.2H1441.0V1159.0H1441.6V1159.4H1442.2V1159.6H1442.8V1158.4H1443.4V1156.5H1444.0V1159.1H1444.6V1161.5H1445.2V1160.0H1445.8V1158.3H1446.4V1159.0H1448.2V1158.2H1448.8V1159.5H1449.4V1158.5H1450.0V1159.1H1450.6V1158.9H1451.2V1159.9H1451.8V1159.6H1452.4V1159.5H1453.0V1160.0H1453.6V1158.9H1454.2V1161.8H1454.8V1158.4H1455.4V1159.9H1456.0V1160.4H1456.6V1159.7H1457.2V1160.8H1457.8V1159.4H1459.0V1159.5H1459.6V1159.8H1460.2V1159.6H1460.8V1161.6H1461.4V1160.5H1462.0V1161.4H1462.6V1161.2H1463.2V1161.8H1463.8V1161.5H1464.4V1161.1H1465.0V1160.6H1465.6V1160.3H1466.2V1159.9H1466.8V1160.1H1467.4V1159.6H1468.0V1160.2H1468.6V1159.8H1469.2V1161.4H1469.8V1156.8H1470.4V1156.7H1471.0V1159.9H1471.6V1159.4H1472.2V1160.1H1472.8V1159.7H1473.4V1160.9H1474.0V1161.2H1474.6V1159.5H1475.2V1159.9H1475.8V1160.5H1476.4V1158.8H1477.0V1159.3H1477.6V1159.9H1478.2V1159.5H1478.8V1159.1H1479.4V1157.3H1480.0V1157.9H1480.6V1161.1H1481.2V1159.0H1481.8V1159.5H1482.4V1158.3H1483.0V1159.7H1483.6V1157.6H1484.2V1159.2H1484.8V1156.0H1485.4V1160.4H1486.0V1159.6H1486.6V1157.8H1487.2V1159.8H1487.8V1159.9H1488.4V1160.1H1489.0V1158.6H1489.6V1160.7H1490.2V1161.2H1491.4V1160.8H1492.0V1161.7H1492.6V1161.4H1493.2V1161.6H1493.8V1162.5H1495.0V1162.2H1495.6V1161.9H1496.2V1161.7H1496.8V1161.5H1497.4V1161.9H1498.0V1162.2H1498.6V1161.8H1499.2V1161.9H1499.8V1162.1H1500.4V1161.3H1501.0V1161.8H1501.6V1162.1H1502.2V1162.0H1502.8V1161.0H1503.4V1161.7H1504.0V1161.1H1504.6V1160.9H1505.2V1162.2H1505.8V1161.0H1506.4V1161.7H1507.0V1160.4H1507.6V1161.5H1508.2V1157.7H1508.8V1159.9H1509.4V1159.0H1510.0V1158.9H1510.6V1159.4H1511.2V1160.4H1512.4V1159.9H1513.0V1161.0H1513.6V1159.9H1514.2V1160.2H1514.8V1160.4H1515.4V1160.2H1516.0V1159.6H1516.6V1160.1H1517.2V1160.5H1517.8V1159.9H1518.4V1160.4H1519.0V1160.8H1519.6V1160.9H1520.2V1159.8H1520.8V1160.1H1521.4V1158.3H1522.0V1159.1H1522.6V1158.6H1523.2V1158.4H1523.8V1160.7H1524.4V1160.5H1525.0V1157.7H1525.6V1158.4H1526.2V1161.5H1526.8V1161.0H1527.4V1160.8H1528.0V1159.9H1528.6V1158.8H1529.8V1158.2H1530.4V1158.4H1531.0V1158.2H1531.6V1158.6H1532.2V1158.7H1532.8V1160.6H1533.4V1160.9H1534.0V1160.2H1534.6V1159.0H1535.2V1159.5H1535.8V1160.3H1536.4V1161.6H1537.0V1159.0H1537.6V1159.8H1538.2V1159.0H1538.8V1158.6H1539.4V1159.4H1540.0V1159.5H1540.6V1158.7H1541.2V1160.8H1541.8V1162.2H1542.4V1159.9H1543.0V1161.5H1543.6V1161.0H1544.2V1160.8H1544.8V1160.3H1545.4V1160.0H1546.0V1160.6H1546.6V1159.6H1547.2V1156.0H1547.8V1159.8H1548.4V1157.9H1549.0V1160.0H1549.6V1159.9H1550.2V1160.3H1550.8V1160.1H1551.4V1160.4H1552.0V1160.2H1552.6V1159.7H1553.2V1160.3H1553.8V1160.8H1554.4V1160.0H1555.0V1160.2H1555.6V1159.7H1556.2V1161.0H1556.8V1160.7H1557.4V1161.6H1558.0V1160.8H1558.6V1160.4H1559.2V1161.8H1559.8V1161.4H1560.4V1162.1H1561.0V1161.5H1561.6V1161.1H1562.2V1161.2H1563.4V1160.3H1564.0V1159.3H1564.6V1159.8H1565.2V1160.4H1565.8V1159.6H1566.4V1161.3H1567.0V1161.7H1567.6V1162.3H1568.2V1160.6H1568.8V1161.5H1569.4V1162.2H1570.0V1161.1H1570.6V1160.3H1571.2V1160.4H1571.8V1160.1H1572.4V1160.0H1573.0V1159.0H1573.6V1158.7H1574.2V1158.8H1574.8V1157.5H1575.4V1159.1H1576.0V1160.5H1576.6V1159.0H1577.2V1159.4H1577.8V1160.0H1578.4V1158.1H1579.0V1158.8H1579.6V1158.4H1580.2V1155.6H1580.8V1157.2H1581.4V1156.7H1582.0V1159.3H1582.6V1159.8H1583.2V1160.0H1583.8V1159.3H1584.4V1159.5H1585.0V1158.8H1585.6V1158.5H1586.2V1156.8H1586.8V1161.1H1587.4V1159.5H1588.0V1160.0H1588.6V1160.9H1589.2V1160.5H1589.8V1159.9H1590.4V1159.3H1591.0V1158.1H1591.6V1159.0H1592.2V1156.1H1592.8V1157.7H1593.4V1157.3H1594.0V1156.5H1594.6V1156.6H1595.2V1158.0H1595.8V1159.3H1596.4V1158.0H1597.0V1154.0H1597.6V1149.0H1598.2V1144.8H1598.8V1143.8H1599.4V1149.6H1600.0V1146.6H1600.6V1151.3H1601.2V1149.5H1602.4V1149.4H1603.0V1158.5H1603.6V1158.8H1604.2V1157.1H1604.8V1155.5H1605.4V1153.8H1606.0V1151.6H1606.6V1153.0H1607.2V1156.3H1607.8V1155.1H1608.4V1155.9H1609.0V1154.3H1609.6V1148.4H1610.2V1152.0H1610.8V1151.9H1611.4V1151.1H1612.0V1150.9H1612.6V1153.5H1613.2V1153.4H1613.8V1156.5H1614.4V1158.0H1615.0V1157.1H1615.6V1157.6H1616.2V1155.9H1616.8V1157.8H1617.4V1159.3H1618.0V1158.9H1618.6V1158.2H1619.2V1155.9H1619.8V1159.1H1620.4V1153.8H1621.0V1150.5H1621.6V1148.4H1622.2V1151.2H1622.8V1153.9H1623.4V1151.8H1624.0V1153.4H1624.6V1154.4H1625.2V1153.7H1625.8V1160.7H1626.4V1158.9H1627.0V1156.4H1627.6V1160.6H1628.8V1159.5H1629.4V1156.9H1630.0V1157.2H1631.2V1155.5H1631.8V1153.5H1632.4V1150.4H1633.0V1149.3H1633.6V1151.4H1634.2V1154.7H1634.8V1155.5H1635.4V1157.2H1636.0V1161.2H1636.6V1158.0H1637.2V1159.6H1637.8V1159.0H1638.4V1159.8H1639.0V1153.5H1639.6V1159.2H1640.2V1156.3H1640.8V1154.7H1642.0V1152.9H1642.6V1155.3H1643.2V1156.0H1643.8V1157.8H1644.4V1158.9H1645.0V1158.8H1645.6V1158.5H1646.2V1157.6H1646.8V1155.9H1647.4V1153.6H1648.0V1154.9H1648.6V1153.6H1649.2V1154.7H1649.8V1152.3H1650.4V1148.5H1651.0V1150.9H1651.6V1151.7H1652.2V1156.6H1652.8V1156.1H1653.4V1156.0H1654.0V1155.7H1654.6V1154.3H1655.2V1156.5H1655.8V1151.4H1656.4V1152.4H1657.0V1155.4H1657.6V1153.1H1658.2V1153.7H1658.8V1160.2H1659.4V1157.0H1660.0V1153.0H1660.6V1156.1H1661.2V1160.1H1661.8V1161.0H1662.4V1161.3H1663.0V1158.9H1663.6V1156.4H1664.2V1158.1H1664.8V1159.2H1665.4V1160.2H1666.0V1161.0H1666.6V1159.6H1667.2V1159.9H1667.8V1160.7H1668.4V1160.5H1669.0V1159.8H1669.6V1157.1H1670.2V1159.7H1670.8V1159.1H1671.4V1157.4H1672.0V1158.1H1672.6V1158.0H1673.2V1155.9H1673.8V1157.8H1674.4V1159.8H1675.0V1157.6H1675.6V1157.9H1676.2V1158.6H1676.8V1157.7H1677.4V1160.2H1678.0V1160.3H1678.6V1160.1H1679.2V1161.4H1679.8V1160.7H1680.4V1159.3H1681.0V1158.2H1681.6V1159.0H1682.2V1158.0H1682.8V1155.7H1683.4V1153.9H1684.0V1154.3H1684.6V1156.9H1685.2V1154.8H1685.8V1154.4H1686.4V1156.0H1687.0V1157.3H1687.6V1156.2H1688.2V1159.6H1688.8V1159.5H1689.4V1157.5H1690.0V1155.5H1690.6V1154.8H1691.2V1147.8H1691.8V1156.8H1692.4V1156.7H1693.0V1154.8H1693.6V1155.1H1694.2V1155.9H1694.8V1153.6H1695.4V1156.0H1696.0V1155.3H1696.6V1150.5H1697.2V1155.3H1697.8V1152.8H1698.4V1154.8H1699.0V1151.8H1699.6V1151.2H1700.2V1153.9H1700.8V1152.0H1701.4V1152.9H1702.0V1150.2H1702.6V1152.7H1703.2V1151.9H1703.8V1154.7H1704.4V1153.1H1705.0V1151.8H1705.6V1153.0H1706.2V1152.3H1706.8V1153.5H1707.4V1152.1H1708.0V1151.6H1708.6V1151.8H1709.2V1154.4H1709.8V1153.0H1710.4V1154.1H1711.0V1148.9H1711.6V1153.5H1712.2V1156.2H1712.8V1153.4H1713.4V1155.3H1714.0V1153.1H1714.6V1152.0H1715.2V1146.6H1715.8V1147.1H1716.4V1157.2H1717.0V1153.7H1717.6V1154.2H1718.2V1156.8H1718.8V1158.0H1719.4V1155.2H1720.0V1156.0H1720.6V1159.6H1721.2V1156.7H1721.8V1154.6H1722.4V1155.5H1723.0V1155.8H1723.6V1154.8H1724.2V1155.5H1724.8V1157.2H1725.4V1159.1H1726.0V1159.6H1726.6V1159.9H1727.2V1155.4H1727.8V1157.8H1728.4V1154.1H1729.0V1150.8H1729.6V1152.7H1730.2V1147.8H1730.8V1148.2H1731.4V1152.0H1732.0V1153.7H1732.6V1152.8H1733.2V1156.3H1733.8V1157.2H1734.4V1156.0H1735.0V1157.0H1735.6V1154.4H1736.2V1153.6H1736.8V1157.8H1737.4V1159.3H1738.0V1159.0H1738.6V1159.7H1739.2V1160.7H1739.8V1159.9H1740.4V1159.3H1741.6V1159.5H1742.2V1159.4H1742.8V1158.0H1743.4V1159.4H1744.0V1160.0H1744.6V1159.6H1745.2V1160.1H1745.8V1158.1H1746.4V1156.2H1747.0V1156.4H1747.6V1148.9H1748.2V1150.2H1748.8V1157.6H1749.4V1158.5H1750.0V1159.3H1750.6V1160.0H1751.2V1160.9H1751.8V1160.5H1752.4V1161.1H1753.0V1161.4H1753.6V1161.1H1754.2V1161.6H1754.8V1162.0H1756.0V1162.6H1756.6V1162.4H1757.2V1162.3H1757.8V1162.0H1758.4V1161.5H1759.0V1162.1H1759.6V1161.8H1760.2V1161.7H1760.8V1161.9H1761.4V1161.7H1762.0V1161.9H1762.6V1161.1H1763.2V1160.2H1763.8V1159.8H1764.4V1160.7H1765.0V1158.0H1765.6V1158.3H1766.2V1158.5H1766.8V1156.4H1767.4V1154.9H1768.0V1152.1H1768.6V1155.5H1769.2V1155.8H1769.8V1158.7H1770.4V1159.1H1771.0V1161.2H1771.6V1158.4H1772.2V1159.2H1772.8V1159.6H1773.4V1159.4H1774.0V1159.1H1774.6V1159.9H1775.2V1159.2H1775.8V1160.3H1776.4V1161.6H1777.0V1161.4H1777.6V1161.7H1778.2V1162.7H1778.8V1162.2H1779.4V1162.1H1780.0V1162.3H1781.8V1162.2H1782.4V1162.4H1783.0V1162.2H1783.6V1162.8Z" fill="#7C89AC"/>
<line x1="1260.1999999999998" y1="1162.8" x2="1783.2" y2="1162.8" stroke="#1a1a1a" stroke-width="1.3"/>
<line x1="1261.1" y1="1139.8" x2="1261.1" y2="1163.3999999999999" stroke="#000" stroke-width="1.9"/>
<path d="M1261.6,1195.7V1178.2H1262.2V1178.4H1262.8V1174.7H1263.4V1176.6H1264.0V1176.1H1264.6V1179.6H1265.2V1183.7H1265.8V1184.8H1266.4V1186.3H1267.0V1183.6H1267.6V1185.3H1268.2V1182.0H1268.8V1179.8H1269.4V1184.5H1270.0V1182.3H1270.6V1181.8H1271.2V1183.0H1271.8V1182.6H1272.4V1179.5H1273.0V1185.3H1273.6V1189.5H1274.2V1190.7H1274.8V1189.1H1275.4V1190.3H1276.0V1189.8H1276.6V1191.6H1277.2V1190.9H1277.8V1190.3H1278.4V1191.6H1279.0V1190.1H1279.6V1191.7H1280.2V1192.1H1280.8V1193.0H1281.4V1189.9H1282.0V1190.8H1282.6V1191.8H1283.2V1191.0H1283.8V1189.5H1284.4V1190.7H1285.0V1188.5H1285.6V1189.6H1286.2V1187.5H1286.8V1186.5H1287.4V1185.2H1288.0V1185.1H1288.6V1188.3H1289.2V1187.1H1289.8V1184.4H1290.4V1185.7H1291.0V1186.2H1291.6V1183.2H1292.2V1187.2H1292.8V1185.5H1293.4V1183.4H1294.0V1187.5H1294.6V1185.0H1295.2V1184.9H1295.8V1186.9H1296.4V1188.3H1297.0V1190.4H1297.6V1192.2H1298.2V1191.4H1298.8V1190.9H1300.0V1190.2H1300.6V1191.4H1301.2V1192.4H1301.8V1191.4H1302.4V1186.5H1303.0V1191.7H1303.6V1191.4H1304.2V1192.1H1304.8V1188.8H1305.4V1187.9H1306.0V1190.3H1306.6V1192.6H1307.2V1191.5H1307.8V1191.8H1308.4V1193.6H1309.0V1191.3H1309.6V1193.0H1310.2V1193.7H1311.4V1194.0H1312.0V1194.1H1312.6V1193.6H1313.2V1194.4H1313.8V1194.3H1314.4V1193.1H1315.0V1193.5H1315.6V1192.0H1316.2V1190.6H1316.8V1191.5H1317.4V1192.5H1318.0V1191.8H1318.6V1191.9H1319.2V1192.4H1319.8V1192.6H1320.4V1193.3H1321.0V1190.6H1321.6V1193.7H1322.2V1194.0H1322.8V1193.7H1323.4V1194.1H1324.0V1194.4H1324.6V1194.3H1325.2V1194.8H1325.8V1194.7H1326.4V1193.6H1327.0V1194.3H1327.6V1193.0H1328.2V1194.1H1328.8V1193.0H1329.4V1193.8H1330.0V1193.7H1330.6V1193.0H1331.2V1192.7H1331.8V1193.6H1332.4V1193.3H1333.0V1193.5H1333.6V1191.9H1334.2V1191.3H1334.8V1192.6H1335.4V1192.8H1336.0V1193.4H1336.6V1193.7H1337.2V1193.2H1337.8V1192.7H1339.0V1192.6H1339.6V1191.8H1340.2V1191.3H1340.8V1191.4H1341.4V1191.7H1342.0V1188.1H1342.6V1192.5H1343.2V1193.2H1343.8V1191.9H1344.4V1190.5H1345.0V1193.6H1345.6V1192.7H1346.2V1192.6H1346.8V1192.5H1347.4V1192.7H1348.0V1193.2H1348.6V1192.0H1349.8V1192.3H1350.4V1191.2H1351.0V1193.0H1351.6V1192.9H1352.2V1192.5H1352.8V1192.6H1353.4V1191.2H1354.0V1192.8H1354.6V1191.3H1355.2V1194.2H1355.8V1191.6H1356.4V1192.7H1357.0V1193.8H1357.6V1193.2H1358.8V1194.2H1359.4V1194.3H1360.0V1193.5H1360.6V1193.0H1361.2V1193.5H1361.8V1193.2H1362.4V1194.0H1363.0V1193.5H1363.6V1192.8H1364.2V1194.0H1365.4V1194.1H1366.0V1195.2H1366.6V1194.9H1367.2V1194.2H1367.8V1193.2H1368.4V1194.0H1369.0V1193.4H1369.6V1193.0H1370.2V1191.4H1370.8V1191.0H1371.4V1190.9H1372.0V1183.6H1372.6V1189.8H1373.2V1189.4H1373.8V1189.3H1374.4V1189.4H1375.0V1190.4H1375.6V1188.3H1376.2V1188.8H1376.8V1190.2H1377.4V1186.5H1378.0V1187.8H1378.6V1191.3H1379.2V1191.2H1379.8V1190.0H1380.4V1190.9H1381.0V1191.4H1381.6V1192.0H1382.2V1190.1H1382.8V1189.3H1383.4V1192.1H1384.0V1192.0H1384.6V1190.5H1385.2V1190.9H1385.8V1189.5H1386.4V1189.3H1387.0V1190.4H1388.2V1190.2H1388.8V1191.4H1389.4V1190.8H1390.0V1191.2H1390.6V1190.6H1391.2V1191.2H1391.8V1190.1H1392.4V1189.8H1393.0V1190.7H1393.6V1191.6H1394.2V1190.5H1394.8V1192.3H1395.4V1191.3H1396.0V1191.7H1396.6V1191.9H1397.2V1192.9H1397.8V1190.8H1398.4V1190.3H1399.0V1191.3H1399.6V1191.1H1400.2V1192.7H1400.8V1191.7H1401.4V1193.4H1402.0V1191.0H1402.6V1191.3H1403.2V1190.3H1403.8V1189.3H1404.4V1190.2H1405.0V1189.4H1406.2V1190.6H1406.8V1192.4H1407.4V1192.3H1408.0V1192.7H1408.6V1192.1H1409.2V1191.6H1409.8V1193.1H1410.4V1194.6H1411.0V1193.9H1411.6V1192.8H1412.2V1190.3H1412.8V1188.9H1413.4V1188.7H1414.0V1187.9H1414.6V1188.6H1415.2V1185.7H1415.8V1187.1H1416.4V1188.3H1417.0V1185.9H1417.6V1185.4H1418.2V1178.6H1418.8V1187.2H1419.4V1187.4H1420.0V1186.7H1420.6V1189.5H1421.2V1187.0H1421.8V1190.4H1423.0V1189.6H1423.6V1188.2H1424.2V1188.6H1424.8V1190.1H1425.4V1189.6H1426.0V1188.6H1426.6V1191.2H1427.2V1190.8H1427.8V1192.4H1428.4V1190.4H1429.0V1192.1H1429.6V1188.1H1430.2V1185.5H1430.8V1183.8H1431.4V1185.6H1432.0V1181.5H1432.6V1178.6H1433.2V1181.6H1433.8V1182.7H1434.4V1183.0H1435.0V1187.1H1435.6V1189.6H1436.2V1191.2H1436.8V1192.9H1437.4V1193.2H1438.0V1192.6H1438.6V1187.4H1439.2V1190.6H1439.8V1189.9H1440.4V1190.8H1441.0V1188.3H1441.6V1187.8H1442.2V1189.1H1442.8V1188.7H1443.4V1188.8H1444.0V1189.2H1444.6V1189.3H1445.2V1187.0H1445.8V1187.1H1446.4V1187.4H1447.0V1187.2H1447.6V1186.6H1448.2V1185.9H1448.8V1186.8H1449.4V1188.6H1450.0V1188.8H1450.6V1189.2H1451.2V1185.1H1451.8V1187.8H1452.4V1188.9H1453.0V1185.6H1453.6V1187.0H1454.2V1189.6H1454.8V1187.1H1455.4V1188.3H1456.0V1189.0H1456.6V1184.7H1457.2V1183.8H1457.8V1176.6H1458.4V1186.4H1459.0V1183.5H1459.6V1184.3H1460.2V1188.6H1460.8V1182.6H1461.4V1186.6H1462.0V1192.7H1462.6V1191.7H1463.2V1191.1H1463.8V1189.7H1464.4V1188.5H1465.0V1189.6H1465.6V1187.5H1466.2V1189.5H1466.8V1188.5H1467.4V1189.2H1468.6V1190.2H1469.2V1187.7H1469.8V1186.3H1470.4V1188.3H1471.0V1186.6H1471.6V1187.5H1472.2V1189.4H1472.8V1186.9H1473.4V1187.9H1474.0V1193.8H1474.6V1190.4H1475.2V1189.9H1475.8V1189.1H1476.4V1189.2H1477.0V1188.6H1477.6V1189.1H1478.2V1189.8H1478.8V1189.1H1479.4V1188.7H1480.0V1190.6H1480.6V1190.7H1481.2V1187.9H1481.8V1188.4H1482.4V1187.0H1483.0V1184.2H1483.6V1191.0H1484.2V1188.8H1484.8V1190.8H1485.4V1189.7H1486.0V1187.9H1486.6V1187.4H1487.2V1193.3H1487.8V1188.8H1488.4V1191.0H1489.6V1192.6H1490.2V1190.4H1490.8V1190.6H1491.4V1192.0H1492.0V1192.9H1492.6V1192.8H1493.2V1195.2H1493.8V1193.7H1494.4V1192.4H1495.0V1191.6H1495.6V1190.9H1496.2V1190.8H1496.8V1191.0H1497.4V1190.7H1498.0V1188.8H1498.6V1189.7H1499.2V1191.0H1499.8V1191.8H1500.4V1192.7H1501.0V1194.1H1501.6V1193.8H1502.8V1191.9H1503.4V1191.8H1504.0V1192.0H1504.6V1192.8H1505.2V1193.2H1505.8V1184.6H1506.4V1189.3H1507.0V1188.5H1508.2V1185.5H1508.8V1186.1H1509.4V1185.4H1510.0V1186.9H1510.6V1187.7H1511.2V1185.8H1511.8V1182.7H1512.4V1183.8H1513.0V1182.7H1513.6V1182.3H1514.2V1185.3H1514.8V1187.5H1515.4V1191.7H1516.0V1187.3H1516.6V1184.4H1517.2V1178.9H1517.8V1182.6H1518.4V1181.0H1519.0V1181.5H1519.6V1174.6H1520.2V1183.1H1520.8V1187.7H1521.4V1186.9H1522.0V1183.6H1522.6V1181.3H1523.2V1186.1H1523.8V1184.3H1524.4V1183.4H1525.0V1182.6H1525.6V1187.6H1526.2V1187.1H1526.8V1186.4H1528.0V1186.1H1528.6V1181.5H1529.2V1183.4H1529.8V1180.2H1530.4V1188.3H1531.0V1181.4H1531.6V1181.6H1532.2V1183.9H1533.4V1183.1H1534.0V1186.9H1534.6V1183.2H1535.2V1182.5H1535.8V1185.0H1536.4V1184.0H1537.0V1180.5H1537.6V1179.2H1538.2V1182.5H1538.8V1181.5H1539.4V1181.6H1540.0V1186.0H1540.6V1187.0H1541.2V1184.3H1541.8V1185.4H1542.4V1187.0H1543.6V1187.2H1544.2V1186.8H1544.8V1187.6H1545.4V1186.9H1546.0V1187.5H1547.2V1181.2H1547.8V1183.6H1548.4V1182.6H1549.0V1184.6H1549.6V1187.3H1550.2V1190.0H1550.8V1192.8H1551.4V1189.3H1552.0V1193.9H1552.6V1188.8H1553.2V1190.0H1553.8V1187.3H1554.4V1185.5H1555.0V1185.7H1555.6V1186.8H1556.2V1188.2H1556.8V1187.3H1557.4V1191.9H1558.0V1188.6H1558.6V1192.0H1559.2V1193.8H1559.8V1192.4H1560.4V1193.8H1561.0V1192.4H1561.6V1192.2H1562.2V1190.3H1562.8V1189.3H1564.0V1188.6H1564.6V1186.9H1565.2V1188.9H1565.8V1189.8H1566.4V1192.0H1567.0V1193.6H1567.6V1193.8H1568.2V1194.0H1568.8V1192.7H1569.4V1190.2H1570.0V1189.6H1570.6V1189.3H1571.2V1186.2H1571.8V1184.2H1572.4V1184.8H1573.0V1187.5H1573.6V1187.9H1574.2V1188.8H1574.8V1187.5H1575.4V1188.8H1576.0V1187.8H1576.6V1186.7H1577.2V1184.5H1577.8V1186.9H1578.4V1186.8H1579.0V1186.5H1579.6V1186.2H1580.2V1182.4H1580.8V1185.2H1581.4V1183.8H1582.0V1182.8H1582.6V1185.2H1583.2V1182.9H1583.8V1185.4H1584.4V1185.7H1585.0V1180.2H1586.2V1172.2H1586.8V1178.7H1587.4V1183.1H1588.0V1182.0H1588.6V1181.9H1589.2V1184.8H1589.8V1182.7H1590.4V1179.2H1591.0V1183.0H1591.6V1182.3H1592.2V1183.2H1592.8V1176.4H1593.4V1175.0H1594.0V1175.2H1594.6V1174.9H1595.2V1176.3H1595.8V1180.3H1596.4V1181.9H1597.0V1178.5H1597.6V1177.7H1598.2V1179.2H1598.8V1172.2H1599.4V1177.9H1600.0V1181.7H1600.6V1172.5H1601.2V1180.2H1601.8V1182.9H1602.4V1190.2H1603.0V1192.4H1603.6V1190.3H1604.2V1191.0H1604.8V1187.4H1605.4V1184.5H1606.0V1179.5H1606.6V1192.1H1607.2V1181.6H1607.8V1188.4H1608.4V1189.9H1609.0V1190.7H1609.6V1185.9H1610.2V1183.4H1610.8V1180.6H1611.4V1183.9H1612.0V1183.0H1612.6V1176.8H1613.2V1184.7H1613.8V1185.6H1614.4V1187.3H1615.0V1187.5H1615.6V1185.9H1616.2V1186.3H1616.8V1186.0H1617.4V1187.2H1618.0V1180.9H1618.6V1185.2H1619.2V1183.6H1619.8V1178.7H1620.4V1176.7H1621.0V1176.4H1621.6V1175.0H1622.2V1181.4H1622.8V1185.1H1623.4V1182.5H1624.0V1183.5H1624.6V1179.7H1625.2V1180.8H1625.8V1192.5H1626.4V1189.9H1627.0V1188.9H1627.6V1190.6H1628.2V1192.9H1628.8V1194.4H1629.4V1191.2H1630.0V1188.8H1630.6V1187.8H1631.2V1192.0H1631.8V1185.3H1632.4V1182.8H1633.0V1181.3H1633.6V1178.0H1634.2V1183.6H1634.8V1181.5H1635.4V1183.8H1636.0V1187.2H1636.6V1185.9H1637.2V1185.7H1637.8V1188.2H1638.4V1187.3H1639.0V1187.1H1639.6V1186.7H1640.2V1185.9H1640.8V1186.3H1641.4V1187.1H1642.0V1188.9H1642.6V1192.1H1643.8V1192.6H1644.4V1193.7H1645.0V1191.6H1645.6V1190.6H1646.2V1186.2H1646.8V1189.4H1647.4V1184.3H1648.0V1184.8H1648.6V1181.9H1649.2V1180.1H1649.8V1182.9H1650.4V1176.0H1651.0V1181.2H1651.6V1182.3H1652.2V1185.3H1652.8V1181.9H1653.4V1184.7H1654.0V1179.6H1654.6V1187.3H1655.2V1184.5H1655.8V1181.0H1656.4V1186.0H1657.0V1189.3H1657.6V1189.6H1658.2V1189.7H1659.4V1191.6H1660.0V1193.1H1660.6V1193.6H1661.2V1193.9H1661.8V1194.1H1662.4V1194.2H1663.0V1194.3H1663.6V1195.0H1664.2V1194.0H1664.8V1193.8H1665.4V1193.5H1666.0V1194.5H1666.6V1194.4H1667.2V1193.2H1667.8V1194.2H1668.4V1193.4H1669.6V1194.9H1670.2V1194.8H1670.8V1194.2H1671.4V1194.7H1672.0V1195.0H1672.6V1194.9H1673.2V1195.4H1673.8V1195.3H1674.4V1194.8H1675.0V1195.5H1675.6V1194.7H1676.2V1194.4H1676.8V1195.1H1677.4V1194.4H1678.6V1195.1H1679.2V1194.1H1679.8V1195.4H1680.4V1192.9H1681.0V1193.9H1681.6V1193.1H1682.2V1193.7H1682.8V1194.2H1683.4V1193.1H1684.0V1193.5H1684.6V1191.9H1685.2V1194.6H1685.8V1191.6H1686.4V1192.4H1687.6V1193.9H1688.2V1194.7H1688.8V1194.6H1689.4V1194.2H1690.0V1193.8H1690.6V1193.4H1691.2V1193.7H1692.4V1193.3H1693.0V1193.0H1693.6V1192.6H1694.2V1192.7H1694.8V1192.8H1695.4V1193.0H1696.0V1188.8H1696.6V1193.2H1697.2V1193.4H1697.8V1190.6H1698.4V1194.4H1699.0V1193.0H1699.6V1193.4H1700.2V1193.6H1700.8V1192.9H1701.4V1193.6H1702.0V1193.2H1702.6V1192.7H1703.2V1192.5H1703.8V1193.6H1704.4V1193.0H1705.0V1192.5H1705.6V1193.3H1706.2V1193.0H1706.8V1191.7H1707.4V1192.4H1708.0V1192.1H1708.6V1193.3H1709.2V1193.2H1709.8V1192.2H1710.4V1194.1H1711.0V1191.4H1711.6V1191.3H1712.2V1193.3H1712.8V1193.5H1713.4V1191.4H1714.0V1193.0H1714.6V1190.8H1715.2V1187.4H1715.8V1188.8H1716.4V1186.6H1717.0V1191.6H1717.6V1191.7H1718.2V1191.3H1718.8V1190.9H1719.4V1192.3H1720.0V1190.3H1720.6V1188.0H1721.2V1188.1H1721.8V1190.5H1722.4V1191.2H1723.0V1189.8H1723.6V1189.1H1724.2V1188.4H1724.8V1191.0H1725.4V1191.5H1726.0V1194.0H1726.6V1192.7H1727.2V1192.4H1727.8V1191.7H1728.4V1190.6H1729.0V1188.1H1729.6V1190.2H1730.2V1186.9H1730.8V1188.1H1731.4V1191.7H1732.0V1193.1H1732.6V1193.3H1733.2V1192.8H1733.8V1192.6H1734.4V1192.5H1735.0V1193.6H1735.6V1192.9H1736.2V1193.9H1736.8V1192.5H1737.4V1193.7H1738.0V1193.9H1738.6V1193.5H1739.2V1194.2H1739.8V1194.5H1740.4V1193.6H1741.0V1195.1H1741.6V1194.7H1742.2V1195.3H1742.8V1194.6H1743.4V1195.0H1744.0V1194.2H1744.6V1193.8H1745.2V1193.1H1745.8V1193.4H1746.4V1192.8H1747.0V1190.5H1747.6V1193.4H1748.2V1192.7H1748.8V1192.6H1749.4V1195.0H1750.0V1195.4H1751.2V1195.6H1751.8V1195.1H1752.4V1195.6H1753.0V1194.8H1753.6V1194.6H1754.2V1195.0H1754.8V1195.4H1755.4V1195.2H1756.0V1194.0H1756.6V1193.7H1757.2V1195.2H1757.8V1195.1H1758.4V1194.7H1759.0V1194.0H1759.6V1194.4H1760.2V1195.2H1760.8V1192.5H1761.4V1194.2H1762.0V1194.3H1762.6V1194.1H1763.2V1193.8H1763.8V1193.7H1764.4V1193.4H1765.0V1194.2H1765.6V1193.1H1766.2V1193.7H1766.8V1192.6H1767.4V1191.9H1768.0V1192.3H1768.6V1191.1H1769.2V1192.3H1769.8V1191.9H1770.4V1193.5H1771.0V1191.5H1771.6V1191.6H1772.2V1190.3H1772.8V1194.5H1773.4V1193.4H1774.0V1193.2H1774.6V1194.0H1775.2V1194.5H1775.8V1195.1H1776.4V1194.3H1777.0V1194.4H1777.6V1195.5H1778.2V1194.7H1778.8V1195.1H1779.4V1194.8H1780.6V1194.9H1781.2V1195.2H1781.8V1195.6H1782.4V1195.5H1783.0V1194.8H1783.6V1195.7Z" fill="#7C89AC"/>
<line x1="1260.1999999999998" y1="1195.7" x2="1783.2" y2="1195.7" stroke="#1a1a1a" stroke-width="1.3"/>
<line x1="1261.1" y1="1172.7" x2="1261.1" y2="1196.3" stroke="#000" stroke-width="1.9"/>
<path d="M1261.6,1228.5V1223.1H1262.2V1220.7H1262.8V1220.1H1263.4V1220.8H1264.0V1223.3H1264.6V1221.7H1265.2V1219.9H1265.8V1222.1H1266.4V1221.7H1267.0V1222.7H1267.6V1223.1H1268.2V1224.2H1268.8V1220.9H1269.4V1220.3H1270.0V1222.9H1270.6V1222.8H1271.2V1222.7H1271.8V1222.5H1272.4V1217.4H1273.0V1222.0H1273.6V1223.9H1274.2V1219.3H1274.8V1225.2H1275.4V1225.1H1276.0V1224.4H1276.6V1225.1H1277.2V1225.8H1277.8V1225.6H1278.4V1225.4H1279.0V1226.0H1279.6V1225.9H1280.2V1225.6H1280.8V1226.9H1281.4V1227.1H1282.0V1227.5H1282.6V1226.0H1283.2V1224.2H1283.8V1224.9H1284.4V1224.3H1285.0V1224.2H1285.6V1219.8H1286.2V1218.1H1286.8V1215.4H1287.4V1217.8H1288.0V1221.0H1288.6V1221.6H1289.2V1223.4H1289.8V1221.7H1290.4V1222.9H1291.0V1220.7H1291.6V1222.8H1292.2V1223.0H1292.8V1222.1H1293.4V1220.5H1294.0V1222.7H1294.6V1222.3H1295.2V1221.9H1295.8V1219.3H1296.4V1218.6H1297.0V1219.0H1297.6V1222.2H1298.2V1221.4H1298.8V1222.3H1299.4V1224.9H1300.0V1224.0H1300.6V1221.0H1301.2V1220.4H1301.8V1224.4H1302.4V1222.9H1303.0V1221.9H1303.6V1219.6H1304.2V1224.6H1304.8V1221.1H1305.4V1223.1H1306.0V1222.6H1306.6V1221.9H1307.2V1222.1H1307.8V1223.5H1308.4V1222.1H1309.0V1222.6H1309.6V1224.5H1310.2V1225.9H1310.8V1226.7H1311.4V1225.5H1312.0V1226.9H1312.6V1226.1H1313.2V1225.7H1313.8V1225.1H1314.4V1224.9H1315.0V1222.9H1315.6V1218.5H1316.2V1220.3H1316.8V1219.5H1317.4V1219.3H1318.0V1217.2H1318.6V1218.4H1319.2V1216.3H1319.8V1219.1H1320.4V1219.7H1321.0V1219.0H1321.6V1217.0H1322.2V1221.0H1322.8V1219.7H1323.4V1223.4H1324.0V1223.5H1324.6V1223.2H1325.2V1223.1H1325.8V1222.2H1326.4V1223.5H1327.0V1219.3H1327.6V1221.1H1328.2V1223.6H1328.8V1220.3H1329.4V1225.4H1330.0V1222.9H1330.6V1221.8H1331.2V1222.9H1331.8V1224.9H1332.4V1221.7H1333.0V1222.2H1333.6V1223.0H1334.2V1222.4H1334.8V1222.5H1335.4V1223.2H1336.0V1221.2H1336.6V1222.3H1337.2V1219.9H1337.8V1220.2H1338.4V1221.3H1339.0V1218.3H1339.6V1218.6H1340.2V1216.9H1340.8V1215.9H1341.4V1218.6H1342.0V1220.1H1342.6V1216.4H1343.2V1220.7H1343.8V1221.5H1344.4V1226.2H1345.0V1225.1H1345.6V1223.3H1346.2V1221.1H1346.8V1222.7H1347.4V1219.3H1348.0V1215.4H1348.6V1218.3H1349.2V1220.4H1349.8V1219.6H1350.4V1221.1H1351.0V1221.8H1351.6V1222.7H1352.2V1224.6H1352.8V1224.4H1353.4V1225.2H1354.0V1227.0H1354.6V1223.3H1355.2V1223.8H1355.8V1224.7H1356.4V1222.1H1357.0V1222.3H1357.6V1223.5H1358.2V1221.2H1358.8V1222.9H1359.4V1223.2H1360.0V1222.0H1360.6V1222.1H1361.2V1218.7H1361.8V1221.5H1362.4V1219.8H1363.0V1214.6H1363.6V1218.6H1364.2V1223.2H1364.8V1224.4H1365.4V1225.4H1366.0V1227.9H1366.6V1227.8H1367.8V1228.1H1368.4V1228.0H1369.6V1227.5H1370.2V1226.4H1370.8V1225.8H1371.4V1226.4H1372.0V1225.6H1372.6V1223.2H1373.2V1222.7H1373.8V1218.8H1374.4V1222.2H1375.0V1219.8H1375.6V1221.3H1376.2V1222.1H1376.8V1221.9H1377.4V1224.4H1378.0V1223.5H1378.6V1223.0H1379.2V1224.0H1379.8V1222.5H1380.4V1221.9H1381.0V1221.6H1381.6V1222.3H1382.2V1221.1H1382.8V1220.1H1383.4V1223.0H1384.0V1221.9H1384.6V1221.7H1385.2V1224.6H1385.8V1223.4H1386.4V1224.8H1387.0V1222.9H1387.6V1221.1H1388.2V1222.0H1389.4V1222.7H1390.0V1224.5H1390.6V1223.4H1391.2V1221.3H1391.8V1222.2H1392.4V1224.2H1393.0V1225.5H1393.6V1224.1H1394.2V1223.9H1394.8V1224.1H1395.4V1222.2H1396.0V1223.1H1396.6V1221.3H1397.2V1220.2H1397.8V1221.1H1398.4V1218.3H1399.0V1217.4H1399.6V1215.5H1400.2V1209.8H1400.8V1220.7H1401.4V1223.2H1402.0V1222.9H1402.6V1225.1H1403.2V1222.2H1403.8V1225.5H1404.4V1221.9H1405.0V1221.7H1405.6V1223.8H1406.2V1219.0H1406.8V1218.9H1407.4V1217.0H1408.0V1219.1H1408.6V1217.8H1409.2V1220.3H1409.8V1223.2H1410.4V1224.7H1411.0V1223.5H1411.6V1224.4H1412.2V1223.8H1412.8V1225.3H1413.4V1222.9H1414.0V1224.6H1414.6V1224.1H1415.2V1222.3H1415.8V1219.3H1416.4V1219.7H1417.0V1220.1H1417.6V1220.9H1418.2V1222.1H1419.4V1220.8H1420.0V1223.8H1420.6V1222.7H1421.2V1218.5H1421.8V1221.0H1422.4V1218.0H1423.0V1213.5H1423.6V1221.4H1424.2V1220.0H1424.8V1216.0H1425.4V1219.9H1426.0V1222.5H1426.6V1223.8H1427.2V1221.7H1427.8V1225.3H1428.4V1223.6H1429.0V1224.2H1429.6V1222.9H1430.2V1223.9H1430.8V1220.4H1431.4V1221.5H1432.0V1222.6H1432.6V1220.8H1433.2V1217.9H1433.8V1218.4H1434.4V1221.9H1435.0V1224.5H1435.6V1222.3H1436.2V1220.9H1436.8V1221.2H1437.4V1224.0H1438.0V1221.8H1438.6V1220.9H1439.2V1221.2H1439.8V1220.5H1440.4V1221.3H1441.0V1216.1H1441.6V1218.8H1442.2V1220.3H1442.8V1220.0H1443.4V1219.5H1444.0V1220.9H1444.6V1216.0H1445.2V1221.5H1445.8V1220.5H1446.4V1218.4H1447.0V1219.3H1447.6V1219.4H1448.2V1215.8H1448.8V1220.1H1449.4V1217.2H1450.0V1216.7H1450.6V1219.3H1451.2V1217.7H1451.8V1216.6H1452.4V1215.7H1453.0V1218.4H1453.6V1217.9H1454.2V1220.4H1454.8V1219.4H1455.4V1219.9H1456.0V1221.9H1456.6V1221.7H1457.2V1220.1H1457.8V1224.4H1458.4V1216.0H1459.0V1209.9H1459.6V1215.1H1460.2V1220.6H1460.8V1222.1H1461.4V1221.8H1462.0V1223.6H1462.6V1224.7H1463.2V1224.9H1463.8V1223.9H1464.4V1223.7H1465.0V1225.3H1465.6V1223.6H1466.2V1223.5H1466.8V1227.1H1467.4V1224.0H1468.0V1223.8H1468.6V1221.2H1469.2V1222.2H1469.8V1222.9H1470.4V1221.8H1471.0V1220.9H1471.6V1218.8H1472.2V1216.1H1472.8V1220.3H1473.4V1217.4H1474.0V1216.6H1474.6V1220.8H1475.2V1218.2H1475.8V1219.5H1476.4V1219.1H1477.0V1215.8H1477.6V1212.3H1478.2V1211.8H1478.8V1213.9H1479.4V1213.0H1480.0V1211.5H1480.6V1217.9H1481.2V1224.0H1481.8V1207.5H1482.4V1214.2H1483.0V1213.3H1483.6V1217.0H1484.2V1219.1H1484.8V1220.3H1485.4V1216.3H1486.0V1220.6H1486.6V1220.3H1487.2V1219.5H1487.8V1219.3H1488.4V1221.1H1489.0V1221.7H1489.6V1223.1H1490.2V1220.4H1490.8V1223.9H1491.4V1226.8H1492.0V1222.6H1492.6V1221.0H1493.2V1216.8H1493.8V1215.2H1494.4V1218.3H1495.0V1214.5H1495.6V1217.7H1496.2V1224.1H1496.8V1225.2H1497.4V1226.1H1498.0V1225.8H1498.6V1225.3H1499.2V1223.2H1499.8V1224.6H1500.4V1225.0H1501.0V1225.9H1502.2V1223.8H1502.8V1224.2H1503.4V1224.3H1504.0V1222.5H1504.6V1224.7H1505.2V1223.5H1505.8V1225.1H1506.4V1225.0H1507.0V1225.3H1507.6V1220.6H1508.2V1222.1H1508.8V1220.8H1509.4V1219.1H1510.0V1220.6H1510.6V1221.1H1511.2V1218.2H1511.8V1219.0H1512.4V1219.4H1513.0V1219.7H1513.6V1223.8H1514.2V1223.0H1514.8V1224.2H1515.4V1221.5H1516.0V1221.4H1516.6V1223.0H1517.2V1222.2H1517.8V1221.1H1518.4V1222.9H1519.0V1220.6H1519.6V1221.8H1520.2V1222.3H1520.8V1218.4H1521.4V1219.4H1522.0V1221.9H1522.6V1222.8H1523.2V1215.1H1523.8V1220.6H1524.4V1222.4H1525.0V1219.7H1525.6V1215.7H1526.2V1219.9H1526.8V1220.7H1527.4V1222.8H1528.0V1220.1H1528.6V1222.6H1529.2V1218.0H1529.8V1218.2H1530.4V1217.5H1531.0V1219.4H1531.6V1220.1H1532.2V1222.8H1532.8V1221.2H1533.4V1223.7H1534.0V1221.3H1534.6V1222.5H1535.2V1223.0H1535.8V1223.3H1536.4V1221.3H1537.0V1222.3H1537.6V1226.6H1538.2V1218.1H1538.8V1217.8H1539.4V1209.6H1540.0V1214.2H1540.6V1218.4H1541.2V1219.0H1541.8V1224.0H1542.4V1226.4H1543.0V1226.7H1543.6V1226.0H1544.2V1226.3H1544.8V1226.0H1545.4V1225.8H1546.0V1225.7H1546.6V1224.3H1547.2V1221.8H1547.8V1223.6H1548.4V1219.8H1549.0V1221.9H1549.6V1221.2H1550.2V1221.1H1550.8V1223.3H1551.4V1222.5H1552.6V1222.6H1553.2V1217.8H1553.8V1220.7H1554.4V1217.4H1555.0V1213.4H1555.6V1220.2H1556.2V1216.8H1556.8V1219.6H1557.4V1222.0H1558.0V1223.3H1558.6V1222.1H1559.2V1221.4H1559.8V1223.5H1560.4V1218.4H1561.0V1220.5H1561.6V1222.3H1562.2V1221.1H1562.8V1222.6H1563.4V1219.6H1564.0V1221.5H1564.6V1220.8H1565.2V1219.9H1565.8V1221.1H1566.4V1224.7H1567.0V1223.9H1567.6V1225.0H1568.2V1224.9H1568.8V1223.7H1569.4V1225.7H1570.0V1226.1H1570.6V1225.5H1571.2V1223.3H1571.8V1221.0H1572.4V1222.8H1573.0V1216.5H1573.6V1220.6H1574.2V1217.9H1574.8V1224.3H1575.4V1220.8H1576.0V1217.2H1576.6V1219.4H1577.2V1218.4H1577.8V1217.8H1578.4V1217.9H1579.0V1216.0H1579.6V1213.6H1580.2V1220.5H1580.8V1217.8H1581.4V1215.3H1582.0V1215.8H1582.6V1215.9H1583.2V1217.8H1583.8V1218.7H1584.4V1217.3H1585.0V1213.4H1585.6V1215.0H1586.2V1219.5H1586.8V1216.3H1587.4V1215.8H1588.0V1216.6H1588.6V1221.1H1589.2V1222.9H1589.8V1224.5H1590.4V1221.5H1591.0V1222.2H1591.6V1224.7H1592.2V1224.0H1592.8V1222.3H1593.4V1217.2H1594.0V1217.5H1594.6V1218.6H1595.2V1218.2H1595.8V1223.0H1596.4V1227.1H1597.0V1227.0H1597.6V1225.1H1598.2V1222.4H1598.8V1224.4H1599.4V1223.2H1600.0V1223.6H1600.6V1225.7H1601.2V1223.9H1601.8V1225.1H1602.4V1224.8H1603.0V1226.1H1603.6V1225.8H1604.2V1226.1H1604.8V1224.3H1605.4V1224.4H1606.0V1221.8H1606.6V1223.8H1607.2V1221.0H1607.8V1220.3H1608.4V1218.8H1609.0V1221.4H1609.6V1220.2H1610.2V1225.6H1610.8V1220.7H1611.4V1211.8H1612.0V1218.4H1612.6V1220.0H1613.2V1217.0H1613.8V1216.1H1614.4V1220.2H1615.6V1223.1H1616.2V1223.7H1616.8V1224.7H1617.4V1222.7H1618.0V1222.6H1618.6V1221.5H1619.2V1225.1H1619.8V1219.7H1620.4V1218.0H1621.0V1221.6H1621.6V1219.2H1622.2V1217.1H1622.8V1217.9H1623.4V1220.4H1624.6V1223.8H1625.2V1224.5H1626.4V1224.6H1627.0V1225.9H1627.6V1223.3H1628.2V1223.2H1628.8V1224.8H1629.4V1225.4H1630.0V1224.8H1630.6V1222.6H1631.2V1224.7H1631.8V1222.2H1632.4V1221.5H1633.0V1222.9H1633.6V1221.8H1634.2V1223.0H1634.8V1224.0H1635.4V1225.1H1636.0V1222.4H1636.6V1225.0H1637.2V1224.2H1637.8V1226.0H1638.4V1226.1H1639.0V1222.3H1639.6V1223.9H1640.2V1224.7H1640.8V1225.4H1641.4V1224.6H1642.0V1224.1H1642.6V1224.4H1643.2V1223.5H1643.8V1224.5H1644.4V1222.8H1645.0V1224.1H1645.6V1224.0H1646.2V1223.5H1646.8V1222.4H1647.4V1219.8H1648.0V1219.0H1648.6V1221.9H1649.2V1218.6H1649.8V1218.5H1650.4V1221.2H1651.0V1220.7H1651.6V1220.5H1652.2V1224.4H1652.8V1227.1H1653.4V1226.0H1654.0V1223.2H1654.6V1223.9H1655.2V1222.9H1655.8V1221.1H1656.4V1219.4H1657.0V1220.6H1657.6V1220.9H1658.2V1222.8H1659.4V1223.8H1660.0V1223.2H1660.6V1223.3H1661.2V1225.5H1661.8V1224.8H1662.4V1224.3H1663.0V1223.4H1663.6V1225.1H1664.2V1223.2H1664.8V1221.9H1665.4V1220.5H1666.0V1221.2H1666.6V1219.9H1667.2V1224.5H1667.8V1216.1H1668.4V1212.8H1669.0V1219.0H1669.6V1219.5H1670.2V1222.9H1670.8V1222.4H1671.4V1223.3H1672.0V1224.2H1672.6V1224.8H1673.2V1222.4H1673.8V1222.6H1674.4V1223.6H1675.0V1220.2H1675.6V1221.1H1676.2V1222.9H1676.8V1222.2H1677.4V1220.0H1678.0V1222.0H1678.6V1217.4H1679.2V1218.6H1679.8V1219.4H1680.4V1220.4H1681.0V1220.5H1681.6V1219.7H1682.2V1220.8H1682.8V1220.5H1683.4V1223.8H1684.0V1222.3H1684.6V1224.2H1685.2V1221.4H1685.8V1223.3H1686.4V1220.4H1687.0V1223.9H1687.6V1225.3H1688.2V1222.4H1688.8V1224.3H1689.4V1223.8H1690.0V1222.0H1690.6V1222.7H1691.2V1223.7H1691.8V1223.0H1692.4V1221.9H1693.0V1223.0H1693.6V1220.0H1694.2V1223.5H1694.8V1221.5H1695.4V1222.1H1696.0V1221.3H1697.2V1219.9H1697.8V1220.9H1698.4V1222.5H1699.0V1218.2H1699.6V1221.9H1700.2V1220.7H1700.8V1219.6H1701.4V1223.1H1702.0V1222.1H1703.2V1223.6H1703.8V1221.0H1704.4V1222.0H1705.0V1224.5H1705.6V1221.3H1706.8V1224.1H1707.4V1223.2H1708.0V1222.5H1708.6V1223.3H1709.2V1223.1H1709.8V1220.5H1710.4V1221.1H1711.0V1223.7H1711.6V1220.1H1712.2V1222.1H1712.8V1219.3H1713.4V1219.1H1714.0V1221.6H1714.6V1222.0H1715.2V1215.8H1715.8V1221.3H1716.4V1219.9H1717.0V1219.5H1717.6V1220.1H1718.8V1219.3H1719.4V1221.1H1720.0V1221.2H1720.6V1223.8H1721.2V1223.3H1721.8V1224.6H1722.4V1224.4H1723.0V1222.7H1723.6V1224.8H1724.2V1225.7H1724.8V1224.3H1725.4V1226.4H1726.0V1223.4H1726.6V1225.4H1727.2V1226.5H1727.8V1222.4H1729.0V1221.0H1729.6V1218.3H1730.2V1218.4H1730.8V1217.9H1731.4V1218.9H1732.0V1221.4H1732.6V1220.5H1733.2V1224.8H1733.8V1221.5H1734.4V1220.9H1735.0V1220.8H1735.6V1219.1H1736.2V1218.7H1736.8V1218.3H1737.4V1220.2H1738.0V1221.6H1738.6V1222.7H1739.2V1226.2H1739.8V1224.9H1740.4V1222.7H1741.0V1225.4H1741.6V1225.2H1742.2V1225.1H1742.8V1226.4H1743.4V1226.0H1744.0V1226.1H1744.6V1226.4H1745.2V1224.4H1746.4V1223.7H1747.0V1224.2H1747.6V1222.6H1748.2V1219.7H1748.8V1220.1H1750.0V1223.5H1750.6V1222.6H1751.2V1225.4H1751.8V1226.8H1752.4V1225.6H1753.0V1225.8H1753.6V1226.7H1754.2V1224.9H1754.8V1224.0H1755.4V1225.6H1756.0V1222.2H1756.6V1222.9H1757.2V1221.4H1757.8V1221.7H1758.4V1219.8H1759.0V1219.5H1759.6V1225.7H1760.2V1223.5H1760.8V1221.7H1761.4V1219.7H1762.0V1222.1H1762.6V1219.5H1763.8V1219.2H1764.4V1218.2H1765.0V1225.3H1765.6V1219.0H1766.2V1219.9H1766.8V1216.9H1767.4V1218.6H1768.0V1217.0H1768.6V1220.5H1769.2V1217.4H1769.8V1219.4H1770.4V1215.8H1771.0V1219.6H1772.8V1221.9H1773.4V1219.1H1774.0V1220.8H1774.6V1222.2H1775.2V1224.4H1775.8V1222.7H1776.4V1224.5H1777.0V1225.9H1777.6V1226.5H1778.2V1225.6H1778.8V1227.3H1779.4V1224.8H1780.0V1214.8H1780.6V1216.4H1781.2V1217.5H1781.8V1223.0H1782.4V1216.1H1783.0V1217.9H1783.6V1228.5Z" fill="#86CDBF"/>
<line x1="1260.1999999999998" y1="1228.5" x2="1783.2" y2="1228.5" stroke="#1a1a1a" stroke-width="1.3"/>
<line x1="1261.1" y1="1205.5" x2="1261.1" y2="1229.1" stroke="#000" stroke-width="1.9"/>
<path d="M1261.6,1261.4V1255.4H1262.2V1252.8H1262.8V1251.8H1263.4V1253.1H1264.0V1257.3H1264.6V1251.6H1265.2V1252.7H1265.8V1252.5H1266.4V1256.5H1267.0V1256.2H1267.6V1255.4H1268.2V1252.1H1268.8V1253.7H1269.4V1254.2H1270.0V1253.2H1270.6V1254.2H1271.2V1251.7H1271.8V1249.8H1272.4V1251.6H1273.0V1251.2H1273.6V1253.3H1274.2V1255.3H1274.8V1257.1H1275.4V1258.8H1276.0V1259.2H1276.6V1259.1H1277.2V1259.0H1277.8V1259.5H1278.4V1257.4H1279.0V1259.4H1279.6V1258.5H1280.2V1259.0H1280.8V1258.4H1281.4V1258.5H1282.0V1259.6H1282.6V1258.9H1283.2V1257.3H1283.8V1256.3H1284.4V1256.0H1285.0V1252.9H1285.6V1256.0H1286.2V1253.7H1286.8V1254.9H1287.4V1252.3H1288.0V1251.8H1288.6V1251.6H1289.2V1252.6H1289.8V1255.2H1290.4V1254.6H1291.0V1256.6H1292.2V1256.7H1292.8V1255.4H1293.4V1254.7H1294.0V1252.6H1294.6V1257.5H1295.2V1256.6H1295.8V1253.8H1296.4V1254.0H1297.0V1256.8H1297.6V1255.3H1298.2V1252.1H1298.8V1257.3H1299.4V1254.8H1300.0V1257.8H1300.6V1255.8H1301.2V1253.2H1301.8V1252.6H1302.4V1254.9H1303.0V1252.8H1303.6V1251.6H1304.2V1252.8H1304.8V1256.1H1305.4V1256.6H1306.0V1254.6H1306.6V1251.3H1307.2V1255.5H1307.8V1257.5H1308.4V1258.6H1309.0V1259.5H1309.6V1259.8H1310.2V1259.4H1310.8V1260.6H1311.4V1260.0H1312.0V1259.6H1312.6V1257.6H1313.2V1256.2H1313.8V1255.0H1314.4V1255.8H1315.0V1253.9H1315.6V1252.0H1316.2V1251.7H1316.8V1251.2H1317.4V1251.3H1318.0V1250.0H1318.6V1248.4H1319.2V1250.5H1319.8V1254.1H1320.4V1257.2H1321.0V1256.3H1321.6V1254.0H1322.2V1253.6H1322.8V1254.1H1323.4V1256.6H1324.0V1253.1H1324.6V1254.9H1325.2V1256.9H1325.8V1257.0H1326.4V1256.3H1327.0V1254.6H1327.6V1254.0H1328.2V1253.6H1328.8V1254.2H1329.4V1256.9H1330.0V1252.1H1330.6V1254.5H1331.2V1256.3H1331.8V1255.6H1332.4V1255.1H1333.0V1254.6H1333.6V1253.0H1334.2V1252.2H1334.8V1255.1H1335.4V1255.7H1336.0V1255.4H1336.6V1253.8H1337.2V1255.4H1337.8V1252.0H1338.4V1250.8H1339.0V1253.9H1339.6V1251.7H1340.2V1252.1H1340.8V1252.0H1341.4V1254.1H1342.0V1256.2H1342.6V1255.6H1343.2V1256.0H1343.8V1254.9H1344.4V1252.7H1345.0V1251.8H1345.6V1253.5H1346.2V1252.6H1346.8V1253.2H1347.4V1250.4H1348.0V1253.0H1348.6V1254.1H1349.2V1253.6H1349.8V1255.0H1351.0V1256.4H1351.6V1254.7H1352.2V1256.3H1352.8V1257.5H1353.4V1259.8H1354.0V1259.0H1354.6V1259.5H1355.2V1259.1H1355.8V1259.5H1356.4V1258.6H1357.0V1258.5H1357.6V1258.1H1358.2V1257.9H1358.8V1259.8H1359.4V1260.5H1360.6V1258.0H1361.2V1257.2H1361.8V1253.4H1362.4V1256.9H1363.0V1254.8H1363.6V1259.4H1364.2V1257.5H1364.8V1257.6H1365.4V1257.5H1366.0V1261.2H1366.6V1260.8H1367.2V1260.9H1368.4V1260.6H1369.0V1260.2H1369.6V1260.9H1370.2V1260.5H1370.8V1258.0H1371.4V1256.9H1372.0V1255.4H1372.6V1258.8H1373.2V1256.0H1373.8V1255.3H1374.4V1253.4H1375.0V1255.9H1375.6V1254.0H1376.2V1252.8H1376.8V1255.1H1377.4V1253.5H1378.0V1254.8H1378.6V1256.2H1379.2V1255.2H1379.8V1252.4H1380.4V1252.0H1381.0V1253.9H1381.6V1255.1H1382.2V1255.9H1382.8V1255.4H1383.4V1257.1H1384.0V1255.3H1384.6V1256.2H1385.2V1256.6H1385.8V1255.1H1386.4V1257.3H1387.0V1256.7H1387.6V1257.5H1388.2V1257.4H1388.8V1258.2H1389.4V1258.1H1390.0V1257.3H1390.6V1258.6H1391.2V1259.4H1391.8V1258.5H1392.4V1259.2H1393.0V1258.2H1393.6V1257.6H1394.2V1258.5H1394.8V1258.8H1395.4V1257.1H1396.0V1257.8H1396.6V1259.2H1397.2V1259.3H1397.8V1257.3H1398.4V1257.0H1399.0V1255.1H1399.6V1259.9H1400.2V1257.8H1400.8V1254.4H1401.4V1253.9H1402.0V1248.7H1402.6V1252.3H1403.2V1254.1H1403.8V1256.5H1404.4V1252.8H1405.0V1254.1H1405.6V1253.9H1406.2V1252.8H1406.8V1253.1H1407.4V1252.1H1408.0V1251.8H1408.6V1250.5H1409.2V1252.2H1409.8V1253.4H1410.4V1255.4H1411.0V1254.2H1411.6V1254.0H1412.2V1253.4H1412.8V1257.4H1413.4V1252.5H1414.0V1253.6H1414.6V1251.7H1415.2V1245.2H1415.8V1250.3H1416.4V1252.4H1417.0V1255.1H1417.6V1254.6H1418.2V1252.1H1418.8V1253.8H1419.4V1251.5H1420.0V1255.3H1420.6V1255.4H1421.2V1256.4H1421.8V1253.8H1422.4V1252.3H1423.0V1254.6H1423.6V1255.2H1424.2V1253.6H1424.8V1257.0H1425.4V1255.5H1426.0V1258.3H1426.6V1256.9H1427.2V1257.9H1427.8V1259.0H1428.4V1257.3H1429.0V1257.2H1429.6V1257.5H1430.2V1255.0H1430.8V1254.9H1431.4V1256.0H1432.0V1253.1H1432.6V1252.5H1433.2V1251.8H1433.8V1254.2H1434.4V1254.0H1435.0V1256.2H1435.6V1252.4H1436.2V1256.5H1436.8V1259.9H1437.4V1257.1H1438.0V1256.2H1438.6V1254.0H1439.2V1256.0H1439.8V1254.1H1440.4V1254.5H1441.0V1253.8H1441.6V1253.5H1442.2V1254.0H1442.8V1256.7H1443.4V1256.8H1444.0V1256.2H1444.6V1255.5H1445.2V1254.3H1445.8V1257.1H1446.4V1257.9H1447.6V1257.8H1448.2V1257.4H1448.8V1256.6H1449.4V1254.9H1450.0V1253.5H1450.6V1255.2H1451.2V1253.6H1451.8V1254.2H1452.4V1251.9H1453.0V1253.9H1453.6V1250.6H1454.2V1256.1H1454.8V1257.3H1455.4V1255.7H1456.0V1258.5H1456.6V1257.3H1457.2V1258.0H1457.8V1254.9H1458.4V1255.8H1459.0V1252.7H1459.6V1254.9H1460.2V1255.0H1460.8V1255.5H1461.4V1256.5H1462.0V1258.7H1462.6V1259.4H1463.2V1259.2H1463.8V1258.1H1464.4V1256.9H1465.0V1257.3H1465.6V1257.1H1466.2V1257.8H1466.8V1257.0H1467.4V1255.9H1468.0V1256.7H1468.6V1256.2H1469.2V1254.8H1469.8V1254.7H1470.4V1256.0H1471.0V1253.7H1471.6V1255.5H1472.2V1255.4H1472.8V1258.4H1473.4V1253.5H1474.0V1253.3H1474.6V1253.5H1475.2V1256.7H1475.8V1256.0H1476.4V1255.1H1477.0V1254.5H1477.6V1254.2H1478.2V1255.3H1478.8V1254.7H1479.4V1252.9H1480.0V1255.3H1480.6V1257.8H1481.2V1253.3H1481.8V1255.6H1482.4V1254.0H1483.0V1253.1H1483.6V1258.8H1484.2V1256.2H1484.8V1255.0H1485.4V1255.9H1486.0V1254.0H1486.6V1252.7H1487.2V1256.4H1487.8V1253.9H1488.4V1255.3H1489.0V1256.6H1489.6V1253.5H1490.2V1256.5H1490.8V1256.7H1491.4V1257.1H1492.0V1255.0H1492.6V1254.3H1493.2V1254.7H1493.8V1255.1H1494.4V1258.1H1495.0V1257.7H1495.6V1256.1H1496.2V1257.2H1496.8V1257.3H1497.4V1257.6H1498.0V1256.2H1498.6V1255.9H1499.2V1256.0H1499.8V1254.9H1500.4V1254.0H1501.0V1255.6H1501.6V1255.7H1502.2V1254.5H1502.8V1256.9H1503.4V1258.1H1504.0V1257.1H1504.6V1255.8H1505.2V1256.0H1505.8V1254.5H1506.4V1256.4H1507.0V1255.9H1507.6V1253.5H1508.2V1253.9H1508.8V1255.7H1509.4V1255.9H1510.0V1256.7H1510.6V1254.6H1511.2V1253.9H1511.8V1256.3H1512.4V1255.8H1513.0V1256.6H1513.6V1255.5H1514.2V1257.2H1514.8V1257.6H1515.4V1257.4H1516.0V1258.6H1516.6V1256.3H1517.2V1255.1H1517.8V1256.4H1518.4V1255.9H1519.0V1255.5H1519.6V1254.9H1520.2V1252.5H1520.8V1255.7H1521.4V1253.2H1522.0V1256.4H1522.6V1251.8H1523.2V1254.9H1523.8V1252.5H1524.4V1255.0H1525.0V1256.4H1525.6V1252.7H1526.2V1256.1H1526.8V1255.1H1527.4V1256.2H1528.0V1254.6H1528.6V1256.4H1529.2V1255.8H1529.8V1255.4H1530.4V1254.2H1531.0V1254.7H1531.6V1255.5H1532.2V1254.3H1532.8V1253.9H1533.4V1255.5H1534.0V1254.1H1534.6V1253.8H1535.2V1255.8H1535.8V1253.7H1536.4V1253.0H1537.0V1252.8H1537.6V1250.4H1538.2V1252.8H1538.8V1249.9H1539.4V1251.6H1540.0V1247.6H1540.6V1252.3H1541.2V1253.4H1541.8V1257.1H1542.4V1256.3H1543.0V1259.3H1543.6V1259.0H1544.2V1259.4H1544.8V1260.1H1545.4V1259.1H1546.0V1257.0H1546.6V1256.1H1547.2V1254.4H1547.8V1256.1H1548.4V1255.3H1549.0V1259.0H1549.6V1255.7H1550.2V1255.1H1550.8V1256.8H1551.4V1257.4H1552.0V1255.5H1552.6V1254.5H1553.2V1253.6H1553.8V1256.7H1554.4V1254.8H1555.0V1255.7H1555.6V1254.2H1556.2V1256.3H1556.8V1256.1H1557.4V1256.3H1558.0V1256.0H1559.2V1257.2H1559.8V1255.6H1560.4V1256.7H1561.0V1258.6H1561.6V1256.4H1562.2V1256.7H1562.8V1256.2H1563.4V1255.9H1564.0V1254.4H1564.6V1254.2H1565.2V1254.7H1565.8V1256.1H1566.4V1258.6H1567.0V1257.4H1567.6V1259.2H1568.2V1259.3H1568.8V1258.6H1569.4V1257.4H1570.0V1257.1H1570.6V1255.7H1571.2V1255.4H1571.8V1256.5H1572.4V1252.7H1573.0V1255.2H1573.6V1252.2H1574.2V1256.4H1574.8V1251.0H1575.4V1256.2H1576.0V1254.0H1576.6V1254.8H1577.2V1255.8H1577.8V1256.6H1578.4V1256.5H1579.0V1255.7H1579.6V1255.5H1580.2V1253.5H1580.8V1255.4H1581.4V1252.8H1582.6V1255.1H1583.2V1254.0H1583.8V1257.2H1584.4V1257.4H1585.0V1250.5H1585.6V1255.6H1586.2V1256.6H1586.8V1256.2H1587.4V1256.4H1588.0V1255.3H1588.6V1257.2H1589.2V1257.5H1589.8V1256.9H1590.4V1256.6H1591.0V1254.7H1591.6V1254.9H1592.2V1254.3H1592.8V1249.6H1593.4V1251.5H1594.0V1248.3H1594.6V1244.3H1595.2V1250.0H1595.8V1246.7H1596.4V1249.6H1597.0V1256.3H1597.6V1249.2H1598.2V1252.0H1598.8V1252.3H1599.4V1248.1H1600.0V1249.5H1600.6V1252.8H1601.8V1255.1H1602.4V1257.5H1603.0V1258.7H1603.6V1259.7H1604.2V1256.7H1604.8V1258.5H1605.4V1256.8H1606.0V1257.1H1606.6V1256.3H1607.2V1254.6H1607.8V1255.3H1608.4V1254.2H1609.0V1253.2H1609.6V1255.1H1610.2V1254.8H1610.8V1253.4H1611.4V1253.1H1612.0V1249.5H1612.6V1247.9H1613.2V1243.0H1613.8V1244.3H1614.4V1249.4H1615.0V1254.6H1615.6V1256.1H1616.2V1257.6H1616.8V1256.3H1617.4V1253.6H1618.0V1249.3H1618.6V1252.6H1619.2V1249.7H1619.8V1249.0H1620.4V1251.6H1621.0V1251.4H1621.6V1246.2H1622.2V1249.3H1622.8V1248.4H1623.4V1247.5H1624.0V1254.1H1624.6V1253.5H1625.2V1250.3H1625.8V1253.7H1626.4V1255.5H1627.0V1257.3H1627.6V1257.5H1628.2V1256.8H1628.8V1259.2H1629.4V1258.5H1630.0V1258.1H1630.6V1258.7H1631.2V1257.1H1631.8V1256.7H1632.4V1257.5H1633.0V1256.6H1633.6V1257.4H1634.2V1257.6H1634.8V1257.2H1635.4V1258.0H1636.0V1255.5H1636.6V1257.8H1637.2V1258.2H1637.8V1258.0H1638.4V1256.7H1639.0V1256.0H1639.6V1255.8H1640.2V1258.9H1640.8V1256.5H1641.4V1257.3H1642.0V1256.4H1642.6V1257.1H1643.2V1257.6H1643.8V1258.5H1644.4V1258.8H1645.0V1258.5H1645.6V1259.5H1646.2V1258.5H1646.8V1257.8H1647.4V1257.4H1648.0V1256.2H1648.6V1251.6H1649.2V1251.9H1649.8V1253.0H1650.4V1252.8H1651.0V1251.1H1651.6V1254.9H1652.2V1256.4H1652.8V1257.0H1653.4V1256.0H1654.0V1255.8H1654.6V1255.0H1655.2V1254.7H1655.8V1251.6H1656.4V1249.0H1657.0V1252.0H1657.6V1254.7H1658.2V1255.4H1658.8V1257.4H1659.4V1258.9H1660.0V1259.5H1661.2V1259.8H1661.8V1259.2H1662.4V1258.2H1663.0V1256.1H1663.6V1255.4H1664.2V1255.2H1664.8V1253.0H1665.4V1258.7H1666.0V1252.3H1666.6V1253.7H1667.2V1252.3H1667.8V1249.3H1668.4V1246.2H1669.0V1250.2H1669.6V1255.4H1670.2V1257.6H1670.8V1255.6H1671.4V1253.9H1672.0V1253.6H1672.6V1254.9H1673.8V1255.5H1674.4V1256.8H1675.0V1256.7H1675.6V1255.0H1676.2V1255.9H1677.4V1259.1H1678.0V1254.7H1678.6V1254.2H1679.2V1253.1H1679.8V1251.8H1680.4V1254.5H1681.0V1252.9H1681.6V1254.7H1682.2V1255.8H1682.8V1253.5H1683.4V1256.6H1684.0V1254.5H1684.6V1255.8H1685.2V1254.2H1685.8V1252.4H1686.4V1254.0H1687.0V1254.2H1687.6V1255.9H1688.2V1254.8H1688.8V1257.2H1689.4V1258.4H1690.0V1256.1H1690.6V1253.0H1691.2V1254.5H1691.8V1253.4H1692.4V1252.4H1693.6V1254.0H1694.2V1250.4H1694.8V1250.6H1695.4V1246.4H1696.0V1251.7H1696.6V1252.8H1697.2V1251.8H1697.8V1248.7H1698.4V1254.9H1699.0V1255.4H1699.6V1257.0H1700.2V1256.1H1700.8V1253.5H1701.4V1252.0H1702.0V1256.5H1702.6V1254.2H1703.2V1256.4H1703.8V1258.7H1704.4V1258.2H1705.0V1256.3H1705.6V1252.3H1706.2V1256.1H1706.8V1251.4H1707.4V1250.2H1708.0V1250.9H1708.6V1251.7H1709.2V1255.3H1709.8V1253.5H1710.4V1252.2H1711.0V1253.7H1711.6V1255.3H1712.2V1254.2H1712.8V1255.0H1713.4V1253.4H1714.0V1254.2H1714.6V1252.9H1715.2V1255.2H1715.8V1255.6H1716.4V1252.6H1717.0V1254.9H1717.6V1250.8H1718.2V1254.2H1718.8V1252.5H1719.4V1250.2H1720.0V1251.5H1720.6V1254.6H1721.2V1255.8H1721.8V1253.1H1722.4V1254.0H1723.0V1252.0H1723.6V1253.3H1724.2V1255.0H1724.8V1253.9H1725.4V1254.4H1726.0V1256.9H1726.6V1259.2H1727.2V1256.6H1727.8V1255.0H1728.4V1252.8H1729.0V1247.9H1729.6V1248.2H1730.2V1244.8H1730.8V1252.7H1731.4V1254.4H1732.0V1256.3H1732.6V1255.2H1733.2V1253.8H1733.8V1253.0H1734.4V1253.6H1735.0V1255.3H1735.6V1254.0H1736.2V1254.7H1736.8V1253.2H1737.4V1255.0H1738.0V1255.3H1738.6V1256.0H1739.2V1257.6H1739.8V1255.5H1740.4V1257.5H1741.0V1257.4H1741.6V1258.7H1742.2V1260.3H1743.4V1257.8H1744.0V1259.5H1744.6V1258.5H1745.2V1258.6H1745.8V1255.5H1746.4V1255.7H1747.0V1256.6H1747.6V1255.1H1748.2V1253.9H1748.8V1254.2H1749.4V1253.8H1750.0V1254.3H1750.6V1256.8H1751.2V1255.1H1751.8V1257.5H1752.4V1258.5H1753.0V1258.6H1753.6V1257.5H1754.2V1258.8H1754.8V1258.4H1755.4V1258.1H1756.0V1258.5H1756.6V1255.2H1757.2V1259.1H1757.8V1257.9H1758.4V1258.5H1759.0V1257.9H1759.6V1257.0H1760.2V1255.3H1760.8V1255.0H1761.4V1254.7H1762.0V1255.7H1762.6V1255.1H1763.2V1251.6H1763.8V1252.4H1764.4V1251.7H1765.0V1250.9H1765.6V1251.0H1766.2V1253.8H1766.8V1254.4H1767.4V1255.7H1768.0V1254.8H1768.6V1250.1H1769.2V1250.2H1769.8V1250.3H1770.4V1252.9H1771.0V1253.4H1771.6V1253.9H1772.2V1254.3H1772.8V1254.7H1773.4V1258.7H1774.0V1253.2H1774.6V1253.8H1775.2V1256.6H1776.4V1257.0H1777.0V1260.0H1777.6V1261.0H1778.2V1259.8H1778.8V1260.6H1779.4V1254.3H1780.0V1250.5H1780.6V1247.4H1781.2V1251.3H1781.8V1251.1H1782.4V1252.3H1783.0V1249.7H1783.6V1261.4Z" fill="#86CDBF"/>
<line x1="1260.1999999999998" y1="1261.4" x2="1783.2" y2="1261.4" stroke="#1a1a1a" stroke-width="1.3"/>
<line x1="1261.1" y1="1238.4" x2="1261.1" y2="1262.0" stroke="#000" stroke-width="1.9"/>
<path d="M1323.4,1294.2v-3.8h0.9v3.8zM1324.3,1294.2v-6.3h1.5v6.3zM1334.2,1294.2v-0.8h0.9v0.8zM1335.8,1294.2v-5.0h1.5v5.0zM1345.0,1294.2v-1.5h1.8v1.5zM1348.6,1294.2v-0.8h2.1v0.8zM1372.8,1294.2v-0.8h1.2v0.8zM1391.3,1294.2v-6.3h1.5v6.3zM1406.0,1294.2v-7.1h1.2v7.1zM1411.3,1294.2v-0.8h1.5v0.8zM1439.4,1294.2v-2.1h1.5v2.1zM1485.2,1294.2v-0.9h1.8v0.9zM1492.8,1294.2v-2.1h1.2v2.1zM1496.0,1294.2v-1.8h1.2v1.8zM1498.9,1294.2v-12.3h1.2v12.3zM1500.2,1294.2v-8.3h1.5v8.3zM1502.0,1294.2v-6.0h1.5v6.0zM1506.1,1294.2v-1.5h1.2v1.5zM1507.4,1294.2v-3.0h1.2v3.0zM1508.8,1294.2v-5.0h0.9v5.0zM1512.5,1294.2v-0.9h1.2v0.9zM1516.0,1294.2v-1.5h0.9v1.5zM1517.0,1294.2v-3.3h0.9v3.3zM1526.0,1294.2v-1.2h1.5v1.2zM1533.2,1294.2v-1.5h1.5v1.5zM1544.9,1294.2v-1.8h1.2v1.8zM1547.0,1294.2v-0.8h1.5v0.8zM1556.4,1294.2v-2.1h1.5v2.1zM1563.0,1294.2v-1.2h1.2v1.2zM1567.9,1294.2v-7.2h0.9v7.2zM1569.0,1294.2v-17.0h1.2v17.0zM1571.1,1294.2v-4.2h1.5v4.2zM1577.1,1294.2v-1.2h1.5v1.2zM1580.3,1294.2v-3.3h1.5v3.3zM1590.0,1294.2v-5.4h1.2v5.4zM1592.3,1294.2v-2.7h1.2v2.7zM1593.6,1294.2v-1.2h1.5v1.2zM1595.9,1294.2v-9.0h1.5v9.0zM1597.1,1294.2v-21.8h1.5v21.8zM1598.6,1294.2v-3.8h1.2v3.8zM1601.1,1294.2v-0.8h1.5v0.8zM1616.2,1294.2v-0.9h1.5v0.9zM1620.2,1294.2v-2.1h1.5v2.1zM1622.3,1294.2v-1.2h1.2v1.2zM1628.3,1294.2v-3.0h1.5v3.0zM1645.1,1294.2v-1.2h3.8v1.2zM1659.7,1294.2v-0.9h1.5v0.9zM1662.0,1294.2v-10.5h1.2v10.5zM1667.4,1294.2v-0.8h1.2v0.8zM1674.3,1294.2v-0.9h1.5v0.9zM1679.7,1294.2v-0.8h1.2v0.8zM1702.7,1294.2v-0.9h1.2v0.9zM1740.1,1294.2v-0.9h1.5v0.9zM1755.1,1294.2v-3.0h0.9v3.0zM1757.8,1294.2v-4.8h1.2v4.8zM1759.3,1294.2v-6.0h1.2v6.0zM1777.2,1294.2v-3.8h0.9v3.8zM1778.1,1294.2v-13.1h0.9v13.1zM1779.2,1294.2v-2.1h0.9v2.1zM1780.7,1294.2v-0.8h1.5v0.8z" fill="#E01F26"/>
<line x1="1260.1999999999998" y1="1294.2" x2="1783.2" y2="1294.2" stroke="#1a1a1a" stroke-width="1.3"/>
<line x1="1261.1" y1="1271.2" x2="1261.1" y2="1294.8" stroke="#000" stroke-width="1.9"/>
<path d="M1302.5,1327.1v-0.6h1.2v0.6zM1314.0,1327.1v-4.1h1.5v4.1zM1323.2,1327.1v-6.0h1.2v6.0zM1324.4,1327.1v-7.1h1.5v7.1zM1334.9,1327.1v-0.8h0.9v0.8zM1336.0,1327.1v-5.0h1.5v5.0zM1339.1,1327.1v-0.9h1.5v0.9zM1345.3,1327.1v-3.0h1.5v3.0zM1348.6,1327.1v-0.8h2.1v0.8zM1391.3,1327.1v-5.0h1.5v5.0zM1406.0,1327.1v-4.5h1.2v4.5zM1439.4,1327.1v-2.3h1.5v2.3zM1445.8,1327.1v-0.9h0.9v0.9zM1492.8,1327.1v-2.1h1.2v2.1zM1496.0,1327.1v-0.8h1.2v0.8zM1498.9,1327.1v-3.3h1.2v3.3zM1500.2,1327.1v-4.8h1.5v4.8zM1502.0,1327.1v-3.3h1.5v3.3zM1507.4,1327.1v-0.9h1.5v0.9zM1544.9,1327.1v-1.8h1.2v1.8zM1550.8,1327.1v-0.6h1.5v0.6zM1563.0,1327.1v-1.8h1.2v1.8zM1567.9,1327.1v-3.8h0.9v3.8zM1569.0,1327.1v-4.2h1.2v4.2zM1571.1,1327.1v-2.1h1.5v2.1zM1589.9,1327.1v-0.6h3.0v0.6zM1602.3,1327.1v-0.8h1.5v0.8zM1621.4,1327.1v-0.6h3.0v0.6zM1628.3,1327.1v-2.3h1.5v2.3zM1641.0,1327.1v-0.8h1.5v0.8zM1645.2,1327.1v-10.1h1.5v10.1zM1647.3,1327.1v-1.2h1.5v1.2zM1654.8,1327.1v-0.6h0.9v0.6zM1662.0,1327.1v-19.5h1.2v19.5zM1667.4,1327.1v-1.5h1.2v1.5zM1674.3,1327.1v-15.0h1.5v15.0zM1678.8,1327.1v-3.3h0.9v3.3zM1679.9,1327.1v-5.0h0.9v5.0zM1698.6,1327.1v-3.0h0.9v3.0zM1699.7,1327.1v-7.8h1.2v7.8zM1703.5,1327.1v-0.9h1.2v0.9zM1705.0,1327.1v-1.8h1.2v1.8zM1707.4,1327.1v-0.8h0.9v0.8zM1727.8,1327.1v-1.2h1.2v1.2zM1732.9,1327.1v-1.8h1.2v1.8zM1742.4,1327.1v-5.0h1.5v5.0zM1755.1,1327.1v-3.6h0.9v3.6zM1757.8,1327.1v-6.8h1.2v6.8zM1759.3,1327.1v-6.8h1.2v6.8zM1777.2,1327.1v-4.5h0.9v4.5zM1778.1,1327.1v-11.3h0.9v11.3zM1779.2,1327.1v-1.8h0.9v1.8zM1781.4,1327.1v-0.8h1.5v0.8z" fill="#E01F26"/>
<line x1="1260.1999999999998" y1="1327.1" x2="1783.2" y2="1327.1" stroke="#1a1a1a" stroke-width="1.3"/>
<line x1="1261.1" y1="1304.1" x2="1261.1" y2="1327.6999999999998" stroke="#000" stroke-width="1.9"/>
<text x="1468" y="1353.7" font-size="23">EBF2</text>
<line x1="1448.3" y1="1364.3" x2="1597.3" y2="1364.3" stroke="#000" stroke-width="1.3"/>
<path d="M1450.5,1364.3H1453.5M1455.5,1364.3H1460M1465.5,1364.3H1481.6M1485.4,1364.3H1496.8M1499.1,1364.3H1589.2M1591.5,1364.3H1596" stroke="#000" stroke-width="5.3" fill="none"/>
<rect x="1448.0" y="1360.8" width="1.6" height="7" fill="#111"/>
<rect x="1459.5" y="1359.55" width="4.0" height="9.5" fill="#000" opacity="0.18"/>
<rect x="1480.8" y="1359.55" width="1.2" height="9.5" fill="#000" opacity="0.18"/>
<rect x="1483.2" y="1359.55" width="1.0" height="9.5" fill="#000" opacity="0.18"/>
<rect x="1496.4" y="1359.55" width="1.0" height="9.5" fill="#000" opacity="0.18"/>
<rect x="1588.6" y="1359.55" width="1.0" height="9.5" fill="#000" opacity="0.18"/>
<rect x="1593" y="1359.55" width="4" height="9.5" fill="#000" opacity="0.18"/>
<text x="1268.3" y="1389" font-size="23">PPP2R2A</text>
<line x1="1262.5" y1="1397.2" x2="1781.8" y2="1397.2" stroke="#000" stroke-width="4.8" stroke-linecap="round"/>
</svg>
</body></html>
